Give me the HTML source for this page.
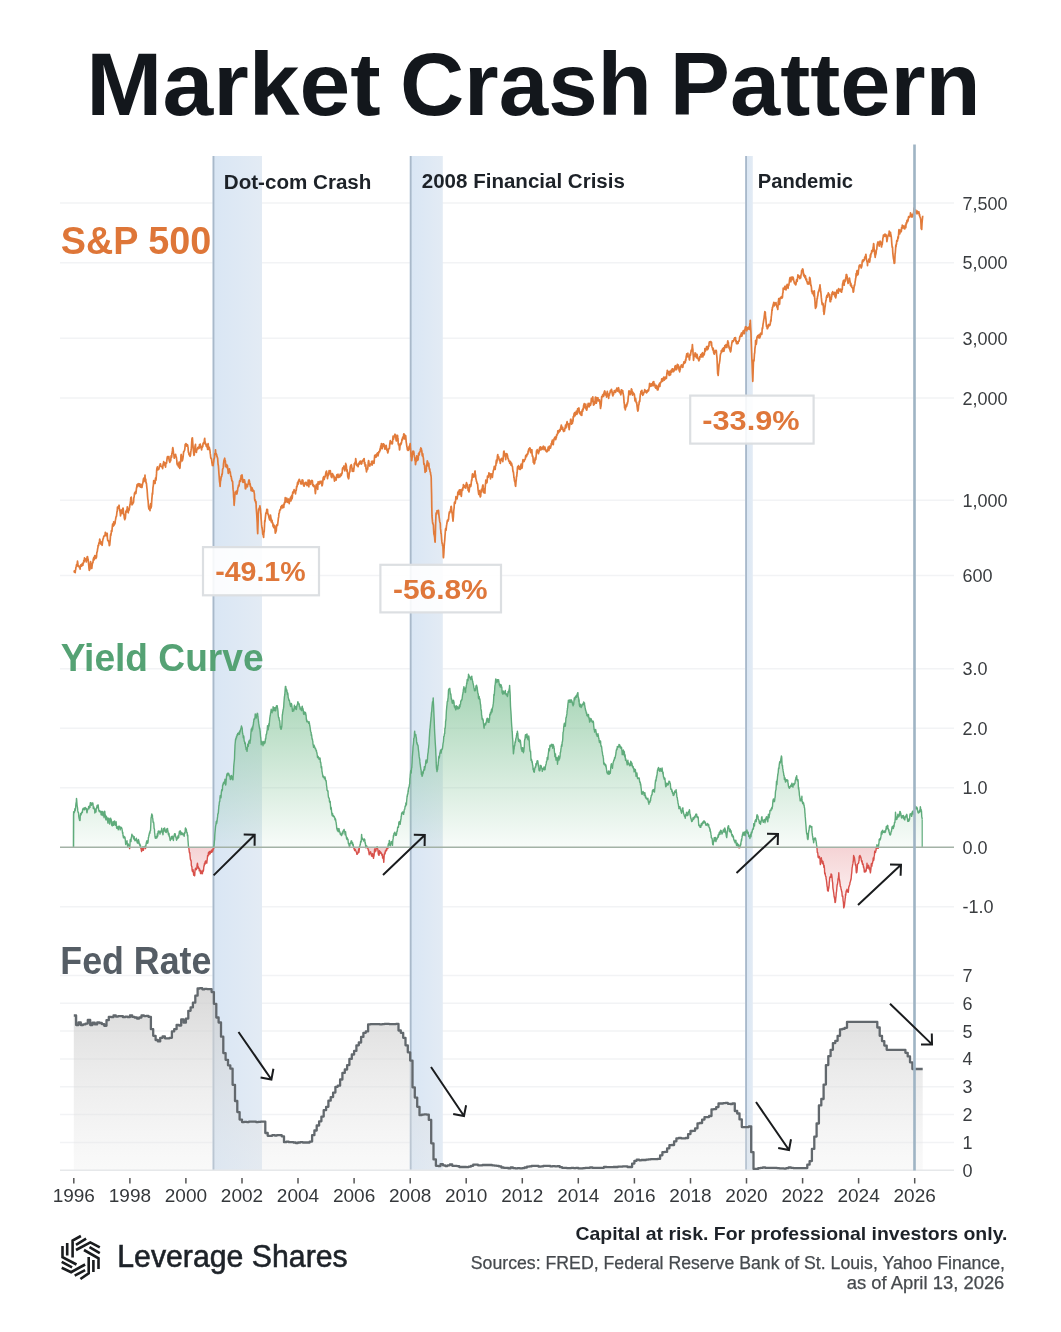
<!DOCTYPE html>
<html><head><meta charset="utf-8"><title>Market Crash Pattern</title>
<style>
html,body{margin:0;padding:0;background:#fff;width:1061px;height:1332px;overflow:hidden}
svg{display:block;will-change:transform}
text{font-family:"Liberation Sans",sans-serif}
</style></head><body>
<svg width="1061" height="1332" viewBox="0 0 1061 1332">
<rect width="1061" height="1332" fill="#fff"/>
<line x1="60" x2="954" y1="203.0" y2="203.0" stroke="#f2f3f5" stroke-width="1.5"/>
<line x1="60" x2="954" y1="262.8" y2="262.8" stroke="#f2f3f5" stroke-width="1.5"/>
<line x1="60" x2="954" y1="338.2" y2="338.2" stroke="#f2f3f5" stroke-width="1.5"/>
<line x1="60" x2="954" y1="398.0" y2="398.0" stroke="#f2f3f5" stroke-width="1.5"/>
<line x1="60" x2="954" y1="500.2" y2="500.2" stroke="#f2f3f5" stroke-width="1.5"/>
<line x1="60" x2="954" y1="575.5" y2="575.5" stroke="#f2f3f5" stroke-width="1.5"/>
<line x1="60" x2="954" y1="668.7" y2="668.7" stroke="#f2f3f5" stroke-width="1.5"/>
<line x1="60" x2="954" y1="728.2" y2="728.2" stroke="#f2f3f5" stroke-width="1.5"/>
<line x1="60" x2="954" y1="787.7" y2="787.7" stroke="#f2f3f5" stroke-width="1.5"/>
<line x1="60" x2="954" y1="906.7" y2="906.7" stroke="#f2f3f5" stroke-width="1.5"/>
<line x1="60" x2="954" y1="1142.5" y2="1142.5" stroke="#f2f3f5" stroke-width="1.5"/>
<line x1="60" x2="954" y1="1114.6" y2="1114.6" stroke="#f2f3f5" stroke-width="1.5"/>
<line x1="60" x2="954" y1="1086.8" y2="1086.8" stroke="#f2f3f5" stroke-width="1.5"/>
<line x1="60" x2="954" y1="1058.9" y2="1058.9" stroke="#f2f3f5" stroke-width="1.5"/>
<line x1="60" x2="954" y1="1031.1" y2="1031.1" stroke="#f2f3f5" stroke-width="1.5"/>
<line x1="60" x2="954" y1="1003.3" y2="1003.3" stroke="#f2f3f5" stroke-width="1.5"/>
<line x1="60" x2="954" y1="975.4" y2="975.4" stroke="#f2f3f5" stroke-width="1.5"/>
<defs><linearGradient id="bg" x1="0" y1="0" x2="1" y2="0"><stop offset="0" stop-color="#d9e6f4"/><stop offset="1" stop-color="#e3ebf4"/></linearGradient></defs>
<rect x="212.6" y="156" width="49.4" height="1014" fill="url(#bg)"/>
<rect x="212.6" y="156" width="1.8" height="1014" fill="#a9b9ca"/>
<rect x="409.8" y="156" width="33.0" height="1014" fill="url(#bg)"/>
<rect x="409.8" y="156" width="1.8" height="1014" fill="#a9b9ca"/>
<rect x="745.2" y="156" width="7.6" height="1014" fill="url(#bg)"/>
<rect x="745.2" y="156" width="1.8" height="1014" fill="#a9b9ca"/>
<path d="M73.8 571.9 L74 572 L74.3 570.9 L74.5 571 L74.7 571.3 L75 572.5 L75.2 572.6 L75.4 570.5 L75.7 569.6 L75.9 567.6 L76.1 567 L76.4 565.6 L76.6 564.5 L76.8 566.5 L77.1 564.3 L77.3 562.8 L77.5 561.2 L77.8 563.2 L78 565.3 L78.2 566 L78.5 566 L78.7 566 L78.9 566.6 L79.2 566.2 L79.4 567.7 L79.6 567.7 L79.9 567.5 L80.1 569.1 L80.3 566.8 L80.6 566.3 L80.8 564.9 L81 565.4 L81.3 566.1 L81.5 566.2 L81.7 565.9 L82 564.4 L82.2 563.6 L82.4 563.8 L82.7 564.9 L82.9 565.3 L83.1 562.8 L83.4 563.2 L83.6 561.9 L83.8 560.3 L84.1 561.8 L84.3 560.9 L84.5 557.8 L84.8 560.2 L85 559.8 L85.2 559.1 L85.5 559.5 L85.7 559 L85.9 559.4 L86.2 562 L86.4 561 L86.6 560.2 L86.9 558.9 L87.1 556.9 L87.3 556.6 L87.6 556.7 L87.8 559 L88.1 559.1 L88.3 561.1 L88.5 562.8 L88.8 565.9 L89 568.5 L89.3 570.4 L89.5 569.3 L89.7 569.7 L89.9 569.3 L90.2 566 L90.4 563.1 L90.6 561.7 L90.9 564.2 L91.1 567.7 L91.3 566.6 L91.6 567.3 L91.8 568.5 L92 566.4 L92.3 564.1 L92.5 563.3 L92.7 563 L93 562.3 L93.2 559.8 L93.4 558.9 L93.7 558.1 L93.9 557.3 L94.1 559.9 L94.4 557.9 L94.6 556.4 L94.8 555.6 L95.1 558.1 L95.3 558.4 L95.5 556.3 L95.8 558.5 L96 558.1 L96.2 555.7 L96.5 557.2 L96.7 553.8 L96.9 552.2 L97.2 551.8 L97.4 550.6 L97.6 548.8 L97.9 548 L98.1 545.4 L98.3 545.8 L98.6 545.8 L98.8 543.4 L99 542.7 L99.3 543.5 L99.5 541.3 L99.7 539.1 L100 540 L100.2 542.5 L100.4 543 L100.7 543.4 L100.9 544.1 L101.1 542.1 L101.4 544 L101.6 542.1 L101.8 544.4 L102.1 545.3 L102.3 543.9 L102.5 541.8 L102.8 540 L103 539.1 L103.2 538.5 L103.5 537.9 L103.7 536.6 L103.9 536.5 L104.2 535.7 L104.4 535.4 L104.6 536 L104.9 535.4 L105.1 535.1 L105.3 532.4 L105.6 532.5 L105.8 533.8 L106 535 L106.3 535.7 L106.5 534.8 L106.7 535.9 L107 535.8 L107.2 533.3 L107.4 538 L107.7 540.4 L107.9 540.5 L108.1 540.4 L108.4 540.6 L108.6 541.8 L108.8 541.3 L109 542.8 L109.3 545.7 L109.5 543.8 L109.7 545.2 L109.9 542.9 L110.2 539.9 L110.4 537.1 L110.7 534.1 L110.9 535.3 L111.2 532.9 L111.4 530.7 L111.6 531.9 L111.9 531.4 L112.1 529.2 L112.3 527.2 L112.6 524.2 L112.8 526.3 L113 526.2 L113.3 526.2 L113.5 524.5 L113.7 521.9 L114 525.4 L114.2 522.8 L114.4 524.3 L114.7 522.3 L114.9 523.9 L115.1 522.8 L115.4 520 L115.6 519.4 L115.8 518.2 L116.1 516.7 L116.3 516.2 L116.5 516.1 L116.8 513.4 L117 511.5 L117.2 511.7 L117.5 507 L117.7 508.7 L117.9 506.9 L118.2 507.1 L118.4 507.1 L118.6 506.2 L118.9 506 L119.1 505.2 L119.3 507.9 L119.6 510.5 L119.8 509.7 L120 511.5 L120.3 513.3 L120.5 515.9 L120.8 513.8 L121 512.5 L121.2 510.1 L121.5 511.6 L121.7 511.5 L121.9 513.3 L122.2 512 L122.4 509.4 L122.6 510.8 L122.9 508.2 L123.1 508.1 L123.3 509.9 L123.6 514.6 L123.8 513.9 L124.1 515.5 L124.3 518 L124.6 518.9 L124.8 519.7 L125 517.1 L125.3 518.5 L125.5 516.4 L125.7 513.7 L125.9 511.1 L126.2 511.2 L126.4 512.1 L126.6 510.2 L126.8 509.8 L127.1 509.4 L127.3 506.8 L127.5 507 L127.8 510.2 L128 510.3 L128.2 512.8 L128.5 510.9 L128.7 509.9 L128.9 510.4 L129.2 509.9 L129.4 508 L129.6 507.4 L129.9 504.7 L130.1 504.7 L130.3 502.9 L130.6 500.4 L130.8 497.7 L131 498.8 L131.3 497.2 L131.5 500.2 L131.7 501.9 L132 505 L132.2 503.2 L132.4 504.4 L132.7 503.7 L132.9 503.3 L133.1 502.5 L133.4 502.7 L133.6 501.6 L133.8 498 L134.1 497.1 L134.3 495.5 L134.5 493.1 L134.8 492.6 L135 493.9 L135.2 493.9 L135.5 491.4 L135.7 493.2 L135.9 493.4 L136.2 490.9 L136.4 488.8 L136.6 488 L136.9 485.9 L137.1 484.5 L137.3 485.2 L137.6 486.6 L137.8 486.5 L138 483.9 L138.3 483.7 L138.5 484 L138.7 484.1 L139 485.5 L139.2 484.5 L139.4 485.4 L139.7 483.8 L139.9 486.6 L140.1 485 L140.4 485 L140.6 487.2 L140.8 485 L141.1 484.4 L141.3 487 L141.5 487.4 L141.8 486.7 L142 487.4 L142.2 486 L142.5 484.6 L142.7 483.4 L142.9 482.8 L143.2 480.5 L143.4 479.3 L143.6 478.4 L143.9 481.6 L144.1 480 L144.3 477.6 L144.5 477.9 L144.8 478.4 L145 475 L145.2 479.8 L145.5 481 L145.7 479.1 L146 482.5 L146.2 483.4 L146.4 483.1 L146.7 486.2 L146.9 488.1 L147.1 489.5 L147.4 493.8 L147.6 496.8 L147.8 499.1 L148.1 500.6 L148.3 503.5 L148.5 506.7 L148.8 508.4 L149 509.1 L149.3 507.7 L149.5 507.7 L149.8 509.1 L150 510.6 L150.2 506.4 L150.5 504.6 L150.7 503.7 L151 508 L151.2 507.1 L151.4 506.4 L151.7 501.4 L151.9 498.4 L152.1 496.3 L152.3 493.2 L152.6 494.1 L152.8 490.2 L153 487.4 L153.2 486.3 L153.5 483.8 L153.7 480.6 L153.9 482.5 L154.2 483.3 L154.4 482.5 L154.6 481.9 L154.9 482.3 L155.1 483.5 L155.3 479.8 L155.6 477.8 L155.8 478.8 L156 480.1 L156.3 476.4 L156.5 473.9 L156.7 470 L157 467.8 L157.2 468.3 L157.4 466.9 L157.7 469.5 L157.9 469.8 L158.1 469.6 L158.4 468.4 L158.6 469.3 L158.8 469.2 L159.1 468.1 L159.3 467.2 L159.5 465.8 L159.8 465.2 L160 465.4 L160.2 463.8 L160.5 463.8 L160.7 465.2 L160.9 466.3 L161.2 466.4 L161.4 466.6 L161.6 466.4 L161.9 466.5 L162.1 466.3 L162.3 466.6 L162.6 468.7 L162.8 467.3 L163 464.9 L163.3 463.5 L163.5 463.1 L163.7 461.7 L164 462.6 L164.2 465 L164.4 464.2 L164.7 465 L164.9 463.1 L165.1 463.6 L165.4 466.6 L165.6 467 L165.8 463.1 L166.1 462.5 L166.3 463.4 L166.5 463.4 L166.8 461.2 L167 459.1 L167.2 457.6 L167.5 456.5 L167.7 456.7 L167.9 458 L168.2 458.4 L168.4 457.1 L168.6 456.8 L168.9 456.5 L169.1 459.6 L169.3 461.1 L169.6 461.3 L169.8 462.3 L170 461.2 L170.3 460.8 L170.5 459.8 L170.7 460.8 L171 457.2 L171.2 455.7 L171.4 456.7 L171.7 457.1 L171.9 453.4 L172.1 453.2 L172.4 450.9 L172.6 448.5 L172.8 447.6 L173 448.7 L173.3 451.1 L173.5 453.2 L173.8 454.1 L174 455.6 L174.2 458.2 L174.5 456.8 L174.7 455.8 L174.9 455.4 L175.2 455.3 L175.4 455.6 L175.6 454.4 L175.9 456.1 L176.1 457 L176.3 456.9 L176.6 459.2 L176.8 460.2 L177 463.6 L177.3 464.9 L177.5 464.2 L177.7 463.5 L178 463.8 L178.2 464.3 L178.4 466.8 L178.7 464.1 L178.9 463.4 L179.1 462.2 L179.4 464.1 L179.6 464.9 L179.8 468.4 L180 467.6 L180.3 462.8 L180.5 462.6 L180.8 459.3 L181 455 L181.2 454.5 L181.5 457.1 L181.7 458.4 L181.9 459.1 L182.2 461 L182.4 460.5 L182.6 459.8 L182.9 458.3 L183.1 456.8 L183.4 454 L183.6 451.7 L183.8 452 L184.1 451 L184.3 450.8 L184.5 450.7 L184.8 449 L185 447.1 L185.2 444.4 L185.5 445.2 L185.7 445.3 L185.9 443.5 L186.2 443.9 L186.4 444.6 L186.6 444.8 L186.9 446.2 L187.1 445.2 L187.3 444.7 L187.6 445 L187.8 446.2 L188 446.7 L188.3 451.2 L188.5 452.6 L188.7 452.4 L189 454.6 L189.2 454.1 L189.4 453.7 L189.7 455.7 L189.9 456 L190.1 456.3 L190.4 455.4 L190.6 454.2 L190.8 451.8 L191 450.7 L191.3 448.4 L191.5 446 L191.7 442.3 L191.9 439.4 L192.1 438.1 L192.4 437.8 L192.6 440.4 L192.8 443.6 L193.1 447.3 L193.3 449.5 L193.6 452.3 L193.8 454.1 L194 455.3 L194.3 454.8 L194.5 450 L194.8 449.4 L195 446.5 L195.3 445.2 L195.5 444.4 L195.7 449.3 L196 451.6 L196.2 452.2 L196.4 452.3 L196.7 449.6 L196.9 450.1 L197.1 449.1 L197.4 448.9 L197.6 448.4 L197.8 447.5 L198.1 447.8 L198.3 447 L198.5 448.7 L198.8 446.8 L199 448.4 L199.2 448 L199.5 444.6 L199.7 444.9 L199.9 444.9 L200.2 444 L200.4 444.9 L200.6 447.2 L200.9 447.8 L201.1 447.9 L201.3 447.7 L201.6 449.9 L201.8 448.1 L202 446.4 L202.3 447.3 L202.5 446.4 L202.8 446.5 L203 443.7 L203.2 444.2 L203.5 442.6 L203.7 442.8 L204 443.4 L204.2 441.7 L204.5 439 L204.7 438.4 L204.9 441.3 L205.1 441.7 L205.4 443.5 L205.6 444.7 L205.8 444 L206 443.9 L206.3 446.5 L206.5 444.5 L206.7 446.3 L206.9 446.7 L207.2 447.4 L207.4 447.1 L207.6 449.5 L207.9 446.2 L208.1 443.6 L208.3 445.2 L208.6 447.2 L208.8 449.5 L209 447.2 L209.3 447.5 L209.5 448.5 L209.7 449.8 L210 450.8 L210.2 453.4 L210.4 454.2 L210.7 457.3 L210.9 458.2 L211.1 458.6 L211.4 458.6 L211.6 459.8 L211.9 462.5 L212.1 463.5 L212.4 465.5 L212.6 464.2 L212.9 464.2 L213.1 465.6 L213.3 463.8 L213.5 462.4 L213.7 461.3 L213.9 459.2 L214.2 458.7 L214.4 457.9 L214.6 456.9 L214.8 453.5 L215.1 454.6 L215.3 454.5 L215.5 449.9 L215.7 452.9 L216 453.8 L216.2 453.4 L216.4 454.3 L216.7 454.8 L216.9 456.3 L217.2 456.8 L217.4 457.9 L217.6 457.8 L217.9 462 L218.1 464.5 L218.4 465.7 L218.6 468.5 L218.9 473.3 L219.1 475.5 L219.4 479.7 L219.6 481.9 L219.9 483.9 L220.1 486.5 L220.3 483.2 L220.5 480.9 L220.7 480.7 L221 478.3 L221.2 476.7 L221.4 476.8 L221.7 476.1 L221.9 474.1 L222.1 474.7 L222.4 472.8 L222.6 469 L222.8 469 L223.1 468 L223.3 467.4 L223.5 463.9 L223.7 462.4 L224 460 L224.2 460.1 L224.4 459.2 L224.7 458.2 L224.9 460.1 L225.1 460.3 L225.4 461.3 L225.6 466.6 L225.9 465.5 L226.1 465.8 L226.3 465.1 L226.6 464.6 L226.8 467.2 L227 467.6 L227.3 465.3 L227.5 466.3 L227.7 468.1 L228 470.4 L228.2 473.1 L228.4 473.3 L228.7 471.3 L228.9 471.3 L229.1 471.7 L229.4 468.8 L229.6 470.4 L229.8 472.2 L230.1 472.1 L230.3 472 L230.5 474 L230.8 476.3 L231 476.3 L231.2 476.3 L231.5 478.8 L231.7 479.5 L231.9 480.8 L232.2 480.5 L232.4 481.1 L232.6 481.6 L232.9 486.7 L233.1 489.4 L233.4 491.6 L233.6 496.6 L233.9 499.6 L234.1 505.3 L234.3 503.2 L234.6 500 L234.8 495.6 L235 494.3 L235.2 493.4 L235.4 492.1 L235.7 493.5 L235.9 492.5 L236.1 492.6 L236.4 491 L236.6 491.9 L236.8 494.1 L237.1 493 L237.3 491.6 L237.5 491.2 L237.8 488.4 L238 487.5 L238.2 487.2 L238.5 485.1 L238.7 486.3 L238.9 486.1 L239.2 484.8 L239.4 482.1 L239.6 481 L239.9 480.5 L240.1 481.6 L240.4 481.1 L240.6 478.4 L240.8 479.5 L241.1 475.7 L241.3 476.7 L241.5 476.7 L241.8 476.4 L242 474.8 L242.3 476.8 L242.5 481.6 L242.7 482 L242.9 482 L243.2 482.4 L243.4 479.5 L243.6 480.6 L243.9 481.5 L244.1 481.4 L244.3 482.2 L244.5 479.8 L244.8 482 L245 482.9 L245.3 488.8 L245.5 487.8 L245.7 488.7 L246 487.4 L246.2 484.2 L246.4 484.5 L246.7 485.2 L246.9 485.5 L247.1 486.3 L247.4 486.8 L247.6 485.2 L247.8 484.6 L248.1 483.9 L248.3 483.7 L248.5 481.6 L248.8 480.3 L249 480 L249.2 480.1 L249.5 481.6 L249.7 484.7 L249.9 483.5 L250.2 484 L250.4 486.8 L250.6 486.2 L250.9 486.9 L251.1 490.6 L251.3 489.3 L251.6 489 L251.8 487.8 L252 487.8 L252.3 488.3 L252.5 491.1 L252.7 489.8 L253 490 L253.2 490.8 L253.4 490.5 L253.7 490.6 L253.9 490.8 L254.1 492.6 L254.4 493.9 L254.6 498.6 L254.8 500.5 L255.1 500.7 L255.3 499.8 L255.5 501.6 L255.8 503 L256 501.7 L256.2 507.4 L256.5 511.5 L256.7 514 L257 519.2 L257.2 522.4 L257.4 528.8 L257.7 533.7 L257.9 527.8 L258.1 521.6 L258.3 513.8 L258.6 509.1 L258.8 509.5 L259 509.6 L259.2 508.1 L259.5 509 L259.7 507.4 L259.9 505.8 L260.2 508 L260.4 508.9 L260.7 513.1 L260.9 514 L261.1 518.6 L261.4 521.9 L261.6 524.9 L261.9 527.6 L262.1 528.3 L262.4 530.3 L262.6 533 L262.8 534.3 L263.1 533.8 L263.3 535.9 L263.6 537.4 L263.8 533.7 L264 531.5 L264.2 531.8 L264.5 526 L264.7 520.7 L264.9 522.2 L265.1 520.5 L265.3 518.1 L265.6 515.4 L265.8 513.3 L266.1 512.7 L266.3 513.3 L266.5 512.1 L266.8 509.3 L267 510.1 L267.2 510.7 L267.5 509.6 L267.7 513 L267.9 513.7 L268.2 514.7 L268.4 514.2 L268.6 515.6 L268.9 517.2 L269.1 518.1 L269.3 518.5 L269.6 519.8 L269.8 520 L270 519.1 L270.2 517.5 L270.5 515 L270.7 516.6 L270.9 517.6 L271.2 522 L271.4 519.2 L271.6 520.7 L271.9 521.1 L272.1 520.6 L272.3 523.1 L272.6 522.7 L272.8 523 L273 526.2 L273.3 526.1 L273.5 524.4 L273.7 527.7 L274 526.7 L274.2 526.7 L274.4 526.2 L274.7 525.7 L274.9 527.1 L275.1 531 L275.3 533.1 L275.6 532.9 L275.8 530.8 L276.1 531.2 L276.3 530.5 L276.5 526.8 L276.8 525.2 L277 524.5 L277.3 525.3 L277.5 525.5 L277.7 524.1 L278 521.5 L278.2 519.8 L278.4 517.9 L278.7 516.9 L278.9 513.6 L279.1 513.2 L279.4 513 L279.6 510.8 L279.8 510 L280.1 509.8 L280.3 510 L280.5 509.7 L280.8 508 L281 506.7 L281.2 508 L281.5 506.6 L281.7 505.6 L281.9 507.5 L282.2 506.4 L282.4 507.1 L282.6 507.9 L282.9 506.8 L283.1 504.9 L283.3 506.3 L283.6 505.8 L283.8 507.5 L284 503.9 L284.3 504.5 L284.5 502.3 L284.7 503.1 L285 501.5 L285.2 497.7 L285.4 501.6 L285.7 502 L285.9 500.9 L286.1 500.8 L286.4 501.7 L286.6 498.2 L286.8 498.1 L287.1 500.8 L287.3 499.5 L287.5 502.3 L287.8 500.4 L288 501.4 L288.2 501.2 L288.5 499.2 L288.7 499 L288.9 501 L289.2 503.6 L289.4 501.4 L289.6 500 L289.9 501.1 L290.1 499.4 L290.3 498.4 L290.6 497.1 L290.8 500.5 L291 500.8 L291.3 498.9 L291.5 497.2 L291.7 495.3 L292 498.8 L292.2 498.1 L292.4 496.8 L292.7 492.2 L292.9 493.3 L293.1 493.4 L293.4 492.9 L293.6 491.2 L293.8 491.8 L294.1 489.7 L294.3 490.8 L294.5 490.2 L294.8 490.9 L295 490.5 L295.2 491.4 L295.5 493.8 L295.7 491.9 L295.9 490.4 L296.2 490.3 L296.4 489 L296.6 486.4 L296.9 487 L297.1 486.2 L297.3 484.4 L297.6 482.5 L297.8 482.1 L298 484.5 L298.3 482 L298.5 480.9 L298.7 480.3 L299 480.2 L299.2 479.3 L299.4 479.4 L299.7 480.5 L299.9 481.2 L300.1 481.6 L300.4 482 L300.6 483.6 L300.8 482.2 L301.1 484 L301.3 482.6 L301.5 483.9 L301.8 483 L302 480.5 L302.2 479.8 L302.5 480.6 L302.7 480.2 L302.9 480.3 L303.2 483.5 L303.4 484.8 L303.6 484.9 L303.9 486 L304.1 486.2 L304.3 485.3 L304.6 484.4 L304.8 483.3 L305 482.7 L305.3 482.7 L305.5 482.3 L305.7 482.4 L306 482.4 L306.2 482.3 L306.4 484.7 L306.7 484.8 L306.9 484.4 L307.1 485.6 L307.4 485.2 L307.6 484 L307.9 484 L308.1 480.2 L308.3 484.1 L308.6 484.1 L308.8 486.8 L309 484.8 L309.3 480.2 L309.5 483.9 L309.7 483.4 L310 482.1 L310.2 482.3 L310.4 481 L310.7 484.3 L310.9 482.5 L311.1 481.5 L311.4 481.1 L311.6 481.7 L311.8 480.3 L312.1 480.7 L312.3 480.6 L312.5 481.7 L312.8 485.5 L313 485.8 L313.2 485.7 L313.5 484.7 L313.7 486.4 L313.9 486.7 L314.2 485.9 L314.4 485.9 L314.6 486.8 L314.9 486.6 L315.1 491 L315.4 493.6 L315.6 491.6 L315.8 488.6 L316 486.5 L316.3 484.6 L316.5 485 L316.7 485.6 L317 484 L317.2 485.2 L317.4 488 L317.7 489.4 L317.9 485.1 L318.1 481.8 L318.4 482.7 L318.6 483.7 L318.8 483.1 L319.1 484.1 L319.3 481.9 L319.5 481.9 L319.8 483.5 L320 481.3 L320.2 482.1 L320.5 481.6 L320.7 481.5 L320.9 481.8 L321.2 481.2 L321.4 482.2 L321.6 483.5 L321.9 485.4 L322.1 485.8 L322.3 485.3 L322.6 483.7 L322.8 481.9 L323 479.3 L323.3 477.5 L323.5 477.1 L323.7 476.5 L324 479.6 L324.2 479.5 L324.4 478.4 L324.7 477.2 L324.9 477 L325.1 476.9 L325.4 475.1 L325.6 474.7 L325.8 473.1 L326.1 471.8 L326.3 472.3 L326.5 471.1 L326.8 472.9 L327 474.3 L327.2 476.4 L327.5 478.6 L327.7 476.9 L327.9 474.9 L328.2 475.7 L328.4 475.7 L328.6 473.8 L328.9 472.5 L329.1 470.6 L329.3 472.7 L329.6 473.8 L329.8 473.1 L330 470.9 L330.3 470.7 L330.5 472.2 L330.7 472.8 L331 474.6 L331.2 476.8 L331.4 475.1 L331.7 476.9 L331.9 477.6 L332.1 474.8 L332.4 473.6 L332.6 473.8 L332.8 475.6 L333.1 475.7 L333.3 475 L333.5 476 L333.8 475.9 L334 477.7 L334.2 478.8 L334.5 481.1 L334.7 479.9 L334.9 477.3 L335.2 479.1 L335.4 478.7 L335.6 478.4 L335.9 479.5 L336.1 480.1 L336.3 479 L336.6 475.9 L336.8 475 L337 474.6 L337.3 477.3 L337.5 474.3 L337.7 474.3 L338 474.2 L338.2 475.9 L338.4 475.9 L338.7 477.5 L338.9 477.3 L339.2 476.4 L339.4 476.2 L339.6 475.6 L339.9 476.9 L340.1 474.4 L340.3 474.2 L340.6 476 L340.8 475 L341 475 L341.3 475.4 L341.5 474.8 L341.7 473.1 L342 473.7 L342.2 472.7 L342.4 469.2 L342.7 467.9 L342.9 468 L343.1 467.6 L343.4 467.6 L343.6 467.5 L343.8 466.1 L344.1 466 L344.3 469.8 L344.5 469.6 L344.8 470.9 L345 468.9 L345.2 468.9 L345.5 467.7 L345.7 463.3 L345.9 464 L346.2 464.9 L346.4 466.3 L346.6 469.2 L346.9 471.3 L347.1 469.8 L347.3 471.1 L347.6 474.4 L347.8 477.1 L348 476.4 L348.3 478 L348.5 478.8 L348.7 478.6 L349 476.7 L349.2 473.8 L349.4 472.4 L349.7 472.1 L349.9 471.6 L350.1 468.6 L350.4 466.1 L350.6 466.5 L350.8 465.6 L351.1 465 L351.3 464.7 L351.5 465.4 L351.8 467.4 L352 468.5 L352.2 471.3 L352.5 469.6 L352.7 468.9 L352.9 471.2 L353.2 469.1 L353.4 468 L353.6 471.3 L353.9 468.6 L354.1 467.5 L354.3 463.6 L354.6 465.1 L354.8 463.7 L355 462.5 L355.3 461.7 L355.5 460.9 L355.7 458.7 L356 460.6 L356.2 462 L356.4 463.8 L356.7 464.7 L356.9 465.7 L357.1 465.1 L357.4 464.7 L357.6 464.7 L357.8 465.8 L358.1 466.6 L358.3 465 L358.5 463.8 L358.8 463.7 L359 464.5 L359.2 462.4 L359.5 463.7 L359.7 463 L359.9 461.4 L360.2 462.2 L360.4 461.2 L360.6 463.4 L360.9 462 L361.1 462.1 L361.3 464.2 L361.6 462.6 L361.8 463.6 L362 461.1 L362.3 461.7 L362.5 461.5 L362.7 460.6 L363 460.7 L363.2 459.8 L363.4 460.3 L363.7 459.1 L363.9 459 L364.2 458.6 L364.4 463.6 L364.6 462.2 L364.9 462.6 L365.1 466.1 L365.3 466.4 L365.6 466.2 L365.8 464.9 L366 469.2 L366.2 469.2 L366.5 471.9 L366.7 470.5 L366.9 470.1 L367.2 468.4 L367.4 468.3 L367.6 469.5 L367.9 467.1 L368.1 464.9 L368.3 462.1 L368.6 460.5 L368.8 461.1 L369 463.5 L369.3 464.2 L369.5 465 L369.8 466.1 L370 464.8 L370.2 464 L370.5 464.1 L370.7 463.9 L370.9 464.3 L371.2 464 L371.4 462.9 L371.6 461.4 L371.9 462.6 L372.1 465.1 L372.3 462.9 L372.6 462.8 L372.8 461 L373 462.9 L373.3 462.6 L373.5 461.8 L373.7 463.3 L374 463.3 L374.2 461.4 L374.4 458.8 L374.7 455.4 L374.9 456 L375.1 457.5 L375.4 456.7 L375.6 455.2 L375.8 454.9 L376.1 457.1 L376.3 455.9 L376.5 454.6 L376.8 453.8 L377 454.6 L377.2 454.1 L377.5 452.9 L377.7 453.4 L377.9 456 L378.2 455 L378.4 453.8 L378.6 453.4 L378.9 451.5 L379.1 452 L379.3 451.7 L379.6 451.8 L379.8 450.5 L380 448.8 L380.3 450.1 L380.5 447.7 L380.7 446.1 L381 445.7 L381.2 445.7 L381.4 443.7 L381.7 445 L381.9 446 L382.1 448.7 L382.4 447.8 L382.6 445.6 L382.8 444.7 L383.1 443.9 L383.3 444.2 L383.5 443.8 L383.8 446.1 L384 444.3 L384.2 444.9 L384.5 446.6 L384.7 447.8 L384.9 449.2 L385.2 447.8 L385.4 446 L385.6 448.2 L385.9 446.7 L386.1 445.3 L386.3 446.2 L386.6 448.6 L386.8 449.8 L387 450.6 L387.3 449.7 L387.5 450 L387.7 453 L388 451 L388.2 451.9 L388.4 448.8 L388.7 449.1 L388.9 448.6 L389.1 448.4 L389.4 448.5 L389.6 445.7 L389.8 443.6 L390.1 441.9 L390.3 440.7 L390.5 442.5 L390.8 442.7 L391 442.8 L391.2 443.7 L391.5 442.2 L391.7 441.9 L391.9 441.6 L392.2 441.9 L392.4 443.8 L392.6 441.4 L392.9 437.8 L393.1 436 L393.3 436.2 L393.6 439.1 L393.8 437.4 L394 436.4 L394.3 436.9 L394.5 436.4 L394.7 435 L395 434.2 L395.2 435.9 L395.4 435.2 L395.7 434.9 L395.9 438.4 L396.1 440.1 L396.4 440.9 L396.6 439.5 L396.8 437 L397.1 437.2 L397.3 438.9 L397.5 435.3 L397.8 437.7 L398 438.4 L398.2 443.6 L398.5 444.9 L398.7 444.5 L399 444.1 L399.3 447.4 L399.5 449.9 L399.7 449.4 L399.9 447 L400.2 444.5 L400.4 443.6 L400.6 445 L400.8 443 L401.1 444 L401.3 443.2 L401.5 443 L401.8 440.6 L402 439 L402.3 440 L402.5 439.6 L402.7 437 L403 438.1 L403.2 437.6 L403.5 435.9 L403.7 434.1 L403.9 433.8 L404.2 436.4 L404.4 438.9 L404.6 439 L404.8 438.8 L405 435.2 L405.3 437 L405.5 435.7 L405.7 435.7 L406 439.6 L406.2 442.2 L406.4 443.2 L406.7 445.3 L406.9 446.8 L407.1 447.3 L407.4 449.8 L407.6 448.9 L407.8 449.7 L408.1 450.4 L408.3 449.4 L408.5 450.1 L408.8 449.5 L409 446.7 L409.2 446.4 L409.5 446.5 L409.7 445.1 L409.9 445.5 L410.2 443.6 L410.4 448.2 L410.6 449.8 L410.9 453.2 L411.1 457 L411.4 456.7 L411.6 460.7 L411.8 460.4 L412.1 457.4 L412.3 453.1 L412.5 452.8 L412.7 452.1 L413 451.1 L413.2 452.6 L413.4 454.1 L413.7 451.4 L413.9 452.4 L414.1 454.4 L414.4 456.7 L414.6 457.3 L414.8 458 L415 460.8 L415.3 461 L415.5 464.6 L415.7 463.3 L416 460.5 L416.2 461.6 L416.4 459.4 L416.7 455.9 L416.9 457.6 L417.2 458.9 L417.4 459 L417.6 460.5 L417.9 458.2 L418.1 459.6 L418.3 457.2 L418.6 453.3 L418.8 454.4 L419 453.3 L419.3 454.9 L419.5 452.1 L419.7 452.3 L419.9 451.9 L420.2 450.9 L420.4 449.1 L420.6 448.8 L420.8 447.9 L421.1 448.8 L421.3 448.7 L421.6 450.6 L421.8 450.6 L422.1 454.4 L422.3 455.8 L422.5 453.4 L422.8 453.9 L423 456.6 L423.2 456.9 L423.5 459.1 L423.7 462.5 L423.9 464.3 L424.2 463.8 L424.4 464.6 L424.6 466.2 L424.8 469.2 L425.1 472.3 L425.3 471.6 L425.5 469.4 L425.8 469.1 L426 470.7 L426.3 471.1 L426.5 465.3 L426.8 465.2 L427 463.3 L427.3 460.9 L427.5 461.3 L427.7 461.9 L427.9 464.2 L428.2 466 L428.4 463.4 L428.6 464.7 L428.8 463.4 L429.1 467.3 L429.3 468.8 L429.5 469.5 L429.8 468.9 L430 471.8 L430.2 471.9 L430.5 472.4 L430.7 474.7 L430.9 475 L431.2 477.5 L431.4 487 L431.6 495.1 L431.8 507.6 L432 515.9 L432.2 518.4 L432.5 521.7 L432.7 523.3 L432.9 523 L433.1 524.5 L433.4 525 L433.6 529.5 L433.9 534.1 L434.1 534.2 L434.4 536.1 L434.6 537.1 L434.9 541 L435.1 542.2 L435.4 533.7 L435.6 524.5 L435.9 516.4 L436.1 513.1 L436.3 512.8 L436.6 513 L436.8 514 L437 510.8 L437.3 510.6 L437.5 510.9 L437.8 511.1 L438 510.5 L438.2 511.2 L438.5 510.3 L438.7 512.6 L438.9 514.8 L439.2 517.6 L439.4 518.8 L439.6 520.8 L439.8 521.9 L440.1 522.8 L440.3 523.6 L440.5 528.4 L440.8 530.7 L441 533.4 L441.2 533.5 L441.5 537.5 L441.7 540 L441.9 541.9 L442.2 543.9 L442.4 543.7 L442.6 545.8 L442.9 545.6 L443.1 550.9 L443.3 556.8 L443.5 557.7 L443.8 553.7 L444 549.6 L444.2 546.2 L444.5 542.1 L444.7 540.7 L445 535.9 L445.2 533.5 L445.4 530.2 L445.7 528.3 L445.9 529.8 L446.1 530.2 L446.4 526.7 L446.6 525.2 L446.8 524.2 L447.1 522.1 L447.3 521 L447.5 520.2 L447.8 520.7 L448 521.1 L448.2 519.3 L448.5 519.8 L448.7 517.4 L448.9 515.1 L449.2 512.9 L449.4 511.8 L449.6 512.3 L449.9 512.7 L450.1 511.2 L450.3 510.7 L450.6 509.1 L450.8 508.4 L451 506.5 L451.3 506.4 L451.5 507.9 L451.8 511.8 L452 512.6 L452.3 514.1 L452.5 516.6 L452.8 519.2 L453 521.2 L453.2 518.6 L453.4 517 L453.7 511.1 L453.9 509.5 L454.1 508.1 L454.3 504 L454.5 502.1 L454.8 501.9 L455 502.5 L455.2 503.5 L455.5 501.1 L455.7 499.5 L455.9 496.7 L456.2 497.3 L456.4 497.2 L456.6 498.7 L456.9 497.1 L457.1 498.9 L457.3 497.5 L457.6 495.3 L457.8 492.5 L458 493.5 L458.3 491.3 L458.5 492 L458.7 492.7 L459 494.4 L459.2 492 L459.4 489.9 L459.7 491.4 L459.9 493.2 L460.1 494.3 L460.4 490.8 L460.6 489.8 L460.8 491.2 L461.1 494.7 L461.3 496.3 L461.5 495 L461.8 490.5 L462 489.6 L462.2 489.3 L462.5 488.7 L462.7 490.3 L462.9 487.5 L463.2 487.8 L463.4 484.7 L463.7 486 L463.9 486.7 L464.1 486.1 L464.4 487.3 L464.6 485.9 L464.8 485.8 L465.1 487.6 L465.3 486.5 L465.5 485.1 L465.8 488.1 L466 485 L466.2 484.1 L466.5 482.6 L466.7 485.3 L466.9 486.1 L467.2 486.4 L467.4 484.3 L467.6 486.4 L467.9 487.5 L468.1 490.5 L468.3 490.5 L468.6 489.7 L468.8 491.6 L469 491.8 L469.3 490.1 L469.5 486.7 L469.7 484.9 L470 484.6 L470.2 485.7 L470.4 486.4 L470.7 486.6 L470.9 485.6 L471.1 484.8 L471.4 481.2 L471.6 479.9 L471.8 480.8 L472.1 477.4 L472.3 475 L472.5 473.9 L472.8 474.2 L473 476.4 L473.2 477.2 L473.5 475 L473.7 475.5 L473.9 476.9 L474.2 475.9 L474.4 474.7 L474.7 473 L474.9 471.2 L475.1 471 L475.3 474.4 L475.6 474.9 L475.8 478.2 L476 478.8 L476.3 480.2 L476.5 481.5 L476.7 481.6 L477 483.4 L477.2 483.2 L477.4 483.5 L477.7 485 L477.9 487.6 L478.1 489.9 L478.4 491.9 L478.6 493.3 L478.8 494.5 L479.1 490.7 L479.3 490.8 L479.5 490.6 L479.8 493.1 L480 495.4 L480.2 497 L480.5 495.6 L480.7 496.1 L480.9 492.4 L481.2 492.2 L481.4 489.4 L481.6 492 L481.9 490.9 L482.1 489.4 L482.3 488 L482.6 485.9 L482.8 485.3 L483 484.9 L483.3 487.9 L483.5 488.9 L483.7 492.6 L484 491.5 L484.2 490.9 L484.4 491.1 L484.7 492.3 L484.9 493.1 L485.1 488.8 L485.4 484.7 L485.6 483.5 L485.8 480.1 L486.1 481.4 L486.3 483.2 L486.5 482.7 L486.8 482.8 L487 482.4 L487.2 480.7 L487.5 476 L487.7 477.1 L487.9 477.2 L488.2 476.9 L488.4 477 L488.6 475.6 L488.9 472.9 L489.1 475 L489.3 474.9 L489.6 475.4 L489.8 473.6 L490 474.8 L490.3 476.4 L490.5 478.9 L490.7 476.7 L491 475.2 L491.2 473.8 L491.4 476.4 L491.7 475.7 L491.9 475.7 L492.1 476.9 L492.4 477.4 L492.6 475.3 L492.8 473.4 L493.1 472.4 L493.3 470.5 L493.5 470.5 L493.8 469.3 L494 468.3 L494.3 466.3 L494.5 466.8 L494.7 467.4 L495 468 L495.2 469.5 L495.4 466.2 L495.7 465.8 L495.9 465.4 L496.1 462.1 L496.4 460.2 L496.6 463.1 L496.8 462 L497.1 460.7 L497.3 457.7 L497.5 455.6 L497.8 454.5 L498 456.4 L498.2 457.9 L498.5 457.5 L498.7 456.8 L498.9 458.5 L499.2 459.4 L499.4 460.4 L499.6 460.6 L499.9 460.3 L500.1 461.1 L500.3 463.4 L500.6 461.7 L500.8 459.4 L501 459.9 L501.3 458.6 L501.5 458.6 L501.7 458.4 L501.9 458.4 L502.2 460.4 L502.4 460.2 L502.6 459.4 L502.8 461.6 L503.1 459.2 L503.3 456.6 L503.5 454.4 L503.7 451.7 L504 451.1 L504.2 452.1 L504.5 453.6 L504.7 455.5 L505 455.8 L505.2 456.4 L505.4 455.9 L505.7 459.7 L505.9 456.5 L506.2 453.5 L506.4 454.2 L506.6 453.8 L506.9 453.8 L507.1 454 L507.3 455.1 L507.6 456 L507.8 458 L508 458.4 L508.3 459.1 L508.5 459.1 L508.7 460.9 L509 461.3 L509.2 461.6 L509.4 461.1 L509.7 463.3 L509.9 463 L510.1 461.9 L510.4 461.4 L510.6 462.4 L510.8 464 L511.1 465.2 L511.3 464.8 L511.5 463.1 L511.8 464.2 L512 466 L512.2 466.2 L512.5 466.7 L512.7 469 L512.9 471 L513.2 472.1 L513.4 471.9 L513.7 474.8 L513.9 477.4 L514.1 477.5 L514.4 480.4 L514.6 481.2 L514.8 481.5 L515.1 482.7 L515.3 485.2 L515.6 486.3 L515.8 484.4 L516 481.5 L516.2 480.5 L516.5 476.4 L516.7 476.7 L516.9 474.6 L517.2 472.2 L517.4 468.3 L517.6 466.9 L517.8 466.7 L518.1 468.3 L518.3 467.8 L518.5 465.7 L518.8 467 L519 467 L519.2 469.2 L519.5 468.3 L519.7 467 L519.9 467.6 L520.2 469.5 L520.4 468.9 L520.6 467.1 L520.9 465.4 L521.1 464.1 L521.3 467.2 L521.6 468.3 L521.8 466.1 L522 468.1 L522.3 466.3 L522.5 463.1 L522.7 461.6 L523 459.5 L523.2 459.9 L523.4 461.6 L523.7 461.6 L523.9 461.6 L524.1 461.5 L524.4 460.1 L524.6 460.1 L524.8 459.8 L525.1 459.1 L525.3 459.1 L525.6 456.1 L525.8 455.4 L526 455.3 L526.3 455.6 L526.5 456.6 L526.7 454.4 L527 454.2 L527.2 454.9 L527.4 454.8 L527.7 454 L527.9 453.7 L528.1 451 L528.4 451.8 L528.6 450 L528.8 448.8 L529.1 449.7 L529.3 448.6 L529.5 448.7 L529.8 447.9 L530 448.7 L530.2 448.2 L530.5 450.9 L530.7 452.7 L530.9 451.4 L531.2 449.8 L531.4 449.8 L531.6 450.8 L531.9 449.9 L532.1 454.2 L532.4 456.4 L532.6 456.2 L532.8 456 L533.1 458.6 L533.3 462.5 L533.6 461 L533.8 461.7 L534.1 464 L534.3 462.8 L534.5 460.2 L534.7 463.2 L534.9 460.2 L535.2 457.9 L535.4 460.1 L535.6 457.7 L535.8 459.4 L536.1 456.4 L536.3 454.6 L536.5 450.8 L536.8 451.7 L537 451.6 L537.2 449.7 L537.5 450.6 L537.7 451.6 L537.9 452.1 L538.2 452.1 L538.4 453.7 L538.6 452.8 L538.9 451.9 L539.1 451.7 L539.3 448.9 L539.6 449.4 L539.8 447.3 L540 448.1 L540.3 446.8 L540.5 449.9 L540.7 449.6 L541 449.8 L541.2 449.1 L541.4 448.6 L541.7 447.6 L541.9 447.3 L542.1 449.3 L542.4 448.7 L542.6 448.1 L542.8 447.4 L543.1 447.6 L543.3 446.3 L543.5 446.2 L543.8 447.7 L544 449.6 L544.2 448.6 L544.5 448.1 L544.7 447.7 L544.9 447 L545.2 448.6 L545.4 450 L545.6 449.3 L545.9 450.7 L546.1 451.3 L546.3 451.2 L546.6 451 L546.8 451.9 L547 450.8 L547.3 451.5 L547.5 450.8 L547.7 449.5 L548 448.9 L548.2 447.1 L548.4 448.4 L548.7 450 L548.9 450.4 L549.1 449.1 L549.4 446.1 L549.6 447.5 L549.8 446.4 L550.1 447.2 L550.3 447.9 L550.5 448 L550.8 446.6 L551 445.9 L551.2 443.7 L551.5 445 L551.7 443.3 L551.9 441.5 L552.2 441.1 L552.4 440 L552.6 440.6 L552.9 442.6 L553.1 443.5 L553.3 444.7 L553.6 440.3 L553.8 441.3 L554 438.8 L554.3 438.7 L554.5 438.4 L554.7 437.4 L555 438.9 L555.2 437.5 L555.4 437 L555.7 439.6 L555.9 438.7 L556.1 437.9 L556.4 437.3 L556.6 434.8 L556.9 435.6 L557.1 434.9 L557.3 433.8 L557.6 434 L557.8 430.8 L558 432 L558.3 432.9 L558.5 430.8 L558.7 431.3 L559 430.3 L559.2 431.8 L559.4 430.4 L559.7 431.1 L559.9 429.4 L560.1 430.8 L560.4 429.1 L560.6 428.4 L560.8 427.2 L561.1 426.3 L561.3 425 L561.5 426.1 L561.8 429.2 L562 428 L562.2 428.8 L562.5 428.8 L562.7 427.4 L562.9 429.8 L563.2 430.3 L563.4 430.6 L563.6 431.5 L563.9 430.3 L564.1 429.7 L564.3 430.3 L564.6 430.9 L564.8 428.6 L565 428.7 L565.3 426.8 L565.5 425.1 L565.7 427.2 L566 427.9 L566.2 426.9 L566.4 425.4 L566.7 423.2 L566.9 422.6 L567.1 421.6 L567.4 422.9 L567.6 424 L567.8 423.5 L568.1 424.9 L568.3 423.9 L568.5 427.2 L568.8 426.9 L569 427.9 L569.2 429.7 L569.5 426.7 L569.7 424.8 L569.9 423.4 L570.2 423.8 L570.4 423.1 L570.6 419.3 L570.9 419.2 L571.1 423.5 L571.3 423.5 L571.6 424.2 L571.8 423.2 L572 422.6 L572.3 422.9 L572.5 423 L572.7 420.1 L573 421.2 L573.2 416.9 L573.4 416.5 L573.7 417.1 L573.9 415.1 L574.1 413.5 L574.4 414.6 L574.6 412.7 L574.8 415 L575.1 415.8 L575.3 413.3 L575.5 413.1 L575.8 414.5 L576 413 L576.2 411.3 L576.5 411.2 L576.7 414 L576.9 414.3 L577.2 413.5 L577.4 412.1 L577.6 408.9 L577.9 409.1 L578.1 409.7 L578.3 409.6 L578.6 408 L578.8 409.9 L579 408.1 L579.3 412.9 L579.5 411.9 L579.7 413.4 L580 412.9 L580.2 412.2 L580.4 414.4 L580.7 414.9 L580.9 413.7 L581.1 411.9 L581.4 412.5 L581.6 413.3 L581.8 415.5 L582.1 410.6 L582.3 410 L582.5 409.5 L582.8 411.1 L583 408.7 L583.2 409.4 L583.5 406.8 L583.7 405.2 L583.9 405 L584.2 403.6 L584.4 405.1 L584.6 405.4 L584.9 406.1 L585.1 408 L585.3 407.7 L585.6 407.2 L585.8 404.2 L586 409 L586.3 409.3 L586.5 410.1 L586.7 410.2 L587 408.8 L587.2 407.5 L587.4 406.7 L587.7 406.8 L587.9 405 L588.2 403.4 L588.4 405.3 L588.6 404.7 L588.9 405.9 L589.1 406.8 L589.3 405.6 L589.6 404.5 L589.8 403.3 L590 403.7 L590.3 403.9 L590.5 405.3 L590.7 404.6 L591 403.4 L591.2 400.4 L591.4 398.3 L591.7 399.5 L591.9 400.1 L592.1 401.5 L592.4 400.9 L592.6 397.9 L592.8 396.9 L593.1 400.7 L593.3 402.9 L593.5 405.1 L593.8 404.5 L594 404.7 L594.2 404.3 L594.5 401.6 L594.7 403.1 L594.9 403.3 L595.2 398.9 L595.4 397.1 L595.6 397.1 L595.9 399.2 L596.1 400.5 L596.3 403.2 L596.6 401.9 L596.8 400.6 L597 397.7 L597.3 398.1 L597.5 399.4 L597.7 400.7 L598 397.8 L598.2 400.8 L598.4 400.7 L598.7 400.8 L598.9 399.9 L599.1 400.7 L599.4 400 L599.6 400.1 L599.8 401.7 L600 403.9 L600.3 405.6 L600.5 408.5 L600.7 407.2 L601 406.1 L601.2 404.2 L601.5 400.4 L601.7 396.6 L601.9 397.4 L602.2 396.4 L602.4 396 L602.6 394.8 L602.9 394.8 L603.1 394.4 L603.3 395.2 L603.6 396.5 L603.8 395.1 L604 393 L604.3 392 L604.5 391.3 L604.7 390.9 L605 391.6 L605.2 394.6 L605.4 393.5 L605.7 393.2 L605.9 394.1 L606.1 395.7 L606.4 393.7 L606.6 397.2 L606.8 395 L607.1 394.5 L607.3 391.3 L607.5 393.1 L607.8 393.7 L608 395.2 L608.2 395.5 L608.5 396.5 L608.7 398.3 L608.9 395.5 L609.2 395.6 L609.4 395.3 L609.6 393.3 L609.9 393.1 L610.1 392.7 L610.3 391 L610.6 390.5 L610.8 391.4 L611 390.4 L611.3 391.5 L611.5 389.4 L611.7 391.9 L612 391.1 L612.2 393 L612.4 394.3 L612.7 395.6 L612.9 395.8 L613.1 395.2 L613.4 393 L613.6 394.5 L613.8 392.7 L614.1 391.5 L614.3 390.6 L614.5 392.2 L614.8 391.2 L615 391.7 L615.2 391.6 L615.5 392.4 L615.7 391.7 L615.9 390.7 L616.2 389.5 L616.4 390.6 L616.6 389.7 L616.8 388 L617.1 390.3 L617.3 388.6 L617.6 391.2 L617.8 390.8 L618 390.3 L618.3 388 L618.5 387.7 L618.7 388.5 L619 390 L619.2 392.1 L619.5 391 L619.7 391.5 L619.9 392.8 L620.2 392 L620.4 393.4 L620.6 394.1 L620.9 394.8 L621.1 392.1 L621.3 389.8 L621.6 390 L621.8 392.6 L622 392.1 L622.3 392 L622.5 391.4 L622.7 390.5 L623 393.3 L623.2 394 L623.4 394.9 L623.7 396.9 L623.9 399.8 L624.1 402.8 L624.4 404 L624.6 408 L624.8 407.6 L625.1 408.2 L625.3 409.8 L625.5 408.2 L625.8 407.6 L626 406.8 L626.2 404.8 L626.5 406.5 L626.7 406 L626.9 404.9 L627.2 402.9 L627.4 404 L627.6 402.4 L627.9 401.6 L628.1 398.9 L628.3 396.6 L628.6 395.2 L628.8 391.3 L629 390.8 L629.3 391.1 L629.5 391.2 L629.7 392.2 L630 391.9 L630.2 394.6 L630.4 394.4 L630.7 393.3 L630.9 391.4 L631.1 391.6 L631.4 388.9 L631.6 389.6 L631.8 389.5 L632.1 392.2 L632.3 393.6 L632.5 395.2 L632.8 393 L633 392.4 L633.2 394.4 L633.5 393.8 L633.7 393.2 L633.9 393.8 L634.2 394 L634.4 394.7 L634.6 396.4 L634.9 400.1 L635.1 401 L635.3 399.8 L635.6 398.4 L635.8 399.6 L636 401.6 L636.3 402.8 L636.5 402.2 L636.7 402.5 L637 405.6 L637.2 407.2 L637.5 409.8 L637.8 411.1 L638 409.8 L638.2 410.2 L638.4 408.2 L638.6 405 L638.9 404.8 L639.1 403.1 L639.3 401.1 L639.5 401.1 L639.8 401.5 L640 397.7 L640.2 395.8 L640.5 393.6 L640.7 394.5 L640.9 391.3 L641.2 393.4 L641.4 393.6 L641.6 392.4 L641.9 390.3 L642.1 391.7 L642.3 392.7 L642.6 392.4 L642.8 395.4 L643 394.4 L643.3 393.4 L643.5 394.1 L643.7 393.2 L644 392.3 L644.2 392.1 L644.4 391.6 L644.7 389.5 L644.9 390.6 L645.1 390.7 L645.4 391.8 L645.6 390.5 L645.8 391.4 L646.1 391 L646.3 391.8 L646.5 392.8 L646.8 391.2 L647 392.4 L647.2 391.2 L647.5 391 L647.7 390 L647.9 391.3 L648.2 390.9 L648.4 390.8 L648.6 390.6 L648.9 388.9 L649.1 387.9 L649.3 386.8 L649.6 383.5 L649.8 383.4 L650.1 384.9 L650.3 386.4 L650.5 385.9 L650.8 385.7 L651 386.2 L651.2 385.9 L651.5 383.8 L651.7 383.9 L651.9 383.8 L652.2 385.5 L652.4 385.2 L652.6 383.7 L652.9 382.2 L653.1 385.9 L653.3 384.8 L653.6 382.6 L653.8 381.6 L654 384.2 L654.3 385 L654.5 384.4 L654.7 384 L655 385.6 L655.2 387.3 L655.4 386.1 L655.7 388.2 L655.9 386 L656.1 386 L656.4 385.5 L656.6 387.7 L656.8 388.6 L657.1 387.6 L657.3 389.9 L657.5 386.7 L657.8 388.9 L658 389.9 L658.2 388.9 L658.5 387.2 L658.7 385 L658.9 384.7 L659.2 384 L659.4 383.4 L659.6 383.4 L659.9 386.4 L660.1 384 L660.3 383.1 L660.6 382.3 L660.8 382.8 L661 381.9 L661.3 381.4 L661.5 381.1 L661.7 378.8 L662 381 L662.2 380.1 L662.4 381.3 L662.7 381.2 L662.9 378.3 L663.1 379.4 L663.4 378.9 L663.6 379.3 L663.8 377.2 L664.1 378.1 L664.3 380.1 L664.5 378.7 L664.8 378.7 L665 379 L665.2 377.2 L665.5 378.4 L665.7 378.8 L665.9 378.4 L666.2 377.6 L666.4 378.3 L666.6 376.5 L666.9 372.8 L667.1 373.3 L667.3 370.3 L667.6 373.6 L667.8 371.3 L668 371.8 L668.3 371.5 L668.5 372 L668.7 372.9 L669 374.9 L669.2 375.4 L669.4 373.4 L669.7 371.4 L669.9 371.7 L670.1 372.3 L670.4 373.2 L670.6 374.8 L670.8 371.8 L671.1 370.5 L671.3 370.1 L671.5 370.7 L671.8 372.1 L672 370 L672.2 368.8 L672.5 370.3 L672.7 368.8 L672.9 370.5 L673.2 369.6 L673.4 371.1 L673.6 371.7 L673.9 371 L674.1 370.3 L674.3 368.9 L674.6 370.4 L674.8 368 L675 366.1 L675.3 366.3 L675.5 365.7 L675.7 367.1 L676 367.4 L676.2 369.6 L676.4 369.7 L676.7 369.3 L676.9 367.1 L677.1 365.6 L677.4 364.3 L677.6 364.8 L677.8 365.1 L678.1 365.5 L678.3 365.1 L678.5 368.1 L678.8 366.8 L679 369.5 L679.2 370.6 L679.5 370.8 L679.7 371.8 L679.9 369.5 L680.2 369.9 L680.4 367.7 L680.6 366.1 L680.9 367.1 L681.1 366.7 L681.4 364.8 L681.6 365.5 L681.8 365.5 L682.1 366.6 L682.3 366.6 L682.5 367.4 L682.8 367.4 L683 366 L683.2 364 L683.5 363.9 L683.7 363.4 L683.9 361.8 L684.2 362.1 L684.4 363.5 L684.6 361.5 L684.9 362.8 L685.1 361.1 L685.3 362.4 L685.6 359.3 L685.8 360.7 L686 358.8 L686.3 355.9 L686.5 356.8 L686.7 353.9 L687 354.6 L687.2 356.8 L687.4 355.1 L687.7 353.5 L687.9 353.2 L688.1 356.6 L688.4 356.3 L688.6 356.5 L688.8 356.8 L689.1 356.9 L689.3 359.4 L689.5 359.9 L689.8 356.8 L690 354.1 L690.2 354.3 L690.5 355.1 L690.7 353.9 L691 351.7 L691.2 350.1 L691.4 351.3 L691.7 350.5 L691.9 349.7 L692.2 347 L692.4 344.5 L692.6 347.6 L692.9 349.7 L693.1 354.2 L693.3 355.8 L693.5 360.3 L693.8 358.2 L694 355.3 L694.2 355.2 L694.5 354.8 L694.7 356.1 L694.9 354.3 L695.1 352.9 L695.4 353.7 L695.6 353.2 L695.8 356.7 L696.1 357 L696.3 357.1 L696.5 357.8 L696.8 356.8 L697 354.3 L697.2 355.2 L697.5 357 L697.7 358.3 L697.9 358.6 L698.2 358.2 L698.4 359.9 L698.6 358.8 L698.9 360.8 L699.1 360 L699.3 359.8 L699.6 359.5 L699.8 356.6 L700 356.8 L700.3 357 L700.5 356.1 L700.7 354.6 L701 356.6 L701.2 356 L701.4 357 L701.7 355.9 L701.9 353.6 L702.1 353.4 L702.4 353.3 L702.6 352.7 L702.8 357 L703.1 355.5 L703.3 354.3 L703.5 353.8 L703.8 354.1 L704 354.9 L704.2 354.9 L704.5 352.7 L704.7 351.7 L704.9 348.5 L705.2 351.4 L705.4 351 L705.6 349.4 L705.9 348.3 L706.1 349.8 L706.3 349.7 L706.6 346.6 L706.8 347.5 L707 348.4 L707.3 349.4 L707.5 349.6 L707.7 347.9 L708 346.3 L708.2 348.8 L708.4 345.8 L708.7 346.1 L708.9 346.3 L709.1 343.1 L709.4 341.9 L709.6 342.5 L709.9 342.2 L710.1 342.1 L710.4 342.4 L710.6 341.6 L710.9 341.5 L711.1 342.2 L711.3 345.5 L711.5 342.4 L711.7 345.3 L711.9 346.4 L712.2 347.6 L712.4 347.7 L712.7 349.5 L712.9 350.1 L713.1 348.1 L713.4 349.3 L713.6 352.3 L713.8 353 L714.1 353.9 L714.3 354 L714.5 353.3 L714.8 352.3 L715 352.4 L715.2 350.6 L715.5 350.5 L715.7 352.1 L715.9 350.3 L716.2 350.5 L716.4 351 L716.6 354.5 L716.8 356.1 L717 358.1 L717.3 364.8 L717.5 369.6 L717.7 373.8 L717.9 374.1 L718.2 375.5 L718.4 372.5 L718.7 369.2 L718.9 366.9 L719.1 364.3 L719.4 363.5 L719.6 362 L719.9 360.1 L720.1 357.8 L720.3 355.2 L720.6 353.9 L720.8 353.5 L721.1 352.7 L721.3 350.5 L721.5 351.5 L721.8 351.8 L722 350.9 L722.2 350.1 L722.5 348.9 L722.7 351.5 L722.9 350.4 L723.2 349.2 L723.4 347.9 L723.6 350.8 L723.9 351.2 L724.1 350.3 L724.3 349.5 L724.6 347.5 L724.8 345.7 L725 347.2 L725.3 346.1 L725.5 346.5 L725.7 347.4 L726 344.6 L726.2 345.2 L726.4 346.2 L726.7 346.4 L726.9 347.4 L727.1 345.4 L727.4 344.4 L727.6 341.9 L727.8 340.8 L728.1 342.8 L728.3 342.2 L728.5 344.2 L728.8 346 L729 347.3 L729.2 348.2 L729.5 347.4 L729.7 349.3 L729.9 349.8 L730.2 350.9 L730.4 351.5 L730.6 351.9 L730.9 350.8 L731.1 348.9 L731.3 347 L731.6 344.9 L731.8 343.5 L732 342.8 L732.3 340.8 L732.5 341 L732.7 341.7 L733 340.8 L733.2 341.6 L733.4 341 L733.7 340.7 L733.9 340.2 L734.1 338.8 L734.4 338.7 L734.6 337.9 L734.8 339.1 L735.1 338.2 L735.3 338.9 L735.5 337.5 L735.8 341.2 L736 341.7 L736.2 340.6 L736.5 343.7 L736.7 343.6 L736.9 342.7 L737.2 341.8 L737.4 343.7 L737.6 342.9 L737.9 342.3 L738.1 343.3 L738.3 341.7 L738.6 341.4 L738.8 340.9 L739 341.2 L739.3 339.9 L739.5 339.3 L739.7 337.2 L740 336.1 L740.2 336.7 L740.4 336.7 L740.7 334.9 L740.9 335.2 L741.1 334.2 L741.4 333.1 L741.6 333 L741.8 336.3 L742.1 335.4 L742.3 334.4 L742.5 333.5 L742.8 334 L743 331.4 L743.2 330.9 L743.5 331.2 L743.7 331.6 L744 330.4 L744.2 331.4 L744.4 333.6 L744.7 331 L744.9 329.6 L745.1 328.6 L745.4 327 L745.6 326.7 L745.8 330 L746.1 328.7 L746.3 327.4 L746.5 327.2 L746.8 330.8 L747 329.3 L747.2 327.6 L747.5 328.8 L747.7 329.1 L747.9 328.4 L748.2 329 L748.4 327.7 L748.6 328.1 L748.9 327.4 L749.1 326.7 L749.3 328.5 L749.6 329.5 L749.8 323.9 L750.1 322.9 L750.3 320.3 L750.5 324.6 L750.7 328.1 L751 333.4 L751.2 340.4 L751.4 345.7 L751.7 354.1 L751.9 359.7 L752.1 363.6 L752.4 372.4 L752.6 377.4 L752.8 381.4 L753.1 372.1 L753.3 366.3 L753.5 360.1 L753.8 361.2 L754 361 L754.2 358.3 L754.5 353.3 L754.7 353.2 L754.9 349.2 L755.2 346.7 L755.4 345.7 L755.6 340.4 L755.9 342.5 L756.1 343.5 L756.3 344.1 L756.6 341.6 L756.8 339.6 L757 336.9 L757.3 337.6 L757.5 336.9 L757.7 335.6 L758 335.7 L758.2 336 L758.4 336 L758.7 336.3 L758.9 338 L759.1 334.6 L759.4 335 L759.6 338 L759.8 337.3 L760.1 337 L760.3 336.5 L760.5 333.3 L760.8 333.2 L761 333.3 L761.2 334.2 L761.5 334 L761.7 334.4 L761.9 333.8 L762.2 328.6 L762.4 327.7 L762.6 328.7 L762.9 325.4 L763.1 323.8 L763.4 322.3 L763.6 321 L763.8 319.5 L764.1 318.2 L764.3 315.8 L764.6 314 L764.8 311.7 L765.1 312.3 L765.3 312.1 L765.5 316.5 L765.8 318.2 L766 320.2 L766.3 324.2 L766.5 326.5 L766.7 325.6 L767 326.9 L767.2 328.6 L767.5 328.7 L767.7 327.6 L767.9 327.6 L768.2 326.9 L768.4 325 L768.7 324.4 L768.9 326 L769.2 324.8 L769.4 324.9 L769.6 324.6 L769.9 325.4 L770.1 324.6 L770.3 323.6 L770.6 321.2 L770.8 319.9 L771 321.2 L771.3 316.4 L771.5 315.2 L771.7 313.4 L772 309.5 L772.2 310.4 L772.4 307.4 L772.7 307.7 L772.9 305.8 L773.1 305.7 L773.4 304.3 L773.6 303.2 L773.8 302.4 L774.1 304.4 L774.3 305.8 L774.5 305 L774.8 303.1 L775 304.4 L775.3 303.9 L775.5 304 L775.7 303.6 L776 302.5 L776.2 305.2 L776.4 305.1 L776.7 305.8 L776.9 306.7 L777.1 307.2 L777.4 307.7 L777.6 308.5 L777.8 309.5 L778.1 304.7 L778.3 301.2 L778.5 300.4 L778.8 298.5 L779 299.2 L779.2 302.9 L779.5 304.4 L779.7 302.8 L779.9 299.2 L780.2 298 L780.4 298.2 L780.6 297.3 L780.9 297.5 L781.1 298.4 L781.3 297.4 L781.6 296.7 L781.8 297 L782 297.4 L782.3 297.9 L782.5 296.6 L782.7 293.4 L783 292.7 L783.2 288.2 L783.4 289.8 L783.7 288.3 L783.9 289.2 L784.1 289.4 L784.4 289.2 L784.6 288.2 L784.8 286.4 L785.1 287.2 L785.3 289.1 L785.5 289.3 L785.8 288.8 L786 289.9 L786.2 288.4 L786.5 285.4 L786.7 287.3 L786.9 286.3 L787.2 284.4 L787.4 287 L787.6 286.4 L787.9 286.4 L788.1 288.3 L788.3 285.8 L788.6 285.1 L788.8 285.3 L789 283.9 L789.3 282.3 L789.5 280.4 L789.7 278.9 L790 277.6 L790.2 278.9 L790.4 278.9 L790.7 278.1 L790.9 281.8 L791.1 277.5 L791.4 277.1 L791.6 277.8 L791.8 279.7 L792.1 278.3 L792.3 277.3 L792.5 277.3 L792.8 277 L793 277.4 L793.2 277.6 L793.5 278.8 L793.7 280.9 L793.9 280.9 L794.2 282.2 L794.4 283.1 L794.6 283.5 L794.9 282.6 L795.1 282.7 L795.3 283.4 L795.6 284.8 L795.8 284.8 L796 284.1 L796.3 281.7 L796.5 280.1 L796.7 279.5 L797 280.3 L797.2 281.5 L797.4 279.7 L797.7 276.8 L797.9 274.9 L798.1 276.8 L798.4 276.7 L798.6 276 L798.8 277.1 L799.1 276.2 L799.3 276.2 L799.5 277.1 L799.8 278.7 L800 277.1 L800.2 276.2 L800.5 276.9 L800.7 277.9 L800.9 275.8 L801.2 274.2 L801.4 274 L801.6 270.8 L801.9 270.6 L802.1 271.7 L802.3 269.3 L802.6 268.9 L802.8 269.1 L803 269.7 L803.3 272 L803.5 274.6 L803.7 275.6 L804 274.1 L804.2 276.4 L804.4 275 L804.7 275.4 L804.9 277.8 L805.1 277 L805.4 275.8 L805.6 276.8 L805.9 279.8 L806.1 278.8 L806.3 280.2 L806.6 279.1 L806.8 281.8 L807 281.6 L807.3 282.5 L807.5 284 L807.7 283.6 L808 282.4 L808.2 282.5 L808.4 283.5 L808.7 282.3 L808.9 284.2 L809.1 282.5 L809.4 280.9 L809.6 277.4 L809.8 277.7 L810.1 278.8 L810.3 280.1 L810.5 281.8 L810.8 285.6 L811 285 L811.2 285.9 L811.5 288 L811.7 291.6 L811.9 290.9 L812.2 290.9 L812.4 293.7 L812.6 293.5 L812.9 291.3 L813.1 292.2 L813.3 292.4 L813.6 293.9 L813.8 295.8 L814 294.9 L814.3 290.9 L814.5 294.7 L814.7 298.7 L815 301.4 L815.2 305.8 L815.5 308.5 L815.7 306.1 L815.9 306.7 L816.1 307.2 L816.4 306.3 L816.6 303.9 L816.8 301.8 L817.1 298.3 L817.3 298.9 L817.5 296.5 L817.8 295.9 L818 294.1 L818.2 292.1 L818.5 292 L818.7 290.8 L818.9 291 L819.2 288.7 L819.4 288.2 L819.7 287.1 L820 284.9 L820.2 288 L820.4 288.2 L820.6 291.3 L820.8 292.1 L821 293.7 L821.3 297.4 L821.5 298.9 L821.7 301.3 L822 303.1 L822.2 304.6 L822.4 302.9 L822.7 304.7 L822.9 303.4 L823.1 303.8 L823.4 307 L823.6 311.8 L823.8 311 L824 314.4 L824.2 313.6 L824.4 312.2 L824.7 309.5 L824.9 307.7 L825.2 306 L825.4 303.4 L825.7 301.8 L825.9 300.5 L826.2 300 L826.4 297.1 L826.6 297 L826.9 295.4 L827.1 296.1 L827.3 296.2 L827.6 297.2 L827.8 296.5 L828 294.3 L828.3 292.8 L828.5 294.1 L828.7 293.7 L829 294.8 L829.2 294.8 L829.4 294.9 L829.7 294.6 L829.9 299.1 L830.1 301.7 L830.4 301 L830.6 301.7 L830.8 298.2 L831.1 298.6 L831.3 299.5 L831.5 297.1 L831.8 296.3 L832 293.3 L832.2 292.5 L832.5 292.8 L832.7 291.7 L832.9 292.9 L833.2 293.5 L833.4 294.3 L833.6 294.5 L833.9 293.2 L834.1 293.8 L834.3 293.2 L834.6 293.9 L834.8 292.4 L835 296.6 L835.3 296.8 L835.5 296.3 L835.7 297.8 L836 296 L836.2 295.4 L836.4 293.2 L836.7 291.4 L836.9 290.2 L837.2 290.2 L837.4 291.6 L837.6 291.8 L837.9 292.6 L838.1 292.3 L838.3 293.2 L838.6 288.5 L838.8 291.2 L839 289.4 L839.3 290.3 L839.5 290.8 L839.7 289.5 L840 289.6 L840.2 290.8 L840.4 289.5 L840.7 289.1 L840.9 291.6 L841.1 290.6 L841.4 291.6 L841.6 292.1 L841.8 290.6 L842.1 289.5 L842.3 289.2 L842.5 284.7 L842.8 282.9 L843 282.8 L843.2 281.3 L843.5 280.4 L843.7 282.7 L843.9 284.1 L844.2 285.2 L844.4 280.8 L844.6 280 L844.8 280.6 L845.1 281.7 L845.3 280.4 L845.5 280.5 L845.7 278 L846 277 L846.2 274.6 L846.4 275 L846.6 274.6 L846.9 275.5 L847.1 276 L847.4 279.1 L847.6 280.3 L847.8 282.1 L848.1 283.5 L848.3 281.9 L848.6 281.8 L848.8 280.2 L849.1 279.2 L849.3 278.1 L849.5 278.1 L849.8 280.6 L850 280.9 L850.2 283 L850.5 285.4 L850.7 285.1 L850.9 283.3 L851.2 286.3 L851.4 285.2 L851.6 285.5 L851.9 287.4 L852.1 287.6 L852.4 287.7 L852.6 287.7 L852.9 288.9 L853.1 291.6 L853.3 292.2 L853.6 291.5 L853.8 289.4 L854 287.6 L854.3 285 L854.5 285.8 L854.7 285 L854.9 283.7 L855.2 281.3 L855.4 280.3 L855.6 278.6 L855.9 277.6 L856.1 273.5 L856.3 276.1 L856.5 275.7 L856.8 271.4 L857 270.6 L857.2 273 L857.5 272.4 L857.7 274.2 L857.9 274.8 L858.2 274 L858.4 270.9 L858.6 269.8 L858.9 268.2 L859.1 266.2 L859.3 265.4 L859.6 266.2 L859.8 265.9 L860 264.9 L860.3 264.9 L860.5 265.5 L860.7 265.5 L861 267.4 L861.2 268 L861.4 267.2 L861.7 266.7 L861.9 265.7 L862.1 262.5 L862.4 261 L862.6 260.1 L862.8 260.9 L863.1 261.6 L863.3 260 L863.5 260.8 L863.8 259.5 L864 260.6 L864.2 259.8 L864.5 259.3 L864.7 257.2 L864.9 257.2 L865.2 257.2 L865.4 256.2 L865.6 255.5 L865.9 254.3 L866.1 256 L866.3 258.3 L866.6 260.2 L866.8 260.8 L867 261.8 L867.3 262.2 L867.5 265.7 L867.7 263.2 L868 261.7 L868.2 260.9 L868.5 261.8 L868.7 260.7 L868.9 259.1 L869.2 261.7 L869.4 260.7 L869.6 262.1 L869.9 260.4 L870.1 257.4 L870.3 254.8 L870.6 257.1 L870.8 254.9 L871 253.4 L871.3 253.8 L871.5 253 L871.7 250.5 L872 251 L872.2 250.9 L872.4 251.7 L872.7 249.8 L872.9 251.3 L873.1 247.3 L873.3 246.9 L873.6 243.6 L873.8 244.3 L874 247.4 L874.2 249.9 L874.5 250.1 L874.7 254.2 L874.9 254.9 L875.2 257.4 L875.4 254.9 L875.7 254.8 L875.9 253.5 L876.1 253.2 L876.4 249.8 L876.6 249.8 L876.8 249.2 L877.1 245.5 L877.3 244.8 L877.6 242.8 L877.8 243.1 L878 241.8 L878.3 244.5 L878.5 243.4 L878.7 243.5 L879 244.9 L879.2 246.2 L879.4 243.5 L879.7 241.9 L879.9 244.1 L880.1 241.1 L880.4 242.1 L880.6 242.5 L880.8 242 L881.1 243.6 L881.3 246 L881.5 247 L881.8 245 L882 243.4 L882.2 244.6 L882.5 241.6 L882.7 240.3 L882.9 238.3 L883.2 237.1 L883.4 235.2 L883.6 235.6 L883.9 235.8 L884.1 235.7 L884.3 235.1 L884.6 234.3 L884.8 236.3 L885 234 L885.3 235.1 L885.5 236.2 L885.7 235.2 L886 234.7 L886.2 235.3 L886.4 237.1 L886.7 238.8 L886.9 241.7 L887.1 240.4 L887.4 239.1 L887.6 236.6 L887.8 236.2 L888.1 236.1 L888.3 235.3 L888.5 234.2 L888.8 235.1 L889 234.9 L889.2 231.1 L889.5 233.4 L889.7 235.2 L890 236.3 L890.2 234.7 L890.5 232.4 L890.7 234.3 L890.9 234.7 L891.1 236.1 L891.3 237 L891.6 240.7 L891.8 243.6 L892.1 246.5 L892.3 247.6 L892.5 247 L892.8 252.6 L893 254.7 L893.3 257.5 L893.5 258.9 L893.8 260.1 L894 261.7 L894.2 263.3 L894.5 262.5 L894.7 262.9 L894.9 258 L895.1 253.8 L895.3 253 L895.6 248.7 L895.8 245.4 L896 246.9 L896.2 244.1 L896.5 244.2 L896.7 240.9 L896.9 240.5 L897.2 240.2 L897.4 241.2 L897.6 240.1 L897.9 237 L898.1 236.6 L898.3 238.1 L898.6 234.4 L898.8 231.1 L899 229.6 L899.3 230.1 L899.5 231.6 L899.8 233.8 L900 232.5 L900.2 230.1 L900.5 231.3 L900.7 231 L900.9 231.3 L901.2 231.7 L901.4 230.8 L901.6 227.5 L901.9 228.4 L902.1 227 L902.3 225.2 L902.6 225.6 L902.8 225.8 L903 227.8 L903.3 225.8 L903.5 226.3 L903.7 226.9 L904 226.5 L904.2 227.5 L904.4 228.8 L904.7 228.9 L904.9 226.2 L905.1 226.2 L905.4 225 L905.6 226 L905.8 227.7 L906.1 223.5 L906.3 222.7 L906.5 223.8 L906.8 222.6 L907 220.3 L907.2 221.6 L907.5 221.7 L907.7 219.9 L907.9 221 L908.2 219.5 L908.4 217.6 L908.6 216.6 L908.9 217 L909.1 216.7 L909.3 217.4 L909.6 217.3 L909.8 216.4 L910 216.6 L910.3 215.9 L910.5 212.8 L910.7 214.5 L911 214.8 L911.2 214.4 L911.4 214.3 L911.7 215.5 L911.9 217.2 L912.1 216.5 L912.4 216.4 L912.6 215.3 L912.8 216.2 L913.1 214.9 L913.3 213.3 L913.6 213.3 L913.8 212 L914 208.2 L914.3 210.9 L914.5 209.6 L914.7 211.1 L915 212.9 L915.2 212.5 L915.4 210.9 L915.7 210 L915.9 211.1 L916.1 212.6 L916.4 212.7 L916.6 211.9 L916.8 212.4 L917 214 L917.3 211 L917.5 212 L917.7 212 L918 212.6 L918.2 213.2 L918.4 212.9 L918.7 213.1 L918.9 211.9 L919.1 213.5 L919.4 215.5 L919.6 214.4 L919.8 216.5 L920.1 217.3 L920.3 217.5 L920.5 218.4 L920.8 220.1 L921 224.3 L921.2 228.6 L921.5 228.8 L921.7 229.5 L922 223.5 L922.2 221 L922.4 219.2 L922.7 215.7" fill="none" stroke="#e27b3a" stroke-width="1.7" stroke-linejoin="round"/>
<defs><linearGradient id="gg" gradientUnits="userSpaceOnUse" x1="0" y1="680" x2="0" y2="847"><stop offset="0" stop-color="#86c59b" stop-opacity="0.75"/><stop offset="1" stop-color="#86c59b" stop-opacity="0.06"/></linearGradient><linearGradient id="rg" gradientUnits="userSpaceOnUse" x1="0" y1="847" x2="0" y2="910"><stop offset="0" stop-color="#e58b8f" stop-opacity="0.38"/><stop offset="1" stop-color="#e58b8f" stop-opacity="0.08"/></linearGradient><linearGradient id="fg" gradientUnits="userSpaceOnUse" x1="0" y1="985" x2="0" y2="1170"><stop offset="0" stop-color="#cbcbcb" stop-opacity="0.75"/><stop offset="1" stop-color="#e8e8e8" stop-opacity="0.25"/></linearGradient></defs>
<path d="M73.5 847.2 L73.6 814.5 L73.8 813.3 L74 811.4 L74.1 811.4 L74.3 812.5 L74.5 812 L74.7 810.7 L74.9 808.6 L75 809.6 L75.2 810.6 L75.4 809.1 L75.6 807.8 L75.8 805.1 L76 803.2 L76.1 802.7 L76.3 802.4 L76.5 798.4 L76.7 800.1 L76.9 802.5 L77.1 805.3 L77.3 806.6 L77.5 807.7 L77.7 809.5 L77.8 810.9 L78 811.9 L78.2 812.4 L78.4 812.3 L78.6 813.3 L78.8 817 L79 817.5 L79.2 818.9 L79.4 818.8 L79.6 820.3 L79.8 819.9 L80 820.6 L80.1 819.9 L80.3 815.2 L80.5 814.9 L80.7 813.4 L80.9 814.8 L81.1 814.8 L81.3 813.5 L81.5 813.2 L81.7 812.4 L81.9 811.9 L82 812.8 L82.2 811.7 L82.4 812.4 L82.6 809.5 L82.8 809.8 L83 808.5 L83.2 809 L83.4 808.3 L83.6 809.6 L83.8 808.7 L83.9 809.4 L84.1 808.2 L84.3 807.9 L84.5 808.2 L84.7 809.8 L84.9 809.2 L85.1 809.1 L85.3 807.5 L85.4 808.5 L85.6 808.2 L85.8 808.1 L86 808.2 L86.2 808.4 L86.4 808.7 L86.6 810 L86.8 811.8 L86.9 812.8 L87.1 812.5 L87.3 811 L87.5 810.3 L87.7 809.4 L87.9 808.9 L88.1 808.4 L88.3 808.7 L88.5 808.2 L88.6 806.4 L88.8 807.3 L89 808.7 L89.2 806.6 L89.4 806.8 L89.6 806 L89.8 805.4 L90 807.4 L90.1 804.7 L90.3 802.8 L90.5 803.1 L90.7 802.6 L90.9 802.9 L91.1 804.6 L91.3 805.2 L91.5 805.3 L91.7 804.3 L91.8 803.9 L92 804.3 L92.2 803 L92.4 804.5 L92.6 804 L92.8 803 L93 803.9 L93.2 806.7 L93.3 808.4 L93.5 808.6 L93.7 808.4 L93.9 806.9 L94.1 808.7 L94.3 809.2 L94.5 808.8 L94.7 809.5 L94.8 813.1 L95 812.6 L95.2 810 L95.4 809.2 L95.6 810.9 L95.8 811.8 L96 811.9 L96.2 808.9 L96.4 808.5 L96.5 808.7 L96.7 807 L96.9 807.5 L97.1 805.4 L97.3 806.6 L97.5 807.6 L97.7 807 L97.9 805.5 L98 805 L98.2 804.9 L98.4 807.7 L98.6 808.9 L98.8 810.1 L99 811.1 L99.2 810.7 L99.4 811.5 L99.6 810.8 L99.7 811.1 L99.9 811.9 L100.1 812.1 L100.3 811.8 L100.5 811.1 L100.7 812.1 L100.9 812.7 L101.1 814.8 L101.2 813.1 L101.4 811.5 L101.6 812.1 L101.8 813.1 L102 815.1 L102.2 814.9 L102.4 814.6 L102.6 811.8 L102.7 811.5 L102.9 812.6 L103.1 815.8 L103.3 814 L103.5 813.8 L103.7 815.9 L103.9 815.7 L104.1 817.8 L104.2 813.3 L104.4 811.9 L104.6 811.2 L104.8 811.4 L105 814.2 L105.2 814.4 L105.4 816.5 L105.6 815.8 L105.7 818.6 L105.9 819.8 L106.1 818.2 L106.3 816.1 L106.5 817.7 L106.7 819.7 L106.9 818.6 L107.1 817.5 L107.2 818.8 L107.4 819.8 L107.6 820.7 L107.8 822.3 L108 823.2 L108.2 821.6 L108.4 820.8 L108.6 818.1 L108.7 818.2 L108.9 818.4 L109.1 819.8 L109.3 820 L109.5 821.7 L109.7 824.1 L109.9 823.2 L110.1 821.3 L110.2 820.3 L110.4 818.5 L110.6 818.2 L110.8 819.2 L111 819.1 L111.2 819.6 L111.4 821.1 L111.6 823.4 L111.8 825.4 L111.9 825.4 L112.1 825.2 L112.3 825.9 L112.5 824 L112.7 823.8 L112.9 823.1 L113.1 821.5 L113.3 822.6 L113.4 825.2 L113.6 824.3 L113.8 825.2 L114 823.5 L114.2 823.1 L114.4 821.8 L114.6 820.9 L114.8 823.6 L114.9 822.7 L115.1 823.6 L115.3 824.6 L115.5 825.2 L115.7 824.3 L115.9 823.1 L116.1 821.8 L116.3 824 L116.4 824.9 L116.6 828 L116.8 828.2 L117 827.4 L117.2 828.4 L117.4 828.1 L117.6 827.9 L117.8 826.6 L117.9 827.7 L118.1 828.8 L118.3 829.8 L118.5 827.6 L118.7 826.3 L118.9 826.5 L119.1 826.4 L119.2 826.3 L119.4 826.2 L119.6 826.6 L119.8 827.2 L120 828.9 L120.2 829.9 L120.4 827.9 L120.5 827.3 L120.7 827.3 L120.9 827.7 L121.1 827.8 L121.3 827.4 L121.5 828.4 L121.7 828.3 L121.8 828.1 L122 829.2 L122.2 830.3 L122.4 831.8 L122.6 833.3 L122.8 832.2 L123 835.5 L123.1 835.9 L123.3 836.9 L123.5 837.8 L123.7 837.8 L123.9 836.4 L124.1 836.5 L124.2 836.8 L124.4 837.7 L124.6 838 L124.8 836.9 L125 837.5 L125.2 839.2 L125.4 841 L125.5 842.5 L125.7 844.5 L125.9 843.2 L126.1 842.8 L126.3 843.2 L126.5 841.5 L126.7 842.4 L126.8 841.6 L127 840.7 L127.2 842.8 L127.4 845 L127.6 846.3 L127.8 845.2 L128 843.7 L128.1 845.4 L128.3 844.2 L128.5 844.8 L128.7 845.4 L128.9 845.5 L129.1 845.3 L129.3 847 L129.5 847.2 L129.6 847.2 L129.8 847.2 L130 844 L130.2 839.8 L130.4 839.6 L130.6 841.2 L130.8 841.1 L131 841.6 L131.2 838.4 L131.4 837 L131.6 837.3 L131.7 835.4 L131.9 834.1 L132.1 835.6 L132.3 835.6 L132.5 835.3 L132.7 835.6 L132.9 835.7 L133.1 836.4 L133.2 836.4 L133.4 837.5 L133.6 838.9 L133.8 837.2 L134 837 L134.2 836.7 L134.4 839.1 L134.5 839.6 L134.7 838.8 L134.9 840.7 L135.1 839.6 L135.3 840.4 L135.5 840.1 L135.7 840.6 L135.8 840.6 L136 839.3 L136.2 840.1 L136.4 838.3 L136.6 839.6 L136.8 841.1 L137 840.5 L137.1 842.1 L137.3 842.9 L137.5 842 L137.7 840.7 L137.9 843.3 L138.1 842.9 L138.2 840.7 L138.4 839.4 L138.6 840 L138.8 841.1 L139 841.7 L139.2 843.5 L139.4 844.1 L139.5 844.7 L139.7 845.1 L139.9 843.9 L140.1 844.4 L140.3 846.6 L140.5 845.5 L140.7 847.2 L140.8 847.2 L141 847.2 L141.2 847.2 L141.4 847.2 L141.6 847.2 L141.8 847.2 L142 847.2 L142.1 847.2 L142.3 847.2 L142.5 847.2 L142.7 847.2 L142.9 846.6 L143.1 847.2 L143.3 847.2 L143.5 847.2 L143.6 847.2 L143.8 847.2 L144 847 L144.2 847.2 L144.4 847.1 L144.6 847.2 L144.8 847 L145 846.1 L145.2 846.5 L145.3 847.2 L145.5 847.2 L145.7 847.1 L145.9 845.4 L146.1 844.1 L146.3 842.9 L146.5 841.8 L146.7 841.7 L146.9 840.8 L147 842.2 L147.2 842.4 L147.4 843.3 L147.6 842.3 L147.8 843 L148 842 L148.2 840.3 L148.4 837.3 L148.6 837.2 L148.7 837.3 L148.9 835 L149.1 835.3 L149.3 833.5 L149.5 833.1 L149.7 832 L149.9 833.2 L150.1 831.1 L150.3 830.6 L150.5 830.6 L150.7 826.7 L150.8 824.6 L151 818.8 L151.2 817.1 L151.4 816.4 L151.6 815.1 L151.8 813.9 L152 814.8 L152.2 815.1 L152.4 815.3 L152.5 817.4 L152.7 818.1 L152.9 819.7 L153.1 822.2 L153.3 822 L153.5 822 L153.7 822.8 L153.9 824.9 L154.1 828.4 L154.3 828.7 L154.5 829.7 L154.6 832.8 L154.8 833.7 L155 836.6 L155.2 837.6 L155.4 838.3 L155.6 837.5 L155.8 836.9 L156 836.4 L156.1 837.5 L156.3 837.7 L156.5 838.1 L156.7 838.1 L156.9 837.4 L157.1 836.3 L157.3 833.8 L157.4 836.9 L157.6 836.1 L157.8 836 L158 832.7 L158.2 831.2 L158.4 833 L158.6 832.2 L158.7 832.6 L158.9 831 L159.1 832 L159.3 831.8 L159.5 831.7 L159.7 831.5 L159.9 832 L160 834.1 L160.2 833.1 L160.4 831.5 L160.6 831.3 L160.8 832.3 L161 831.7 L161.2 830.7 L161.3 830.6 L161.5 830.3 L161.7 828.2 L161.9 829.3 L162.1 829.7 L162.3 831.9 L162.4 832.5 L162.6 833.2 L162.8 834.1 L163 834.7 L163.2 832 L163.4 832 L163.6 831.8 L163.7 828.6 L163.9 828.4 L164.1 830.4 L164.3 829.5 L164.5 830.4 L164.7 828 L164.9 829.3 L165 829.7 L165.2 831.5 L165.4 831.1 L165.6 832.1 L165.8 831.9 L166 832.1 L166.2 832.6 L166.3 831 L166.5 829.5 L166.7 829.1 L166.9 829.9 L167.1 831.5 L167.3 831.4 L167.5 828.4 L167.6 829.2 L167.8 830.4 L168 831.5 L168.2 833.1 L168.4 834.6 L168.6 835 L168.8 833.3 L169 833.5 L169.1 834.4 L169.3 836.6 L169.5 836.6 L169.7 836.8 L169.9 838.6 L170.1 840.2 L170.3 840.4 L170.4 839.3 L170.6 838.6 L170.8 838.5 L171 839.1 L171.2 838.9 L171.4 839.1 L171.6 836.4 L171.8 838.1 L171.9 838.8 L172.1 837.3 L172.3 837.8 L172.5 836.1 L172.7 836.4 L172.9 836.4 L173.1 837 L173.2 839 L173.4 840.5 L173.6 837.7 L173.8 837.1 L174 836.5 L174.2 835.4 L174.4 834.8 L174.6 833.7 L174.7 834.2 L174.9 834.7 L175.1 833.6 L175.3 834.2 L175.5 836.2 L175.7 836.6 L175.9 837.5 L176.1 836.9 L176.2 838 L176.4 839.6 L176.6 840.2 L176.8 838.4 L177 838.6 L177.2 838.6 L177.4 838.8 L177.5 838.5 L177.7 837.5 L177.9 835.9 L178.1 838.2 L178.3 836.6 L178.5 836.8 L178.7 837.4 L178.9 834.4 L179 834.8 L179.2 832.5 L179.4 831.4 L179.6 832.9 L179.8 832 L180 830.8 L180.2 830.7 L180.3 833.5 L180.5 833.7 L180.7 833.7 L180.9 834.8 L181.1 832.2 L181.3 832.3 L181.5 832.5 L181.6 832.6 L181.8 833.4 L182 834.2 L182.2 833.8 L182.4 833.1 L182.6 833.5 L182.8 833.4 L182.9 834.9 L183.1 834 L183.3 834.7 L183.5 834.1 L183.7 835.1 L183.9 835.5 L184 834.9 L184.2 836.3 L184.4 832.8 L184.6 832.6 L184.8 832.4 L185 833.1 L185.2 830.7 L185.3 828.7 L185.5 828 L185.7 829.5 L185.9 829.9 L186.1 828.9 L186.3 829.3 L186.5 830.6 L186.6 831.9 L186.8 832.6 L187 832.3 L187.2 832.9 L187.4 835.7 L187.6 834.8 L187.8 835.2 L187.9 839.3 L188.1 841.6 L188.3 844.3 L188.5 847.2 L188.7 847 L188.9 847.2 L189.1 847.2 L189.3 847.2 L189.5 847.2 L189.6 847.2 L189.8 847.2 L190 847.2 L190.2 847.2 L190.4 847.2 L190.6 847.2 L190.8 847.2 L191 847.2 L191.2 847.2 L191.3 847.2 L191.5 847.2 L191.7 847.2 L191.9 847.2 L192.1 847.2 L192.3 847.2 L192.5 847.2 L192.7 847.2 L192.9 847.2 L193.1 847.2 L193.2 847.2 L193.4 847.2 L193.6 847.2 L193.8 847.2 L194 847.2 L194.2 847.2 L194.4 847.2 L194.6 847.2 L194.8 847.2 L194.9 847.2 L195.1 847.2 L195.3 847.2 L195.5 847.2 L195.7 847.2 L195.9 847.2 L196.1 847.2 L196.3 847.2 L196.5 847.2 L196.6 847.2 L196.8 847.2 L197 847.2 L197.2 847.2 L197.4 847.2 L197.6 847.2 L197.8 847.2 L198 847.2 L198.2 847.2 L198.3 847.2 L198.5 847.2 L198.7 847.2 L198.9 847.2 L199.1 847.2 L199.3 847.2 L199.5 847.2 L199.7 847.2 L199.9 847.2 L200 847.2 L200.2 847.2 L200.4 847.2 L200.6 847.2 L200.8 847.2 L201 847.2 L201.2 847.2 L201.4 847.2 L201.6 847.2 L201.7 847.2 L201.9 847.2 L202.1 847.2 L202.3 847.2 L202.5 847.2 L202.7 847.2 L202.9 847.2 L203.1 847.2 L203.3 847.2 L203.4 847.2 L203.6 847.2 L203.8 847.2 L204 847.2 L204.2 847.2 L204.4 847.2 L204.6 847.2 L204.8 847.2 L205 847.2 L205.1 847.2 L205.3 847.2 L205.5 847.2 L205.7 847.2 L205.9 847.2 L206.1 847.2 L206.3 847.2 L206.5 847.2 L206.7 847.2 L206.8 847.2 L207 847.2 L207.2 847.2 L207.4 847.2 L207.6 847.2 L207.8 847.2 L208 847.2 L208.2 847.2 L208.4 847.2 L208.5 847.2 L208.7 847.2 L208.9 847.2 L209.1 847.2 L209.3 847.2 L209.5 847.2 L209.7 847.2 L209.9 847.2 L210.1 847.2 L210.2 847.2 L210.4 847.2 L210.6 847.2 L210.8 847.2 L211 847.2 L211.2 847.2 L211.4 847.2 L211.6 847.2 L211.8 847.2 L211.9 847.2 L212.1 847.2 L212.3 847.2 L212.5 847.2 L212.7 847.2 L212.9 847.2 L213.1 847.2 L213.3 847.2 L213.5 846.3 L213.7 847.2 L213.9 847.2 L214 845.6 L214.2 843.6 L214.4 840.7 L214.6 840.1 L214.8 835.1 L215 832.5 L215.2 830.5 L215.4 828.2 L215.6 826.1 L215.8 825.1 L215.9 825 L216.1 822.8 L216.3 821.4 L216.5 823 L216.7 823.5 L216.9 822 L217.1 821 L217.2 819.7 L217.4 818 L217.6 816.9 L217.8 814 L218 813.9 L218.2 813.5 L218.4 812.2 L218.5 810.4 L218.7 808.4 L218.9 805.6 L219.1 805.4 L219.3 802.9 L219.5 801.5 L219.6 801.9 L219.8 801.2 L220 797.6 L220.2 795.7 L220.4 795.4 L220.6 797.7 L220.8 797.8 L220.9 797.8 L221.1 796.8 L221.3 792.9 L221.5 791.1 L221.7 789.8 L221.9 790.1 L222.1 790.8 L222.2 790.2 L222.4 789.9 L222.6 785.1 L222.8 784.7 L223 785.2 L223.2 783.3 L223.4 782.9 L223.5 784.1 L223.7 782.1 L223.9 782.1 L224.1 783.5 L224.3 782.7 L224.5 781.7 L224.7 781.8 L224.8 780.5 L225 779.1 L225.2 779.9 L225.4 782.2 L225.6 785 L225.8 784.8 L226 782.8 L226.1 781.1 L226.3 779 L226.5 776.2 L226.7 775.8 L226.9 774 L227.1 775.7 L227.3 774.4 L227.4 773.5 L227.6 773.3 L227.8 773.5 L228 774.6 L228.2 774.7 L228.4 773.2 L228.6 773.9 L228.7 773.5 L228.9 774.6 L229.1 774.5 L229.3 776 L229.5 775.8 L229.7 776.3 L229.9 776.1 L230 777.2 L230.2 778.9 L230.4 779.6 L230.6 778.5 L230.8 776.7 L231 777.3 L231.1 776.5 L231.3 775.8 L231.5 775.5 L231.7 777.7 L231.9 777.6 L232.1 779.1 L232.3 777.8 L232.4 777 L232.6 776.4 L232.8 779.9 L233 779.4 L233.2 775.5 L233.4 774.3 L233.6 770.1 L233.7 767.1 L233.9 764.5 L234.1 762.5 L234.3 760.9 L234.5 758.6 L234.7 751.6 L234.9 748.4 L235 745.3 L235.2 743.2 L235.4 741.1 L235.6 738.9 L235.8 739.7 L236 738.2 L236.2 738.2 L236.4 736.7 L236.5 737.9 L236.7 736.3 L236.9 736 L237.1 734.8 L237.3 734.6 L237.5 735.4 L237.7 733.4 L237.9 733.6 L238 733.5 L238.2 734.3 L238.4 733.7 L238.6 733.8 L238.8 733.1 L239 732.3 L239.2 732.9 L239.4 734.3 L239.6 733.4 L239.7 731.9 L239.9 730.6 L240.1 731.8 L240.3 730.6 L240.5 729.8 L240.7 729 L240.9 728.1 L241.1 728.2 L241.2 727.5 L241.4 726 L241.6 726.3 L241.8 727.8 L242 727.6 L242.2 728.2 L242.4 731.5 L242.6 733.3 L242.7 733.4 L242.9 734.4 L243.1 735.2 L243.3 737.7 L243.5 737.4 L243.7 736 L243.9 737.1 L244 738.9 L244.2 741.3 L244.4 741 L244.6 741.8 L244.8 743.7 L245 743 L245.1 742.8 L245.3 742.9 L245.5 746.1 L245.7 747.1 L245.9 747.1 L246.1 749.6 L246.3 749.3 L246.4 748.3 L246.6 747.8 L246.8 749.6 L247 751.4 L247.2 749.8 L247.4 748.2 L247.6 746.2 L247.7 744.3 L247.9 744.1 L248.1 744.2 L248.3 746.3 L248.5 744.9 L248.7 741.6 L248.9 741.8 L249 742.1 L249.2 740.9 L249.4 740.1 L249.6 741.5 L249.8 742.1 L250 743.2 L250.2 740.2 L250.3 740.8 L250.5 739.3 L250.7 736.4 L250.9 733.6 L251.1 731.4 L251.3 728.9 L251.5 730.1 L251.6 730.2 L251.8 730.8 L252 730.9 L252.2 727.1 L252.4 728.9 L252.6 727.8 L252.7 729.1 L252.9 727 L253.1 724.9 L253.3 725.3 L253.5 722.2 L253.7 721.7 L253.9 719.7 L254 718.9 L254.2 719.3 L254.4 719.4 L254.6 719.2 L254.8 718.1 L255 717.6 L255.2 714.1 L255.3 714 L255.5 714.3 L255.7 714.9 L255.9 715.5 L256.1 717.1 L256.3 718 L256.5 716.5 L256.6 716 L256.8 715.9 L257 715.1 L257.2 713.3 L257.4 713.5 L257.6 713.5 L257.8 715.2 L258 716.5 L258.1 718.5 L258.3 719.7 L258.5 721.7 L258.7 723.2 L258.9 724.4 L259.1 725.7 L259.3 727 L259.5 728.7 L259.7 727.9 L259.9 729.4 L260.1 731.7 L260.2 732.4 L260.4 734.8 L260.6 737.2 L260.8 738.1 L261 741.3 L261.2 744.7 L261.4 743.5 L261.6 741.4 L261.7 742.7 L261.9 743.1 L262.1 741.5 L262.3 743.3 L262.5 743.7 L262.7 744.4 L262.9 743.9 L263 745.7 L263.2 743.7 L263.4 743.1 L263.6 741.9 L263.8 741.5 L264 743.5 L264.1 742.9 L264.3 743.8 L264.5 743 L264.7 743.3 L264.9 742.9 L265.1 742.4 L265.3 740.6 L265.4 738.8 L265.6 739.3 L265.8 738.5 L266 735.8 L266.2 734.3 L266.4 734.5 L266.6 733.8 L266.7 733.5 L266.9 731.4 L267.1 730.6 L267.3 729.3 L267.5 725.6 L267.7 726.6 L267.9 727.1 L268 728.6 L268.2 729.8 L268.4 727.9 L268.6 726.7 L268.8 723.8 L269 725.6 L269.1 725.9 L269.3 723.2 L269.5 721.1 L269.7 719.1 L269.9 717.2 L270.1 716.3 L270.3 715.5 L270.4 714.7 L270.6 712.8 L270.8 712.2 L271 710.9 L271.2 709.3 L271.4 711 L271.6 712.3 L271.8 711.8 L271.9 712.4 L272.1 712.8 L272.3 710.4 L272.5 710.1 L272.7 710.9 L272.9 709.7 L273.1 706.7 L273.3 708.4 L273.5 709.5 L273.6 709.6 L273.8 710.7 L274 708.1 L274.2 707.7 L274.4 708.5 L274.6 708.1 L274.8 709.4 L275 710.4 L275.1 710.5 L275.3 707.7 L275.5 710.9 L275.7 710.6 L275.9 709.1 L276.1 708.4 L276.3 706.1 L276.5 705.8 L276.7 705.8 L276.8 706.3 L277 707.6 L277.2 705.7 L277.4 707.6 L277.6 708 L277.8 709.5 L278 711.4 L278.2 715.1 L278.4 716.5 L278.5 717.1 L278.7 717.8 L278.9 717.5 L279.1 718.6 L279.3 720.2 L279.5 720.7 L279.7 720.6 L279.9 722.7 L280.1 725.5 L280.3 727.7 L280.4 727.1 L280.6 726.7 L280.8 728.7 L281 729.4 L281.2 729.1 L281.4 728.2 L281.6 727.5 L281.8 726.3 L282 722.9 L282.2 718.2 L282.3 714.6 L282.5 714.6 L282.7 712.4 L282.9 711.3 L283.1 709.8 L283.3 709.1 L283.5 708.2 L283.7 706.6 L283.9 702.7 L284.1 700.3 L284.3 698.1 L284.4 696.6 L284.6 696 L284.8 694.7 L285 691.6 L285.2 688.9 L285.4 686.5 L285.6 686.4 L285.8 686.6 L285.9 688.9 L286.1 688.5 L286.3 691 L286.5 689.2 L286.7 690.2 L286.9 690.3 L287.1 692.3 L287.3 693.1 L287.4 694.5 L287.6 693.2 L287.8 693.1 L288 694.8 L288.2 697.5 L288.4 697.8 L288.6 698.6 L288.8 700.2 L288.9 699.6 L289.1 700 L289.3 700.1 L289.5 701 L289.7 702 L289.9 702.7 L290.1 705 L290.2 704.4 L290.4 704 L290.6 706.5 L290.8 706.5 L291 705.2 L291.2 705 L291.4 703.5 L291.6 704.1 L291.7 704.2 L291.9 706.1 L292.1 707.5 L292.3 710 L292.5 711.4 L292.7 711.3 L292.9 710.8 L293 709.4 L293.2 709.4 L293.4 710.9 L293.6 710.5 L293.8 710.9 L294 708.7 L294.2 706.3 L294.4 705.3 L294.5 706.9 L294.7 707.8 L294.9 707.7 L295.1 708.8 L295.3 708.3 L295.5 707.6 L295.7 706.7 L295.9 706.6 L296 707.9 L296.2 709.2 L296.4 709.5 L296.6 708 L296.8 706.2 L297 705.3 L297.2 705.2 L297.3 704.6 L297.5 703.9 L297.7 702.5 L297.9 701.7 L298.1 704.1 L298.3 703.2 L298.5 703 L298.6 704 L298.8 703.6 L299 703.6 L299.2 704 L299.4 706.5 L299.6 706.7 L299.8 706.3 L299.9 706.7 L300.1 709.1 L300.3 708.9 L300.5 708.3 L300.7 708.4 L300.9 708.2 L301 709 L301.2 710.2 L301.4 709.8 L301.6 710.6 L301.8 710.7 L302 706.8 L302.2 706.2 L302.3 706.4 L302.5 708.8 L302.7 709 L302.9 708.4 L303.1 709.6 L303.3 710.3 L303.5 713.6 L303.6 713.2 L303.8 714.3 L304 713.7 L304.2 712.3 L304.4 712.8 L304.6 711.9 L304.8 711.9 L304.9 712.5 L305.1 713.2 L305.3 714.7 L305.5 713.3 L305.7 713.1 L305.9 715.3 L306.1 715.1 L306.2 717 L306.4 719.9 L306.6 719.2 L306.8 721.8 L307 721.2 L307.2 721.8 L307.4 721.6 L307.6 721.8 L307.7 721.2 L307.9 721.7 L308.1 721.8 L308.3 722.4 L308.5 721.9 L308.7 723.3 L308.9 722.9 L309.1 721.8 L309.2 722.8 L309.4 723.2 L309.6 724.7 L309.8 726 L310 726.6 L310.2 728 L310.4 730 L310.6 731 L310.7 731.7 L310.9 732.1 L311.1 732.1 L311.3 735.4 L311.5 734.4 L311.7 735.6 L311.9 737.5 L312.1 738.9 L312.2 739.2 L312.4 739 L312.6 740.4 L312.8 741.1 L313 744.1 L313.2 744.8 L313.4 745.8 L313.6 747.3 L313.7 747.1 L313.9 745.6 L314.1 745.2 L314.3 747.1 L314.5 746.1 L314.7 747 L314.9 747.5 L315.1 748.7 L315.2 748.6 L315.4 748.3 L315.6 748.6 L315.8 749.4 L316 750 L316.2 751 L316.4 750.2 L316.5 751.4 L316.7 752 L316.9 752.8 L317.1 754.2 L317.3 755 L317.5 757.4 L317.6 757.3 L317.8 757.1 L318 757.9 L318.2 756.4 L318.4 757.9 L318.6 757.6 L318.8 757.5 L318.9 758.7 L319.1 759.4 L319.3 758.8 L319.5 759.1 L319.7 759.3 L319.9 758 L320.1 758.3 L320.3 761 L320.4 762.5 L320.6 762 L320.8 762.7 L321 764.6 L321.2 767.8 L321.4 767.9 L321.6 766.5 L321.8 768.6 L322 772 L322.2 771.9 L322.3 773.2 L322.5 774.1 L322.7 775.1 L322.9 776.8 L323.1 776.7 L323.3 776.1 L323.5 776.2 L323.7 777.4 L323.9 776.6 L324.1 777.3 L324.2 777.1 L324.4 778.9 L324.6 778.5 L324.8 778.1 L325 777 L325.2 778.1 L325.4 778.7 L325.6 780.7 L325.7 780.7 L325.9 780.9 L326.1 780.6 L326.3 782.3 L326.5 785.1 L326.7 786.4 L326.9 787.8 L327 790 L327.2 790.4 L327.4 790.3 L327.6 791 L327.8 790.7 L328 791.4 L328.1 793.8 L328.3 795.8 L328.5 797.4 L328.7 797.7 L328.9 797.7 L329.1 798.7 L329.3 798.6 L329.4 800.8 L329.6 802.1 L329.8 801.4 L330 802 L330.2 801.3 L330.4 804.5 L330.6 807.3 L330.7 809.1 L330.9 808.5 L331.1 807.1 L331.3 808.6 L331.5 810.6 L331.7 812.6 L331.9 814.4 L332 814.4 L332.2 815.5 L332.4 813.7 L332.6 813.5 L332.8 815.1 L333 815.5 L333.1 816.4 L333.3 816 L333.5 815.6 L333.7 816.7 L333.9 816.2 L334.1 816.2 L334.3 817 L334.4 817.4 L334.6 817.2 L334.8 818.3 L335 819.8 L335.2 818.5 L335.4 818.9 L335.6 820 L335.7 819.7 L335.9 822 L336.1 822.2 L336.3 824.3 L336.5 825.2 L336.7 827.9 L336.9 829.1 L337 828.3 L337.2 828.9 L337.4 830.8 L337.6 828.9 L337.8 830.1 L338 828.5 L338.2 829.5 L338.3 831.7 L338.5 829.7 L338.7 830.6 L338.9 830 L339.1 828.8 L339.3 830.8 L339.5 831.1 L339.7 832.1 L339.8 831.7 L340 832.1 L340.2 834 L340.4 834.3 L340.6 833.7 L340.8 834.4 L341 834 L341.1 835 L341.3 835.4 L341.5 835.3 L341.7 835.5 L341.9 834.2 L342.1 833.3 L342.3 832.6 L342.4 832 L342.6 832.1 L342.8 833.9 L343 832.9 L343.2 830.8 L343.4 830.6 L343.6 831 L343.7 831.1 L343.9 829.7 L344.1 829.4 L344.3 830.7 L344.5 831 L344.7 832.1 L344.9 832.4 L345 833.7 L345.2 834.9 L345.4 833.1 L345.6 831.8 L345.8 834 L346 835.3 L346.1 836 L346.3 836.5 L346.5 838.4 L346.7 837.3 L346.9 839.5 L347.1 838.7 L347.3 837.9 L347.4 838.4 L347.6 839.4 L347.8 839.4 L348 839.3 L348.2 842 L348.4 843.7 L348.6 843.1 L348.7 843.4 L348.9 844 L349.1 845.3 L349.3 846.3 L349.5 847.2 L349.7 843.9 L349.9 845.6 L350 843.7 L350.2 843.2 L350.4 843 L350.6 842.8 L350.8 843.4 L351 841.4 L351.1 840.9 L351.3 841 L351.5 841.2 L351.7 841 L351.9 842.6 L352.1 843.1 L352.3 844 L352.4 843.3 L352.6 842.6 L352.8 845 L353 845.4 L353.2 844.3 L353.4 846.2 L353.6 847.2 L353.7 846.8 L353.9 847.1 L354.1 847.2 L354.3 847.2 L354.5 847.2 L354.7 847.2 L354.9 847.2 L355 847.2 L355.2 847.2 L355.4 847.2 L355.6 847.2 L355.8 847.2 L356 847.2 L356.1 847.2 L356.3 847.2 L356.5 847.2 L356.7 847.2 L356.9 847.2 L357.1 847.2 L357.3 847.2 L357.4 847.2 L357.6 847.2 L357.8 847.2 L358 847.2 L358.2 847.2 L358.4 847.2 L358.6 847.2 L358.8 847.2 L359 847.2 L359.1 847.2 L359.3 847.2 L359.5 846.1 L359.7 846.7 L359.9 845.7 L360.1 844.5 L360.3 844.9 L360.5 842.6 L360.7 841.2 L360.9 841.4 L361 842.1 L361.2 841.8 L361.4 838 L361.6 834.4 L361.8 836.8 L362 838.3 L362.2 837.8 L362.4 838.3 L362.6 839.4 L362.8 839 L362.9 839.2 L363.1 839.2 L363.3 839.2 L363.5 841 L363.7 839.6 L363.9 840.6 L364.1 839.5 L364.3 838.9 L364.5 839.2 L364.7 839.4 L364.8 839.8 L365 842.5 L365.2 843.3 L365.4 843.1 L365.6 845.5 L365.8 847.2 L366 846.5 L366.2 845.5 L366.4 847.2 L366.5 847.1 L366.7 847.2 L366.9 846.1 L367.1 846.6 L367.3 846.9 L367.5 847.2 L367.7 847.2 L367.9 847.2 L368 847.2 L368.2 847.2 L368.4 847.2 L368.6 847.2 L368.8 847.2 L369 847.2 L369.2 847.2 L369.3 847.2 L369.5 847.2 L369.7 847.2 L369.9 847.2 L370.1 847.2 L370.3 847.2 L370.5 847.2 L370.7 847.2 L370.8 847.2 L371 847.2 L371.2 847.2 L371.4 847.2 L371.6 847.2 L371.8 847.2 L372 847.2 L372.1 847.2 L372.3 847.2 L372.5 847.2 L372.7 847.2 L372.9 847.2 L373.1 847.2 L373.3 847.2 L373.5 847.2 L373.6 847.2 L373.8 847.2 L374 847.2 L374.2 847.2 L374.4 847.2 L374.6 847.2 L374.8 847.2 L375 847.2 L375.1 847.2 L375.3 847.2 L375.5 847.2 L375.7 847.2 L375.9 847.2 L376.1 847.2 L376.3 847.2 L376.4 847.2 L376.6 847.2 L376.8 847.2 L377 846.6 L377.2 846.7 L377.4 847.2 L377.6 847.2 L377.8 847.2 L377.9 847.2 L378.1 847.2 L378.3 847.2 L378.5 847.2 L378.7 847.2 L378.9 847.2 L379.1 847.2 L379.3 847.2 L379.4 847.2 L379.6 847.2 L379.8 847.2 L380 847.2 L380.2 847.2 L380.4 847.2 L380.6 847.2 L380.8 847.2 L380.9 847.2 L381.1 847.2 L381.3 847.2 L381.5 847.2 L381.7 847.2 L381.9 847.2 L382.1 847.2 L382.3 847.2 L382.4 847.2 L382.6 847.2 L382.8 847.2 L383 847.2 L383.2 847.2 L383.4 847.2 L383.6 847.2 L383.8 847.2 L383.9 847.2 L384.1 847.2 L384.3 847.2 L384.5 847.2 L384.7 847.2 L384.9 847.2 L385.1 847.2 L385.3 847.2 L385.4 847.2 L385.6 847.2 L385.8 847.2 L386 847.2 L386.2 847.2 L386.4 847.2 L386.6 847.2 L386.7 847.2 L386.9 847.2 L387.1 847.2 L387.3 847.2 L387.5 847.2 L387.7 847.2 L387.9 847.2 L388 846.4 L388.2 844.8 L388.4 843.9 L388.6 843.4 L388.8 844.7 L389 844.4 L389.2 841.9 L389.3 840.4 L389.5 842 L389.7 844.6 L389.9 845.3 L390.1 844.9 L390.3 845.5 L390.5 845.7 L390.6 845.1 L390.8 843.8 L391 843.3 L391.2 841.5 L391.4 843.2 L391.6 842.5 L391.8 841.8 L391.9 843.5 L392.1 841.7 L392.3 843.7 L392.5 845.4 L392.7 841.7 L392.9 839.7 L393.1 838.9 L393.3 836.9 L393.5 835.1 L393.6 836.4 L393.8 835.5 L394 833.4 L394.2 833.3 L394.4 833 L394.6 833.3 L394.8 832.1 L395 832.5 L395.2 833.1 L395.4 834.4 L395.5 835.4 L395.7 834.8 L395.9 833.9 L396.1 834.2 L396.3 835.3 L396.5 834.3 L396.7 833.3 L396.9 831.2 L397.1 831.3 L397.2 831.3 L397.4 830.1 L397.6 827.6 L397.8 827.1 L398 826.7 L398.2 827.4 L398.4 827.4 L398.6 825.7 L398.7 824 L398.9 822 L399.1 823.7 L399.3 822.1 L399.5 822.8 L399.7 821.5 L399.9 824.1 L400.1 823.7 L400.2 824.3 L400.4 822.1 L400.6 821.4 L400.8 819.2 L401 819.3 L401.2 816.1 L401.4 816.2 L401.6 813.2 L401.7 813.3 L401.9 814.1 L402.1 812.4 L402.3 812.4 L402.5 812 L402.7 813.2 L402.9 813.1 L403.1 812.5 L403.2 812.9 L403.4 811.9 L403.6 814.4 L403.8 812.7 L404 812.7 L404.2 809.9 L404.4 809.5 L404.6 809.5 L404.7 809.2 L404.9 808 L405.1 806.3 L405.3 806.1 L405.5 806.3 L405.7 804.9 L405.9 802.9 L406 804.3 L406.2 804.9 L406.4 804.9 L406.6 801.8 L406.8 799.3 L407 797.4 L407.1 795.9 L407.3 796.5 L407.5 794.1 L407.7 793.8 L407.9 794 L408.1 790.6 L408.3 791.7 L408.4 789 L408.6 787.8 L408.8 788.2 L409 787.1 L409.2 786.6 L409.4 784.7 L409.6 783.9 L409.7 783.8 L409.9 778.6 L410.1 777.7 L410.3 774.7 L410.5 773.1 L410.7 770.6 L410.8 770.6 L411 770.3 L411.2 773 L411.4 770 L411.6 767.8 L411.8 767.7 L411.9 764.9 L412.1 762.5 L412.3 757 L412.5 755 L412.7 752.2 L412.9 749.7 L413 747 L413.2 745.4 L413.4 744.3 L413.6 741.7 L413.8 738.4 L414 738.3 L414.1 738.2 L414.3 736.6 L414.5 732.5 L414.7 731.2 L414.9 734.9 L415.1 735.2 L415.3 735.6 L415.4 734.5 L415.6 735.7 L415.8 734.5 L416 736.9 L416.2 737.1 L416.4 738.3 L416.6 741.4 L416.8 743.1 L416.9 742.8 L417.1 742.8 L417.3 744.7 L417.5 744.6 L417.7 744.9 L417.9 745.1 L418.1 746.2 L418.2 747.2 L418.4 749.7 L418.6 751.2 L418.8 752.5 L419 754.9 L419.2 756.7 L419.4 757.9 L419.6 759 L419.7 759.1 L419.9 761.9 L420.1 763.8 L420.3 764.9 L420.5 766.8 L420.7 767.8 L420.9 769.8 L421.1 769.7 L421.2 771.4 L421.4 774.4 L421.6 774.8 L421.8 774 L422 776.3 L422.2 776.2 L422.4 775.8 L422.6 774.2 L422.7 771.9 L422.9 771.8 L423.1 773.6 L423.3 772.4 L423.5 770.8 L423.7 769.9 L423.9 769.5 L424.1 770.3 L424.3 766.8 L424.4 768.1 L424.6 769.9 L424.8 768.3 L425 767.6 L425.2 766.4 L425.4 765.7 L425.6 763.2 L425.8 761 L426 761.5 L426.1 759.9 L426.3 761.1 L426.5 763.1 L426.7 761.2 L426.9 761.5 L427.1 762.3 L427.3 760.2 L427.5 759 L427.6 756.3 L427.8 754.3 L428 753.2 L428.2 752.1 L428.4 749 L428.6 748.1 L428.8 745.9 L428.9 745.1 L429.1 742.4 L429.3 738 L429.5 735.1 L429.7 731.6 L429.9 728.9 L430.1 728.1 L430.2 726.4 L430.4 724.2 L430.6 721.6 L430.8 720.3 L431 717.4 L431.2 716.3 L431.3 714.1 L431.5 712 L431.7 711.5 L431.9 708.1 L432.1 705.9 L432.3 703.7 L432.5 701.7 L432.6 702.4 L432.8 702.1 L433 701.2 L433.2 697.9 L433.4 702.5 L433.6 705.5 L433.8 710.7 L434 715.7 L434.2 720.1 L434.3 722.6 L434.5 728.6 L434.7 732.7 L434.9 736 L435.1 739.7 L435.3 743.5 L435.5 746.3 L435.7 749.8 L435.9 755 L436.1 758 L436.2 762.9 L436.4 767.2 L436.6 769.1 L436.8 769.7 L437 771.6 L437.2 770 L437.4 769.9 L437.6 769.8 L437.8 766.5 L437.9 765 L438.1 765.8 L438.3 762.6 L438.5 760.7 L438.7 757.9 L438.9 756.3 L439.1 758.1 L439.3 757.9 L439.4 757 L439.6 756.2 L439.8 753.1 L440 752.9 L440.2 751.9 L440.4 750.9 L440.6 749.9 L440.8 750.2 L440.9 750.7 L441.1 753.1 L441.3 751.5 L441.5 750.7 L441.7 749.4 L441.9 749.7 L442.1 748.6 L442.3 748.8 L442.4 749 L442.6 747.5 L442.8 745.6 L443 743.7 L443.2 742.7 L443.4 742.1 L443.6 739.2 L443.8 736.4 L443.9 736.2 L444.1 736.5 L444.3 734.9 L444.5 733.4 L444.7 733.6 L444.9 728.2 L445.1 728.6 L445.3 727.3 L445.5 724.6 L445.6 720.9 L445.8 721 L446 719.2 L446.2 714.9 L446.4 710.7 L446.6 708.7 L446.8 706.2 L447 705 L447.2 702.1 L447.4 701.2 L447.6 701.5 L447.7 701.1 L447.9 698.7 L448.1 698 L448.3 694.2 L448.5 690.1 L448.7 689.5 L448.9 689.4 L449.1 688.6 L449.3 689 L449.5 688.6 L449.6 688.7 L449.8 688.4 L450 690.5 L450.2 692.1 L450.4 694.2 L450.6 693.8 L450.8 693.9 L451 695.6 L451.2 697.7 L451.3 699.2 L451.5 698.7 L451.7 699.6 L451.9 700.7 L452.1 702.3 L452.3 703.2 L452.5 701.3 L452.7 702.3 L452.9 703 L453.1 700.9 L453.2 700.1 L453.4 701.8 L453.6 700.5 L453.8 702.4 L454 701.8 L454.2 705.3 L454.4 706.8 L454.6 705.7 L454.7 706.7 L454.9 707.8 L455.1 707.9 L455.3 708.1 L455.5 708.9 L455.7 709.9 L455.9 707.7 L456.1 705.9 L456.3 705.7 L456.4 707.4 L456.6 708.2 L456.8 708.8 L457 708.3 L457.2 706.4 L457.4 707.2 L457.6 707.2 L457.8 707.9 L457.9 707.9 L458.1 709 L458.3 708.6 L458.5 707.3 L458.7 708 L458.9 707.8 L459.1 707 L459.3 708.2 L459.4 705.2 L459.6 706.3 L459.8 706.2 L460 706.8 L460.2 704.2 L460.4 704.2 L460.6 704.3 L460.7 701.2 L460.9 700.8 L461.1 701.2 L461.3 700.6 L461.5 699.7 L461.7 700.1 L461.9 699.7 L462 699.4 L462.2 697.9 L462.4 696.2 L462.6 694.5 L462.8 694.1 L463 692.4 L463.2 692.1 L463.3 690 L463.5 688.8 L463.7 688.8 L463.9 686.6 L464.1 688 L464.3 688.6 L464.4 689.1 L464.6 688.7 L464.8 689.7 L465 690.7 L465.2 692.5 L465.4 691.8 L465.6 692.2 L465.7 688.7 L465.9 687.1 L466.1 688 L466.3 685.6 L466.5 684.9 L466.7 682.9 L466.9 683.7 L467 681.6 L467.2 679.5 L467.4 679.5 L467.6 680 L467.8 680.8 L468 680.8 L468.2 678 L468.4 675.9 L468.5 674.3 L468.7 674.9 L468.9 675.7 L469.1 675.6 L469.3 676.2 L469.5 677.2 L469.7 677.8 L469.9 677 L470.1 677.5 L470.2 677.5 L470.4 678.2 L470.6 678.8 L470.8 679.5 L471 678.2 L471.2 678.2 L471.4 676.6 L471.6 677.2 L471.8 676.1 L471.9 678.3 L472.1 679.1 L472.3 679.5 L472.5 680.7 L472.7 681.2 L472.9 682.8 L473.1 683.3 L473.3 684.5 L473.4 684.9 L473.6 685.6 L473.8 687.3 L474 688.2 L474.2 688.5 L474.4 690.5 L474.6 690.7 L474.7 689.4 L474.9 690.1 L475.1 689.7 L475.3 689.2 L475.5 690.6 L475.7 689.2 L475.9 686.3 L476 688 L476.2 685.5 L476.4 686.8 L476.6 685.2 L476.8 687.9 L477 686.8 L477.1 686.9 L477.3 689 L477.5 690.4 L477.7 692.1 L477.9 693.6 L478.1 693.5 L478.3 694.1 L478.4 697.7 L478.6 698.5 L478.8 698.2 L479 698.4 L479.2 696.5 L479.4 699.3 L479.6 699.3 L479.7 699.6 L479.9 699 L480.1 701.1 L480.3 703.2 L480.5 704.5 L480.7 705.5 L480.9 708.9 L481.1 709.5 L481.2 710.6 L481.4 710.7 L481.6 715.2 L481.8 715.6 L482 717.8 L482.2 719.5 L482.4 719.5 L482.6 718.4 L482.8 719.2 L483 720.4 L483.2 719.8 L483.3 722 L483.5 723.3 L483.7 725 L483.9 727.4 L484.1 728.2 L484.3 725.6 L484.5 725.5 L484.7 724.9 L484.9 725.1 L485 723.8 L485.2 723.6 L485.4 724.9 L485.6 724.9 L485.8 723.2 L486 723.4 L486.2 722 L486.4 722.2 L486.6 719.7 L486.7 719.4 L486.9 718.7 L487.1 719.2 L487.3 718.2 L487.5 718.7 L487.7 720.7 L487.9 720.5 L488.1 722.2 L488.3 720.4 L488.4 719.5 L488.6 719.6 L488.8 718.8 L489 722.4 L489.2 720.5 L489.4 720.4 L489.6 718.6 L489.8 714.3 L490 715.5 L490.1 715.2 L490.3 713.8 L490.5 712.4 L490.7 713.7 L490.9 714 L491.1 711.1 L491.3 711 L491.5 709.3 L491.6 710.2 L491.8 710.5 L492 712 L492.2 710.8 L492.4 708.3 L492.6 707.3 L492.8 706.7 L493 705.5 L493.2 704 L493.3 703.4 L493.5 701.8 L493.7 698.3 L493.9 694.5 L494.1 694.3 L494.3 695.1 L494.5 691.6 L494.7 689.4 L494.8 686.9 L495 685.2 L495.2 684.6 L495.4 682.4 L495.6 680 L495.8 678.9 L496 680.8 L496.2 679.9 L496.3 680.8 L496.5 681.7 L496.7 681.6 L496.9 682.5 L497.1 679.9 L497.3 679.6 L497.5 679.7 L497.7 680.4 L497.8 680.5 L498 681.3 L498.2 680.9 L498.4 680.2 L498.6 679.6 L498.8 681.7 L499 682.5 L499.2 682.9 L499.3 684.9 L499.5 684.9 L499.7 685.5 L499.9 685.9 L500.1 685.8 L500.3 687.1 L500.5 685.4 L500.6 684.5 L500.8 685.7 L501 685.5 L501.2 685 L501.4 686.4 L501.6 687.3 L501.8 686.8 L502 690.7 L502.1 692.9 L502.3 692.9 L502.5 692.5 L502.7 694.1 L502.9 693.4 L503.1 691 L503.3 691.1 L503.4 691.6 L503.6 692 L503.8 693.7 L504 693.5 L504.2 693.7 L504.4 693.1 L504.6 691.7 L504.8 692.1 L504.9 692.3 L505.1 692.3 L505.3 690.4 L505.5 692.8 L505.7 693.2 L505.9 694.5 L506.1 694.8 L506.3 694.1 L506.4 694.4 L506.6 693.9 L506.8 694.1 L507 695.5 L507.2 695.6 L507.4 696.6 L507.6 695.6 L507.7 695.3 L507.9 693.5 L508.1 691.4 L508.3 691.8 L508.5 692.5 L508.7 690.9 L508.9 691.3 L509 690.3 L509.2 688.7 L509.4 688.5 L509.6 685.4 L509.8 689.4 L510 691.9 L510.2 695.6 L510.4 702.4 L510.5 705.7 L510.7 709 L510.9 711.3 L511.1 714.5 L511.3 718.5 L511.5 722.3 L511.7 725.7 L511.9 727.8 L512.1 731.2 L512.3 732.7 L512.4 734.6 L512.6 738.7 L512.8 740.4 L513 746.4 L513.2 749.4 L513.4 753.8 L513.6 752.9 L513.8 750.4 L514 749.3 L514.2 748.6 L514.3 745.9 L514.5 745.8 L514.7 745.9 L514.9 743.6 L515.1 741.8 L515.3 742.7 L515.5 741.4 L515.7 739.4 L515.9 738.6 L516.1 738.1 L516.3 736.9 L516.4 735.6 L516.6 735.5 L516.8 733.4 L517 734.5 L517.2 733.6 L517.4 731.1 L517.6 732.9 L517.8 733.3 L518 736.7 L518.1 738.1 L518.3 740 L518.5 740.3 L518.7 741.4 L518.9 739.3 L519.1 740.9 L519.3 741.3 L519.5 741.4 L519.6 740.9 L519.8 740.1 L520 742.6 L520.2 740.1 L520.4 740.8 L520.6 742.2 L520.8 744.7 L521 745.7 L521.2 748.4 L521.3 748.5 L521.5 749.7 L521.7 749.6 L521.9 751 L522.1 751.3 L522.3 748.8 L522.5 747.6 L522.7 747.8 L522.8 749.4 L523 747.9 L523.2 750.5 L523.4 752.7 L523.6 751.4 L523.8 751.5 L524 749 L524.2 747.6 L524.4 744 L524.5 741 L524.7 739.5 L524.9 739.6 L525.1 738.1 L525.3 735.6 L525.5 734.7 L525.7 737.8 L525.9 737.6 L526.1 737.4 L526.2 736.8 L526.4 736.5 L526.6 734.3 L526.8 735.3 L527 734 L527.2 735.9 L527.4 738.1 L527.6 738.7 L527.8 739 L527.9 739.5 L528.1 739.7 L528.3 738.2 L528.5 736.7 L528.7 735.9 L528.9 736.9 L529.1 739.1 L529.3 741.6 L529.4 744.7 L529.6 746.5 L529.8 749.2 L530 750.9 L530.2 751.1 L530.4 751.7 L530.6 751.2 L530.7 753.6 L530.9 757.7 L531.1 760.4 L531.3 759.1 L531.5 759.4 L531.7 761.2 L531.8 760.7 L532 762.5 L532.2 761.5 L532.4 763.3 L532.6 765.1 L532.8 765.4 L533 768.1 L533.1 769.6 L533.3 768.3 L533.5 768.9 L533.7 771.6 L533.9 771.7 L534.1 771.5 L534.3 772.2 L534.4 771.4 L534.6 769.5 L534.8 769.1 L535 767.7 L535.2 767.1 L535.4 766.6 L535.6 767.3 L535.8 765.8 L535.9 763.8 L536.1 764.1 L536.3 765 L536.5 764 L536.7 763.6 L536.9 761.9 L537.1 760.9 L537.3 760.8 L537.4 762.4 L537.6 761.3 L537.8 760.9 L538 762.3 L538.2 764 L538.4 766.1 L538.6 765 L538.8 765.3 L538.9 769.4 L539.1 770.3 L539.3 770.9 L539.5 770.8 L539.7 770.5 L539.9 770.6 L540.1 769.4 L540.3 767.8 L540.4 767.8 L540.6 765.5 L540.8 765.4 L541 766.3 L541.2 765.8 L541.4 767.4 L541.6 767.5 L541.8 768.7 L541.9 769 L542.1 768.4 L542.3 771.4 L542.5 770.6 L542.7 770 L542.9 770 L543.1 768.8 L543.3 768.1 L543.4 768.3 L543.6 769.4 L543.8 768.1 L544 766.9 L544.2 768.3 L544.4 768.8 L544.6 769.8 L544.7 768.2 L544.9 768.5 L545.1 769.6 L545.3 767.2 L545.5 766.1 L545.7 765.3 L545.9 764.5 L546 764.2 L546.2 763.7 L546.4 762 L546.6 760.9 L546.8 761 L547 760.4 L547.2 757.4 L547.3 757.7 L547.5 758.9 L547.7 758.3 L547.9 759.3 L548.1 755.3 L548.3 754 L548.4 752.8 L548.6 751.8 L548.8 748.7 L549 749.6 L549.2 749.1 L549.4 750.8 L549.6 748.7 L549.7 748.3 L549.9 745.5 L550.1 745.4 L550.3 746.3 L550.5 746.7 L550.7 745.1 L550.9 745.7 L551 744.9 L551.2 745.4 L551.4 745.8 L551.6 746.1 L551.8 744.1 L552 745.8 L552.2 745.6 L552.3 744.7 L552.5 746 L552.7 748.2 L552.9 746.4 L553.1 744.4 L553.3 744.9 L553.5 746.7 L553.6 745.8 L553.8 746.1 L554 747.4 L554.2 748.1 L554.4 751.5 L554.6 752.8 L554.8 754.6 L554.9 756.6 L555.1 756.1 L555.3 755.9 L555.5 753.9 L555.7 757.7 L555.9 758.8 L556 760.1 L556.2 758.6 L556.4 757.5 L556.6 757.6 L556.8 757.7 L557 758.9 L557.2 759.8 L557.3 760.6 L557.5 764.2 L557.7 761.9 L557.9 761.2 L558.1 758.7 L558.3 757.3 L558.5 756.9 L558.6 756 L558.8 758.5 L559 760 L559.2 759.1 L559.4 758.1 L559.6 758.8 L559.8 757.3 L559.9 757.5 L560.1 756 L560.3 752.4 L560.5 752.4 L560.7 751.5 L560.9 749.3 L561.1 747.9 L561.3 746.1 L561.4 745.7 L561.6 744.7 L561.8 746.3 L562 745.1 L562.2 741.9 L562.4 741.9 L562.6 740.6 L562.8 738.2 L562.9 735.1 L563.1 732.1 L563.3 731.7 L563.5 730.8 L563.7 727 L563.9 726.1 L564.1 724.2 L564.3 723.9 L564.4 723.2 L564.6 725.7 L564.8 724.9 L565 726.3 L565.2 726.2 L565.4 726 L565.6 722.7 L565.8 720.2 L565.9 718.2 L566.1 717.4 L566.3 717.7 L566.5 715.6 L566.7 715.2 L566.9 713.9 L567.1 711.1 L567.3 709.9 L567.4 708.4 L567.6 708.3 L567.8 705.4 L568 703.2 L568.2 702.3 L568.4 700.1 L568.6 702.3 L568.8 702.3 L568.9 701.5 L569.1 701 L569.3 700.7 L569.5 700 L569.7 702.1 L569.9 702.2 L570.1 700.7 L570.3 700.8 L570.4 701.1 L570.6 700 L570.8 702.3 L571 701.8 L571.2 699.8 L571.4 700.1 L571.6 701.3 L571.8 700.6 L571.9 701.2 L572.1 702.3 L572.3 702.1 L572.5 704.3 L572.7 703.5 L572.9 705.1 L573.1 705.8 L573.3 704.9 L573.4 704.9 L573.6 704.6 L573.8 702.8 L574 700.8 L574.2 698 L574.4 698.8 L574.6 697.6 L574.8 699.8 L574.9 698.8 L575.1 697 L575.3 698 L575.5 697.4 L575.7 696.3 L575.9 696.6 L576.1 697.4 L576.3 695.4 L576.4 697.2 L576.6 697 L576.8 695.8 L577 695.5 L577.2 694.4 L577.4 693.5 L577.6 693.9 L577.7 692.6 L577.9 692.7 L578.1 695.4 L578.3 696.9 L578.5 697.6 L578.7 698.4 L578.9 701.7 L579.1 699.7 L579.2 702.8 L579.4 705.3 L579.6 705.8 L579.8 706.6 L580 705.6 L580.2 705.4 L580.4 705 L580.6 704.1 L580.7 705.1 L580.9 707 L581.1 707.6 L581.3 706.4 L581.5 706.8 L581.7 705.3 L581.9 706.1 L582 705.2 L582.2 705.2 L582.4 704.2 L582.6 704.3 L582.8 704.1 L583 704.8 L583.2 703.2 L583.3 703.3 L583.5 702.7 L583.7 702 L583.9 703.2 L584.1 704.4 L584.3 704.5 L584.5 702.9 L584.6 704.4 L584.8 705.9 L585 707.2 L585.2 707.8 L585.4 709.3 L585.6 710.5 L585.7 709.9 L585.9 711.4 L586.1 711.5 L586.3 713.1 L586.5 713.5 L586.7 712.9 L586.9 715.6 L587 715.6 L587.2 715.4 L587.4 715.6 L587.6 715.3 L587.8 714.8 L588 716.6 L588.2 716.9 L588.3 716.1 L588.5 714.5 L588.7 716.4 L588.9 717.2 L589.1 719.1 L589.3 719.2 L589.5 720.7 L589.6 722.1 L589.8 721.1 L590 718.3 L590.2 721.1 L590.4 719.2 L590.6 720.7 L590.8 720.2 L590.9 720 L591.1 718.7 L591.3 719.3 L591.5 720.7 L591.7 721.1 L591.9 720.4 L592.1 721.9 L592.2 721.7 L592.4 722 L592.6 722.1 L592.8 722.4 L593 721.9 L593.2 721.2 L593.4 721.9 L593.5 722.7 L593.7 725.8 L593.9 727.3 L594.1 729.7 L594.3 729.1 L594.5 730.8 L594.6 732.1 L594.8 731.7 L595 730.7 L595.2 729.4 L595.4 730.8 L595.6 730.9 L595.8 729.8 L595.9 731.2 L596.1 731.8 L596.3 733.7 L596.5 734.9 L596.7 734.3 L596.9 734.5 L597.1 735.3 L597.2 736.4 L597.4 734.7 L597.6 734 L597.8 735.9 L598 733.7 L598.2 734.9 L598.4 735.8 L598.5 737.1 L598.7 738.5 L598.9 738.3 L599.1 740.8 L599.3 741.4 L599.5 742.5 L599.7 740.8 L599.8 741 L600 741 L600.2 741 L600.4 740.9 L600.6 741.3 L600.8 745.2 L601 745.3 L601.1 746.4 L601.3 746.1 L601.5 746.3 L601.7 747.7 L601.9 749.5 L602.1 751.5 L602.3 751.8 L602.4 752.6 L602.6 754.4 L602.8 755.5 L603 755.7 L603.2 757.2 L603.4 758 L603.5 759.5 L603.7 763.5 L603.9 764.1 L604.1 764.6 L604.3 764.2 L604.5 763.1 L604.7 764.7 L604.8 764.6 L605 764.9 L605.2 765.4 L605.4 765 L605.6 764.4 L605.8 766.8 L606 765.5 L606.1 766.3 L606.3 767.9 L606.5 769.4 L606.7 770.3 L606.9 772.5 L607.1 771.7 L607.3 771.8 L607.4 773.6 L607.6 773.1 L607.8 773.5 L608 774 L608.2 772.4 L608.4 772.1 L608.6 772.1 L608.7 771 L608.9 773.1 L609.1 774.3 L609.3 773.2 L609.5 771.4 L609.7 773.2 L609.9 772.8 L610.1 773.3 L610.2 773.3 L610.4 772.1 L610.6 769.8 L610.8 767.1 L611 765.5 L611.2 764.2 L611.4 763.7 L611.6 765.7 L611.7 764.8 L611.9 766 L612.1 767.1 L612.3 766.6 L612.5 768.3 L612.7 765.5 L612.9 764.4 L613 763.5 L613.2 762.5 L613.4 761.8 L613.6 761.3 L613.8 760 L614 760.5 L614.2 759.8 L614.4 759.2 L614.5 757.8 L614.7 758.8 L614.9 758.1 L615.1 757.9 L615.3 756.7 L615.5 755.6 L615.7 755 L615.8 754 L616 753 L616.2 750.8 L616.4 750 L616.6 748.9 L616.8 749.8 L617 749.7 L617.2 748.3 L617.3 746.5 L617.5 747.4 L617.7 747.1 L617.9 747.1 L618.1 746.6 L618.3 746.8 L618.5 747 L618.7 746.7 L618.8 746.2 L619 744.4 L619.2 745.2 L619.4 746.1 L619.6 745.3 L619.8 745 L620 745.6 L620.1 747.4 L620.3 746.4 L620.5 748.1 L620.7 746.9 L620.9 746.9 L621.1 747.5 L621.3 748 L621.4 747.3 L621.6 747.6 L621.8 750.2 L622 751.4 L622.2 754.6 L622.4 754.4 L622.6 753.5 L622.7 752.4 L622.9 754.5 L623.1 752.1 L623.3 750 L623.5 750.5 L623.7 753.4 L623.8 754.9 L624 753.8 L624.2 751.5 L624.4 752.5 L624.6 755.2 L624.8 756.8 L625 754.6 L625.1 755 L625.3 757.1 L625.5 760.2 L625.7 759.7 L625.9 759 L626.1 759.9 L626.3 760.5 L626.4 760.7 L626.6 761.5 L626.8 762.6 L627 763.6 L627.2 764.8 L627.4 763.5 L627.6 763.3 L627.7 762.2 L627.9 760.2 L628.1 763.5 L628.3 763.9 L628.5 762.7 L628.7 763 L628.9 763.8 L629 763.4 L629.2 764.1 L629.4 765.2 L629.6 765.7 L629.8 765.7 L630 765.7 L630.2 764.6 L630.4 764.6 L630.5 765.2 L630.7 761.3 L630.9 761.6 L631.1 762 L631.3 762.3 L631.5 763.2 L631.7 765.3 L631.8 765.1 L632 763.3 L632.2 765.7 L632.4 766.7 L632.6 766.2 L632.8 767.2 L633 766.5 L633.2 766.6 L633.3 768.1 L633.5 768.4 L633.7 769.1 L633.9 768.5 L634.1 771.9 L634.3 771.4 L634.5 769.7 L634.7 769.5 L634.8 769.2 L635 770 L635.2 769.6 L635.4 769.8 L635.6 771.5 L635.8 773.1 L636 776.2 L636.1 775.7 L636.3 775.5 L636.5 774.1 L636.7 773.8 L636.9 773 L637.1 774.8 L637.3 777.3 L637.5 778.1 L637.6 778.6 L637.8 778.1 L638 778.3 L638.2 778.6 L638.4 778.6 L638.6 778.3 L638.8 778.1 L638.9 777.7 L639.1 778.4 L639.3 778.6 L639.5 780.6 L639.7 782.1 L639.9 782.5 L640.1 781.9 L640.3 783 L640.4 784.9 L640.6 783.7 L640.8 784.8 L641 787.1 L641.2 788.5 L641.4 790.2 L641.6 793.4 L641.7 794.1 L641.9 791.9 L642.1 793 L642.3 794.2 L642.5 792.8 L642.7 792.8 L642.9 793.1 L643.1 791.4 L643.2 793.1 L643.4 793.2 L643.6 792.7 L643.8 792.5 L644 794.2 L644.2 795.5 L644.4 793.3 L644.6 793.5 L644.7 794 L644.9 792.7 L645.1 795.1 L645.3 795.3 L645.5 797.7 L645.7 796 L645.9 797.4 L646.1 797.4 L646.3 798.7 L646.4 798.6 L646.6 798.3 L646.8 798.4 L647 799 L647.2 798.7 L647.4 799.2 L647.6 799.9 L647.8 799.2 L647.9 798.2 L648.1 800.1 L648.3 801.5 L648.5 802.6 L648.7 802.3 L648.9 804.3 L649.1 802.4 L649.3 802.4 L649.4 802.3 L649.6 801.3 L649.8 802.4 L650 802 L650.2 801.2 L650.4 799.3 L650.6 800.5 L650.7 798.5 L650.9 797.5 L651.1 797 L651.3 795.4 L651.5 795.5 L651.7 795.5 L651.9 794.2 L652.1 794.5 L652.2 792.8 L652.4 790.8 L652.6 790.3 L652.8 789.9 L653 790.5 L653.2 791.5 L653.4 789.4 L653.6 790.5 L653.7 790.2 L653.9 789.6 L654.1 790.6 L654.3 791.3 L654.5 792 L654.7 789 L654.9 788.3 L655 786.2 L655.2 783.4 L655.4 781.8 L655.6 779.9 L655.8 780.2 L656 780.9 L656.2 778.8 L656.4 776.7 L656.5 777.8 L656.7 776.1 L656.9 775.5 L657.1 774.2 L657.3 772.7 L657.5 770 L657.7 770.6 L657.8 770.4 L658 768.5 L658.2 768.6 L658.4 767.7 L658.6 767.5 L658.8 769.5 L659 770 L659.2 768.6 L659.3 769.1 L659.5 770.9 L659.7 771.3 L659.9 770.9 L660.1 770.1 L660.3 769.4 L660.5 768.5 L660.7 769.6 L660.8 770.2 L661 770.9 L661.2 771.3 L661.4 770.4 L661.6 769.2 L661.8 769.9 L662 769 L662.1 768 L662.3 770 L662.5 771.5 L662.7 771.8 L662.9 774 L663.1 772.1 L663.3 775 L663.5 777 L663.6 776.5 L663.8 777.9 L664 777.4 L664.2 779.2 L664.4 778.3 L664.6 779.5 L664.8 779 L664.9 778.1 L665.1 780.5 L665.3 782.2 L665.5 784.9 L665.7 786.8 L665.9 786.1 L666.1 786.5 L666.3 785.9 L666.4 784.5 L666.6 783.6 L666.8 783.1 L667 784.1 L667.2 785.1 L667.4 785.1 L667.6 784.4 L667.7 783.4 L667.9 783.5 L668.1 784.3 L668.3 784.9 L668.5 783.2 L668.7 783.2 L668.9 781.1 L669 782.5 L669.2 781.8 L669.4 781.9 L669.6 781.4 L669.8 782.8 L670 782.8 L670.2 783.3 L670.4 784.1 L670.5 786.1 L670.7 788.4 L670.9 789.3 L671.1 789 L671.3 789.1 L671.5 789.3 L671.7 789.3 L671.8 791.5 L672 790.5 L672.2 790.9 L672.4 792.3 L672.6 793.5 L672.8 792.6 L673 792.8 L673.2 795.4 L673.3 793.1 L673.5 795.5 L673.7 793.7 L673.9 793 L674.1 794.8 L674.3 793.6 L674.5 792.4 L674.6 791.4 L674.8 791 L675 791 L675.2 791.2 L675.4 792.3 L675.6 792.4 L675.8 791.2 L676 791.8 L676.1 789.6 L676.3 792.1 L676.5 792.5 L676.7 794.8 L676.9 797.3 L677.1 797.2 L677.3 797.8 L677.4 798.8 L677.6 800.3 L677.8 800.8 L678 803.2 L678.2 803.6 L678.4 804.5 L678.6 806.3 L678.8 806 L678.9 808.6 L679.1 808.3 L679.3 808.1 L679.5 807.6 L679.7 807.7 L679.9 806.8 L680.1 807.4 L680.2 809 L680.4 808.7 L680.6 809.9 L680.8 810.6 L681 810.6 L681.2 812.1 L681.4 811 L681.6 813.2 L681.7 811.8 L681.9 812 L682.1 810 L682.3 808.8 L682.5 808.1 L682.7 807.9 L682.9 808 L683 809.9 L683.2 810.9 L683.4 812.3 L683.6 813.4 L683.8 813.8 L684 815 L684.2 815.1 L684.4 815.6 L684.5 816.4 L684.7 816.1 L684.9 815.7 L685.1 817.6 L685.3 818.2 L685.5 814.6 L685.7 814.8 L685.9 814.4 L686 815.8 L686.2 814.7 L686.4 812.9 L686.6 812.3 L686.8 812.7 L687 812.9 L687.2 815.5 L687.3 815 L687.5 815.6 L687.7 815.3 L687.9 815 L688.1 814.9 L688.3 812.4 L688.5 811.4 L688.7 812.4 L688.8 811.8 L689 811.2 L689.2 811.3 L689.4 809.7 L689.6 810.4 L689.8 813 L690 814.6 L690.2 814.3 L690.3 815.9 L690.5 815.9 L690.7 818.1 L690.9 817.9 L691.1 818.5 L691.3 819.9 L691.5 820.9 L691.7 821.5 L691.8 820.5 L692 820.5 L692.2 821 L692.4 821 L692.6 820.1 L692.8 819.8 L693 817.7 L693.2 818.9 L693.3 818.1 L693.5 818.2 L693.7 819.3 L693.9 818.7 L694.1 817.9 L694.3 816.9 L694.5 816.5 L694.7 817.9 L694.9 817.9 L695 817.6 L695.2 815.7 L695.4 815.8 L695.6 815.9 L695.8 814.1 L696 814.2 L696.2 815.1 L696.4 815 L696.5 814.2 L696.7 814.2 L696.9 816.7 L697.1 817.4 L697.3 816.4 L697.5 817.6 L697.7 816.7 L697.9 816.8 L698.1 818 L698.2 817.2 L698.4 820.3 L698.6 823.3 L698.8 825.5 L699 825.1 L699.2 825.7 L699.4 825.1 L699.6 825.5 L699.7 825.5 L699.9 826.5 L700.1 827.2 L700.3 826.2 L700.5 825.4 L700.7 827.4 L700.9 826.9 L701.1 824.5 L701.2 823.8 L701.4 825.3 L701.6 824.6 L701.8 824.5 L702 825.2 L702.2 823.9 L702.4 822.4 L702.6 823 L702.7 822.9 L702.9 823.4 L703.1 823.4 L703.3 821.4 L703.5 822 L703.7 821.2 L703.9 820.9 L704.1 820.8 L704.2 822.3 L704.4 821.5 L704.6 822.9 L704.8 822 L705 822.1 L705.2 822 L705.4 822.6 L705.6 823.7 L705.7 825 L705.9 825 L706.1 825.2 L706.3 824.8 L706.5 825.2 L706.7 824.2 L706.9 824 L707 823.9 L707.2 824.2 L707.4 824.2 L707.6 823.4 L707.8 824.3 L708 825.9 L708.2 825.4 L708.4 824.9 L708.5 824.9 L708.7 824.6 L708.9 826.3 L709.1 827.5 L709.3 827.5 L709.5 827.6 L709.7 829.2 L709.9 828.6 L710 831.1 L710.2 829.5 L710.4 830.9 L710.6 831.6 L710.8 833 L711 834.7 L711.2 835.2 L711.3 837.6 L711.5 838.1 L711.7 837.9 L711.9 838.3 L712.1 838.3 L712.3 840.2 L712.5 842.6 L712.7 844.3 L712.8 843 L713 842.6 L713.2 844.9 L713.4 842.7 L713.6 841.9 L713.8 840.6 L714 839.3 L714.2 837.6 L714.3 839.8 L714.5 839.7 L714.7 840.7 L714.9 838.3 L715.1 837.4 L715.3 837.4 L715.5 837.8 L715.6 840.5 L715.8 840.4 L716 841.5 L716.2 839.8 L716.4 838.9 L716.6 839 L716.8 839.5 L717 838.1 L717.1 838.8 L717.3 837.5 L717.5 837.2 L717.7 837.6 L717.9 837.2 L718.1 834.9 L718.3 837 L718.5 836.1 L718.6 835.1 L718.8 835.5 L719 833.6 L719.2 832.8 L719.4 832.1 L719.6 833.4 L719.8 832.7 L720 834.4 L720.1 833.8 L720.3 831 L720.5 832.2 L720.7 830.2 L720.9 831.7 L721.1 831.6 L721.3 830.7 L721.5 832.6 L721.6 832.2 L721.8 833.2 L722 834 L722.2 833 L722.4 833.1 L722.6 832.6 L722.8 832.6 L723 832.1 L723.1 830.2 L723.3 830 L723.5 830.4 L723.7 830.4 L723.9 829.5 L724.1 828.9 L724.3 831.7 L724.5 831.9 L724.6 831.3 L724.8 828 L725 828.8 L725.2 829.1 L725.4 830.7 L725.6 830.8 L725.8 833.1 L726 834.2 L726.1 834.3 L726.3 836.3 L726.5 836.7 L726.7 837.6 L726.9 836 L727.1 834 L727.3 831.3 L727.5 831.1 L727.6 830.3 L727.8 827.2 L728 828.1 L728.2 825.9 L728.4 827.1 L728.6 825.8 L728.8 827.8 L729 828.4 L729.1 828.7 L729.3 829 L729.5 831.6 L729.7 831.4 L729.9 831.8 L730.1 829.9 L730.3 829.2 L730.5 832 L730.6 831.9 L730.8 830.5 L731 830.7 L731.2 831.6 L731.4 833.4 L731.6 833.9 L731.8 835.2 L732 835.6 L732.1 836 L732.3 834.4 L732.5 835.7 L732.7 835.3 L732.9 837.1 L733.1 837.1 L733.3 836.1 L733.5 837.3 L733.7 839.2 L733.8 839.5 L734 839.8 L734.2 841 L734.4 840.9 L734.6 841.2 L734.8 840.7 L735 842.8 L735.2 842.2 L735.4 840.9 L735.5 842.4 L735.7 840.2 L735.9 840.3 L736.1 842.3 L736.3 844.1 L736.5 845.4 L736.7 845.5 L736.9 845.1 L737.1 844 L737.3 843.5 L737.4 843.2 L737.6 843.7 L737.8 845.6 L738 845.8 L738.2 846.6 L738.4 844.7 L738.6 847.1 L738.8 844.9 L738.9 847.2 L739.1 847.2 L739.3 846.6 L739.5 847.2 L739.7 847.2 L739.9 846 L740.1 846.7 L740.3 846.1 L740.5 845.3 L740.6 843.7 L740.8 844.6 L741 842.1 L741.2 841.6 L741.4 839.5 L741.6 840.6 L741.8 838.5 L742 837.9 L742.1 836.1 L742.3 836.2 L742.5 834.4 L742.7 833.6 L742.9 835.3 L743.1 832.3 L743.3 833.4 L743.5 833 L743.7 833.5 L743.8 834.3 L744 835 L744.2 834 L744.4 833 L744.6 832 L744.8 834.4 L745 833.5 L745.2 835.7 L745.4 832.9 L745.5 832.6 L745.7 831.4 L745.9 831.6 L746.1 831.6 L746.3 832.8 L746.5 830.4 L746.7 831.1 L746.9 829.9 L747.1 831.1 L747.2 831.6 L747.4 832.3 L747.6 832.6 L747.8 833.5 L748 832.9 L748.2 832.1 L748.4 834.2 L748.6 834.7 L748.7 836.5 L748.9 835.1 L749.1 836.7 L749.3 836.1 L749.5 835.9 L749.7 836 L749.9 838.5 L750 836.3 L750.2 836.5 L750.4 835.6 L750.6 834.2 L750.8 835.5 L751 836.8 L751.2 834.6 L751.3 832.1 L751.5 833.1 L751.7 833.2 L751.9 832 L752.1 832.2 L752.3 830.5 L752.4 829.7 L752.6 829.8 L752.8 828.9 L753 829.5 L753.2 827.9 L753.4 828.8 L753.6 827 L753.7 823.8 L753.9 826.1 L754.1 823.8 L754.3 825.8 L754.5 825.9 L754.7 823.5 L754.9 822 L755 821.2 L755.2 820.7 L755.4 820.4 L755.6 819.8 L755.8 819.9 L756 820.2 L756.2 821.6 L756.4 819.2 L756.5 819.1 L756.7 816.5 L756.9 815.3 L757.1 814.6 L757.3 815.9 L757.5 816.1 L757.7 815.9 L757.9 815.9 L758 816.1 L758.2 819 L758.4 819.4 L758.6 819.6 L758.8 820 L759 820.3 L759.2 822.2 L759.4 823.2 L759.5 821.1 L759.7 822.2 L759.9 822.7 L760.1 823.7 L760.3 823.7 L760.5 824.3 L760.7 821.5 L760.9 822.7 L761 820.8 L761.2 821.3 L761.4 820.5 L761.6 817.1 L761.8 816.9 L762 816.8 L762.2 820.4 L762.4 820.7 L762.5 820.8 L762.7 820.5 L762.9 820.1 L763.1 821.4 L763.3 822.4 L763.5 821.3 L763.7 821.5 L763.9 821.3 L764 820.3 L764.2 820 L764.4 819.6 L764.6 820.9 L764.8 820.7 L765 822.8 L765.2 820.3 L765.4 821.2 L765.5 818.8 L765.7 819.3 L765.9 819.3 L766.1 817.5 L766.3 817.1 L766.5 816.7 L766.7 816.9 L766.9 817 L767 817.8 L767.2 818.7 L767.4 820.9 L767.6 820.9 L767.8 821.8 L768 819.8 L768.2 816.8 L768.4 814.2 L768.5 815.6 L768.7 815.9 L768.9 815.9 L769.1 817.7 L769.3 815.5 L769.5 814.4 L769.7 813.9 L769.9 811.2 L770 810.4 L770.2 810.6 L770.4 810.1 L770.6 810.5 L770.8 809.7 L771 810.6 L771.2 809.1 L771.4 808.6 L771.5 808.3 L771.7 808 L771.9 807.3 L772.1 808.8 L772.3 807.1 L772.5 806.5 L772.7 803.3 L772.8 802.5 L773 800.4 L773.2 799.6 L773.4 799 L773.6 799.7 L773.8 799.5 L774 799.4 L774.1 801.7 L774.3 801.3 L774.5 801.4 L774.7 800.1 L774.9 797.9 L775.1 797.5 L775.3 795.1 L775.4 792.6 L775.6 790.7 L775.8 790.3 L776 789.3 L776.2 786.3 L776.4 783.4 L776.5 781.1 L776.7 782.5 L776.9 784.6 L777.1 781.5 L777.3 779.7 L777.5 777 L777.7 775.4 L777.8 775 L778 773.5 L778.2 772.7 L778.4 769.9 L778.6 767.9 L778.8 768.3 L779 768.5 L779.1 766.3 L779.3 764.3 L779.5 763 L779.7 761.7 L779.9 762.5 L780.1 762.8 L780.3 761.2 L780.4 762.8 L780.6 761.3 L780.8 759.7 L781 758 L781.2 757.6 L781.4 755.9 L781.6 756.4 L781.8 758.2 L781.9 761.3 L782.1 765 L782.3 765.7 L782.5 765.3 L782.7 768.4 L782.9 768.9 L783.1 770.7 L783.3 771.8 L783.4 772.3 L783.6 773.1 L783.8 775.4 L784 775.2 L784.2 776.2 L784.4 779.5 L784.6 779.3 L784.8 778 L784.9 779.3 L785.1 778 L785.3 780.9 L785.5 782 L785.7 781.1 L785.9 780.2 L786.1 780.3 L786.3 779.7 L786.4 781 L786.6 780.9 L786.8 780.4 L787 780 L787.2 780.3 L787.4 780 L787.6 780.2 L787.8 780.2 L787.9 783 L788.1 783 L788.3 785.1 L788.5 786.4 L788.7 787.1 L788.9 786.5 L789.1 787.9 L789.3 788.3 L789.4 787.7 L789.6 787.9 L789.8 787.6 L790 786.9 L790.2 786.4 L790.4 786.8 L790.6 786.2 L790.7 785.2 L790.9 786.5 L791.1 785.2 L791.3 786.2 L791.5 785.4 L791.7 784.3 L791.9 783.2 L792 784.4 L792.2 785.3 L792.4 786.6 L792.6 785.5 L792.8 785 L793 787.1 L793.1 785.8 L793.3 784 L793.5 784.3 L793.7 784.1 L793.9 783.5 L794.1 784.5 L794.3 784.8 L794.4 783.8 L794.6 783.9 L794.8 783.6 L795 783.2 L795.2 780.6 L795.4 780 L795.6 779.2 L795.7 779.6 L795.9 777.6 L796.1 777.3 L796.3 777 L796.5 776.4 L796.7 775.7 L796.9 778.1 L797 779.6 L797.2 779.1 L797.4 780.8 L797.6 779.9 L797.8 781.2 L798 779.8 L798.2 782.2 L798.3 785.9 L798.5 788.9 L798.7 787.4 L798.9 789.5 L799.1 791.2 L799.3 793.1 L799.4 795.2 L799.6 796.1 L799.8 797.1 L800 799 L800.2 800.9 L800.4 800.2 L800.6 800.1 L800.7 799.9 L800.9 799.4 L801.1 800.8 L801.3 800.8 L801.5 798.1 L801.7 798.6 L801.9 796.3 L802 798.9 L802.2 800.9 L802.4 802.3 L802.6 803 L802.8 803.7 L803 803.8 L803.2 802.2 L803.4 802.6 L803.5 802.6 L803.7 803.7 L803.9 805.3 L804.1 805 L804.3 807.4 L804.5 807.7 L804.7 809 L804.9 812.8 L805 813.3 L805.2 816.4 L805.4 818.3 L805.6 821.2 L805.8 823.7 L806 826 L806.2 829 L806.4 831.4 L806.6 833.3 L806.8 833.8 L806.9 834.3 L807.1 833.4 L807.3 837 L807.5 839 L807.7 838.9 L807.9 839.5 L808.1 838.8 L808.3 836.9 L808.4 834 L808.6 832.3 L808.8 831 L809 830.3 L809.2 828.6 L809.4 827.5 L809.5 826.2 L809.7 826.1 L809.9 825.4 L810.1 825.7 L810.3 826.2 L810.5 826.4 L810.6 826.6 L810.8 826.6 L811 826.5 L811.2 827.6 L811.4 827.7 L811.6 827.8 L811.8 826.4 L811.9 830 L812.1 832.4 L812.3 834.2 L812.5 835.9 L812.7 836.4 L812.9 838.1 L813 839.6 L813.2 839.2 L813.4 840 L813.6 842.7 L813.8 842 L814 839.6 L814.1 838.7 L814.3 839.5 L814.5 838.2 L814.7 838.9 L814.9 839.5 L815.1 839.4 L815.3 837.9 L815.4 837.9 L815.6 838.5 L815.8 840.5 L816 840.5 L816.2 842.1 L816.3 842.4 L816.5 844.4 L816.7 845.7 L816.9 847.2 L817.1 847.2 L817.3 847.2 L817.5 847.2 L817.7 847.2 L817.9 847.2 L818.1 847.2 L818.3 847.2 L818.5 847.2 L818.7 847.2 L818.9 847.2 L819.1 847.2 L819.3 847.2 L819.4 847.2 L819.6 847.2 L819.8 847.2 L820 847.2 L820.2 847.2 L820.4 847.2 L820.6 847.2 L820.8 847.2 L821 847.2 L821.1 847.2 L821.3 847.2 L821.5 847.2 L821.7 847.2 L821.9 847.2 L822.1 847.2 L822.2 847.2 L822.4 847.2 L822.6 847.2 L822.8 847.2 L823 847.2 L823.2 847.2 L823.3 847.2 L823.5 847.2 L823.7 847.2 L823.9 847.2 L824.1 847.2 L824.3 847.2 L824.5 847.2 L824.6 847.2 L824.8 847.2 L825 847.2 L825.2 847.2 L825.4 847.2 L825.6 847.2 L825.8 847.2 L826 847.2 L826.1 847.2 L826.3 847.2 L826.5 847.2 L826.7 847.2 L826.9 847.2 L827.1 847.2 L827.3 847.2 L827.5 847.2 L827.6 847.2 L827.8 847.2 L828 847.2 L828.2 847.2 L828.4 847.2 L828.6 847.2 L828.8 847.2 L828.9 847.2 L829.1 847.2 L829.3 847.2 L829.5 847.2 L829.7 847.2 L829.9 847.2 L830.1 847.2 L830.3 847.2 L830.4 847.2 L830.6 847.2 L830.8 847.2 L831 847.2 L831.2 847.2 L831.4 847.2 L831.6 847.2 L831.8 847.2 L832 847.2 L832.1 847.2 L832.3 847.2 L832.5 847.2 L832.7 847.2 L832.9 847.2 L833.1 847.2 L833.3 847.2 L833.5 847.2 L833.7 847.2 L833.9 847.2 L834.1 847.2 L834.2 847.2 L834.4 847.2 L834.6 847.2 L834.8 847.2 L835 847.2 L835.2 847.2 L835.4 847.2 L835.6 847.2 L835.8 847.2 L836 847.2 L836.1 847.2 L836.3 847.2 L836.5 847.2 L836.7 847.2 L836.9 847.2 L837.1 847.2 L837.3 847.2 L837.5 847.2 L837.7 847.2 L837.9 847.2 L838 847.2 L838.2 847.2 L838.4 847.2 L838.6 847.2 L838.8 847.2 L839 847.2 L839.2 847.2 L839.4 847.2 L839.6 847.2 L839.7 847.2 L839.9 847.2 L840.1 847.2 L840.3 847.2 L840.5 847.2 L840.7 847.2 L840.9 847.2 L841.1 847.2 L841.3 847.2 L841.4 847.2 L841.6 847.2 L841.8 847.2 L842 847.2 L842.2 847.2 L842.4 847.2 L842.6 847.2 L842.8 847.2 L842.9 847.2 L843.1 847.2 L843.3 847.2 L843.5 847.2 L843.7 847.2 L843.9 847.2 L844.1 847.2 L844.3 847.2 L844.4 847.2 L844.6 847.2 L844.8 847.2 L845 847.2 L845.2 847.2 L845.4 847.2 L845.5 847.2 L845.7 847.2 L845.9 847.2 L846.1 847.2 L846.3 847.2 L846.5 847.2 L846.6 847.2 L846.8 847.2 L847 847.2 L847.2 847.2 L847.4 847.2 L847.6 847.2 L847.7 847.2 L847.9 847.2 L848.1 847.2 L848.3 847.2 L848.5 847.2 L848.7 847.2 L848.8 847.2 L849 847.2 L849.2 847.2 L849.4 847.2 L849.6 847.2 L849.8 847.2 L850 847.2 L850.2 847.2 L850.4 847.2 L850.5 847.2 L850.7 847.2 L850.9 847.2 L851.1 847.2 L851.3 847.2 L851.5 847.2 L851.7 847.2 L851.9 847.2 L852.1 847.2 L852.3 847.2 L852.5 847.2 L852.6 847.2 L852.8 847.2 L853 847.2 L853.2 847.2 L853.4 847.2 L853.6 847.2 L853.8 847.2 L854 847.2 L854.2 847.2 L854.3 847.2 L854.5 847.2 L854.7 847.2 L854.9 847.2 L855.1 847.2 L855.3 847.2 L855.5 847.2 L855.7 847.2 L855.8 847.2 L856 847.2 L856.2 847.2 L856.4 847.2 L856.6 847.2 L856.8 847.2 L857 847.2 L857.2 847.2 L857.3 847.2 L857.5 847.2 L857.7 847.2 L857.9 847.2 L858.1 847.2 L858.3 847.2 L858.5 847.2 L858.7 847.2 L858.9 847.2 L859.1 847.2 L859.2 847.2 L859.4 847.2 L859.6 847.2 L859.8 847.2 L860 847.2 L860.2 847.2 L860.4 847.2 L860.6 847.2 L860.7 847.2 L860.9 847.2 L861.1 847.2 L861.3 847.2 L861.5 847.2 L861.7 847.2 L861.8 847.2 L862 847.2 L862.2 847.2 L862.4 847.2 L862.6 847.2 L862.8 847.2 L862.9 847.2 L863.1 847.2 L863.3 847.2 L863.5 847.2 L863.7 847.2 L863.9 847.2 L864.1 847.2 L864.2 847.2 L864.4 847.2 L864.6 847.2 L864.8 847.2 L865 847.2 L865.2 847.2 L865.3 847.2 L865.5 847.2 L865.7 847.2 L865.9 847.2 L866.1 847.2 L866.3 847.2 L866.4 847.2 L866.6 847.2 L866.8 847.2 L867 847.2 L867.2 847.2 L867.4 847.2 L867.6 847.2 L867.8 847.2 L867.9 847.2 L868.1 847.2 L868.3 847.2 L868.5 847.2 L868.7 847.2 L868.9 847.2 L869.1 847.2 L869.3 847.2 L869.5 847.2 L869.7 847.2 L869.8 847.2 L870 847.2 L870.2 847.2 L870.4 847.2 L870.6 847.2 L870.8 847.2 L871 847.2 L871.2 847.2 L871.3 847.2 L871.5 847.2 L871.7 847.2 L871.9 847.2 L872.1 847.2 L872.3 847.2 L872.5 847.2 L872.7 847.2 L872.8 847.2 L873 847.2 L873.2 847.2 L873.4 847.2 L873.6 847.2 L873.8 847.2 L874 847.2 L874.1 847.2 L874.3 847.2 L874.5 847.2 L874.7 847.2 L874.9 847.2 L875.1 847.2 L875.3 847.2 L875.5 847.2 L875.6 847.2 L875.8 847.2 L876 847.2 L876.2 847.2 L876.4 847.2 L876.6 846.1 L876.8 845.4 L876.9 844.8 L877.1 846.5 L877.3 846.4 L877.5 847.2 L877.7 846.2 L877.9 847.2 L878.1 847.2 L878.3 847.2 L878.4 845 L878.6 846 L878.8 843.5 L879 843 L879.2 839.3 L879.4 839.2 L879.6 839.5 L879.8 839.1 L879.9 839.4 L880.1 840 L880.3 838.7 L880.5 838.9 L880.7 837.6 L880.9 836.7 L881.1 835.5 L881.2 833.3 L881.4 831.9 L881.6 833 L881.8 831.1 L882 834.1 L882.2 832.4 L882.4 830.8 L882.6 832 L882.7 830.3 L882.9 832.5 L883.1 831.1 L883.3 831.5 L883.5 831.8 L883.7 831.9 L883.9 832.4 L884 831.4 L884.2 831.3 L884.4 831.3 L884.6 831.1 L884.8 831.4 L885 832.6 L885.2 831.7 L885.4 830.5 L885.5 831.9 L885.7 830.6 L885.9 828.8 L886.1 828.5 L886.3 826.5 L886.5 829.1 L886.7 827.3 L886.9 828.1 L887 827.6 L887.2 828.6 L887.4 825.4 L887.6 825.8 L887.8 825.5 L888 827.9 L888.2 828.8 L888.3 828.8 L888.5 829.5 L888.7 831 L888.9 829.6 L889.1 832.1 L889.3 832.5 L889.5 833.3 L889.7 834.3 L889.8 834 L890 834.2 L890.2 835 L890.4 834.7 L890.6 834.6 L890.8 833.7 L891 831.8 L891.2 831.3 L891.3 831 L891.5 831.5 L891.7 829.4 L891.9 828 L892.1 827.1 L892.3 826.5 L892.5 827.3 L892.7 826.9 L892.9 826.3 L893 827.6 L893.2 828.5 L893.4 828.4 L893.6 825.8 L893.8 825.1 L894 826.7 L894.2 824.8 L894.4 823.5 L894.5 822.3 L894.7 822.8 L894.9 822.7 L895.1 819.7 L895.3 818 L895.5 812.3 L895.7 814.7 L895.9 816.8 L896 817.4 L896.2 818.7 L896.4 819.6 L896.6 818.8 L896.8 817.2 L897 819.1 L897.1 818.4 L897.3 817.4 L897.5 817.2 L897.7 815.5 L897.9 814.1 L898.1 815.3 L898.3 815.2 L898.4 814.9 L898.6 816.5 L898.8 816.9 L899 815.7 L899.2 815.5 L899.4 815.8 L899.6 812.8 L899.7 812.4 L899.9 811.5 L900.1 812.9 L900.3 811.7 L900.5 812.6 L900.7 813.2 L900.9 814 L901 816 L901.2 815.6 L901.4 817.5 L901.6 816.8 L901.8 818.1 L902 816.8 L902.2 816.7 L902.4 815.6 L902.5 817.3 L902.7 816.9 L902.9 816.3 L903.1 816.3 L903.3 815.6 L903.5 815.5 L903.7 818.8 L903.8 817.3 L904 818.1 L904.2 818.6 L904.4 817.3 L904.6 819.8 L904.8 819.9 L905 818.2 L905.1 817.4 L905.3 816.8 L905.5 816.9 L905.7 815.9 L905.9 817 L906.1 816.9 L906.3 815 L906.4 815.4 L906.6 814.7 L906.8 814.3 L907 815.1 L907.2 817.6 L907.4 818.8 L907.6 819.9 L907.7 821.3 L907.9 821.4 L908.1 821 L908.3 820.3 L908.5 819.9 L908.7 821.4 L908.8 819.7 L909 819.3 L909.2 818.4 L909.4 820.1 L909.6 818.8 L909.8 815.9 L909.9 815.3 L910.1 813.9 L910.3 814.7 L910.5 814.6 L910.7 814.7 L910.9 813.9 L911 813.8 L911.2 813.5 L911.4 814.7 L911.6 816.3 L911.8 816.1 L912 812.8 L912.2 813.9 L912.3 813 L912.5 811.2 L912.7 811.9 L912.9 813.8 L913.1 813.2 L913.3 813.1 L913.4 814.1 L913.6 812 L913.8 810.9 L914 810.8 L914.2 812.4 L914.4 810.6 L914.5 809 L914.7 807.8 L914.9 805.6 L915.1 806.7 L915.3 808.4 L915.5 807.6 L915.7 807.4 L915.8 807.8 L916 808.7 L916.2 807.8 L916.4 807.8 L916.6 807 L916.8 808.8 L917 809.1 L917.2 808.9 L917.3 807.9 L917.5 810.4 L917.7 811 L917.9 812.2 L918.1 812.5 L918.3 813.1 L918.5 812.9 L918.6 812.2 L918.8 812.2 L919 812.6 L919.2 811.8 L919.4 810.4 L919.6 810.6 L919.8 812 L920 810 L920.1 809.2 L920.3 806.7 L920.5 807.6 L920.7 808.4 L920.9 809 L921.1 809.4 L921.3 811.7 L921.5 810.9 L921.6 813.2 L921.8 817.1 L922 817.5 L922.2 819.2 L922.2 847.2 L73.5 847.2 Z" fill="url(#gg)"/>
<path d="M73.5 847.2 L73.6 847.2 L73.8 847.2 L74 847.2 L74.1 847.2 L74.3 847.2 L74.5 847.2 L74.7 847.2 L74.9 847.2 L75 847.2 L75.2 847.2 L75.4 847.2 L75.6 847.2 L75.8 847.2 L76 847.2 L76.1 847.2 L76.3 847.2 L76.5 847.2 L76.7 847.2 L76.9 847.2 L77.1 847.2 L77.3 847.2 L77.5 847.2 L77.7 847.2 L77.8 847.2 L78 847.2 L78.2 847.2 L78.4 847.2 L78.6 847.2 L78.8 847.2 L79 847.2 L79.2 847.2 L79.4 847.2 L79.6 847.2 L79.8 847.2 L80 847.2 L80.1 847.2 L80.3 847.2 L80.5 847.2 L80.7 847.2 L80.9 847.2 L81.1 847.2 L81.3 847.2 L81.5 847.2 L81.7 847.2 L81.9 847.2 L82 847.2 L82.2 847.2 L82.4 847.2 L82.6 847.2 L82.8 847.2 L83 847.2 L83.2 847.2 L83.4 847.2 L83.6 847.2 L83.8 847.2 L83.9 847.2 L84.1 847.2 L84.3 847.2 L84.5 847.2 L84.7 847.2 L84.9 847.2 L85.1 847.2 L85.3 847.2 L85.4 847.2 L85.6 847.2 L85.8 847.2 L86 847.2 L86.2 847.2 L86.4 847.2 L86.6 847.2 L86.8 847.2 L86.9 847.2 L87.1 847.2 L87.3 847.2 L87.5 847.2 L87.7 847.2 L87.9 847.2 L88.1 847.2 L88.3 847.2 L88.5 847.2 L88.6 847.2 L88.8 847.2 L89 847.2 L89.2 847.2 L89.4 847.2 L89.6 847.2 L89.8 847.2 L90 847.2 L90.1 847.2 L90.3 847.2 L90.5 847.2 L90.7 847.2 L90.9 847.2 L91.1 847.2 L91.3 847.2 L91.5 847.2 L91.7 847.2 L91.8 847.2 L92 847.2 L92.2 847.2 L92.4 847.2 L92.6 847.2 L92.8 847.2 L93 847.2 L93.2 847.2 L93.3 847.2 L93.5 847.2 L93.7 847.2 L93.9 847.2 L94.1 847.2 L94.3 847.2 L94.5 847.2 L94.7 847.2 L94.8 847.2 L95 847.2 L95.2 847.2 L95.4 847.2 L95.6 847.2 L95.8 847.2 L96 847.2 L96.2 847.2 L96.4 847.2 L96.5 847.2 L96.7 847.2 L96.9 847.2 L97.1 847.2 L97.3 847.2 L97.5 847.2 L97.7 847.2 L97.9 847.2 L98 847.2 L98.2 847.2 L98.4 847.2 L98.6 847.2 L98.8 847.2 L99 847.2 L99.2 847.2 L99.4 847.2 L99.6 847.2 L99.7 847.2 L99.9 847.2 L100.1 847.2 L100.3 847.2 L100.5 847.2 L100.7 847.2 L100.9 847.2 L101.1 847.2 L101.2 847.2 L101.4 847.2 L101.6 847.2 L101.8 847.2 L102 847.2 L102.2 847.2 L102.4 847.2 L102.6 847.2 L102.7 847.2 L102.9 847.2 L103.1 847.2 L103.3 847.2 L103.5 847.2 L103.7 847.2 L103.9 847.2 L104.1 847.2 L104.2 847.2 L104.4 847.2 L104.6 847.2 L104.8 847.2 L105 847.2 L105.2 847.2 L105.4 847.2 L105.6 847.2 L105.7 847.2 L105.9 847.2 L106.1 847.2 L106.3 847.2 L106.5 847.2 L106.7 847.2 L106.9 847.2 L107.1 847.2 L107.2 847.2 L107.4 847.2 L107.6 847.2 L107.8 847.2 L108 847.2 L108.2 847.2 L108.4 847.2 L108.6 847.2 L108.7 847.2 L108.9 847.2 L109.1 847.2 L109.3 847.2 L109.5 847.2 L109.7 847.2 L109.9 847.2 L110.1 847.2 L110.2 847.2 L110.4 847.2 L110.6 847.2 L110.8 847.2 L111 847.2 L111.2 847.2 L111.4 847.2 L111.6 847.2 L111.8 847.2 L111.9 847.2 L112.1 847.2 L112.3 847.2 L112.5 847.2 L112.7 847.2 L112.9 847.2 L113.1 847.2 L113.3 847.2 L113.4 847.2 L113.6 847.2 L113.8 847.2 L114 847.2 L114.2 847.2 L114.4 847.2 L114.6 847.2 L114.8 847.2 L114.9 847.2 L115.1 847.2 L115.3 847.2 L115.5 847.2 L115.7 847.2 L115.9 847.2 L116.1 847.2 L116.3 847.2 L116.4 847.2 L116.6 847.2 L116.8 847.2 L117 847.2 L117.2 847.2 L117.4 847.2 L117.6 847.2 L117.8 847.2 L117.9 847.2 L118.1 847.2 L118.3 847.2 L118.5 847.2 L118.7 847.2 L118.9 847.2 L119.1 847.2 L119.2 847.2 L119.4 847.2 L119.6 847.2 L119.8 847.2 L120 847.2 L120.2 847.2 L120.4 847.2 L120.5 847.2 L120.7 847.2 L120.9 847.2 L121.1 847.2 L121.3 847.2 L121.5 847.2 L121.7 847.2 L121.8 847.2 L122 847.2 L122.2 847.2 L122.4 847.2 L122.6 847.2 L122.8 847.2 L123 847.2 L123.1 847.2 L123.3 847.2 L123.5 847.2 L123.7 847.2 L123.9 847.2 L124.1 847.2 L124.2 847.2 L124.4 847.2 L124.6 847.2 L124.8 847.2 L125 847.2 L125.2 847.2 L125.4 847.2 L125.5 847.2 L125.7 847.2 L125.9 847.2 L126.1 847.2 L126.3 847.2 L126.5 847.2 L126.7 847.2 L126.8 847.2 L127 847.2 L127.2 847.2 L127.4 847.2 L127.6 847.2 L127.8 847.2 L128 847.2 L128.1 847.2 L128.3 847.2 L128.5 847.2 L128.7 847.2 L128.9 847.2 L129.1 847.2 L129.3 847.2 L129.5 847.7 L129.6 848.6 L129.8 847.4 L130 847.2 L130.2 847.2 L130.4 847.2 L130.6 847.2 L130.8 847.2 L131 847.2 L131.2 847.2 L131.4 847.2 L131.6 847.2 L131.7 847.2 L131.9 847.2 L132.1 847.2 L132.3 847.2 L132.5 847.2 L132.7 847.2 L132.9 847.2 L133.1 847.2 L133.2 847.2 L133.4 847.2 L133.6 847.2 L133.8 847.2 L134 847.2 L134.2 847.2 L134.4 847.2 L134.5 847.2 L134.7 847.2 L134.9 847.2 L135.1 847.2 L135.3 847.2 L135.5 847.2 L135.7 847.2 L135.8 847.2 L136 847.2 L136.2 847.2 L136.4 847.2 L136.6 847.2 L136.8 847.2 L137 847.2 L137.1 847.2 L137.3 847.2 L137.5 847.2 L137.7 847.2 L137.9 847.2 L138.1 847.2 L138.2 847.2 L138.4 847.2 L138.6 847.2 L138.8 847.2 L139 847.2 L139.2 847.2 L139.4 847.2 L139.5 847.2 L139.7 847.2 L139.9 847.2 L140.1 847.2 L140.3 847.2 L140.5 847.2 L140.7 847.2 L140.8 848.1 L141 848.5 L141.2 849.3 L141.4 850.9 L141.6 851.5 L141.8 848.9 L142 850 L142.1 850.4 L142.3 849.2 L142.5 848.5 L142.7 847.8 L142.9 847.2 L143.1 849.2 L143.3 850.3 L143.5 850 L143.6 849.4 L143.8 847.6 L144 847.2 L144.2 847.2 L144.4 847.2 L144.6 847.4 L144.8 847.2 L145 847.2 L145.2 847.2 L145.3 847.5 L145.5 848.6 L145.7 847.2 L145.9 847.2 L146.1 847.2 L146.3 847.2 L146.5 847.2 L146.7 847.2 L146.9 847.2 L147 847.2 L147.2 847.2 L147.4 847.2 L147.6 847.2 L147.8 847.2 L148 847.2 L148.2 847.2 L148.4 847.2 L148.6 847.2 L148.7 847.2 L148.9 847.2 L149.1 847.2 L149.3 847.2 L149.5 847.2 L149.7 847.2 L149.9 847.2 L150.1 847.2 L150.3 847.2 L150.5 847.2 L150.7 847.2 L150.8 847.2 L151 847.2 L151.2 847.2 L151.4 847.2 L151.6 847.2 L151.8 847.2 L152 847.2 L152.2 847.2 L152.4 847.2 L152.5 847.2 L152.7 847.2 L152.9 847.2 L153.1 847.2 L153.3 847.2 L153.5 847.2 L153.7 847.2 L153.9 847.2 L154.1 847.2 L154.3 847.2 L154.5 847.2 L154.6 847.2 L154.8 847.2 L155 847.2 L155.2 847.2 L155.4 847.2 L155.6 847.2 L155.8 847.2 L156 847.2 L156.1 847.2 L156.3 847.2 L156.5 847.2 L156.7 847.2 L156.9 847.2 L157.1 847.2 L157.3 847.2 L157.4 847.2 L157.6 847.2 L157.8 847.2 L158 847.2 L158.2 847.2 L158.4 847.2 L158.6 847.2 L158.7 847.2 L158.9 847.2 L159.1 847.2 L159.3 847.2 L159.5 847.2 L159.7 847.2 L159.9 847.2 L160 847.2 L160.2 847.2 L160.4 847.2 L160.6 847.2 L160.8 847.2 L161 847.2 L161.2 847.2 L161.3 847.2 L161.5 847.2 L161.7 847.2 L161.9 847.2 L162.1 847.2 L162.3 847.2 L162.4 847.2 L162.6 847.2 L162.8 847.2 L163 847.2 L163.2 847.2 L163.4 847.2 L163.6 847.2 L163.7 847.2 L163.9 847.2 L164.1 847.2 L164.3 847.2 L164.5 847.2 L164.7 847.2 L164.9 847.2 L165 847.2 L165.2 847.2 L165.4 847.2 L165.6 847.2 L165.8 847.2 L166 847.2 L166.2 847.2 L166.3 847.2 L166.5 847.2 L166.7 847.2 L166.9 847.2 L167.1 847.2 L167.3 847.2 L167.5 847.2 L167.6 847.2 L167.8 847.2 L168 847.2 L168.2 847.2 L168.4 847.2 L168.6 847.2 L168.8 847.2 L169 847.2 L169.1 847.2 L169.3 847.2 L169.5 847.2 L169.7 847.2 L169.9 847.2 L170.1 847.2 L170.3 847.2 L170.4 847.2 L170.6 847.2 L170.8 847.2 L171 847.2 L171.2 847.2 L171.4 847.2 L171.6 847.2 L171.8 847.2 L171.9 847.2 L172.1 847.2 L172.3 847.2 L172.5 847.2 L172.7 847.2 L172.9 847.2 L173.1 847.2 L173.2 847.2 L173.4 847.2 L173.6 847.2 L173.8 847.2 L174 847.2 L174.2 847.2 L174.4 847.2 L174.6 847.2 L174.7 847.2 L174.9 847.2 L175.1 847.2 L175.3 847.2 L175.5 847.2 L175.7 847.2 L175.9 847.2 L176.1 847.2 L176.2 847.2 L176.4 847.2 L176.6 847.2 L176.8 847.2 L177 847.2 L177.2 847.2 L177.4 847.2 L177.5 847.2 L177.7 847.2 L177.9 847.2 L178.1 847.2 L178.3 847.2 L178.5 847.2 L178.7 847.2 L178.9 847.2 L179 847.2 L179.2 847.2 L179.4 847.2 L179.6 847.2 L179.8 847.2 L180 847.2 L180.2 847.2 L180.3 847.2 L180.5 847.2 L180.7 847.2 L180.9 847.2 L181.1 847.2 L181.3 847.2 L181.5 847.2 L181.6 847.2 L181.8 847.2 L182 847.2 L182.2 847.2 L182.4 847.2 L182.6 847.2 L182.8 847.2 L182.9 847.2 L183.1 847.2 L183.3 847.2 L183.5 847.2 L183.7 847.2 L183.9 847.2 L184 847.2 L184.2 847.2 L184.4 847.2 L184.6 847.2 L184.8 847.2 L185 847.2 L185.2 847.2 L185.3 847.2 L185.5 847.2 L185.7 847.2 L185.9 847.2 L186.1 847.2 L186.3 847.2 L186.5 847.2 L186.6 847.2 L186.8 847.2 L187 847.2 L187.2 847.2 L187.4 847.2 L187.6 847.2 L187.8 847.2 L187.9 847.2 L188.1 847.2 L188.3 847.2 L188.5 847.2 L188.7 847.2 L188.9 848.6 L189.1 850.1 L189.3 851.8 L189.5 853 L189.6 852.5 L189.8 852.6 L190 855.5 L190.2 857.3 L190.4 859.4 L190.6 859.5 L190.8 860.4 L191 860.4 L191.2 861.6 L191.3 865.2 L191.5 865.8 L191.7 866.6 L191.9 867.1 L192.1 870 L192.3 871 L192.5 871.4 L192.7 871.8 L192.9 870.8 L193.1 869.8 L193.2 870.5 L193.4 872.2 L193.6 875 L193.8 875.2 L194 873.2 L194.2 872.8 L194.4 875.2 L194.6 875.9 L194.8 874.8 L194.9 872.1 L195.1 870.1 L195.3 869.1 L195.5 868.3 L195.7 869.2 L195.9 869.3 L196.1 869.2 L196.3 869.7 L196.5 869.1 L196.6 869.1 L196.8 868.2 L197 865.8 L197.2 864.3 L197.4 863.3 L197.6 864 L197.8 866.4 L198 867 L198.2 866.7 L198.3 868.4 L198.5 867.2 L198.7 868.1 L198.9 868 L199.1 868.9 L199.3 870.9 L199.5 868.7 L199.7 870.6 L199.9 869.8 L200 871 L200.2 871 L200.4 872.5 L200.6 873.5 L200.8 872.7 L201 870.6 L201.2 872.1 L201.4 872.5 L201.6 871.7 L201.7 873 L201.9 872.4 L202.1 873.9 L202.3 873.5 L202.5 873.4 L202.7 871.3 L202.9 870.3 L203.1 871.4 L203.3 870 L203.4 870.9 L203.6 869.4 L203.8 867 L204 865.7 L204.2 865.9 L204.4 863.8 L204.6 863.1 L204.8 864.2 L205 864.2 L205.1 861.8 L205.3 861.7 L205.5 861.1 L205.7 861 L205.9 862.7 L206.1 862.9 L206.3 861.9 L206.5 861.1 L206.7 860.8 L206.8 863.1 L207 861 L207.2 859.6 L207.4 857.7 L207.6 855.5 L207.8 855.7 L208 856.1 L208.2 855.3 L208.4 852.7 L208.5 854.5 L208.7 854.4 L208.9 854.9 L209.1 853.7 L209.3 851.4 L209.5 851.4 L209.7 852.6 L209.9 852.1 L210.1 852.1 L210.2 853.7 L210.4 852.1 L210.6 852.4 L210.8 851.1 L211 852.4 L211.2 850.6 L211.4 852.1 L211.6 850.3 L211.8 852.2 L211.9 850 L212.1 850.1 L212.3 851.7 L212.5 851.6 L212.7 850.8 L212.9 850.5 L213.1 849.6 L213.3 847.6 L213.5 847.2 L213.7 848.7 L213.9 847.7 L214 847.2 L214.2 847.2 L214.4 847.2 L214.6 847.2 L214.8 847.2 L215 847.2 L215.2 847.2 L215.4 847.2 L215.6 847.2 L215.8 847.2 L215.9 847.2 L216.1 847.2 L216.3 847.2 L216.5 847.2 L216.7 847.2 L216.9 847.2 L217.1 847.2 L217.2 847.2 L217.4 847.2 L217.6 847.2 L217.8 847.2 L218 847.2 L218.2 847.2 L218.4 847.2 L218.5 847.2 L218.7 847.2 L218.9 847.2 L219.1 847.2 L219.3 847.2 L219.5 847.2 L219.6 847.2 L219.8 847.2 L220 847.2 L220.2 847.2 L220.4 847.2 L220.6 847.2 L220.8 847.2 L220.9 847.2 L221.1 847.2 L221.3 847.2 L221.5 847.2 L221.7 847.2 L221.9 847.2 L222.1 847.2 L222.2 847.2 L222.4 847.2 L222.6 847.2 L222.8 847.2 L223 847.2 L223.2 847.2 L223.4 847.2 L223.5 847.2 L223.7 847.2 L223.9 847.2 L224.1 847.2 L224.3 847.2 L224.5 847.2 L224.7 847.2 L224.8 847.2 L225 847.2 L225.2 847.2 L225.4 847.2 L225.6 847.2 L225.8 847.2 L226 847.2 L226.1 847.2 L226.3 847.2 L226.5 847.2 L226.7 847.2 L226.9 847.2 L227.1 847.2 L227.3 847.2 L227.4 847.2 L227.6 847.2 L227.8 847.2 L228 847.2 L228.2 847.2 L228.4 847.2 L228.6 847.2 L228.7 847.2 L228.9 847.2 L229.1 847.2 L229.3 847.2 L229.5 847.2 L229.7 847.2 L229.9 847.2 L230 847.2 L230.2 847.2 L230.4 847.2 L230.6 847.2 L230.8 847.2 L231 847.2 L231.1 847.2 L231.3 847.2 L231.5 847.2 L231.7 847.2 L231.9 847.2 L232.1 847.2 L232.3 847.2 L232.4 847.2 L232.6 847.2 L232.8 847.2 L233 847.2 L233.2 847.2 L233.4 847.2 L233.6 847.2 L233.7 847.2 L233.9 847.2 L234.1 847.2 L234.3 847.2 L234.5 847.2 L234.7 847.2 L234.9 847.2 L235 847.2 L235.2 847.2 L235.4 847.2 L235.6 847.2 L235.8 847.2 L236 847.2 L236.2 847.2 L236.4 847.2 L236.5 847.2 L236.7 847.2 L236.9 847.2 L237.1 847.2 L237.3 847.2 L237.5 847.2 L237.7 847.2 L237.9 847.2 L238 847.2 L238.2 847.2 L238.4 847.2 L238.6 847.2 L238.8 847.2 L239 847.2 L239.2 847.2 L239.4 847.2 L239.6 847.2 L239.7 847.2 L239.9 847.2 L240.1 847.2 L240.3 847.2 L240.5 847.2 L240.7 847.2 L240.9 847.2 L241.1 847.2 L241.2 847.2 L241.4 847.2 L241.6 847.2 L241.8 847.2 L242 847.2 L242.2 847.2 L242.4 847.2 L242.6 847.2 L242.7 847.2 L242.9 847.2 L243.1 847.2 L243.3 847.2 L243.5 847.2 L243.7 847.2 L243.9 847.2 L244 847.2 L244.2 847.2 L244.4 847.2 L244.6 847.2 L244.8 847.2 L245 847.2 L245.1 847.2 L245.3 847.2 L245.5 847.2 L245.7 847.2 L245.9 847.2 L246.1 847.2 L246.3 847.2 L246.4 847.2 L246.6 847.2 L246.8 847.2 L247 847.2 L247.2 847.2 L247.4 847.2 L247.6 847.2 L247.7 847.2 L247.9 847.2 L248.1 847.2 L248.3 847.2 L248.5 847.2 L248.7 847.2 L248.9 847.2 L249 847.2 L249.2 847.2 L249.4 847.2 L249.6 847.2 L249.8 847.2 L250 847.2 L250.2 847.2 L250.3 847.2 L250.5 847.2 L250.7 847.2 L250.9 847.2 L251.1 847.2 L251.3 847.2 L251.5 847.2 L251.6 847.2 L251.8 847.2 L252 847.2 L252.2 847.2 L252.4 847.2 L252.6 847.2 L252.7 847.2 L252.9 847.2 L253.1 847.2 L253.3 847.2 L253.5 847.2 L253.7 847.2 L253.9 847.2 L254 847.2 L254.2 847.2 L254.4 847.2 L254.6 847.2 L254.8 847.2 L255 847.2 L255.2 847.2 L255.3 847.2 L255.5 847.2 L255.7 847.2 L255.9 847.2 L256.1 847.2 L256.3 847.2 L256.5 847.2 L256.6 847.2 L256.8 847.2 L257 847.2 L257.2 847.2 L257.4 847.2 L257.6 847.2 L257.8 847.2 L258 847.2 L258.1 847.2 L258.3 847.2 L258.5 847.2 L258.7 847.2 L258.9 847.2 L259.1 847.2 L259.3 847.2 L259.5 847.2 L259.7 847.2 L259.9 847.2 L260.1 847.2 L260.2 847.2 L260.4 847.2 L260.6 847.2 L260.8 847.2 L261 847.2 L261.2 847.2 L261.4 847.2 L261.6 847.2 L261.7 847.2 L261.9 847.2 L262.1 847.2 L262.3 847.2 L262.5 847.2 L262.7 847.2 L262.9 847.2 L263 847.2 L263.2 847.2 L263.4 847.2 L263.6 847.2 L263.8 847.2 L264 847.2 L264.1 847.2 L264.3 847.2 L264.5 847.2 L264.7 847.2 L264.9 847.2 L265.1 847.2 L265.3 847.2 L265.4 847.2 L265.6 847.2 L265.8 847.2 L266 847.2 L266.2 847.2 L266.4 847.2 L266.6 847.2 L266.7 847.2 L266.9 847.2 L267.1 847.2 L267.3 847.2 L267.5 847.2 L267.7 847.2 L267.9 847.2 L268 847.2 L268.2 847.2 L268.4 847.2 L268.6 847.2 L268.8 847.2 L269 847.2 L269.1 847.2 L269.3 847.2 L269.5 847.2 L269.7 847.2 L269.9 847.2 L270.1 847.2 L270.3 847.2 L270.4 847.2 L270.6 847.2 L270.8 847.2 L271 847.2 L271.2 847.2 L271.4 847.2 L271.6 847.2 L271.8 847.2 L271.9 847.2 L272.1 847.2 L272.3 847.2 L272.5 847.2 L272.7 847.2 L272.9 847.2 L273.1 847.2 L273.3 847.2 L273.5 847.2 L273.6 847.2 L273.8 847.2 L274 847.2 L274.2 847.2 L274.4 847.2 L274.6 847.2 L274.8 847.2 L275 847.2 L275.1 847.2 L275.3 847.2 L275.5 847.2 L275.7 847.2 L275.9 847.2 L276.1 847.2 L276.3 847.2 L276.5 847.2 L276.7 847.2 L276.8 847.2 L277 847.2 L277.2 847.2 L277.4 847.2 L277.6 847.2 L277.8 847.2 L278 847.2 L278.2 847.2 L278.4 847.2 L278.5 847.2 L278.7 847.2 L278.9 847.2 L279.1 847.2 L279.3 847.2 L279.5 847.2 L279.7 847.2 L279.9 847.2 L280.1 847.2 L280.3 847.2 L280.4 847.2 L280.6 847.2 L280.8 847.2 L281 847.2 L281.2 847.2 L281.4 847.2 L281.6 847.2 L281.8 847.2 L282 847.2 L282.2 847.2 L282.3 847.2 L282.5 847.2 L282.7 847.2 L282.9 847.2 L283.1 847.2 L283.3 847.2 L283.5 847.2 L283.7 847.2 L283.9 847.2 L284.1 847.2 L284.3 847.2 L284.4 847.2 L284.6 847.2 L284.8 847.2 L285 847.2 L285.2 847.2 L285.4 847.2 L285.6 847.2 L285.8 847.2 L285.9 847.2 L286.1 847.2 L286.3 847.2 L286.5 847.2 L286.7 847.2 L286.9 847.2 L287.1 847.2 L287.3 847.2 L287.4 847.2 L287.6 847.2 L287.8 847.2 L288 847.2 L288.2 847.2 L288.4 847.2 L288.6 847.2 L288.8 847.2 L288.9 847.2 L289.1 847.2 L289.3 847.2 L289.5 847.2 L289.7 847.2 L289.9 847.2 L290.1 847.2 L290.2 847.2 L290.4 847.2 L290.6 847.2 L290.8 847.2 L291 847.2 L291.2 847.2 L291.4 847.2 L291.6 847.2 L291.7 847.2 L291.9 847.2 L292.1 847.2 L292.3 847.2 L292.5 847.2 L292.7 847.2 L292.9 847.2 L293 847.2 L293.2 847.2 L293.4 847.2 L293.6 847.2 L293.8 847.2 L294 847.2 L294.2 847.2 L294.4 847.2 L294.5 847.2 L294.7 847.2 L294.9 847.2 L295.1 847.2 L295.3 847.2 L295.5 847.2 L295.7 847.2 L295.9 847.2 L296 847.2 L296.2 847.2 L296.4 847.2 L296.6 847.2 L296.8 847.2 L297 847.2 L297.2 847.2 L297.3 847.2 L297.5 847.2 L297.7 847.2 L297.9 847.2 L298.1 847.2 L298.3 847.2 L298.5 847.2 L298.6 847.2 L298.8 847.2 L299 847.2 L299.2 847.2 L299.4 847.2 L299.6 847.2 L299.8 847.2 L299.9 847.2 L300.1 847.2 L300.3 847.2 L300.5 847.2 L300.7 847.2 L300.9 847.2 L301 847.2 L301.2 847.2 L301.4 847.2 L301.6 847.2 L301.8 847.2 L302 847.2 L302.2 847.2 L302.3 847.2 L302.5 847.2 L302.7 847.2 L302.9 847.2 L303.1 847.2 L303.3 847.2 L303.5 847.2 L303.6 847.2 L303.8 847.2 L304 847.2 L304.2 847.2 L304.4 847.2 L304.6 847.2 L304.8 847.2 L304.9 847.2 L305.1 847.2 L305.3 847.2 L305.5 847.2 L305.7 847.2 L305.9 847.2 L306.1 847.2 L306.2 847.2 L306.4 847.2 L306.6 847.2 L306.8 847.2 L307 847.2 L307.2 847.2 L307.4 847.2 L307.6 847.2 L307.7 847.2 L307.9 847.2 L308.1 847.2 L308.3 847.2 L308.5 847.2 L308.7 847.2 L308.9 847.2 L309.1 847.2 L309.2 847.2 L309.4 847.2 L309.6 847.2 L309.8 847.2 L310 847.2 L310.2 847.2 L310.4 847.2 L310.6 847.2 L310.7 847.2 L310.9 847.2 L311.1 847.2 L311.3 847.2 L311.5 847.2 L311.7 847.2 L311.9 847.2 L312.1 847.2 L312.2 847.2 L312.4 847.2 L312.6 847.2 L312.8 847.2 L313 847.2 L313.2 847.2 L313.4 847.2 L313.6 847.2 L313.7 847.2 L313.9 847.2 L314.1 847.2 L314.3 847.2 L314.5 847.2 L314.7 847.2 L314.9 847.2 L315.1 847.2 L315.2 847.2 L315.4 847.2 L315.6 847.2 L315.8 847.2 L316 847.2 L316.2 847.2 L316.4 847.2 L316.5 847.2 L316.7 847.2 L316.9 847.2 L317.1 847.2 L317.3 847.2 L317.5 847.2 L317.6 847.2 L317.8 847.2 L318 847.2 L318.2 847.2 L318.4 847.2 L318.6 847.2 L318.8 847.2 L318.9 847.2 L319.1 847.2 L319.3 847.2 L319.5 847.2 L319.7 847.2 L319.9 847.2 L320.1 847.2 L320.3 847.2 L320.4 847.2 L320.6 847.2 L320.8 847.2 L321 847.2 L321.2 847.2 L321.4 847.2 L321.6 847.2 L321.8 847.2 L322 847.2 L322.2 847.2 L322.3 847.2 L322.5 847.2 L322.7 847.2 L322.9 847.2 L323.1 847.2 L323.3 847.2 L323.5 847.2 L323.7 847.2 L323.9 847.2 L324.1 847.2 L324.2 847.2 L324.4 847.2 L324.6 847.2 L324.8 847.2 L325 847.2 L325.2 847.2 L325.4 847.2 L325.6 847.2 L325.7 847.2 L325.9 847.2 L326.1 847.2 L326.3 847.2 L326.5 847.2 L326.7 847.2 L326.9 847.2 L327 847.2 L327.2 847.2 L327.4 847.2 L327.6 847.2 L327.8 847.2 L328 847.2 L328.1 847.2 L328.3 847.2 L328.5 847.2 L328.7 847.2 L328.9 847.2 L329.1 847.2 L329.3 847.2 L329.4 847.2 L329.6 847.2 L329.8 847.2 L330 847.2 L330.2 847.2 L330.4 847.2 L330.6 847.2 L330.7 847.2 L330.9 847.2 L331.1 847.2 L331.3 847.2 L331.5 847.2 L331.7 847.2 L331.9 847.2 L332 847.2 L332.2 847.2 L332.4 847.2 L332.6 847.2 L332.8 847.2 L333 847.2 L333.1 847.2 L333.3 847.2 L333.5 847.2 L333.7 847.2 L333.9 847.2 L334.1 847.2 L334.3 847.2 L334.4 847.2 L334.6 847.2 L334.8 847.2 L335 847.2 L335.2 847.2 L335.4 847.2 L335.6 847.2 L335.7 847.2 L335.9 847.2 L336.1 847.2 L336.3 847.2 L336.5 847.2 L336.7 847.2 L336.9 847.2 L337 847.2 L337.2 847.2 L337.4 847.2 L337.6 847.2 L337.8 847.2 L338 847.2 L338.2 847.2 L338.3 847.2 L338.5 847.2 L338.7 847.2 L338.9 847.2 L339.1 847.2 L339.3 847.2 L339.5 847.2 L339.7 847.2 L339.8 847.2 L340 847.2 L340.2 847.2 L340.4 847.2 L340.6 847.2 L340.8 847.2 L341 847.2 L341.1 847.2 L341.3 847.2 L341.5 847.2 L341.7 847.2 L341.9 847.2 L342.1 847.2 L342.3 847.2 L342.4 847.2 L342.6 847.2 L342.8 847.2 L343 847.2 L343.2 847.2 L343.4 847.2 L343.6 847.2 L343.7 847.2 L343.9 847.2 L344.1 847.2 L344.3 847.2 L344.5 847.2 L344.7 847.2 L344.9 847.2 L345 847.2 L345.2 847.2 L345.4 847.2 L345.6 847.2 L345.8 847.2 L346 847.2 L346.1 847.2 L346.3 847.2 L346.5 847.2 L346.7 847.2 L346.9 847.2 L347.1 847.2 L347.3 847.2 L347.4 847.2 L347.6 847.2 L347.8 847.2 L348 847.2 L348.2 847.2 L348.4 847.2 L348.6 847.2 L348.7 847.2 L348.9 847.2 L349.1 847.2 L349.3 847.2 L349.5 847.4 L349.7 847.2 L349.9 847.2 L350 847.2 L350.2 847.2 L350.4 847.2 L350.6 847.2 L350.8 847.2 L351 847.2 L351.1 847.2 L351.3 847.2 L351.5 847.2 L351.7 847.2 L351.9 847.2 L352.1 847.2 L352.3 847.2 L352.4 847.2 L352.6 847.2 L352.8 847.2 L353 847.2 L353.2 847.2 L353.4 847.2 L353.6 847.9 L353.7 847.2 L353.9 847.2 L354.1 847.9 L354.3 849.6 L354.5 849.6 L354.7 850.5 L354.9 850.4 L355 850 L355.2 849.3 L355.4 849.9 L355.6 850.8 L355.8 850.9 L356 851.2 L356.1 851.2 L356.3 852 L356.5 852.5 L356.7 853.4 L356.9 854.4 L357.1 854.4 L357.3 853.1 L357.4 853.9 L357.6 853.4 L357.8 853.1 L358 853.2 L358.2 851.5 L358.4 851.4 L358.6 849.8 L358.8 848.6 L359 852.3 L359.1 851 L359.3 849.4 L359.5 847.2 L359.7 847.2 L359.9 847.2 L360.1 847.2 L360.3 847.2 L360.5 847.2 L360.7 847.2 L360.9 847.2 L361 847.2 L361.2 847.2 L361.4 847.2 L361.6 847.2 L361.8 847.2 L362 847.2 L362.2 847.2 L362.4 847.2 L362.6 847.2 L362.8 847.2 L362.9 847.2 L363.1 847.2 L363.3 847.2 L363.5 847.2 L363.7 847.2 L363.9 847.2 L364.1 847.2 L364.3 847.2 L364.5 847.2 L364.7 847.2 L364.8 847.2 L365 847.2 L365.2 847.2 L365.4 847.2 L365.6 847.2 L365.8 847.8 L366 847.2 L366.2 847.2 L366.4 847.6 L366.5 847.2 L366.7 847.2 L366.9 847.2 L367.1 847.2 L367.3 847.2 L367.5 848 L367.7 847.9 L367.9 848.1 L368 849 L368.2 849.6 L368.4 850.6 L368.6 849.9 L368.8 851.3 L369 853.4 L369.2 854.7 L369.3 853.4 L369.5 854.1 L369.7 853.4 L369.9 852.5 L370.1 853.3 L370.3 852.4 L370.5 851.8 L370.7 852 L370.8 853 L371 853.1 L371.2 854.9 L371.4 855.3 L371.6 856.1 L371.8 855.7 L372 855.3 L372.1 856.2 L372.3 855.2 L372.5 853.7 L372.7 853.7 L372.9 854.8 L373.1 854.2 L373.3 857.5 L373.5 858.3 L373.6 857.6 L373.8 855.1 L374 856.2 L374.2 854.3 L374.4 851.4 L374.6 849 L374.8 852.2 L375 850.8 L375.1 850.7 L375.3 849.4 L375.5 849.8 L375.7 850.6 L375.9 851 L376.1 849.2 L376.3 848.2 L376.4 848.6 L376.6 848.2 L376.8 847.2 L377 847.2 L377.2 847.2 L377.4 847.6 L377.6 848.7 L377.8 849.3 L377.9 850.1 L378.1 852.3 L378.3 854.2 L378.5 853.2 L378.7 854.2 L378.9 855.4 L379.1 855.1 L379.3 852.7 L379.4 850.7 L379.6 850.8 L379.8 851.7 L380 852 L380.2 852.7 L380.4 853 L380.6 851.9 L380.8 852.9 L380.9 853.5 L381.1 853.4 L381.3 853 L381.5 853.5 L381.7 854.1 L381.9 855.2 L382.1 855.7 L382.3 854.6 L382.4 854.5 L382.6 858.1 L382.8 856.9 L383 856.5 L383.2 857.2 L383.4 857.1 L383.6 860.6 L383.8 862.3 L383.9 860.4 L384.1 857.2 L384.3 853.9 L384.5 854.4 L384.7 854 L384.9 852.5 L385.1 853.7 L385.3 851 L385.4 851.5 L385.6 850.6 L385.8 851.7 L386 850.8 L386.2 850.6 L386.4 849.1 L386.6 850.4 L386.7 850.3 L386.9 847.7 L387.1 849.1 L387.3 848.5 L387.5 847.8 L387.7 848.3 L387.9 848.5 L388 847.2 L388.2 847.2 L388.4 847.2 L388.6 847.2 L388.8 847.2 L389 847.2 L389.2 847.2 L389.3 847.2 L389.5 847.2 L389.7 847.2 L389.9 847.2 L390.1 847.2 L390.3 847.2 L390.5 847.2 L390.6 847.2 L390.8 847.2 L391 847.2 L391.2 847.2 L391.4 847.2 L391.6 847.2 L391.8 847.2 L391.9 847.2 L392.1 847.2 L392.3 847.2 L392.5 847.2 L392.7 847.2 L392.9 847.2 L393.1 847.2 L393.3 847.2 L393.5 847.2 L393.6 847.2 L393.8 847.2 L394 847.2 L394.2 847.2 L394.4 847.2 L394.6 847.2 L394.8 847.2 L395 847.2 L395.2 847.2 L395.4 847.2 L395.5 847.2 L395.7 847.2 L395.9 847.2 L396.1 847.2 L396.3 847.2 L396.5 847.2 L396.7 847.2 L396.9 847.2 L397.1 847.2 L397.2 847.2 L397.4 847.2 L397.6 847.2 L397.8 847.2 L398 847.2 L398.2 847.2 L398.4 847.2 L398.6 847.2 L398.7 847.2 L398.9 847.2 L399.1 847.2 L399.3 847.2 L399.5 847.2 L399.7 847.2 L399.9 847.2 L400.1 847.2 L400.2 847.2 L400.4 847.2 L400.6 847.2 L400.8 847.2 L401 847.2 L401.2 847.2 L401.4 847.2 L401.6 847.2 L401.7 847.2 L401.9 847.2 L402.1 847.2 L402.3 847.2 L402.5 847.2 L402.7 847.2 L402.9 847.2 L403.1 847.2 L403.2 847.2 L403.4 847.2 L403.6 847.2 L403.8 847.2 L404 847.2 L404.2 847.2 L404.4 847.2 L404.6 847.2 L404.7 847.2 L404.9 847.2 L405.1 847.2 L405.3 847.2 L405.5 847.2 L405.7 847.2 L405.9 847.2 L406 847.2 L406.2 847.2 L406.4 847.2 L406.6 847.2 L406.8 847.2 L407 847.2 L407.1 847.2 L407.3 847.2 L407.5 847.2 L407.7 847.2 L407.9 847.2 L408.1 847.2 L408.3 847.2 L408.4 847.2 L408.6 847.2 L408.8 847.2 L409 847.2 L409.2 847.2 L409.4 847.2 L409.6 847.2 L409.7 847.2 L409.9 847.2 L410.1 847.2 L410.3 847.2 L410.5 847.2 L410.7 847.2 L410.8 847.2 L411 847.2 L411.2 847.2 L411.4 847.2 L411.6 847.2 L411.8 847.2 L411.9 847.2 L412.1 847.2 L412.3 847.2 L412.5 847.2 L412.7 847.2 L412.9 847.2 L413 847.2 L413.2 847.2 L413.4 847.2 L413.6 847.2 L413.8 847.2 L414 847.2 L414.1 847.2 L414.3 847.2 L414.5 847.2 L414.7 847.2 L414.9 847.2 L415.1 847.2 L415.3 847.2 L415.4 847.2 L415.6 847.2 L415.8 847.2 L416 847.2 L416.2 847.2 L416.4 847.2 L416.6 847.2 L416.8 847.2 L416.9 847.2 L417.1 847.2 L417.3 847.2 L417.5 847.2 L417.7 847.2 L417.9 847.2 L418.1 847.2 L418.2 847.2 L418.4 847.2 L418.6 847.2 L418.8 847.2 L419 847.2 L419.2 847.2 L419.4 847.2 L419.6 847.2 L419.7 847.2 L419.9 847.2 L420.1 847.2 L420.3 847.2 L420.5 847.2 L420.7 847.2 L420.9 847.2 L421.1 847.2 L421.2 847.2 L421.4 847.2 L421.6 847.2 L421.8 847.2 L422 847.2 L422.2 847.2 L422.4 847.2 L422.6 847.2 L422.7 847.2 L422.9 847.2 L423.1 847.2 L423.3 847.2 L423.5 847.2 L423.7 847.2 L423.9 847.2 L424.1 847.2 L424.3 847.2 L424.4 847.2 L424.6 847.2 L424.8 847.2 L425 847.2 L425.2 847.2 L425.4 847.2 L425.6 847.2 L425.8 847.2 L426 847.2 L426.1 847.2 L426.3 847.2 L426.5 847.2 L426.7 847.2 L426.9 847.2 L427.1 847.2 L427.3 847.2 L427.5 847.2 L427.6 847.2 L427.8 847.2 L428 847.2 L428.2 847.2 L428.4 847.2 L428.6 847.2 L428.8 847.2 L428.9 847.2 L429.1 847.2 L429.3 847.2 L429.5 847.2 L429.7 847.2 L429.9 847.2 L430.1 847.2 L430.2 847.2 L430.4 847.2 L430.6 847.2 L430.8 847.2 L431 847.2 L431.2 847.2 L431.3 847.2 L431.5 847.2 L431.7 847.2 L431.9 847.2 L432.1 847.2 L432.3 847.2 L432.5 847.2 L432.6 847.2 L432.8 847.2 L433 847.2 L433.2 847.2 L433.4 847.2 L433.6 847.2 L433.8 847.2 L434 847.2 L434.2 847.2 L434.3 847.2 L434.5 847.2 L434.7 847.2 L434.9 847.2 L435.1 847.2 L435.3 847.2 L435.5 847.2 L435.7 847.2 L435.9 847.2 L436.1 847.2 L436.2 847.2 L436.4 847.2 L436.6 847.2 L436.8 847.2 L437 847.2 L437.2 847.2 L437.4 847.2 L437.6 847.2 L437.8 847.2 L437.9 847.2 L438.1 847.2 L438.3 847.2 L438.5 847.2 L438.7 847.2 L438.9 847.2 L439.1 847.2 L439.3 847.2 L439.4 847.2 L439.6 847.2 L439.8 847.2 L440 847.2 L440.2 847.2 L440.4 847.2 L440.6 847.2 L440.8 847.2 L440.9 847.2 L441.1 847.2 L441.3 847.2 L441.5 847.2 L441.7 847.2 L441.9 847.2 L442.1 847.2 L442.3 847.2 L442.4 847.2 L442.6 847.2 L442.8 847.2 L443 847.2 L443.2 847.2 L443.4 847.2 L443.6 847.2 L443.8 847.2 L443.9 847.2 L444.1 847.2 L444.3 847.2 L444.5 847.2 L444.7 847.2 L444.9 847.2 L445.1 847.2 L445.3 847.2 L445.5 847.2 L445.6 847.2 L445.8 847.2 L446 847.2 L446.2 847.2 L446.4 847.2 L446.6 847.2 L446.8 847.2 L447 847.2 L447.2 847.2 L447.4 847.2 L447.6 847.2 L447.7 847.2 L447.9 847.2 L448.1 847.2 L448.3 847.2 L448.5 847.2 L448.7 847.2 L448.9 847.2 L449.1 847.2 L449.3 847.2 L449.5 847.2 L449.6 847.2 L449.8 847.2 L450 847.2 L450.2 847.2 L450.4 847.2 L450.6 847.2 L450.8 847.2 L451 847.2 L451.2 847.2 L451.3 847.2 L451.5 847.2 L451.7 847.2 L451.9 847.2 L452.1 847.2 L452.3 847.2 L452.5 847.2 L452.7 847.2 L452.9 847.2 L453.1 847.2 L453.2 847.2 L453.4 847.2 L453.6 847.2 L453.8 847.2 L454 847.2 L454.2 847.2 L454.4 847.2 L454.6 847.2 L454.7 847.2 L454.9 847.2 L455.1 847.2 L455.3 847.2 L455.5 847.2 L455.7 847.2 L455.9 847.2 L456.1 847.2 L456.3 847.2 L456.4 847.2 L456.6 847.2 L456.8 847.2 L457 847.2 L457.2 847.2 L457.4 847.2 L457.6 847.2 L457.8 847.2 L457.9 847.2 L458.1 847.2 L458.3 847.2 L458.5 847.2 L458.7 847.2 L458.9 847.2 L459.1 847.2 L459.3 847.2 L459.4 847.2 L459.6 847.2 L459.8 847.2 L460 847.2 L460.2 847.2 L460.4 847.2 L460.6 847.2 L460.7 847.2 L460.9 847.2 L461.1 847.2 L461.3 847.2 L461.5 847.2 L461.7 847.2 L461.9 847.2 L462 847.2 L462.2 847.2 L462.4 847.2 L462.6 847.2 L462.8 847.2 L463 847.2 L463.2 847.2 L463.3 847.2 L463.5 847.2 L463.7 847.2 L463.9 847.2 L464.1 847.2 L464.3 847.2 L464.4 847.2 L464.6 847.2 L464.8 847.2 L465 847.2 L465.2 847.2 L465.4 847.2 L465.6 847.2 L465.7 847.2 L465.9 847.2 L466.1 847.2 L466.3 847.2 L466.5 847.2 L466.7 847.2 L466.9 847.2 L467 847.2 L467.2 847.2 L467.4 847.2 L467.6 847.2 L467.8 847.2 L468 847.2 L468.2 847.2 L468.4 847.2 L468.5 847.2 L468.7 847.2 L468.9 847.2 L469.1 847.2 L469.3 847.2 L469.5 847.2 L469.7 847.2 L469.9 847.2 L470.1 847.2 L470.2 847.2 L470.4 847.2 L470.6 847.2 L470.8 847.2 L471 847.2 L471.2 847.2 L471.4 847.2 L471.6 847.2 L471.8 847.2 L471.9 847.2 L472.1 847.2 L472.3 847.2 L472.5 847.2 L472.7 847.2 L472.9 847.2 L473.1 847.2 L473.3 847.2 L473.4 847.2 L473.6 847.2 L473.8 847.2 L474 847.2 L474.2 847.2 L474.4 847.2 L474.6 847.2 L474.7 847.2 L474.9 847.2 L475.1 847.2 L475.3 847.2 L475.5 847.2 L475.7 847.2 L475.9 847.2 L476 847.2 L476.2 847.2 L476.4 847.2 L476.6 847.2 L476.8 847.2 L477 847.2 L477.1 847.2 L477.3 847.2 L477.5 847.2 L477.7 847.2 L477.9 847.2 L478.1 847.2 L478.3 847.2 L478.4 847.2 L478.6 847.2 L478.8 847.2 L479 847.2 L479.2 847.2 L479.4 847.2 L479.6 847.2 L479.7 847.2 L479.9 847.2 L480.1 847.2 L480.3 847.2 L480.5 847.2 L480.7 847.2 L480.9 847.2 L481.1 847.2 L481.2 847.2 L481.4 847.2 L481.6 847.2 L481.8 847.2 L482 847.2 L482.2 847.2 L482.4 847.2 L482.6 847.2 L482.8 847.2 L483 847.2 L483.2 847.2 L483.3 847.2 L483.5 847.2 L483.7 847.2 L483.9 847.2 L484.1 847.2 L484.3 847.2 L484.5 847.2 L484.7 847.2 L484.9 847.2 L485 847.2 L485.2 847.2 L485.4 847.2 L485.6 847.2 L485.8 847.2 L486 847.2 L486.2 847.2 L486.4 847.2 L486.6 847.2 L486.7 847.2 L486.9 847.2 L487.1 847.2 L487.3 847.2 L487.5 847.2 L487.7 847.2 L487.9 847.2 L488.1 847.2 L488.3 847.2 L488.4 847.2 L488.6 847.2 L488.8 847.2 L489 847.2 L489.2 847.2 L489.4 847.2 L489.6 847.2 L489.8 847.2 L490 847.2 L490.1 847.2 L490.3 847.2 L490.5 847.2 L490.7 847.2 L490.9 847.2 L491.1 847.2 L491.3 847.2 L491.5 847.2 L491.6 847.2 L491.8 847.2 L492 847.2 L492.2 847.2 L492.4 847.2 L492.6 847.2 L492.8 847.2 L493 847.2 L493.2 847.2 L493.3 847.2 L493.5 847.2 L493.7 847.2 L493.9 847.2 L494.1 847.2 L494.3 847.2 L494.5 847.2 L494.7 847.2 L494.8 847.2 L495 847.2 L495.2 847.2 L495.4 847.2 L495.6 847.2 L495.8 847.2 L496 847.2 L496.2 847.2 L496.3 847.2 L496.5 847.2 L496.7 847.2 L496.9 847.2 L497.1 847.2 L497.3 847.2 L497.5 847.2 L497.7 847.2 L497.8 847.2 L498 847.2 L498.2 847.2 L498.4 847.2 L498.6 847.2 L498.8 847.2 L499 847.2 L499.2 847.2 L499.3 847.2 L499.5 847.2 L499.7 847.2 L499.9 847.2 L500.1 847.2 L500.3 847.2 L500.5 847.2 L500.6 847.2 L500.8 847.2 L501 847.2 L501.2 847.2 L501.4 847.2 L501.6 847.2 L501.8 847.2 L502 847.2 L502.1 847.2 L502.3 847.2 L502.5 847.2 L502.7 847.2 L502.9 847.2 L503.1 847.2 L503.3 847.2 L503.4 847.2 L503.6 847.2 L503.8 847.2 L504 847.2 L504.2 847.2 L504.4 847.2 L504.6 847.2 L504.8 847.2 L504.9 847.2 L505.1 847.2 L505.3 847.2 L505.5 847.2 L505.7 847.2 L505.9 847.2 L506.1 847.2 L506.3 847.2 L506.4 847.2 L506.6 847.2 L506.8 847.2 L507 847.2 L507.2 847.2 L507.4 847.2 L507.6 847.2 L507.7 847.2 L507.9 847.2 L508.1 847.2 L508.3 847.2 L508.5 847.2 L508.7 847.2 L508.9 847.2 L509 847.2 L509.2 847.2 L509.4 847.2 L509.6 847.2 L509.8 847.2 L510 847.2 L510.2 847.2 L510.4 847.2 L510.5 847.2 L510.7 847.2 L510.9 847.2 L511.1 847.2 L511.3 847.2 L511.5 847.2 L511.7 847.2 L511.9 847.2 L512.1 847.2 L512.3 847.2 L512.4 847.2 L512.6 847.2 L512.8 847.2 L513 847.2 L513.2 847.2 L513.4 847.2 L513.6 847.2 L513.8 847.2 L514 847.2 L514.2 847.2 L514.3 847.2 L514.5 847.2 L514.7 847.2 L514.9 847.2 L515.1 847.2 L515.3 847.2 L515.5 847.2 L515.7 847.2 L515.9 847.2 L516.1 847.2 L516.3 847.2 L516.4 847.2 L516.6 847.2 L516.8 847.2 L517 847.2 L517.2 847.2 L517.4 847.2 L517.6 847.2 L517.8 847.2 L518 847.2 L518.1 847.2 L518.3 847.2 L518.5 847.2 L518.7 847.2 L518.9 847.2 L519.1 847.2 L519.3 847.2 L519.5 847.2 L519.6 847.2 L519.8 847.2 L520 847.2 L520.2 847.2 L520.4 847.2 L520.6 847.2 L520.8 847.2 L521 847.2 L521.2 847.2 L521.3 847.2 L521.5 847.2 L521.7 847.2 L521.9 847.2 L522.1 847.2 L522.3 847.2 L522.5 847.2 L522.7 847.2 L522.8 847.2 L523 847.2 L523.2 847.2 L523.4 847.2 L523.6 847.2 L523.8 847.2 L524 847.2 L524.2 847.2 L524.4 847.2 L524.5 847.2 L524.7 847.2 L524.9 847.2 L525.1 847.2 L525.3 847.2 L525.5 847.2 L525.7 847.2 L525.9 847.2 L526.1 847.2 L526.2 847.2 L526.4 847.2 L526.6 847.2 L526.8 847.2 L527 847.2 L527.2 847.2 L527.4 847.2 L527.6 847.2 L527.8 847.2 L527.9 847.2 L528.1 847.2 L528.3 847.2 L528.5 847.2 L528.7 847.2 L528.9 847.2 L529.1 847.2 L529.3 847.2 L529.4 847.2 L529.6 847.2 L529.8 847.2 L530 847.2 L530.2 847.2 L530.4 847.2 L530.6 847.2 L530.7 847.2 L530.9 847.2 L531.1 847.2 L531.3 847.2 L531.5 847.2 L531.7 847.2 L531.8 847.2 L532 847.2 L532.2 847.2 L532.4 847.2 L532.6 847.2 L532.8 847.2 L533 847.2 L533.1 847.2 L533.3 847.2 L533.5 847.2 L533.7 847.2 L533.9 847.2 L534.1 847.2 L534.3 847.2 L534.4 847.2 L534.6 847.2 L534.8 847.2 L535 847.2 L535.2 847.2 L535.4 847.2 L535.6 847.2 L535.8 847.2 L535.9 847.2 L536.1 847.2 L536.3 847.2 L536.5 847.2 L536.7 847.2 L536.9 847.2 L537.1 847.2 L537.3 847.2 L537.4 847.2 L537.6 847.2 L537.8 847.2 L538 847.2 L538.2 847.2 L538.4 847.2 L538.6 847.2 L538.8 847.2 L538.9 847.2 L539.1 847.2 L539.3 847.2 L539.5 847.2 L539.7 847.2 L539.9 847.2 L540.1 847.2 L540.3 847.2 L540.4 847.2 L540.6 847.2 L540.8 847.2 L541 847.2 L541.2 847.2 L541.4 847.2 L541.6 847.2 L541.8 847.2 L541.9 847.2 L542.1 847.2 L542.3 847.2 L542.5 847.2 L542.7 847.2 L542.9 847.2 L543.1 847.2 L543.3 847.2 L543.4 847.2 L543.6 847.2 L543.8 847.2 L544 847.2 L544.2 847.2 L544.4 847.2 L544.6 847.2 L544.7 847.2 L544.9 847.2 L545.1 847.2 L545.3 847.2 L545.5 847.2 L545.7 847.2 L545.9 847.2 L546 847.2 L546.2 847.2 L546.4 847.2 L546.6 847.2 L546.8 847.2 L547 847.2 L547.2 847.2 L547.3 847.2 L547.5 847.2 L547.7 847.2 L547.9 847.2 L548.1 847.2 L548.3 847.2 L548.4 847.2 L548.6 847.2 L548.8 847.2 L549 847.2 L549.2 847.2 L549.4 847.2 L549.6 847.2 L549.7 847.2 L549.9 847.2 L550.1 847.2 L550.3 847.2 L550.5 847.2 L550.7 847.2 L550.9 847.2 L551 847.2 L551.2 847.2 L551.4 847.2 L551.6 847.2 L551.8 847.2 L552 847.2 L552.2 847.2 L552.3 847.2 L552.5 847.2 L552.7 847.2 L552.9 847.2 L553.1 847.2 L553.3 847.2 L553.5 847.2 L553.6 847.2 L553.8 847.2 L554 847.2 L554.2 847.2 L554.4 847.2 L554.6 847.2 L554.8 847.2 L554.9 847.2 L555.1 847.2 L555.3 847.2 L555.5 847.2 L555.7 847.2 L555.9 847.2 L556 847.2 L556.2 847.2 L556.4 847.2 L556.6 847.2 L556.8 847.2 L557 847.2 L557.2 847.2 L557.3 847.2 L557.5 847.2 L557.7 847.2 L557.9 847.2 L558.1 847.2 L558.3 847.2 L558.5 847.2 L558.6 847.2 L558.8 847.2 L559 847.2 L559.2 847.2 L559.4 847.2 L559.6 847.2 L559.8 847.2 L559.9 847.2 L560.1 847.2 L560.3 847.2 L560.5 847.2 L560.7 847.2 L560.9 847.2 L561.1 847.2 L561.3 847.2 L561.4 847.2 L561.6 847.2 L561.8 847.2 L562 847.2 L562.2 847.2 L562.4 847.2 L562.6 847.2 L562.8 847.2 L562.9 847.2 L563.1 847.2 L563.3 847.2 L563.5 847.2 L563.7 847.2 L563.9 847.2 L564.1 847.2 L564.3 847.2 L564.4 847.2 L564.6 847.2 L564.8 847.2 L565 847.2 L565.2 847.2 L565.4 847.2 L565.6 847.2 L565.8 847.2 L565.9 847.2 L566.1 847.2 L566.3 847.2 L566.5 847.2 L566.7 847.2 L566.9 847.2 L567.1 847.2 L567.3 847.2 L567.4 847.2 L567.6 847.2 L567.8 847.2 L568 847.2 L568.2 847.2 L568.4 847.2 L568.6 847.2 L568.8 847.2 L568.9 847.2 L569.1 847.2 L569.3 847.2 L569.5 847.2 L569.7 847.2 L569.9 847.2 L570.1 847.2 L570.3 847.2 L570.4 847.2 L570.6 847.2 L570.8 847.2 L571 847.2 L571.2 847.2 L571.4 847.2 L571.6 847.2 L571.8 847.2 L571.9 847.2 L572.1 847.2 L572.3 847.2 L572.5 847.2 L572.7 847.2 L572.9 847.2 L573.1 847.2 L573.3 847.2 L573.4 847.2 L573.6 847.2 L573.8 847.2 L574 847.2 L574.2 847.2 L574.4 847.2 L574.6 847.2 L574.8 847.2 L574.9 847.2 L575.1 847.2 L575.3 847.2 L575.5 847.2 L575.7 847.2 L575.9 847.2 L576.1 847.2 L576.3 847.2 L576.4 847.2 L576.6 847.2 L576.8 847.2 L577 847.2 L577.2 847.2 L577.4 847.2 L577.6 847.2 L577.7 847.2 L577.9 847.2 L578.1 847.2 L578.3 847.2 L578.5 847.2 L578.7 847.2 L578.9 847.2 L579.1 847.2 L579.2 847.2 L579.4 847.2 L579.6 847.2 L579.8 847.2 L580 847.2 L580.2 847.2 L580.4 847.2 L580.6 847.2 L580.7 847.2 L580.9 847.2 L581.1 847.2 L581.3 847.2 L581.5 847.2 L581.7 847.2 L581.9 847.2 L582 847.2 L582.2 847.2 L582.4 847.2 L582.6 847.2 L582.8 847.2 L583 847.2 L583.2 847.2 L583.3 847.2 L583.5 847.2 L583.7 847.2 L583.9 847.2 L584.1 847.2 L584.3 847.2 L584.5 847.2 L584.6 847.2 L584.8 847.2 L585 847.2 L585.2 847.2 L585.4 847.2 L585.6 847.2 L585.7 847.2 L585.9 847.2 L586.1 847.2 L586.3 847.2 L586.5 847.2 L586.7 847.2 L586.9 847.2 L587 847.2 L587.2 847.2 L587.4 847.2 L587.6 847.2 L587.8 847.2 L588 847.2 L588.2 847.2 L588.3 847.2 L588.5 847.2 L588.7 847.2 L588.9 847.2 L589.1 847.2 L589.3 847.2 L589.5 847.2 L589.6 847.2 L589.8 847.2 L590 847.2 L590.2 847.2 L590.4 847.2 L590.6 847.2 L590.8 847.2 L590.9 847.2 L591.1 847.2 L591.3 847.2 L591.5 847.2 L591.7 847.2 L591.9 847.2 L592.1 847.2 L592.2 847.2 L592.4 847.2 L592.6 847.2 L592.8 847.2 L593 847.2 L593.2 847.2 L593.4 847.2 L593.5 847.2 L593.7 847.2 L593.9 847.2 L594.1 847.2 L594.3 847.2 L594.5 847.2 L594.6 847.2 L594.8 847.2 L595 847.2 L595.2 847.2 L595.4 847.2 L595.6 847.2 L595.8 847.2 L595.9 847.2 L596.1 847.2 L596.3 847.2 L596.5 847.2 L596.7 847.2 L596.9 847.2 L597.1 847.2 L597.2 847.2 L597.4 847.2 L597.6 847.2 L597.8 847.2 L598 847.2 L598.2 847.2 L598.4 847.2 L598.5 847.2 L598.7 847.2 L598.9 847.2 L599.1 847.2 L599.3 847.2 L599.5 847.2 L599.7 847.2 L599.8 847.2 L600 847.2 L600.2 847.2 L600.4 847.2 L600.6 847.2 L600.8 847.2 L601 847.2 L601.1 847.2 L601.3 847.2 L601.5 847.2 L601.7 847.2 L601.9 847.2 L602.1 847.2 L602.3 847.2 L602.4 847.2 L602.6 847.2 L602.8 847.2 L603 847.2 L603.2 847.2 L603.4 847.2 L603.5 847.2 L603.7 847.2 L603.9 847.2 L604.1 847.2 L604.3 847.2 L604.5 847.2 L604.7 847.2 L604.8 847.2 L605 847.2 L605.2 847.2 L605.4 847.2 L605.6 847.2 L605.8 847.2 L606 847.2 L606.1 847.2 L606.3 847.2 L606.5 847.2 L606.7 847.2 L606.9 847.2 L607.1 847.2 L607.3 847.2 L607.4 847.2 L607.6 847.2 L607.8 847.2 L608 847.2 L608.2 847.2 L608.4 847.2 L608.6 847.2 L608.7 847.2 L608.9 847.2 L609.1 847.2 L609.3 847.2 L609.5 847.2 L609.7 847.2 L609.9 847.2 L610.1 847.2 L610.2 847.2 L610.4 847.2 L610.6 847.2 L610.8 847.2 L611 847.2 L611.2 847.2 L611.4 847.2 L611.6 847.2 L611.7 847.2 L611.9 847.2 L612.1 847.2 L612.3 847.2 L612.5 847.2 L612.7 847.2 L612.9 847.2 L613 847.2 L613.2 847.2 L613.4 847.2 L613.6 847.2 L613.8 847.2 L614 847.2 L614.2 847.2 L614.4 847.2 L614.5 847.2 L614.7 847.2 L614.9 847.2 L615.1 847.2 L615.3 847.2 L615.5 847.2 L615.7 847.2 L615.8 847.2 L616 847.2 L616.2 847.2 L616.4 847.2 L616.6 847.2 L616.8 847.2 L617 847.2 L617.2 847.2 L617.3 847.2 L617.5 847.2 L617.7 847.2 L617.9 847.2 L618.1 847.2 L618.3 847.2 L618.5 847.2 L618.7 847.2 L618.8 847.2 L619 847.2 L619.2 847.2 L619.4 847.2 L619.6 847.2 L619.8 847.2 L620 847.2 L620.1 847.2 L620.3 847.2 L620.5 847.2 L620.7 847.2 L620.9 847.2 L621.1 847.2 L621.3 847.2 L621.4 847.2 L621.6 847.2 L621.8 847.2 L622 847.2 L622.2 847.2 L622.4 847.2 L622.6 847.2 L622.7 847.2 L622.9 847.2 L623.1 847.2 L623.3 847.2 L623.5 847.2 L623.7 847.2 L623.8 847.2 L624 847.2 L624.2 847.2 L624.4 847.2 L624.6 847.2 L624.8 847.2 L625 847.2 L625.1 847.2 L625.3 847.2 L625.5 847.2 L625.7 847.2 L625.9 847.2 L626.1 847.2 L626.3 847.2 L626.4 847.2 L626.6 847.2 L626.8 847.2 L627 847.2 L627.2 847.2 L627.4 847.2 L627.6 847.2 L627.7 847.2 L627.9 847.2 L628.1 847.2 L628.3 847.2 L628.5 847.2 L628.7 847.2 L628.9 847.2 L629 847.2 L629.2 847.2 L629.4 847.2 L629.6 847.2 L629.8 847.2 L630 847.2 L630.2 847.2 L630.4 847.2 L630.5 847.2 L630.7 847.2 L630.9 847.2 L631.1 847.2 L631.3 847.2 L631.5 847.2 L631.7 847.2 L631.8 847.2 L632 847.2 L632.2 847.2 L632.4 847.2 L632.6 847.2 L632.8 847.2 L633 847.2 L633.2 847.2 L633.3 847.2 L633.5 847.2 L633.7 847.2 L633.9 847.2 L634.1 847.2 L634.3 847.2 L634.5 847.2 L634.7 847.2 L634.8 847.2 L635 847.2 L635.2 847.2 L635.4 847.2 L635.6 847.2 L635.8 847.2 L636 847.2 L636.1 847.2 L636.3 847.2 L636.5 847.2 L636.7 847.2 L636.9 847.2 L637.1 847.2 L637.3 847.2 L637.5 847.2 L637.6 847.2 L637.8 847.2 L638 847.2 L638.2 847.2 L638.4 847.2 L638.6 847.2 L638.8 847.2 L638.9 847.2 L639.1 847.2 L639.3 847.2 L639.5 847.2 L639.7 847.2 L639.9 847.2 L640.1 847.2 L640.3 847.2 L640.4 847.2 L640.6 847.2 L640.8 847.2 L641 847.2 L641.2 847.2 L641.4 847.2 L641.6 847.2 L641.7 847.2 L641.9 847.2 L642.1 847.2 L642.3 847.2 L642.5 847.2 L642.7 847.2 L642.9 847.2 L643.1 847.2 L643.2 847.2 L643.4 847.2 L643.6 847.2 L643.8 847.2 L644 847.2 L644.2 847.2 L644.4 847.2 L644.6 847.2 L644.7 847.2 L644.9 847.2 L645.1 847.2 L645.3 847.2 L645.5 847.2 L645.7 847.2 L645.9 847.2 L646.1 847.2 L646.3 847.2 L646.4 847.2 L646.6 847.2 L646.8 847.2 L647 847.2 L647.2 847.2 L647.4 847.2 L647.6 847.2 L647.8 847.2 L647.9 847.2 L648.1 847.2 L648.3 847.2 L648.5 847.2 L648.7 847.2 L648.9 847.2 L649.1 847.2 L649.3 847.2 L649.4 847.2 L649.6 847.2 L649.8 847.2 L650 847.2 L650.2 847.2 L650.4 847.2 L650.6 847.2 L650.7 847.2 L650.9 847.2 L651.1 847.2 L651.3 847.2 L651.5 847.2 L651.7 847.2 L651.9 847.2 L652.1 847.2 L652.2 847.2 L652.4 847.2 L652.6 847.2 L652.8 847.2 L653 847.2 L653.2 847.2 L653.4 847.2 L653.6 847.2 L653.7 847.2 L653.9 847.2 L654.1 847.2 L654.3 847.2 L654.5 847.2 L654.7 847.2 L654.9 847.2 L655 847.2 L655.2 847.2 L655.4 847.2 L655.6 847.2 L655.8 847.2 L656 847.2 L656.2 847.2 L656.4 847.2 L656.5 847.2 L656.7 847.2 L656.9 847.2 L657.1 847.2 L657.3 847.2 L657.5 847.2 L657.7 847.2 L657.8 847.2 L658 847.2 L658.2 847.2 L658.4 847.2 L658.6 847.2 L658.8 847.2 L659 847.2 L659.2 847.2 L659.3 847.2 L659.5 847.2 L659.7 847.2 L659.9 847.2 L660.1 847.2 L660.3 847.2 L660.5 847.2 L660.7 847.2 L660.8 847.2 L661 847.2 L661.2 847.2 L661.4 847.2 L661.6 847.2 L661.8 847.2 L662 847.2 L662.1 847.2 L662.3 847.2 L662.5 847.2 L662.7 847.2 L662.9 847.2 L663.1 847.2 L663.3 847.2 L663.5 847.2 L663.6 847.2 L663.8 847.2 L664 847.2 L664.2 847.2 L664.4 847.2 L664.6 847.2 L664.8 847.2 L664.9 847.2 L665.1 847.2 L665.3 847.2 L665.5 847.2 L665.7 847.2 L665.9 847.2 L666.1 847.2 L666.3 847.2 L666.4 847.2 L666.6 847.2 L666.8 847.2 L667 847.2 L667.2 847.2 L667.4 847.2 L667.6 847.2 L667.7 847.2 L667.9 847.2 L668.1 847.2 L668.3 847.2 L668.5 847.2 L668.7 847.2 L668.9 847.2 L669 847.2 L669.2 847.2 L669.4 847.2 L669.6 847.2 L669.8 847.2 L670 847.2 L670.2 847.2 L670.4 847.2 L670.5 847.2 L670.7 847.2 L670.9 847.2 L671.1 847.2 L671.3 847.2 L671.5 847.2 L671.7 847.2 L671.8 847.2 L672 847.2 L672.2 847.2 L672.4 847.2 L672.6 847.2 L672.8 847.2 L673 847.2 L673.2 847.2 L673.3 847.2 L673.5 847.2 L673.7 847.2 L673.9 847.2 L674.1 847.2 L674.3 847.2 L674.5 847.2 L674.6 847.2 L674.8 847.2 L675 847.2 L675.2 847.2 L675.4 847.2 L675.6 847.2 L675.8 847.2 L676 847.2 L676.1 847.2 L676.3 847.2 L676.5 847.2 L676.7 847.2 L676.9 847.2 L677.1 847.2 L677.3 847.2 L677.4 847.2 L677.6 847.2 L677.8 847.2 L678 847.2 L678.2 847.2 L678.4 847.2 L678.6 847.2 L678.8 847.2 L678.9 847.2 L679.1 847.2 L679.3 847.2 L679.5 847.2 L679.7 847.2 L679.9 847.2 L680.1 847.2 L680.2 847.2 L680.4 847.2 L680.6 847.2 L680.8 847.2 L681 847.2 L681.2 847.2 L681.4 847.2 L681.6 847.2 L681.7 847.2 L681.9 847.2 L682.1 847.2 L682.3 847.2 L682.5 847.2 L682.7 847.2 L682.9 847.2 L683 847.2 L683.2 847.2 L683.4 847.2 L683.6 847.2 L683.8 847.2 L684 847.2 L684.2 847.2 L684.4 847.2 L684.5 847.2 L684.7 847.2 L684.9 847.2 L685.1 847.2 L685.3 847.2 L685.5 847.2 L685.7 847.2 L685.9 847.2 L686 847.2 L686.2 847.2 L686.4 847.2 L686.6 847.2 L686.8 847.2 L687 847.2 L687.2 847.2 L687.3 847.2 L687.5 847.2 L687.7 847.2 L687.9 847.2 L688.1 847.2 L688.3 847.2 L688.5 847.2 L688.7 847.2 L688.8 847.2 L689 847.2 L689.2 847.2 L689.4 847.2 L689.6 847.2 L689.8 847.2 L690 847.2 L690.2 847.2 L690.3 847.2 L690.5 847.2 L690.7 847.2 L690.9 847.2 L691.1 847.2 L691.3 847.2 L691.5 847.2 L691.7 847.2 L691.8 847.2 L692 847.2 L692.2 847.2 L692.4 847.2 L692.6 847.2 L692.8 847.2 L693 847.2 L693.2 847.2 L693.3 847.2 L693.5 847.2 L693.7 847.2 L693.9 847.2 L694.1 847.2 L694.3 847.2 L694.5 847.2 L694.7 847.2 L694.9 847.2 L695 847.2 L695.2 847.2 L695.4 847.2 L695.6 847.2 L695.8 847.2 L696 847.2 L696.2 847.2 L696.4 847.2 L696.5 847.2 L696.7 847.2 L696.9 847.2 L697.1 847.2 L697.3 847.2 L697.5 847.2 L697.7 847.2 L697.9 847.2 L698.1 847.2 L698.2 847.2 L698.4 847.2 L698.6 847.2 L698.8 847.2 L699 847.2 L699.2 847.2 L699.4 847.2 L699.6 847.2 L699.7 847.2 L699.9 847.2 L700.1 847.2 L700.3 847.2 L700.5 847.2 L700.7 847.2 L700.9 847.2 L701.1 847.2 L701.2 847.2 L701.4 847.2 L701.6 847.2 L701.8 847.2 L702 847.2 L702.2 847.2 L702.4 847.2 L702.6 847.2 L702.7 847.2 L702.9 847.2 L703.1 847.2 L703.3 847.2 L703.5 847.2 L703.7 847.2 L703.9 847.2 L704.1 847.2 L704.2 847.2 L704.4 847.2 L704.6 847.2 L704.8 847.2 L705 847.2 L705.2 847.2 L705.4 847.2 L705.6 847.2 L705.7 847.2 L705.9 847.2 L706.1 847.2 L706.3 847.2 L706.5 847.2 L706.7 847.2 L706.9 847.2 L707 847.2 L707.2 847.2 L707.4 847.2 L707.6 847.2 L707.8 847.2 L708 847.2 L708.2 847.2 L708.4 847.2 L708.5 847.2 L708.7 847.2 L708.9 847.2 L709.1 847.2 L709.3 847.2 L709.5 847.2 L709.7 847.2 L709.9 847.2 L710 847.2 L710.2 847.2 L710.4 847.2 L710.6 847.2 L710.8 847.2 L711 847.2 L711.2 847.2 L711.3 847.2 L711.5 847.2 L711.7 847.2 L711.9 847.2 L712.1 847.2 L712.3 847.2 L712.5 847.2 L712.7 847.2 L712.8 847.2 L713 847.2 L713.2 847.2 L713.4 847.2 L713.6 847.2 L713.8 847.2 L714 847.2 L714.2 847.2 L714.3 847.2 L714.5 847.2 L714.7 847.2 L714.9 847.2 L715.1 847.2 L715.3 847.2 L715.5 847.2 L715.6 847.2 L715.8 847.2 L716 847.2 L716.2 847.2 L716.4 847.2 L716.6 847.2 L716.8 847.2 L717 847.2 L717.1 847.2 L717.3 847.2 L717.5 847.2 L717.7 847.2 L717.9 847.2 L718.1 847.2 L718.3 847.2 L718.5 847.2 L718.6 847.2 L718.8 847.2 L719 847.2 L719.2 847.2 L719.4 847.2 L719.6 847.2 L719.8 847.2 L720 847.2 L720.1 847.2 L720.3 847.2 L720.5 847.2 L720.7 847.2 L720.9 847.2 L721.1 847.2 L721.3 847.2 L721.5 847.2 L721.6 847.2 L721.8 847.2 L722 847.2 L722.2 847.2 L722.4 847.2 L722.6 847.2 L722.8 847.2 L723 847.2 L723.1 847.2 L723.3 847.2 L723.5 847.2 L723.7 847.2 L723.9 847.2 L724.1 847.2 L724.3 847.2 L724.5 847.2 L724.6 847.2 L724.8 847.2 L725 847.2 L725.2 847.2 L725.4 847.2 L725.6 847.2 L725.8 847.2 L726 847.2 L726.1 847.2 L726.3 847.2 L726.5 847.2 L726.7 847.2 L726.9 847.2 L727.1 847.2 L727.3 847.2 L727.5 847.2 L727.6 847.2 L727.8 847.2 L728 847.2 L728.2 847.2 L728.4 847.2 L728.6 847.2 L728.8 847.2 L729 847.2 L729.1 847.2 L729.3 847.2 L729.5 847.2 L729.7 847.2 L729.9 847.2 L730.1 847.2 L730.3 847.2 L730.5 847.2 L730.6 847.2 L730.8 847.2 L731 847.2 L731.2 847.2 L731.4 847.2 L731.6 847.2 L731.8 847.2 L732 847.2 L732.1 847.2 L732.3 847.2 L732.5 847.2 L732.7 847.2 L732.9 847.2 L733.1 847.2 L733.3 847.2 L733.5 847.2 L733.7 847.2 L733.8 847.2 L734 847.2 L734.2 847.2 L734.4 847.2 L734.6 847.2 L734.8 847.2 L735 847.2 L735.2 847.2 L735.4 847.2 L735.5 847.2 L735.7 847.2 L735.9 847.2 L736.1 847.2 L736.3 847.2 L736.5 847.2 L736.7 847.2 L736.9 847.2 L737.1 847.2 L737.3 847.2 L737.4 847.2 L737.6 847.2 L737.8 847.2 L738 847.2 L738.2 847.2 L738.4 847.2 L738.6 847.2 L738.8 847.2 L738.9 847.9 L739.1 847.4 L739.3 847.2 L739.5 847.4 L739.7 847.9 L739.9 847.2 L740.1 847.2 L740.3 847.2 L740.5 847.2 L740.6 847.2 L740.8 847.2 L741 847.2 L741.2 847.2 L741.4 847.2 L741.6 847.2 L741.8 847.2 L742 847.2 L742.1 847.2 L742.3 847.2 L742.5 847.2 L742.7 847.2 L742.9 847.2 L743.1 847.2 L743.3 847.2 L743.5 847.2 L743.7 847.2 L743.8 847.2 L744 847.2 L744.2 847.2 L744.4 847.2 L744.6 847.2 L744.8 847.2 L745 847.2 L745.2 847.2 L745.4 847.2 L745.5 847.2 L745.7 847.2 L745.9 847.2 L746.1 847.2 L746.3 847.2 L746.5 847.2 L746.7 847.2 L746.9 847.2 L747.1 847.2 L747.2 847.2 L747.4 847.2 L747.6 847.2 L747.8 847.2 L748 847.2 L748.2 847.2 L748.4 847.2 L748.6 847.2 L748.7 847.2 L748.9 847.2 L749.1 847.2 L749.3 847.2 L749.5 847.2 L749.7 847.2 L749.9 847.2 L750 847.2 L750.2 847.2 L750.4 847.2 L750.6 847.2 L750.8 847.2 L751 847.2 L751.2 847.2 L751.3 847.2 L751.5 847.2 L751.7 847.2 L751.9 847.2 L752.1 847.2 L752.3 847.2 L752.4 847.2 L752.6 847.2 L752.8 847.2 L753 847.2 L753.2 847.2 L753.4 847.2 L753.6 847.2 L753.7 847.2 L753.9 847.2 L754.1 847.2 L754.3 847.2 L754.5 847.2 L754.7 847.2 L754.9 847.2 L755 847.2 L755.2 847.2 L755.4 847.2 L755.6 847.2 L755.8 847.2 L756 847.2 L756.2 847.2 L756.4 847.2 L756.5 847.2 L756.7 847.2 L756.9 847.2 L757.1 847.2 L757.3 847.2 L757.5 847.2 L757.7 847.2 L757.9 847.2 L758 847.2 L758.2 847.2 L758.4 847.2 L758.6 847.2 L758.8 847.2 L759 847.2 L759.2 847.2 L759.4 847.2 L759.5 847.2 L759.7 847.2 L759.9 847.2 L760.1 847.2 L760.3 847.2 L760.5 847.2 L760.7 847.2 L760.9 847.2 L761 847.2 L761.2 847.2 L761.4 847.2 L761.6 847.2 L761.8 847.2 L762 847.2 L762.2 847.2 L762.4 847.2 L762.5 847.2 L762.7 847.2 L762.9 847.2 L763.1 847.2 L763.3 847.2 L763.5 847.2 L763.7 847.2 L763.9 847.2 L764 847.2 L764.2 847.2 L764.4 847.2 L764.6 847.2 L764.8 847.2 L765 847.2 L765.2 847.2 L765.4 847.2 L765.5 847.2 L765.7 847.2 L765.9 847.2 L766.1 847.2 L766.3 847.2 L766.5 847.2 L766.7 847.2 L766.9 847.2 L767 847.2 L767.2 847.2 L767.4 847.2 L767.6 847.2 L767.8 847.2 L768 847.2 L768.2 847.2 L768.4 847.2 L768.5 847.2 L768.7 847.2 L768.9 847.2 L769.1 847.2 L769.3 847.2 L769.5 847.2 L769.7 847.2 L769.9 847.2 L770 847.2 L770.2 847.2 L770.4 847.2 L770.6 847.2 L770.8 847.2 L771 847.2 L771.2 847.2 L771.4 847.2 L771.5 847.2 L771.7 847.2 L771.9 847.2 L772.1 847.2 L772.3 847.2 L772.5 847.2 L772.7 847.2 L772.8 847.2 L773 847.2 L773.2 847.2 L773.4 847.2 L773.6 847.2 L773.8 847.2 L774 847.2 L774.1 847.2 L774.3 847.2 L774.5 847.2 L774.7 847.2 L774.9 847.2 L775.1 847.2 L775.3 847.2 L775.4 847.2 L775.6 847.2 L775.8 847.2 L776 847.2 L776.2 847.2 L776.4 847.2 L776.5 847.2 L776.7 847.2 L776.9 847.2 L777.1 847.2 L777.3 847.2 L777.5 847.2 L777.7 847.2 L777.8 847.2 L778 847.2 L778.2 847.2 L778.4 847.2 L778.6 847.2 L778.8 847.2 L779 847.2 L779.1 847.2 L779.3 847.2 L779.5 847.2 L779.7 847.2 L779.9 847.2 L780.1 847.2 L780.3 847.2 L780.4 847.2 L780.6 847.2 L780.8 847.2 L781 847.2 L781.2 847.2 L781.4 847.2 L781.6 847.2 L781.8 847.2 L781.9 847.2 L782.1 847.2 L782.3 847.2 L782.5 847.2 L782.7 847.2 L782.9 847.2 L783.1 847.2 L783.3 847.2 L783.4 847.2 L783.6 847.2 L783.8 847.2 L784 847.2 L784.2 847.2 L784.4 847.2 L784.6 847.2 L784.8 847.2 L784.9 847.2 L785.1 847.2 L785.3 847.2 L785.5 847.2 L785.7 847.2 L785.9 847.2 L786.1 847.2 L786.3 847.2 L786.4 847.2 L786.6 847.2 L786.8 847.2 L787 847.2 L787.2 847.2 L787.4 847.2 L787.6 847.2 L787.8 847.2 L787.9 847.2 L788.1 847.2 L788.3 847.2 L788.5 847.2 L788.7 847.2 L788.9 847.2 L789.1 847.2 L789.3 847.2 L789.4 847.2 L789.6 847.2 L789.8 847.2 L790 847.2 L790.2 847.2 L790.4 847.2 L790.6 847.2 L790.7 847.2 L790.9 847.2 L791.1 847.2 L791.3 847.2 L791.5 847.2 L791.7 847.2 L791.9 847.2 L792 847.2 L792.2 847.2 L792.4 847.2 L792.6 847.2 L792.8 847.2 L793 847.2 L793.1 847.2 L793.3 847.2 L793.5 847.2 L793.7 847.2 L793.9 847.2 L794.1 847.2 L794.3 847.2 L794.4 847.2 L794.6 847.2 L794.8 847.2 L795 847.2 L795.2 847.2 L795.4 847.2 L795.6 847.2 L795.7 847.2 L795.9 847.2 L796.1 847.2 L796.3 847.2 L796.5 847.2 L796.7 847.2 L796.9 847.2 L797 847.2 L797.2 847.2 L797.4 847.2 L797.6 847.2 L797.8 847.2 L798 847.2 L798.2 847.2 L798.3 847.2 L798.5 847.2 L798.7 847.2 L798.9 847.2 L799.1 847.2 L799.3 847.2 L799.4 847.2 L799.6 847.2 L799.8 847.2 L800 847.2 L800.2 847.2 L800.4 847.2 L800.6 847.2 L800.7 847.2 L800.9 847.2 L801.1 847.2 L801.3 847.2 L801.5 847.2 L801.7 847.2 L801.9 847.2 L802 847.2 L802.2 847.2 L802.4 847.2 L802.6 847.2 L802.8 847.2 L803 847.2 L803.2 847.2 L803.4 847.2 L803.5 847.2 L803.7 847.2 L803.9 847.2 L804.1 847.2 L804.3 847.2 L804.5 847.2 L804.7 847.2 L804.9 847.2 L805 847.2 L805.2 847.2 L805.4 847.2 L805.6 847.2 L805.8 847.2 L806 847.2 L806.2 847.2 L806.4 847.2 L806.6 847.2 L806.8 847.2 L806.9 847.2 L807.1 847.2 L807.3 847.2 L807.5 847.2 L807.7 847.2 L807.9 847.2 L808.1 847.2 L808.3 847.2 L808.4 847.2 L808.6 847.2 L808.8 847.2 L809 847.2 L809.2 847.2 L809.4 847.2 L809.5 847.2 L809.7 847.2 L809.9 847.2 L810.1 847.2 L810.3 847.2 L810.5 847.2 L810.6 847.2 L810.8 847.2 L811 847.2 L811.2 847.2 L811.4 847.2 L811.6 847.2 L811.8 847.2 L811.9 847.2 L812.1 847.2 L812.3 847.2 L812.5 847.2 L812.7 847.2 L812.9 847.2 L813 847.2 L813.2 847.2 L813.4 847.2 L813.6 847.2 L813.8 847.2 L814 847.2 L814.1 847.2 L814.3 847.2 L814.5 847.2 L814.7 847.2 L814.9 847.2 L815.1 847.2 L815.3 847.2 L815.4 847.2 L815.6 847.2 L815.8 847.2 L816 847.2 L816.2 847.2 L816.3 847.2 L816.5 847.2 L816.7 847.2 L816.9 847.2 L817.1 849.5 L817.3 852.4 L817.5 852.2 L817.7 852.7 L817.9 854.5 L818.1 857.3 L818.3 857.3 L818.5 857.9 L818.7 857.4 L818.9 856.4 L819.1 857.2 L819.3 856.9 L819.4 856.5 L819.6 857.4 L819.8 857.9 L820 859 L820.2 863.7 L820.4 864.5 L820.6 862.6 L820.8 861.6 L821 858.4 L821.1 858.6 L821.3 857.8 L821.5 859 L821.7 860.3 L821.9 861.8 L822.1 861.5 L822.2 860.8 L822.4 863.7 L822.6 863.1 L822.8 862.2 L823 861.5 L823.2 863.5 L823.3 863.6 L823.5 863.5 L823.7 865.6 L823.9 867.4 L824.1 865.4 L824.3 867.2 L824.5 868.7 L824.6 872.2 L824.8 873.9 L825 873 L825.2 873.3 L825.4 875.3 L825.6 876.2 L825.8 876.6 L826 876.7 L826.1 878.9 L826.3 879.3 L826.5 881 L826.7 882.6 L826.9 884.6 L827.1 886.5 L827.3 886.8 L827.5 889.9 L827.6 890.6 L827.8 887.9 L828 890 L828.2 891.2 L828.4 890.3 L828.6 887.3 L828.8 888.2 L828.9 886.5 L829.1 885.6 L829.3 882 L829.5 881.3 L829.7 877.7 L829.9 878 L830.1 876.6 L830.3 877 L830.4 876.8 L830.6 877.4 L830.8 877 L831 874 L831.2 876.3 L831.4 874.7 L831.6 874.3 L831.8 875.5 L832 877.1 L832.1 878.4 L832.3 881 L832.5 881.8 L832.7 883.4 L832.9 887.6 L833.1 889.1 L833.3 890 L833.5 891.6 L833.7 892.8 L833.9 894.5 L834.1 896.7 L834.2 897 L834.4 896.8 L834.6 898.9 L834.8 899.5 L835 902.5 L835.2 902.5 L835.4 902.1 L835.6 900.6 L835.8 897.9 L836 897 L836.1 895.5 L836.3 892.7 L836.5 891.9 L836.7 890 L836.9 887.1 L837.1 885.3 L837.3 884.8 L837.5 883.8 L837.7 882.6 L837.9 881.1 L838 878.8 L838.2 879.4 L838.4 878 L838.6 876.2 L838.8 872.8 L839 876.2 L839.2 878.8 L839.4 879.2 L839.6 880.7 L839.7 880.8 L839.9 882.4 L840.1 884.7 L840.3 886.3 L840.5 886.2 L840.7 886.7 L840.9 888 L841.1 889.3 L841.3 889.4 L841.4 890.1 L841.6 891.3 L841.8 891.8 L842 893.2 L842.2 896.1 L842.4 896.5 L842.6 896.4 L842.8 896.1 L842.9 897.7 L843.1 900.8 L843.3 901.7 L843.5 904 L843.7 907.9 L843.9 906.8 L844.1 907 L844.3 906.1 L844.4 905.8 L844.6 903.9 L844.8 902 L845 900.5 L845.2 898.1 L845.4 898 L845.5 894.1 L845.7 895.5 L845.9 893.6 L846.1 891.5 L846.3 891.1 L846.5 890.1 L846.6 890.8 L846.8 890.5 L847 889.3 L847.2 890.1 L847.4 891.8 L847.6 891.4 L847.7 891.6 L847.9 892 L848.1 891.4 L848.3 892.3 L848.5 890.1 L848.7 887.7 L848.8 886.8 L849 886.8 L849.2 886 L849.4 885.3 L849.6 884.9 L849.8 884.4 L850 882.4 L850.2 882.2 L850.4 881.6 L850.5 880.8 L850.7 880.7 L850.9 879 L851.1 879.3 L851.3 876.7 L851.5 874.4 L851.7 873.1 L851.9 870.6 L852.1 867.8 L852.3 866.9 L852.5 865.6 L852.6 865 L852.8 864.1 L853 863.2 L853.2 861.7 L853.4 859.7 L853.6 855.5 L853.8 856.4 L854 856.4 L854.2 858 L854.3 857.1 L854.5 858.2 L854.7 859.7 L854.9 861.3 L855.1 862.6 L855.3 864.3 L855.5 865.4 L855.7 864.4 L855.8 865.5 L856 867.8 L856.2 871.4 L856.4 872.8 L856.6 872.7 L856.8 872.4 L857 870.9 L857.2 869.1 L857.3 867.2 L857.5 864.4 L857.7 864.3 L857.9 863.8 L858.1 863.6 L858.3 863.6 L858.5 863.1 L858.7 862.9 L858.9 860.7 L859.1 860.7 L859.2 856.6 L859.4 857.9 L859.6 855.6 L859.8 856.2 L860 855.5 L860.2 857.1 L860.4 857 L860.6 856.4 L860.7 856.9 L860.9 857.7 L861.1 859 L861.3 860 L861.5 861.1 L861.7 861.9 L861.8 861.8 L862 860.7 L862.2 861.6 L862.4 864.1 L862.6 864.6 L862.8 863.5 L862.9 864.8 L863.1 864.4 L863.3 865.8 L863.5 867.4 L863.7 866.6 L863.9 868.4 L864.1 868.4 L864.2 871.3 L864.4 872 L864.6 871 L864.8 871.1 L865 871.5 L865.2 870.3 L865.3 870.9 L865.5 871.8 L865.7 871.8 L865.9 871.4 L866.1 870.6 L866.3 870.3 L866.4 868.3 L866.6 867.1 L866.8 866.7 L867 863.3 L867.2 866 L867.4 866.4 L867.6 868.1 L867.8 866.1 L867.9 866.4 L868.1 866.1 L868.3 866.3 L868.5 865.2 L868.7 866.6 L868.9 866.2 L869.1 869.1 L869.3 869.1 L869.5 868.4 L869.7 868 L869.8 867.9 L870 871 L870.2 871.6 L870.4 872.8 L870.6 871.6 L870.8 869.9 L871 868.1 L871.2 865.4 L871.3 863.7 L871.5 864.4 L871.7 864.5 L871.9 866.1 L872.1 863.6 L872.3 862.8 L872.5 863.4 L872.7 861.8 L872.8 861.3 L873 860.7 L873.2 858 L873.4 859.6 L873.6 860.5 L873.8 859.6 L874 858.9 L874.1 856.5 L874.3 855.9 L874.5 854.3 L874.7 851.1 L874.9 851.8 L875.1 852.6 L875.3 852.5 L875.5 851.8 L875.6 852.2 L875.8 850.8 L876 850.8 L876.2 848.4 L876.4 847.4 L876.6 847.2 L876.8 847.2 L876.9 847.2 L877.1 847.2 L877.3 847.2 L877.5 848.2 L877.7 847.2 L877.9 847.2 L878.1 848 L878.3 848.2 L878.4 847.2 L878.6 847.2 L878.8 847.2 L879 847.2 L879.2 847.2 L879.4 847.2 L879.6 847.2 L879.8 847.2 L879.9 847.2 L880.1 847.2 L880.3 847.2 L880.5 847.2 L880.7 847.2 L880.9 847.2 L881.1 847.2 L881.2 847.2 L881.4 847.2 L881.6 847.2 L881.8 847.2 L882 847.2 L882.2 847.2 L882.4 847.2 L882.6 847.2 L882.7 847.2 L882.9 847.2 L883.1 847.2 L883.3 847.2 L883.5 847.2 L883.7 847.2 L883.9 847.2 L884 847.2 L884.2 847.2 L884.4 847.2 L884.6 847.2 L884.8 847.2 L885 847.2 L885.2 847.2 L885.4 847.2 L885.5 847.2 L885.7 847.2 L885.9 847.2 L886.1 847.2 L886.3 847.2 L886.5 847.2 L886.7 847.2 L886.9 847.2 L887 847.2 L887.2 847.2 L887.4 847.2 L887.6 847.2 L887.8 847.2 L888 847.2 L888.2 847.2 L888.3 847.2 L888.5 847.2 L888.7 847.2 L888.9 847.2 L889.1 847.2 L889.3 847.2 L889.5 847.2 L889.7 847.2 L889.8 847.2 L890 847.2 L890.2 847.2 L890.4 847.2 L890.6 847.2 L890.8 847.2 L891 847.2 L891.2 847.2 L891.3 847.2 L891.5 847.2 L891.7 847.2 L891.9 847.2 L892.1 847.2 L892.3 847.2 L892.5 847.2 L892.7 847.2 L892.9 847.2 L893 847.2 L893.2 847.2 L893.4 847.2 L893.6 847.2 L893.8 847.2 L894 847.2 L894.2 847.2 L894.4 847.2 L894.5 847.2 L894.7 847.2 L894.9 847.2 L895.1 847.2 L895.3 847.2 L895.5 847.2 L895.7 847.2 L895.9 847.2 L896 847.2 L896.2 847.2 L896.4 847.2 L896.6 847.2 L896.8 847.2 L897 847.2 L897.1 847.2 L897.3 847.2 L897.5 847.2 L897.7 847.2 L897.9 847.2 L898.1 847.2 L898.3 847.2 L898.4 847.2 L898.6 847.2 L898.8 847.2 L899 847.2 L899.2 847.2 L899.4 847.2 L899.6 847.2 L899.7 847.2 L899.9 847.2 L900.1 847.2 L900.3 847.2 L900.5 847.2 L900.7 847.2 L900.9 847.2 L901 847.2 L901.2 847.2 L901.4 847.2 L901.6 847.2 L901.8 847.2 L902 847.2 L902.2 847.2 L902.4 847.2 L902.5 847.2 L902.7 847.2 L902.9 847.2 L903.1 847.2 L903.3 847.2 L903.5 847.2 L903.7 847.2 L903.8 847.2 L904 847.2 L904.2 847.2 L904.4 847.2 L904.6 847.2 L904.8 847.2 L905 847.2 L905.1 847.2 L905.3 847.2 L905.5 847.2 L905.7 847.2 L905.9 847.2 L906.1 847.2 L906.3 847.2 L906.4 847.2 L906.6 847.2 L906.8 847.2 L907 847.2 L907.2 847.2 L907.4 847.2 L907.6 847.2 L907.7 847.2 L907.9 847.2 L908.1 847.2 L908.3 847.2 L908.5 847.2 L908.7 847.2 L908.8 847.2 L909 847.2 L909.2 847.2 L909.4 847.2 L909.6 847.2 L909.8 847.2 L909.9 847.2 L910.1 847.2 L910.3 847.2 L910.5 847.2 L910.7 847.2 L910.9 847.2 L911 847.2 L911.2 847.2 L911.4 847.2 L911.6 847.2 L911.8 847.2 L912 847.2 L912.2 847.2 L912.3 847.2 L912.5 847.2 L912.7 847.2 L912.9 847.2 L913.1 847.2 L913.3 847.2 L913.4 847.2 L913.6 847.2 L913.8 847.2 L914 847.2 L914.2 847.2 L914.4 847.2 L914.5 847.2 L914.7 847.2 L914.9 847.2 L915.1 847.2 L915.3 847.2 L915.5 847.2 L915.7 847.2 L915.8 847.2 L916 847.2 L916.2 847.2 L916.4 847.2 L916.6 847.2 L916.8 847.2 L917 847.2 L917.2 847.2 L917.3 847.2 L917.5 847.2 L917.7 847.2 L917.9 847.2 L918.1 847.2 L918.3 847.2 L918.5 847.2 L918.6 847.2 L918.8 847.2 L919 847.2 L919.2 847.2 L919.4 847.2 L919.6 847.2 L919.8 847.2 L920 847.2 L920.1 847.2 L920.3 847.2 L920.5 847.2 L920.7 847.2 L920.9 847.2 L921.1 847.2 L921.3 847.2 L921.5 847.2 L921.6 847.2 L921.8 847.2 L922 847.2 L922.2 847.2 L922.2 847.2 L73.5 847.2 Z" fill="url(#rg)"/>
<path d="M73.5 847.2 L73.6 814.5 L73.8 813.3 L74 811.4 L74.1 811.4 L74.3 812.5 L74.5 812 L74.7 810.7 L74.9 808.6 L75 809.6 L75.2 810.6 L75.4 809.1 L75.6 807.8 L75.8 805.1 L76 803.2 L76.1 802.7 L76.3 802.4 L76.5 798.4 L76.7 800.1 L76.9 802.5 L77.1 805.3 L77.3 806.6 L77.5 807.7 L77.7 809.5 L77.8 810.9 L78 811.9 L78.2 812.4 L78.4 812.3 L78.6 813.3 L78.8 817 L79 817.5 L79.2 818.9 L79.4 818.8 L79.6 820.3 L79.8 819.9 L80 820.6 L80.1 819.9 L80.3 815.2 L80.5 814.9 L80.7 813.4 L80.9 814.8 L81.1 814.8 L81.3 813.5 L81.5 813.2 L81.7 812.4 L81.9 811.9 L82 812.8 L82.2 811.7 L82.4 812.4 L82.6 809.5 L82.8 809.8 L83 808.5 L83.2 809 L83.4 808.3 L83.6 809.6 L83.8 808.7 L83.9 809.4 L84.1 808.2 L84.3 807.9 L84.5 808.2 L84.7 809.8 L84.9 809.2 L85.1 809.1 L85.3 807.5 L85.4 808.5 L85.6 808.2 L85.8 808.1 L86 808.2 L86.2 808.4 L86.4 808.7 L86.6 810 L86.8 811.8 L86.9 812.8 L87.1 812.5 L87.3 811 L87.5 810.3 L87.7 809.4 L87.9 808.9 L88.1 808.4 L88.3 808.7 L88.5 808.2 L88.6 806.4 L88.8 807.3 L89 808.7 L89.2 806.6 L89.4 806.8 L89.6 806 L89.8 805.4 L90 807.4 L90.1 804.7 L90.3 802.8 L90.5 803.1 L90.7 802.6 L90.9 802.9 L91.1 804.6 L91.3 805.2 L91.5 805.3 L91.7 804.3 L91.8 803.9 L92 804.3 L92.2 803 L92.4 804.5 L92.6 804 L92.8 803 L93 803.9 L93.2 806.7 L93.3 808.4 L93.5 808.6 L93.7 808.4 L93.9 806.9 L94.1 808.7 L94.3 809.2 L94.5 808.8 L94.7 809.5 L94.8 813.1 L95 812.6 L95.2 810 L95.4 809.2 L95.6 810.9 L95.8 811.8 L96 811.9 L96.2 808.9 L96.4 808.5 L96.5 808.7 L96.7 807 L96.9 807.5 L97.1 805.4 L97.3 806.6 L97.5 807.6 L97.7 807 L97.9 805.5 L98 805 L98.2 804.9 L98.4 807.7 L98.6 808.9 L98.8 810.1 L99 811.1 L99.2 810.7 L99.4 811.5 L99.6 810.8 L99.7 811.1 L99.9 811.9 L100.1 812.1 L100.3 811.8 L100.5 811.1 L100.7 812.1 L100.9 812.7 L101.1 814.8 L101.2 813.1 L101.4 811.5 L101.6 812.1 L101.8 813.1 L102 815.1 L102.2 814.9 L102.4 814.6 L102.6 811.8 L102.7 811.5 L102.9 812.6 L103.1 815.8 L103.3 814 L103.5 813.8 L103.7 815.9 L103.9 815.7 L104.1 817.8 L104.2 813.3 L104.4 811.9 L104.6 811.2 L104.8 811.4 L105 814.2 L105.2 814.4 L105.4 816.5 L105.6 815.8 L105.7 818.6 L105.9 819.8 L106.1 818.2 L106.3 816.1 L106.5 817.7 L106.7 819.7 L106.9 818.6 L107.1 817.5 L107.2 818.8 L107.4 819.8 L107.6 820.7 L107.8 822.3 L108 823.2 L108.2 821.6 L108.4 820.8 L108.6 818.1 L108.7 818.2 L108.9 818.4 L109.1 819.8 L109.3 820 L109.5 821.7 L109.7 824.1 L109.9 823.2 L110.1 821.3 L110.2 820.3 L110.4 818.5 L110.6 818.2 L110.8 819.2 L111 819.1 L111.2 819.6 L111.4 821.1 L111.6 823.4 L111.8 825.4 L111.9 825.4 L112.1 825.2 L112.3 825.9 L112.5 824 L112.7 823.8 L112.9 823.1 L113.1 821.5 L113.3 822.6 L113.4 825.2 L113.6 824.3 L113.8 825.2 L114 823.5 L114.2 823.1 L114.4 821.8 L114.6 820.9 L114.8 823.6 L114.9 822.7 L115.1 823.6 L115.3 824.6 L115.5 825.2 L115.7 824.3 L115.9 823.1 L116.1 821.8 L116.3 824 L116.4 824.9 L116.6 828 L116.8 828.2 L117 827.4 L117.2 828.4 L117.4 828.1 L117.6 827.9 L117.8 826.6 L117.9 827.7 L118.1 828.8 L118.3 829.8 L118.5 827.6 L118.7 826.3 L118.9 826.5 L119.1 826.4 L119.2 826.3 L119.4 826.2 L119.6 826.6 L119.8 827.2 L120 828.9 L120.2 829.9 L120.4 827.9 L120.5 827.3 L120.7 827.3 L120.9 827.7 L121.1 827.8 L121.3 827.4 L121.5 828.4 L121.7 828.3 L121.8 828.1 L122 829.2 L122.2 830.3 L122.4 831.8 L122.6 833.3 L122.8 832.2 L123 835.5 L123.1 835.9 L123.3 836.9 L123.5 837.8 L123.7 837.8 L123.9 836.4 L124.1 836.5 L124.2 836.8 L124.4 837.7 L124.6 838 L124.8 836.9 L125 837.5 L125.2 839.2 L125.4 841 L125.5 842.5 L125.7 844.5 L125.9 843.2 L126.1 842.8 L126.3 843.2 L126.5 841.5 L126.7 842.4 L126.8 841.6 L127 840.7 L127.2 842.8 L127.4 845 L127.6 846.3 L127.8 845.2 L128 843.7 L128.1 845.4 L128.3 844.2 L128.5 844.8 L128.7 845.4 L128.9 845.5 L129.1 845.3 L129.3 847 L129.3 847.2 M129.8 847.2 L130 844 L130.2 839.8 L130.4 839.6 L130.6 841.2 L130.8 841.1 L131 841.6 L131.2 838.4 L131.4 837 L131.6 837.3 L131.7 835.4 L131.9 834.1 L132.1 835.6 L132.3 835.6 L132.5 835.3 L132.7 835.6 L132.9 835.7 L133.1 836.4 L133.2 836.4 L133.4 837.5 L133.6 838.9 L133.8 837.2 L134 837 L134.2 836.7 L134.4 839.1 L134.5 839.6 L134.7 838.8 L134.9 840.7 L135.1 839.6 L135.3 840.4 L135.5 840.1 L135.7 840.6 L135.8 840.6 L136 839.3 L136.2 840.1 L136.4 838.3 L136.6 839.6 L136.8 841.1 L137 840.5 L137.1 842.1 L137.3 842.9 L137.5 842 L137.7 840.7 L137.9 843.3 L138.1 842.9 L138.2 840.7 L138.4 839.4 L138.6 840 L138.8 841.1 L139 841.7 L139.2 843.5 L139.4 844.1 L139.5 844.7 L139.7 845.1 L139.9 843.9 L140.1 844.4 L140.3 846.6 L140.5 845.5 L140.7 847.2 M142.8 847.2 L142.9 846.6 L142.9 847.2 M144 847.2 L144 847 L144.2 847.2 M144.3 847.2 L144.4 847.1 L144.4 847.2 M144.7 847.2 L144.8 847 L145 846.1 L145.2 846.5 L145.3 847.2 M145.7 847.2 L145.7 847.1 L145.9 845.4 L146.1 844.1 L146.3 842.9 L146.5 841.8 L146.7 841.7 L146.9 840.8 L147 842.2 L147.2 842.4 L147.4 843.3 L147.6 842.3 L147.8 843 L148 842 L148.2 840.3 L148.4 837.3 L148.6 837.2 L148.7 837.3 L148.9 835 L149.1 835.3 L149.3 833.5 L149.5 833.1 L149.7 832 L149.9 833.2 L150.1 831.1 L150.3 830.6 L150.5 830.6 L150.7 826.7 L150.8 824.6 L151 818.8 L151.2 817.1 L151.4 816.4 L151.6 815.1 L151.8 813.9 L152 814.8 L152.2 815.1 L152.4 815.3 L152.5 817.4 L152.7 818.1 L152.9 819.7 L153.1 822.2 L153.3 822 L153.5 822 L153.7 822.8 L153.9 824.9 L154.1 828.4 L154.3 828.7 L154.5 829.7 L154.6 832.8 L154.8 833.7 L155 836.6 L155.2 837.6 L155.4 838.3 L155.6 837.5 L155.8 836.9 L156 836.4 L156.1 837.5 L156.3 837.7 L156.5 838.1 L156.7 838.1 L156.9 837.4 L157.1 836.3 L157.3 833.8 L157.4 836.9 L157.6 836.1 L157.8 836 L158 832.7 L158.2 831.2 L158.4 833 L158.6 832.2 L158.7 832.6 L158.9 831 L159.1 832 L159.3 831.8 L159.5 831.7 L159.7 831.5 L159.9 832 L160 834.1 L160.2 833.1 L160.4 831.5 L160.6 831.3 L160.8 832.3 L161 831.7 L161.2 830.7 L161.3 830.6 L161.5 830.3 L161.7 828.2 L161.9 829.3 L162.1 829.7 L162.3 831.9 L162.4 832.5 L162.6 833.2 L162.8 834.1 L163 834.7 L163.2 832 L163.4 832 L163.6 831.8 L163.7 828.6 L163.9 828.4 L164.1 830.4 L164.3 829.5 L164.5 830.4 L164.7 828 L164.9 829.3 L165 829.7 L165.2 831.5 L165.4 831.1 L165.6 832.1 L165.8 831.9 L166 832.1 L166.2 832.6 L166.3 831 L166.5 829.5 L166.7 829.1 L166.9 829.9 L167.1 831.5 L167.3 831.4 L167.5 828.4 L167.6 829.2 L167.8 830.4 L168 831.5 L168.2 833.1 L168.4 834.6 L168.6 835 L168.8 833.3 L169 833.5 L169.1 834.4 L169.3 836.6 L169.5 836.6 L169.7 836.8 L169.9 838.6 L170.1 840.2 L170.3 840.4 L170.4 839.3 L170.6 838.6 L170.8 838.5 L171 839.1 L171.2 838.9 L171.4 839.1 L171.6 836.4 L171.8 838.1 L171.9 838.8 L172.1 837.3 L172.3 837.8 L172.5 836.1 L172.7 836.4 L172.9 836.4 L173.1 837 L173.2 839 L173.4 840.5 L173.6 837.7 L173.8 837.1 L174 836.5 L174.2 835.4 L174.4 834.8 L174.6 833.7 L174.7 834.2 L174.9 834.7 L175.1 833.6 L175.3 834.2 L175.5 836.2 L175.7 836.6 L175.9 837.5 L176.1 836.9 L176.2 838 L176.4 839.6 L176.6 840.2 L176.8 838.4 L177 838.6 L177.2 838.6 L177.4 838.8 L177.5 838.5 L177.7 837.5 L177.9 835.9 L178.1 838.2 L178.3 836.6 L178.5 836.8 L178.7 837.4 L178.9 834.4 L179 834.8 L179.2 832.5 L179.4 831.4 L179.6 832.9 L179.8 832 L180 830.8 L180.2 830.7 L180.3 833.5 L180.5 833.7 L180.7 833.7 L180.9 834.8 L181.1 832.2 L181.3 832.3 L181.5 832.5 L181.6 832.6 L181.8 833.4 L182 834.2 L182.2 833.8 L182.4 833.1 L182.6 833.5 L182.8 833.4 L182.9 834.9 L183.1 834 L183.3 834.7 L183.5 834.1 L183.7 835.1 L183.9 835.5 L184 834.9 L184.2 836.3 L184.4 832.8 L184.6 832.6 L184.8 832.4 L185 833.1 L185.2 830.7 L185.3 828.7 L185.5 828 L185.7 829.5 L185.9 829.9 L186.1 828.9 L186.3 829.3 L186.5 830.6 L186.6 831.9 L186.8 832.6 L187 832.3 L187.2 832.9 L187.4 835.7 L187.6 834.8 L187.8 835.2 L187.9 839.3 L188.1 841.6 L188.3 844.3 L188.5 847.2 L188.7 847 L188.7 847.2 M213.3 847.2 L213.5 846.3 L213.5 847.2 M213.9 847.2 L214 845.6 L214.2 843.6 L214.4 840.7 L214.6 840.1 L214.8 835.1 L215 832.5 L215.2 830.5 L215.4 828.2 L215.6 826.1 L215.8 825.1 L215.9 825 L216.1 822.8 L216.3 821.4 L216.5 823 L216.7 823.5 L216.9 822 L217.1 821 L217.2 819.7 L217.4 818 L217.6 816.9 L217.8 814 L218 813.9 L218.2 813.5 L218.4 812.2 L218.5 810.4 L218.7 808.4 L218.9 805.6 L219.1 805.4 L219.3 802.9 L219.5 801.5 L219.6 801.9 L219.8 801.2 L220 797.6 L220.2 795.7 L220.4 795.4 L220.6 797.7 L220.8 797.8 L220.9 797.8 L221.1 796.8 L221.3 792.9 L221.5 791.1 L221.7 789.8 L221.9 790.1 L222.1 790.8 L222.2 790.2 L222.4 789.9 L222.6 785.1 L222.8 784.7 L223 785.2 L223.2 783.3 L223.4 782.9 L223.5 784.1 L223.7 782.1 L223.9 782.1 L224.1 783.5 L224.3 782.7 L224.5 781.7 L224.7 781.8 L224.8 780.5 L225 779.1 L225.2 779.9 L225.4 782.2 L225.6 785 L225.8 784.8 L226 782.8 L226.1 781.1 L226.3 779 L226.5 776.2 L226.7 775.8 L226.9 774 L227.1 775.7 L227.3 774.4 L227.4 773.5 L227.6 773.3 L227.8 773.5 L228 774.6 L228.2 774.7 L228.4 773.2 L228.6 773.9 L228.7 773.5 L228.9 774.6 L229.1 774.5 L229.3 776 L229.5 775.8 L229.7 776.3 L229.9 776.1 L230 777.2 L230.2 778.9 L230.4 779.6 L230.6 778.5 L230.8 776.7 L231 777.3 L231.1 776.5 L231.3 775.8 L231.5 775.5 L231.7 777.7 L231.9 777.6 L232.1 779.1 L232.3 777.8 L232.4 777 L232.6 776.4 L232.8 779.9 L233 779.4 L233.2 775.5 L233.4 774.3 L233.6 770.1 L233.7 767.1 L233.9 764.5 L234.1 762.5 L234.3 760.9 L234.5 758.6 L234.7 751.6 L234.9 748.4 L235 745.3 L235.2 743.2 L235.4 741.1 L235.6 738.9 L235.8 739.7 L236 738.2 L236.2 738.2 L236.4 736.7 L236.5 737.9 L236.7 736.3 L236.9 736 L237.1 734.8 L237.3 734.6 L237.5 735.4 L237.7 733.4 L237.9 733.6 L238 733.5 L238.2 734.3 L238.4 733.7 L238.6 733.8 L238.8 733.1 L239 732.3 L239.2 732.9 L239.4 734.3 L239.6 733.4 L239.7 731.9 L239.9 730.6 L240.1 731.8 L240.3 730.6 L240.5 729.8 L240.7 729 L240.9 728.1 L241.1 728.2 L241.2 727.5 L241.4 726 L241.6 726.3 L241.8 727.8 L242 727.6 L242.2 728.2 L242.4 731.5 L242.6 733.3 L242.7 733.4 L242.9 734.4 L243.1 735.2 L243.3 737.7 L243.5 737.4 L243.7 736 L243.9 737.1 L244 738.9 L244.2 741.3 L244.4 741 L244.6 741.8 L244.8 743.7 L245 743 L245.1 742.8 L245.3 742.9 L245.5 746.1 L245.7 747.1 L245.9 747.1 L246.1 749.6 L246.3 749.3 L246.4 748.3 L246.6 747.8 L246.8 749.6 L247 751.4 L247.2 749.8 L247.4 748.2 L247.6 746.2 L247.7 744.3 L247.9 744.1 L248.1 744.2 L248.3 746.3 L248.5 744.9 L248.7 741.6 L248.9 741.8 L249 742.1 L249.2 740.9 L249.4 740.1 L249.6 741.5 L249.8 742.1 L250 743.2 L250.2 740.2 L250.3 740.8 L250.5 739.3 L250.7 736.4 L250.9 733.6 L251.1 731.4 L251.3 728.9 L251.5 730.1 L251.6 730.2 L251.8 730.8 L252 730.9 L252.2 727.1 L252.4 728.9 L252.6 727.8 L252.7 729.1 L252.9 727 L253.1 724.9 L253.3 725.3 L253.5 722.2 L253.7 721.7 L253.9 719.7 L254 718.9 L254.2 719.3 L254.4 719.4 L254.6 719.2 L254.8 718.1 L255 717.6 L255.2 714.1 L255.3 714 L255.5 714.3 L255.7 714.9 L255.9 715.5 L256.1 717.1 L256.3 718 L256.5 716.5 L256.6 716 L256.8 715.9 L257 715.1 L257.2 713.3 L257.4 713.5 L257.6 713.5 L257.8 715.2 L258 716.5 L258.1 718.5 L258.3 719.7 L258.5 721.7 L258.7 723.2 L258.9 724.4 L259.1 725.7 L259.3 727 L259.5 728.7 L259.7 727.9 L259.9 729.4 L260.1 731.7 L260.2 732.4 L260.4 734.8 L260.6 737.2 L260.8 738.1 L261 741.3 L261.2 744.7 L261.4 743.5 L261.6 741.4 L261.7 742.7 L261.9 743.1 L262.1 741.5 L262.3 743.3 L262.5 743.7 L262.7 744.4 L262.9 743.9 L263 745.7 L263.2 743.7 L263.4 743.1 L263.6 741.9 L263.8 741.5 L264 743.5 L264.1 742.9 L264.3 743.8 L264.5 743 L264.7 743.3 L264.9 742.9 L265.1 742.4 L265.3 740.6 L265.4 738.8 L265.6 739.3 L265.8 738.5 L266 735.8 L266.2 734.3 L266.4 734.5 L266.6 733.8 L266.7 733.5 L266.9 731.4 L267.1 730.6 L267.3 729.3 L267.5 725.6 L267.7 726.6 L267.9 727.1 L268 728.6 L268.2 729.8 L268.4 727.9 L268.6 726.7 L268.8 723.8 L269 725.6 L269.1 725.9 L269.3 723.2 L269.5 721.1 L269.7 719.1 L269.9 717.2 L270.1 716.3 L270.3 715.5 L270.4 714.7 L270.6 712.8 L270.8 712.2 L271 710.9 L271.2 709.3 L271.4 711 L271.6 712.3 L271.8 711.8 L271.9 712.4 L272.1 712.8 L272.3 710.4 L272.5 710.1 L272.7 710.9 L272.9 709.7 L273.1 706.7 L273.3 708.4 L273.5 709.5 L273.6 709.6 L273.8 710.7 L274 708.1 L274.2 707.7 L274.4 708.5 L274.6 708.1 L274.8 709.4 L275 710.4 L275.1 710.5 L275.3 707.7 L275.5 710.9 L275.7 710.6 L275.9 709.1 L276.1 708.4 L276.3 706.1 L276.5 705.8 L276.7 705.8 L276.8 706.3 L277 707.6 L277.2 705.7 L277.4 707.6 L277.6 708 L277.8 709.5 L278 711.4 L278.2 715.1 L278.4 716.5 L278.5 717.1 L278.7 717.8 L278.9 717.5 L279.1 718.6 L279.3 720.2 L279.5 720.7 L279.7 720.6 L279.9 722.7 L280.1 725.5 L280.3 727.7 L280.4 727.1 L280.6 726.7 L280.8 728.7 L281 729.4 L281.2 729.1 L281.4 728.2 L281.6 727.5 L281.8 726.3 L282 722.9 L282.2 718.2 L282.3 714.6 L282.5 714.6 L282.7 712.4 L282.9 711.3 L283.1 709.8 L283.3 709.1 L283.5 708.2 L283.7 706.6 L283.9 702.7 L284.1 700.3 L284.3 698.1 L284.4 696.6 L284.6 696 L284.8 694.7 L285 691.6 L285.2 688.9 L285.4 686.5 L285.6 686.4 L285.8 686.6 L285.9 688.9 L286.1 688.5 L286.3 691 L286.5 689.2 L286.7 690.2 L286.9 690.3 L287.1 692.3 L287.3 693.1 L287.4 694.5 L287.6 693.2 L287.8 693.1 L288 694.8 L288.2 697.5 L288.4 697.8 L288.6 698.6 L288.8 700.2 L288.9 699.6 L289.1 700 L289.3 700.1 L289.5 701 L289.7 702 L289.9 702.7 L290.1 705 L290.2 704.4 L290.4 704 L290.6 706.5 L290.8 706.5 L291 705.2 L291.2 705 L291.4 703.5 L291.6 704.1 L291.7 704.2 L291.9 706.1 L292.1 707.5 L292.3 710 L292.5 711.4 L292.7 711.3 L292.9 710.8 L293 709.4 L293.2 709.4 L293.4 710.9 L293.6 710.5 L293.8 710.9 L294 708.7 L294.2 706.3 L294.4 705.3 L294.5 706.9 L294.7 707.8 L294.9 707.7 L295.1 708.8 L295.3 708.3 L295.5 707.6 L295.7 706.7 L295.9 706.6 L296 707.9 L296.2 709.2 L296.4 709.5 L296.6 708 L296.8 706.2 L297 705.3 L297.2 705.2 L297.3 704.6 L297.5 703.9 L297.7 702.5 L297.9 701.7 L298.1 704.1 L298.3 703.2 L298.5 703 L298.6 704 L298.8 703.6 L299 703.6 L299.2 704 L299.4 706.5 L299.6 706.7 L299.8 706.3 L299.9 706.7 L300.1 709.1 L300.3 708.9 L300.5 708.3 L300.7 708.4 L300.9 708.2 L301 709 L301.2 710.2 L301.4 709.8 L301.6 710.6 L301.8 710.7 L302 706.8 L302.2 706.2 L302.3 706.4 L302.5 708.8 L302.7 709 L302.9 708.4 L303.1 709.6 L303.3 710.3 L303.5 713.6 L303.6 713.2 L303.8 714.3 L304 713.7 L304.2 712.3 L304.4 712.8 L304.6 711.9 L304.8 711.9 L304.9 712.5 L305.1 713.2 L305.3 714.7 L305.5 713.3 L305.7 713.1 L305.9 715.3 L306.1 715.1 L306.2 717 L306.4 719.9 L306.6 719.2 L306.8 721.8 L307 721.2 L307.2 721.8 L307.4 721.6 L307.6 721.8 L307.7 721.2 L307.9 721.7 L308.1 721.8 L308.3 722.4 L308.5 721.9 L308.7 723.3 L308.9 722.9 L309.1 721.8 L309.2 722.8 L309.4 723.2 L309.6 724.7 L309.8 726 L310 726.6 L310.2 728 L310.4 730 L310.6 731 L310.7 731.7 L310.9 732.1 L311.1 732.1 L311.3 735.4 L311.5 734.4 L311.7 735.6 L311.9 737.5 L312.1 738.9 L312.2 739.2 L312.4 739 L312.6 740.4 L312.8 741.1 L313 744.1 L313.2 744.8 L313.4 745.8 L313.6 747.3 L313.7 747.1 L313.9 745.6 L314.1 745.2 L314.3 747.1 L314.5 746.1 L314.7 747 L314.9 747.5 L315.1 748.7 L315.2 748.6 L315.4 748.3 L315.6 748.6 L315.8 749.4 L316 750 L316.2 751 L316.4 750.2 L316.5 751.4 L316.7 752 L316.9 752.8 L317.1 754.2 L317.3 755 L317.5 757.4 L317.6 757.3 L317.8 757.1 L318 757.9 L318.2 756.4 L318.4 757.9 L318.6 757.6 L318.8 757.5 L318.9 758.7 L319.1 759.4 L319.3 758.8 L319.5 759.1 L319.7 759.3 L319.9 758 L320.1 758.3 L320.3 761 L320.4 762.5 L320.6 762 L320.8 762.7 L321 764.6 L321.2 767.8 L321.4 767.9 L321.6 766.5 L321.8 768.6 L322 772 L322.2 771.9 L322.3 773.2 L322.5 774.1 L322.7 775.1 L322.9 776.8 L323.1 776.7 L323.3 776.1 L323.5 776.2 L323.7 777.4 L323.9 776.6 L324.1 777.3 L324.2 777.1 L324.4 778.9 L324.6 778.5 L324.8 778.1 L325 777 L325.2 778.1 L325.4 778.7 L325.6 780.7 L325.7 780.7 L325.9 780.9 L326.1 780.6 L326.3 782.3 L326.5 785.1 L326.7 786.4 L326.9 787.8 L327 790 L327.2 790.4 L327.4 790.3 L327.6 791 L327.8 790.7 L328 791.4 L328.1 793.8 L328.3 795.8 L328.5 797.4 L328.7 797.7 L328.9 797.7 L329.1 798.7 L329.3 798.6 L329.4 800.8 L329.6 802.1 L329.8 801.4 L330 802 L330.2 801.3 L330.4 804.5 L330.6 807.3 L330.7 809.1 L330.9 808.5 L331.1 807.1 L331.3 808.6 L331.5 810.6 L331.7 812.6 L331.9 814.4 L332 814.4 L332.2 815.5 L332.4 813.7 L332.6 813.5 L332.8 815.1 L333 815.5 L333.1 816.4 L333.3 816 L333.5 815.6 L333.7 816.7 L333.9 816.2 L334.1 816.2 L334.3 817 L334.4 817.4 L334.6 817.2 L334.8 818.3 L335 819.8 L335.2 818.5 L335.4 818.9 L335.6 820 L335.7 819.7 L335.9 822 L336.1 822.2 L336.3 824.3 L336.5 825.2 L336.7 827.9 L336.9 829.1 L337 828.3 L337.2 828.9 L337.4 830.8 L337.6 828.9 L337.8 830.1 L338 828.5 L338.2 829.5 L338.3 831.7 L338.5 829.7 L338.7 830.6 L338.9 830 L339.1 828.8 L339.3 830.8 L339.5 831.1 L339.7 832.1 L339.8 831.7 L340 832.1 L340.2 834 L340.4 834.3 L340.6 833.7 L340.8 834.4 L341 834 L341.1 835 L341.3 835.4 L341.5 835.3 L341.7 835.5 L341.9 834.2 L342.1 833.3 L342.3 832.6 L342.4 832 L342.6 832.1 L342.8 833.9 L343 832.9 L343.2 830.8 L343.4 830.6 L343.6 831 L343.7 831.1 L343.9 829.7 L344.1 829.4 L344.3 830.7 L344.5 831 L344.7 832.1 L344.9 832.4 L345 833.7 L345.2 834.9 L345.4 833.1 L345.6 831.8 L345.8 834 L346 835.3 L346.1 836 L346.3 836.5 L346.5 838.4 L346.7 837.3 L346.9 839.5 L347.1 838.7 L347.3 837.9 L347.4 838.4 L347.6 839.4 L347.8 839.4 L348 839.3 L348.2 842 L348.4 843.7 L348.6 843.1 L348.7 843.4 L348.9 844 L349.1 845.3 L349.3 846.3 L349.4 847.2 M349.5 847.2 L349.7 843.9 L349.9 845.6 L350 843.7 L350.2 843.2 L350.4 843 L350.6 842.8 L350.8 843.4 L351 841.4 L351.1 840.9 L351.3 841 L351.5 841.2 L351.7 841 L351.9 842.6 L352.1 843.1 L352.3 844 L352.4 843.3 L352.6 842.6 L352.8 845 L353 845.4 L353.2 844.3 L353.4 846.2 L353.5 847.2 M353.7 847.2 L353.7 846.8 L353.9 847.1 L353.9 847.2 M359.5 847.2 L359.5 846.1 L359.7 846.7 L359.9 845.7 L360.1 844.5 L360.3 844.9 L360.5 842.6 L360.7 841.2 L360.9 841.4 L361 842.1 L361.2 841.8 L361.4 838 L361.6 834.4 L361.8 836.8 L362 838.3 L362.2 837.8 L362.4 838.3 L362.6 839.4 L362.8 839 L362.9 839.2 L363.1 839.2 L363.3 839.2 L363.5 841 L363.7 839.6 L363.9 840.6 L364.1 839.5 L364.3 838.9 L364.5 839.2 L364.7 839.4 L364.8 839.8 L365 842.5 L365.2 843.3 L365.4 843.1 L365.6 845.5 L365.8 847.2 M365.9 847.2 L366 846.5 L366.2 845.5 L366.3 847.2 M366.5 847.2 L366.5 847.1 L366.7 847.2 M366.7 847.2 L366.9 846.1 L367.1 846.6 L367.3 846.9 L367.3 847.2 M376.8 847.2 L377 846.6 L377.2 846.7 L377.3 847.2 M388 847.2 L388 846.4 L388.2 844.8 L388.4 843.9 L388.6 843.4 L388.8 844.7 L389 844.4 L389.2 841.9 L389.3 840.4 L389.5 842 L389.7 844.6 L389.9 845.3 L390.1 844.9 L390.3 845.5 L390.5 845.7 L390.6 845.1 L390.8 843.8 L391 843.3 L391.2 841.5 L391.4 843.2 L391.6 842.5 L391.8 841.8 L391.9 843.5 L392.1 841.7 L392.3 843.7 L392.5 845.4 L392.7 841.7 L392.9 839.7 L393.1 838.9 L393.3 836.9 L393.5 835.1 L393.6 836.4 L393.8 835.5 L394 833.4 L394.2 833.3 L394.4 833 L394.6 833.3 L394.8 832.1 L395 832.5 L395.2 833.1 L395.4 834.4 L395.5 835.4 L395.7 834.8 L395.9 833.9 L396.1 834.2 L396.3 835.3 L396.5 834.3 L396.7 833.3 L396.9 831.2 L397.1 831.3 L397.2 831.3 L397.4 830.1 L397.6 827.6 L397.8 827.1 L398 826.7 L398.2 827.4 L398.4 827.4 L398.6 825.7 L398.7 824 L398.9 822 L399.1 823.7 L399.3 822.1 L399.5 822.8 L399.7 821.5 L399.9 824.1 L400.1 823.7 L400.2 824.3 L400.4 822.1 L400.6 821.4 L400.8 819.2 L401 819.3 L401.2 816.1 L401.4 816.2 L401.6 813.2 L401.7 813.3 L401.9 814.1 L402.1 812.4 L402.3 812.4 L402.5 812 L402.7 813.2 L402.9 813.1 L403.1 812.5 L403.2 812.9 L403.4 811.9 L403.6 814.4 L403.8 812.7 L404 812.7 L404.2 809.9 L404.4 809.5 L404.6 809.5 L404.7 809.2 L404.9 808 L405.1 806.3 L405.3 806.1 L405.5 806.3 L405.7 804.9 L405.9 802.9 L406 804.3 L406.2 804.9 L406.4 804.9 L406.6 801.8 L406.8 799.3 L407 797.4 L407.1 795.9 L407.3 796.5 L407.5 794.1 L407.7 793.8 L407.9 794 L408.1 790.6 L408.3 791.7 L408.4 789 L408.6 787.8 L408.8 788.2 L409 787.1 L409.2 786.6 L409.4 784.7 L409.6 783.9 L409.7 783.8 L409.9 778.6 L410.1 777.7 L410.3 774.7 L410.5 773.1 L410.7 770.6 L410.8 770.6 L411 770.3 L411.2 773 L411.4 770 L411.6 767.8 L411.8 767.7 L411.9 764.9 L412.1 762.5 L412.3 757 L412.5 755 L412.7 752.2 L412.9 749.7 L413 747 L413.2 745.4 L413.4 744.3 L413.6 741.7 L413.8 738.4 L414 738.3 L414.1 738.2 L414.3 736.6 L414.5 732.5 L414.7 731.2 L414.9 734.9 L415.1 735.2 L415.3 735.6 L415.4 734.5 L415.6 735.7 L415.8 734.5 L416 736.9 L416.2 737.1 L416.4 738.3 L416.6 741.4 L416.8 743.1 L416.9 742.8 L417.1 742.8 L417.3 744.7 L417.5 744.6 L417.7 744.9 L417.9 745.1 L418.1 746.2 L418.2 747.2 L418.4 749.7 L418.6 751.2 L418.8 752.5 L419 754.9 L419.2 756.7 L419.4 757.9 L419.6 759 L419.7 759.1 L419.9 761.9 L420.1 763.8 L420.3 764.9 L420.5 766.8 L420.7 767.8 L420.9 769.8 L421.1 769.7 L421.2 771.4 L421.4 774.4 L421.6 774.8 L421.8 774 L422 776.3 L422.2 776.2 L422.4 775.8 L422.6 774.2 L422.7 771.9 L422.9 771.8 L423.1 773.6 L423.3 772.4 L423.5 770.8 L423.7 769.9 L423.9 769.5 L424.1 770.3 L424.3 766.8 L424.4 768.1 L424.6 769.9 L424.8 768.3 L425 767.6 L425.2 766.4 L425.4 765.7 L425.6 763.2 L425.8 761 L426 761.5 L426.1 759.9 L426.3 761.1 L426.5 763.1 L426.7 761.2 L426.9 761.5 L427.1 762.3 L427.3 760.2 L427.5 759 L427.6 756.3 L427.8 754.3 L428 753.2 L428.2 752.1 L428.4 749 L428.6 748.1 L428.8 745.9 L428.9 745.1 L429.1 742.4 L429.3 738 L429.5 735.1 L429.7 731.6 L429.9 728.9 L430.1 728.1 L430.2 726.4 L430.4 724.2 L430.6 721.6 L430.8 720.3 L431 717.4 L431.2 716.3 L431.3 714.1 L431.5 712 L431.7 711.5 L431.9 708.1 L432.1 705.9 L432.3 703.7 L432.5 701.7 L432.6 702.4 L432.8 702.1 L433 701.2 L433.2 697.9 L433.4 702.5 L433.6 705.5 L433.8 710.7 L434 715.7 L434.2 720.1 L434.3 722.6 L434.5 728.6 L434.7 732.7 L434.9 736 L435.1 739.7 L435.3 743.5 L435.5 746.3 L435.7 749.8 L435.9 755 L436.1 758 L436.2 762.9 L436.4 767.2 L436.6 769.1 L436.8 769.7 L437 771.6 L437.2 770 L437.4 769.9 L437.6 769.8 L437.8 766.5 L437.9 765 L438.1 765.8 L438.3 762.6 L438.5 760.7 L438.7 757.9 L438.9 756.3 L439.1 758.1 L439.3 757.9 L439.4 757 L439.6 756.2 L439.8 753.1 L440 752.9 L440.2 751.9 L440.4 750.9 L440.6 749.9 L440.8 750.2 L440.9 750.7 L441.1 753.1 L441.3 751.5 L441.5 750.7 L441.7 749.4 L441.9 749.7 L442.1 748.6 L442.3 748.8 L442.4 749 L442.6 747.5 L442.8 745.6 L443 743.7 L443.2 742.7 L443.4 742.1 L443.6 739.2 L443.8 736.4 L443.9 736.2 L444.1 736.5 L444.3 734.9 L444.5 733.4 L444.7 733.6 L444.9 728.2 L445.1 728.6 L445.3 727.3 L445.5 724.6 L445.6 720.9 L445.8 721 L446 719.2 L446.2 714.9 L446.4 710.7 L446.6 708.7 L446.8 706.2 L447 705 L447.2 702.1 L447.4 701.2 L447.6 701.5 L447.7 701.1 L447.9 698.7 L448.1 698 L448.3 694.2 L448.5 690.1 L448.7 689.5 L448.9 689.4 L449.1 688.6 L449.3 689 L449.5 688.6 L449.6 688.7 L449.8 688.4 L450 690.5 L450.2 692.1 L450.4 694.2 L450.6 693.8 L450.8 693.9 L451 695.6 L451.2 697.7 L451.3 699.2 L451.5 698.7 L451.7 699.6 L451.9 700.7 L452.1 702.3 L452.3 703.2 L452.5 701.3 L452.7 702.3 L452.9 703 L453.1 700.9 L453.2 700.1 L453.4 701.8 L453.6 700.5 L453.8 702.4 L454 701.8 L454.2 705.3 L454.4 706.8 L454.6 705.7 L454.7 706.7 L454.9 707.8 L455.1 707.9 L455.3 708.1 L455.5 708.9 L455.7 709.9 L455.9 707.7 L456.1 705.9 L456.3 705.7 L456.4 707.4 L456.6 708.2 L456.8 708.8 L457 708.3 L457.2 706.4 L457.4 707.2 L457.6 707.2 L457.8 707.9 L457.9 707.9 L458.1 709 L458.3 708.6 L458.5 707.3 L458.7 708 L458.9 707.8 L459.1 707 L459.3 708.2 L459.4 705.2 L459.6 706.3 L459.8 706.2 L460 706.8 L460.2 704.2 L460.4 704.2 L460.6 704.3 L460.7 701.2 L460.9 700.8 L461.1 701.2 L461.3 700.6 L461.5 699.7 L461.7 700.1 L461.9 699.7 L462 699.4 L462.2 697.9 L462.4 696.2 L462.6 694.5 L462.8 694.1 L463 692.4 L463.2 692.1 L463.3 690 L463.5 688.8 L463.7 688.8 L463.9 686.6 L464.1 688 L464.3 688.6 L464.4 689.1 L464.6 688.7 L464.8 689.7 L465 690.7 L465.2 692.5 L465.4 691.8 L465.6 692.2 L465.7 688.7 L465.9 687.1 L466.1 688 L466.3 685.6 L466.5 684.9 L466.7 682.9 L466.9 683.7 L467 681.6 L467.2 679.5 L467.4 679.5 L467.6 680 L467.8 680.8 L468 680.8 L468.2 678 L468.4 675.9 L468.5 674.3 L468.7 674.9 L468.9 675.7 L469.1 675.6 L469.3 676.2 L469.5 677.2 L469.7 677.8 L469.9 677 L470.1 677.5 L470.2 677.5 L470.4 678.2 L470.6 678.8 L470.8 679.5 L471 678.2 L471.2 678.2 L471.4 676.6 L471.6 677.2 L471.8 676.1 L471.9 678.3 L472.1 679.1 L472.3 679.5 L472.5 680.7 L472.7 681.2 L472.9 682.8 L473.1 683.3 L473.3 684.5 L473.4 684.9 L473.6 685.6 L473.8 687.3 L474 688.2 L474.2 688.5 L474.4 690.5 L474.6 690.7 L474.7 689.4 L474.9 690.1 L475.1 689.7 L475.3 689.2 L475.5 690.6 L475.7 689.2 L475.9 686.3 L476 688 L476.2 685.5 L476.4 686.8 L476.6 685.2 L476.8 687.9 L477 686.8 L477.1 686.9 L477.3 689 L477.5 690.4 L477.7 692.1 L477.9 693.6 L478.1 693.5 L478.3 694.1 L478.4 697.7 L478.6 698.5 L478.8 698.2 L479 698.4 L479.2 696.5 L479.4 699.3 L479.6 699.3 L479.7 699.6 L479.9 699 L480.1 701.1 L480.3 703.2 L480.5 704.5 L480.7 705.5 L480.9 708.9 L481.1 709.5 L481.2 710.6 L481.4 710.7 L481.6 715.2 L481.8 715.6 L482 717.8 L482.2 719.5 L482.4 719.5 L482.6 718.4 L482.8 719.2 L483 720.4 L483.2 719.8 L483.3 722 L483.5 723.3 L483.7 725 L483.9 727.4 L484.1 728.2 L484.3 725.6 L484.5 725.5 L484.7 724.9 L484.9 725.1 L485 723.8 L485.2 723.6 L485.4 724.9 L485.6 724.9 L485.8 723.2 L486 723.4 L486.2 722 L486.4 722.2 L486.6 719.7 L486.7 719.4 L486.9 718.7 L487.1 719.2 L487.3 718.2 L487.5 718.7 L487.7 720.7 L487.9 720.5 L488.1 722.2 L488.3 720.4 L488.4 719.5 L488.6 719.6 L488.8 718.8 L489 722.4 L489.2 720.5 L489.4 720.4 L489.6 718.6 L489.8 714.3 L490 715.5 L490.1 715.2 L490.3 713.8 L490.5 712.4 L490.7 713.7 L490.9 714 L491.1 711.1 L491.3 711 L491.5 709.3 L491.6 710.2 L491.8 710.5 L492 712 L492.2 710.8 L492.4 708.3 L492.6 707.3 L492.8 706.7 L493 705.5 L493.2 704 L493.3 703.4 L493.5 701.8 L493.7 698.3 L493.9 694.5 L494.1 694.3 L494.3 695.1 L494.5 691.6 L494.7 689.4 L494.8 686.9 L495 685.2 L495.2 684.6 L495.4 682.4 L495.6 680 L495.8 678.9 L496 680.8 L496.2 679.9 L496.3 680.8 L496.5 681.7 L496.7 681.6 L496.9 682.5 L497.1 679.9 L497.3 679.6 L497.5 679.7 L497.7 680.4 L497.8 680.5 L498 681.3 L498.2 680.9 L498.4 680.2 L498.6 679.6 L498.8 681.7 L499 682.5 L499.2 682.9 L499.3 684.9 L499.5 684.9 L499.7 685.5 L499.9 685.9 L500.1 685.8 L500.3 687.1 L500.5 685.4 L500.6 684.5 L500.8 685.7 L501 685.5 L501.2 685 L501.4 686.4 L501.6 687.3 L501.8 686.8 L502 690.7 L502.1 692.9 L502.3 692.9 L502.5 692.5 L502.7 694.1 L502.9 693.4 L503.1 691 L503.3 691.1 L503.4 691.6 L503.6 692 L503.8 693.7 L504 693.5 L504.2 693.7 L504.4 693.1 L504.6 691.7 L504.8 692.1 L504.9 692.3 L505.1 692.3 L505.3 690.4 L505.5 692.8 L505.7 693.2 L505.9 694.5 L506.1 694.8 L506.3 694.1 L506.4 694.4 L506.6 693.9 L506.8 694.1 L507 695.5 L507.2 695.6 L507.4 696.6 L507.6 695.6 L507.7 695.3 L507.9 693.5 L508.1 691.4 L508.3 691.8 L508.5 692.5 L508.7 690.9 L508.9 691.3 L509 690.3 L509.2 688.7 L509.4 688.5 L509.6 685.4 L509.8 689.4 L510 691.9 L510.2 695.6 L510.4 702.4 L510.5 705.7 L510.7 709 L510.9 711.3 L511.1 714.5 L511.3 718.5 L511.5 722.3 L511.7 725.7 L511.9 727.8 L512.1 731.2 L512.3 732.7 L512.4 734.6 L512.6 738.7 L512.8 740.4 L513 746.4 L513.2 749.4 L513.4 753.8 L513.6 752.9 L513.8 750.4 L514 749.3 L514.2 748.6 L514.3 745.9 L514.5 745.8 L514.7 745.9 L514.9 743.6 L515.1 741.8 L515.3 742.7 L515.5 741.4 L515.7 739.4 L515.9 738.6 L516.1 738.1 L516.3 736.9 L516.4 735.6 L516.6 735.5 L516.8 733.4 L517 734.5 L517.2 733.6 L517.4 731.1 L517.6 732.9 L517.8 733.3 L518 736.7 L518.1 738.1 L518.3 740 L518.5 740.3 L518.7 741.4 L518.9 739.3 L519.1 740.9 L519.3 741.3 L519.5 741.4 L519.6 740.9 L519.8 740.1 L520 742.6 L520.2 740.1 L520.4 740.8 L520.6 742.2 L520.8 744.7 L521 745.7 L521.2 748.4 L521.3 748.5 L521.5 749.7 L521.7 749.6 L521.9 751 L522.1 751.3 L522.3 748.8 L522.5 747.6 L522.7 747.8 L522.8 749.4 L523 747.9 L523.2 750.5 L523.4 752.7 L523.6 751.4 L523.8 751.5 L524 749 L524.2 747.6 L524.4 744 L524.5 741 L524.7 739.5 L524.9 739.6 L525.1 738.1 L525.3 735.6 L525.5 734.7 L525.7 737.8 L525.9 737.6 L526.1 737.4 L526.2 736.8 L526.4 736.5 L526.6 734.3 L526.8 735.3 L527 734 L527.2 735.9 L527.4 738.1 L527.6 738.7 L527.8 739 L527.9 739.5 L528.1 739.7 L528.3 738.2 L528.5 736.7 L528.7 735.9 L528.9 736.9 L529.1 739.1 L529.3 741.6 L529.4 744.7 L529.6 746.5 L529.8 749.2 L530 750.9 L530.2 751.1 L530.4 751.7 L530.6 751.2 L530.7 753.6 L530.9 757.7 L531.1 760.4 L531.3 759.1 L531.5 759.4 L531.7 761.2 L531.8 760.7 L532 762.5 L532.2 761.5 L532.4 763.3 L532.6 765.1 L532.8 765.4 L533 768.1 L533.1 769.6 L533.3 768.3 L533.5 768.9 L533.7 771.6 L533.9 771.7 L534.1 771.5 L534.3 772.2 L534.4 771.4 L534.6 769.5 L534.8 769.1 L535 767.7 L535.2 767.1 L535.4 766.6 L535.6 767.3 L535.8 765.8 L535.9 763.8 L536.1 764.1 L536.3 765 L536.5 764 L536.7 763.6 L536.9 761.9 L537.1 760.9 L537.3 760.8 L537.4 762.4 L537.6 761.3 L537.8 760.9 L538 762.3 L538.2 764 L538.4 766.1 L538.6 765 L538.8 765.3 L538.9 769.4 L539.1 770.3 L539.3 770.9 L539.5 770.8 L539.7 770.5 L539.9 770.6 L540.1 769.4 L540.3 767.8 L540.4 767.8 L540.6 765.5 L540.8 765.4 L541 766.3 L541.2 765.8 L541.4 767.4 L541.6 767.5 L541.8 768.7 L541.9 769 L542.1 768.4 L542.3 771.4 L542.5 770.6 L542.7 770 L542.9 770 L543.1 768.8 L543.3 768.1 L543.4 768.3 L543.6 769.4 L543.8 768.1 L544 766.9 L544.2 768.3 L544.4 768.8 L544.6 769.8 L544.7 768.2 L544.9 768.5 L545.1 769.6 L545.3 767.2 L545.5 766.1 L545.7 765.3 L545.9 764.5 L546 764.2 L546.2 763.7 L546.4 762 L546.6 760.9 L546.8 761 L547 760.4 L547.2 757.4 L547.3 757.7 L547.5 758.9 L547.7 758.3 L547.9 759.3 L548.1 755.3 L548.3 754 L548.4 752.8 L548.6 751.8 L548.8 748.7 L549 749.6 L549.2 749.1 L549.4 750.8 L549.6 748.7 L549.7 748.3 L549.9 745.5 L550.1 745.4 L550.3 746.3 L550.5 746.7 L550.7 745.1 L550.9 745.7 L551 744.9 L551.2 745.4 L551.4 745.8 L551.6 746.1 L551.8 744.1 L552 745.8 L552.2 745.6 L552.3 744.7 L552.5 746 L552.7 748.2 L552.9 746.4 L553.1 744.4 L553.3 744.9 L553.5 746.7 L553.6 745.8 L553.8 746.1 L554 747.4 L554.2 748.1 L554.4 751.5 L554.6 752.8 L554.8 754.6 L554.9 756.6 L555.1 756.1 L555.3 755.9 L555.5 753.9 L555.7 757.7 L555.9 758.8 L556 760.1 L556.2 758.6 L556.4 757.5 L556.6 757.6 L556.8 757.7 L557 758.9 L557.2 759.8 L557.3 760.6 L557.5 764.2 L557.7 761.9 L557.9 761.2 L558.1 758.7 L558.3 757.3 L558.5 756.9 L558.6 756 L558.8 758.5 L559 760 L559.2 759.1 L559.4 758.1 L559.6 758.8 L559.8 757.3 L559.9 757.5 L560.1 756 L560.3 752.4 L560.5 752.4 L560.7 751.5 L560.9 749.3 L561.1 747.9 L561.3 746.1 L561.4 745.7 L561.6 744.7 L561.8 746.3 L562 745.1 L562.2 741.9 L562.4 741.9 L562.6 740.6 L562.8 738.2 L562.9 735.1 L563.1 732.1 L563.3 731.7 L563.5 730.8 L563.7 727 L563.9 726.1 L564.1 724.2 L564.3 723.9 L564.4 723.2 L564.6 725.7 L564.8 724.9 L565 726.3 L565.2 726.2 L565.4 726 L565.6 722.7 L565.8 720.2 L565.9 718.2 L566.1 717.4 L566.3 717.7 L566.5 715.6 L566.7 715.2 L566.9 713.9 L567.1 711.1 L567.3 709.9 L567.4 708.4 L567.6 708.3 L567.8 705.4 L568 703.2 L568.2 702.3 L568.4 700.1 L568.6 702.3 L568.8 702.3 L568.9 701.5 L569.1 701 L569.3 700.7 L569.5 700 L569.7 702.1 L569.9 702.2 L570.1 700.7 L570.3 700.8 L570.4 701.1 L570.6 700 L570.8 702.3 L571 701.8 L571.2 699.8 L571.4 700.1 L571.6 701.3 L571.8 700.6 L571.9 701.2 L572.1 702.3 L572.3 702.1 L572.5 704.3 L572.7 703.5 L572.9 705.1 L573.1 705.8 L573.3 704.9 L573.4 704.9 L573.6 704.6 L573.8 702.8 L574 700.8 L574.2 698 L574.4 698.8 L574.6 697.6 L574.8 699.8 L574.9 698.8 L575.1 697 L575.3 698 L575.5 697.4 L575.7 696.3 L575.9 696.6 L576.1 697.4 L576.3 695.4 L576.4 697.2 L576.6 697 L576.8 695.8 L577 695.5 L577.2 694.4 L577.4 693.5 L577.6 693.9 L577.7 692.6 L577.9 692.7 L578.1 695.4 L578.3 696.9 L578.5 697.6 L578.7 698.4 L578.9 701.7 L579.1 699.7 L579.2 702.8 L579.4 705.3 L579.6 705.8 L579.8 706.6 L580 705.6 L580.2 705.4 L580.4 705 L580.6 704.1 L580.7 705.1 L580.9 707 L581.1 707.6 L581.3 706.4 L581.5 706.8 L581.7 705.3 L581.9 706.1 L582 705.2 L582.2 705.2 L582.4 704.2 L582.6 704.3 L582.8 704.1 L583 704.8 L583.2 703.2 L583.3 703.3 L583.5 702.7 L583.7 702 L583.9 703.2 L584.1 704.4 L584.3 704.5 L584.5 702.9 L584.6 704.4 L584.8 705.9 L585 707.2 L585.2 707.8 L585.4 709.3 L585.6 710.5 L585.7 709.9 L585.9 711.4 L586.1 711.5 L586.3 713.1 L586.5 713.5 L586.7 712.9 L586.9 715.6 L587 715.6 L587.2 715.4 L587.4 715.6 L587.6 715.3 L587.8 714.8 L588 716.6 L588.2 716.9 L588.3 716.1 L588.5 714.5 L588.7 716.4 L588.9 717.2 L589.1 719.1 L589.3 719.2 L589.5 720.7 L589.6 722.1 L589.8 721.1 L590 718.3 L590.2 721.1 L590.4 719.2 L590.6 720.7 L590.8 720.2 L590.9 720 L591.1 718.7 L591.3 719.3 L591.5 720.7 L591.7 721.1 L591.9 720.4 L592.1 721.9 L592.2 721.7 L592.4 722 L592.6 722.1 L592.8 722.4 L593 721.9 L593.2 721.2 L593.4 721.9 L593.5 722.7 L593.7 725.8 L593.9 727.3 L594.1 729.7 L594.3 729.1 L594.5 730.8 L594.6 732.1 L594.8 731.7 L595 730.7 L595.2 729.4 L595.4 730.8 L595.6 730.9 L595.8 729.8 L595.9 731.2 L596.1 731.8 L596.3 733.7 L596.5 734.9 L596.7 734.3 L596.9 734.5 L597.1 735.3 L597.2 736.4 L597.4 734.7 L597.6 734 L597.8 735.9 L598 733.7 L598.2 734.9 L598.4 735.8 L598.5 737.1 L598.7 738.5 L598.9 738.3 L599.1 740.8 L599.3 741.4 L599.5 742.5 L599.7 740.8 L599.8 741 L600 741 L600.2 741 L600.4 740.9 L600.6 741.3 L600.8 745.2 L601 745.3 L601.1 746.4 L601.3 746.1 L601.5 746.3 L601.7 747.7 L601.9 749.5 L602.1 751.5 L602.3 751.8 L602.4 752.6 L602.6 754.4 L602.8 755.5 L603 755.7 L603.2 757.2 L603.4 758 L603.5 759.5 L603.7 763.5 L603.9 764.1 L604.1 764.6 L604.3 764.2 L604.5 763.1 L604.7 764.7 L604.8 764.6 L605 764.9 L605.2 765.4 L605.4 765 L605.6 764.4 L605.8 766.8 L606 765.5 L606.1 766.3 L606.3 767.9 L606.5 769.4 L606.7 770.3 L606.9 772.5 L607.1 771.7 L607.3 771.8 L607.4 773.6 L607.6 773.1 L607.8 773.5 L608 774 L608.2 772.4 L608.4 772.1 L608.6 772.1 L608.7 771 L608.9 773.1 L609.1 774.3 L609.3 773.2 L609.5 771.4 L609.7 773.2 L609.9 772.8 L610.1 773.3 L610.2 773.3 L610.4 772.1 L610.6 769.8 L610.8 767.1 L611 765.5 L611.2 764.2 L611.4 763.7 L611.6 765.7 L611.7 764.8 L611.9 766 L612.1 767.1 L612.3 766.6 L612.5 768.3 L612.7 765.5 L612.9 764.4 L613 763.5 L613.2 762.5 L613.4 761.8 L613.6 761.3 L613.8 760 L614 760.5 L614.2 759.8 L614.4 759.2 L614.5 757.8 L614.7 758.8 L614.9 758.1 L615.1 757.9 L615.3 756.7 L615.5 755.6 L615.7 755 L615.8 754 L616 753 L616.2 750.8 L616.4 750 L616.6 748.9 L616.8 749.8 L617 749.7 L617.2 748.3 L617.3 746.5 L617.5 747.4 L617.7 747.1 L617.9 747.1 L618.1 746.6 L618.3 746.8 L618.5 747 L618.7 746.7 L618.8 746.2 L619 744.4 L619.2 745.2 L619.4 746.1 L619.6 745.3 L619.8 745 L620 745.6 L620.1 747.4 L620.3 746.4 L620.5 748.1 L620.7 746.9 L620.9 746.9 L621.1 747.5 L621.3 748 L621.4 747.3 L621.6 747.6 L621.8 750.2 L622 751.4 L622.2 754.6 L622.4 754.4 L622.6 753.5 L622.7 752.4 L622.9 754.5 L623.1 752.1 L623.3 750 L623.5 750.5 L623.7 753.4 L623.8 754.9 L624 753.8 L624.2 751.5 L624.4 752.5 L624.6 755.2 L624.8 756.8 L625 754.6 L625.1 755 L625.3 757.1 L625.5 760.2 L625.7 759.7 L625.9 759 L626.1 759.9 L626.3 760.5 L626.4 760.7 L626.6 761.5 L626.8 762.6 L627 763.6 L627.2 764.8 L627.4 763.5 L627.6 763.3 L627.7 762.2 L627.9 760.2 L628.1 763.5 L628.3 763.9 L628.5 762.7 L628.7 763 L628.9 763.8 L629 763.4 L629.2 764.1 L629.4 765.2 L629.6 765.7 L629.8 765.7 L630 765.7 L630.2 764.6 L630.4 764.6 L630.5 765.2 L630.7 761.3 L630.9 761.6 L631.1 762 L631.3 762.3 L631.5 763.2 L631.7 765.3 L631.8 765.1 L632 763.3 L632.2 765.7 L632.4 766.7 L632.6 766.2 L632.8 767.2 L633 766.5 L633.2 766.6 L633.3 768.1 L633.5 768.4 L633.7 769.1 L633.9 768.5 L634.1 771.9 L634.3 771.4 L634.5 769.7 L634.7 769.5 L634.8 769.2 L635 770 L635.2 769.6 L635.4 769.8 L635.6 771.5 L635.8 773.1 L636 776.2 L636.1 775.7 L636.3 775.5 L636.5 774.1 L636.7 773.8 L636.9 773 L637.1 774.8 L637.3 777.3 L637.5 778.1 L637.6 778.6 L637.8 778.1 L638 778.3 L638.2 778.6 L638.4 778.6 L638.6 778.3 L638.8 778.1 L638.9 777.7 L639.1 778.4 L639.3 778.6 L639.5 780.6 L639.7 782.1 L639.9 782.5 L640.1 781.9 L640.3 783 L640.4 784.9 L640.6 783.7 L640.8 784.8 L641 787.1 L641.2 788.5 L641.4 790.2 L641.6 793.4 L641.7 794.1 L641.9 791.9 L642.1 793 L642.3 794.2 L642.5 792.8 L642.7 792.8 L642.9 793.1 L643.1 791.4 L643.2 793.1 L643.4 793.2 L643.6 792.7 L643.8 792.5 L644 794.2 L644.2 795.5 L644.4 793.3 L644.6 793.5 L644.7 794 L644.9 792.7 L645.1 795.1 L645.3 795.3 L645.5 797.7 L645.7 796 L645.9 797.4 L646.1 797.4 L646.3 798.7 L646.4 798.6 L646.6 798.3 L646.8 798.4 L647 799 L647.2 798.7 L647.4 799.2 L647.6 799.9 L647.8 799.2 L647.9 798.2 L648.1 800.1 L648.3 801.5 L648.5 802.6 L648.7 802.3 L648.9 804.3 L649.1 802.4 L649.3 802.4 L649.4 802.3 L649.6 801.3 L649.8 802.4 L650 802 L650.2 801.2 L650.4 799.3 L650.6 800.5 L650.7 798.5 L650.9 797.5 L651.1 797 L651.3 795.4 L651.5 795.5 L651.7 795.5 L651.9 794.2 L652.1 794.5 L652.2 792.8 L652.4 790.8 L652.6 790.3 L652.8 789.9 L653 790.5 L653.2 791.5 L653.4 789.4 L653.6 790.5 L653.7 790.2 L653.9 789.6 L654.1 790.6 L654.3 791.3 L654.5 792 L654.7 789 L654.9 788.3 L655 786.2 L655.2 783.4 L655.4 781.8 L655.6 779.9 L655.8 780.2 L656 780.9 L656.2 778.8 L656.4 776.7 L656.5 777.8 L656.7 776.1 L656.9 775.5 L657.1 774.2 L657.3 772.7 L657.5 770 L657.7 770.6 L657.8 770.4 L658 768.5 L658.2 768.6 L658.4 767.7 L658.6 767.5 L658.8 769.5 L659 770 L659.2 768.6 L659.3 769.1 L659.5 770.9 L659.7 771.3 L659.9 770.9 L660.1 770.1 L660.3 769.4 L660.5 768.5 L660.7 769.6 L660.8 770.2 L661 770.9 L661.2 771.3 L661.4 770.4 L661.6 769.2 L661.8 769.9 L662 769 L662.1 768 L662.3 770 L662.5 771.5 L662.7 771.8 L662.9 774 L663.1 772.1 L663.3 775 L663.5 777 L663.6 776.5 L663.8 777.9 L664 777.4 L664.2 779.2 L664.4 778.3 L664.6 779.5 L664.8 779 L664.9 778.1 L665.1 780.5 L665.3 782.2 L665.5 784.9 L665.7 786.8 L665.9 786.1 L666.1 786.5 L666.3 785.9 L666.4 784.5 L666.6 783.6 L666.8 783.1 L667 784.1 L667.2 785.1 L667.4 785.1 L667.6 784.4 L667.7 783.4 L667.9 783.5 L668.1 784.3 L668.3 784.9 L668.5 783.2 L668.7 783.2 L668.9 781.1 L669 782.5 L669.2 781.8 L669.4 781.9 L669.6 781.4 L669.8 782.8 L670 782.8 L670.2 783.3 L670.4 784.1 L670.5 786.1 L670.7 788.4 L670.9 789.3 L671.1 789 L671.3 789.1 L671.5 789.3 L671.7 789.3 L671.8 791.5 L672 790.5 L672.2 790.9 L672.4 792.3 L672.6 793.5 L672.8 792.6 L673 792.8 L673.2 795.4 L673.3 793.1 L673.5 795.5 L673.7 793.7 L673.9 793 L674.1 794.8 L674.3 793.6 L674.5 792.4 L674.6 791.4 L674.8 791 L675 791 L675.2 791.2 L675.4 792.3 L675.6 792.4 L675.8 791.2 L676 791.8 L676.1 789.6 L676.3 792.1 L676.5 792.5 L676.7 794.8 L676.9 797.3 L677.1 797.2 L677.3 797.8 L677.4 798.8 L677.6 800.3 L677.8 800.8 L678 803.2 L678.2 803.6 L678.4 804.5 L678.6 806.3 L678.8 806 L678.9 808.6 L679.1 808.3 L679.3 808.1 L679.5 807.6 L679.7 807.7 L679.9 806.8 L680.1 807.4 L680.2 809 L680.4 808.7 L680.6 809.9 L680.8 810.6 L681 810.6 L681.2 812.1 L681.4 811 L681.6 813.2 L681.7 811.8 L681.9 812 L682.1 810 L682.3 808.8 L682.5 808.1 L682.7 807.9 L682.9 808 L683 809.9 L683.2 810.9 L683.4 812.3 L683.6 813.4 L683.8 813.8 L684 815 L684.2 815.1 L684.4 815.6 L684.5 816.4 L684.7 816.1 L684.9 815.7 L685.1 817.6 L685.3 818.2 L685.5 814.6 L685.7 814.8 L685.9 814.4 L686 815.8 L686.2 814.7 L686.4 812.9 L686.6 812.3 L686.8 812.7 L687 812.9 L687.2 815.5 L687.3 815 L687.5 815.6 L687.7 815.3 L687.9 815 L688.1 814.9 L688.3 812.4 L688.5 811.4 L688.7 812.4 L688.8 811.8 L689 811.2 L689.2 811.3 L689.4 809.7 L689.6 810.4 L689.8 813 L690 814.6 L690.2 814.3 L690.3 815.9 L690.5 815.9 L690.7 818.1 L690.9 817.9 L691.1 818.5 L691.3 819.9 L691.5 820.9 L691.7 821.5 L691.8 820.5 L692 820.5 L692.2 821 L692.4 821 L692.6 820.1 L692.8 819.8 L693 817.7 L693.2 818.9 L693.3 818.1 L693.5 818.2 L693.7 819.3 L693.9 818.7 L694.1 817.9 L694.3 816.9 L694.5 816.5 L694.7 817.9 L694.9 817.9 L695 817.6 L695.2 815.7 L695.4 815.8 L695.6 815.9 L695.8 814.1 L696 814.2 L696.2 815.1 L696.4 815 L696.5 814.2 L696.7 814.2 L696.9 816.7 L697.1 817.4 L697.3 816.4 L697.5 817.6 L697.7 816.7 L697.9 816.8 L698.1 818 L698.2 817.2 L698.4 820.3 L698.6 823.3 L698.8 825.5 L699 825.1 L699.2 825.7 L699.4 825.1 L699.6 825.5 L699.7 825.5 L699.9 826.5 L700.1 827.2 L700.3 826.2 L700.5 825.4 L700.7 827.4 L700.9 826.9 L701.1 824.5 L701.2 823.8 L701.4 825.3 L701.6 824.6 L701.8 824.5 L702 825.2 L702.2 823.9 L702.4 822.4 L702.6 823 L702.7 822.9 L702.9 823.4 L703.1 823.4 L703.3 821.4 L703.5 822 L703.7 821.2 L703.9 820.9 L704.1 820.8 L704.2 822.3 L704.4 821.5 L704.6 822.9 L704.8 822 L705 822.1 L705.2 822 L705.4 822.6 L705.6 823.7 L705.7 825 L705.9 825 L706.1 825.2 L706.3 824.8 L706.5 825.2 L706.7 824.2 L706.9 824 L707 823.9 L707.2 824.2 L707.4 824.2 L707.6 823.4 L707.8 824.3 L708 825.9 L708.2 825.4 L708.4 824.9 L708.5 824.9 L708.7 824.6 L708.9 826.3 L709.1 827.5 L709.3 827.5 L709.5 827.6 L709.7 829.2 L709.9 828.6 L710 831.1 L710.2 829.5 L710.4 830.9 L710.6 831.6 L710.8 833 L711 834.7 L711.2 835.2 L711.3 837.6 L711.5 838.1 L711.7 837.9 L711.9 838.3 L712.1 838.3 L712.3 840.2 L712.5 842.6 L712.7 844.3 L712.8 843 L713 842.6 L713.2 844.9 L713.4 842.7 L713.6 841.9 L713.8 840.6 L714 839.3 L714.2 837.6 L714.3 839.8 L714.5 839.7 L714.7 840.7 L714.9 838.3 L715.1 837.4 L715.3 837.4 L715.5 837.8 L715.6 840.5 L715.8 840.4 L716 841.5 L716.2 839.8 L716.4 838.9 L716.6 839 L716.8 839.5 L717 838.1 L717.1 838.8 L717.3 837.5 L717.5 837.2 L717.7 837.6 L717.9 837.2 L718.1 834.9 L718.3 837 L718.5 836.1 L718.6 835.1 L718.8 835.5 L719 833.6 L719.2 832.8 L719.4 832.1 L719.6 833.4 L719.8 832.7 L720 834.4 L720.1 833.8 L720.3 831 L720.5 832.2 L720.7 830.2 L720.9 831.7 L721.1 831.6 L721.3 830.7 L721.5 832.6 L721.6 832.2 L721.8 833.2 L722 834 L722.2 833 L722.4 833.1 L722.6 832.6 L722.8 832.6 L723 832.1 L723.1 830.2 L723.3 830 L723.5 830.4 L723.7 830.4 L723.9 829.5 L724.1 828.9 L724.3 831.7 L724.5 831.9 L724.6 831.3 L724.8 828 L725 828.8 L725.2 829.1 L725.4 830.7 L725.6 830.8 L725.8 833.1 L726 834.2 L726.1 834.3 L726.3 836.3 L726.5 836.7 L726.7 837.6 L726.9 836 L727.1 834 L727.3 831.3 L727.5 831.1 L727.6 830.3 L727.8 827.2 L728 828.1 L728.2 825.9 L728.4 827.1 L728.6 825.8 L728.8 827.8 L729 828.4 L729.1 828.7 L729.3 829 L729.5 831.6 L729.7 831.4 L729.9 831.8 L730.1 829.9 L730.3 829.2 L730.5 832 L730.6 831.9 L730.8 830.5 L731 830.7 L731.2 831.6 L731.4 833.4 L731.6 833.9 L731.8 835.2 L732 835.6 L732.1 836 L732.3 834.4 L732.5 835.7 L732.7 835.3 L732.9 837.1 L733.1 837.1 L733.3 836.1 L733.5 837.3 L733.7 839.2 L733.8 839.5 L734 839.8 L734.2 841 L734.4 840.9 L734.6 841.2 L734.8 840.7 L735 842.8 L735.2 842.2 L735.4 840.9 L735.5 842.4 L735.7 840.2 L735.9 840.3 L736.1 842.3 L736.3 844.1 L736.5 845.4 L736.7 845.5 L736.9 845.1 L737.1 844 L737.3 843.5 L737.4 843.2 L737.6 843.7 L737.8 845.6 L738 845.8 L738.2 846.6 L738.4 844.7 L738.6 847.1 L738.8 844.9 L738.9 847.2 M739.2 847.2 L739.3 846.6 L739.5 847.2 M739.8 847.2 L739.9 846 L740.1 846.7 L740.3 846.1 L740.5 845.3 L740.6 843.7 L740.8 844.6 L741 842.1 L741.2 841.6 L741.4 839.5 L741.6 840.6 L741.8 838.5 L742 837.9 L742.1 836.1 L742.3 836.2 L742.5 834.4 L742.7 833.6 L742.9 835.3 L743.1 832.3 L743.3 833.4 L743.5 833 L743.7 833.5 L743.8 834.3 L744 835 L744.2 834 L744.4 833 L744.6 832 L744.8 834.4 L745 833.5 L745.2 835.7 L745.4 832.9 L745.5 832.6 L745.7 831.4 L745.9 831.6 L746.1 831.6 L746.3 832.8 L746.5 830.4 L746.7 831.1 L746.9 829.9 L747.1 831.1 L747.2 831.6 L747.4 832.3 L747.6 832.6 L747.8 833.5 L748 832.9 L748.2 832.1 L748.4 834.2 L748.6 834.7 L748.7 836.5 L748.9 835.1 L749.1 836.7 L749.3 836.1 L749.5 835.9 L749.7 836 L749.9 838.5 L750 836.3 L750.2 836.5 L750.4 835.6 L750.6 834.2 L750.8 835.5 L751 836.8 L751.2 834.6 L751.3 832.1 L751.5 833.1 L751.7 833.2 L751.9 832 L752.1 832.2 L752.3 830.5 L752.4 829.7 L752.6 829.8 L752.8 828.9 L753 829.5 L753.2 827.9 L753.4 828.8 L753.6 827 L753.7 823.8 L753.9 826.1 L754.1 823.8 L754.3 825.8 L754.5 825.9 L754.7 823.5 L754.9 822 L755 821.2 L755.2 820.7 L755.4 820.4 L755.6 819.8 L755.8 819.9 L756 820.2 L756.2 821.6 L756.4 819.2 L756.5 819.1 L756.7 816.5 L756.9 815.3 L757.1 814.6 L757.3 815.9 L757.5 816.1 L757.7 815.9 L757.9 815.9 L758 816.1 L758.2 819 L758.4 819.4 L758.6 819.6 L758.8 820 L759 820.3 L759.2 822.2 L759.4 823.2 L759.5 821.1 L759.7 822.2 L759.9 822.7 L760.1 823.7 L760.3 823.7 L760.5 824.3 L760.7 821.5 L760.9 822.7 L761 820.8 L761.2 821.3 L761.4 820.5 L761.6 817.1 L761.8 816.9 L762 816.8 L762.2 820.4 L762.4 820.7 L762.5 820.8 L762.7 820.5 L762.9 820.1 L763.1 821.4 L763.3 822.4 L763.5 821.3 L763.7 821.5 L763.9 821.3 L764 820.3 L764.2 820 L764.4 819.6 L764.6 820.9 L764.8 820.7 L765 822.8 L765.2 820.3 L765.4 821.2 L765.5 818.8 L765.7 819.3 L765.9 819.3 L766.1 817.5 L766.3 817.1 L766.5 816.7 L766.7 816.9 L766.9 817 L767 817.8 L767.2 818.7 L767.4 820.9 L767.6 820.9 L767.8 821.8 L768 819.8 L768.2 816.8 L768.4 814.2 L768.5 815.6 L768.7 815.9 L768.9 815.9 L769.1 817.7 L769.3 815.5 L769.5 814.4 L769.7 813.9 L769.9 811.2 L770 810.4 L770.2 810.6 L770.4 810.1 L770.6 810.5 L770.8 809.7 L771 810.6 L771.2 809.1 L771.4 808.6 L771.5 808.3 L771.7 808 L771.9 807.3 L772.1 808.8 L772.3 807.1 L772.5 806.5 L772.7 803.3 L772.8 802.5 L773 800.4 L773.2 799.6 L773.4 799 L773.6 799.7 L773.8 799.5 L774 799.4 L774.1 801.7 L774.3 801.3 L774.5 801.4 L774.7 800.1 L774.9 797.9 L775.1 797.5 L775.3 795.1 L775.4 792.6 L775.6 790.7 L775.8 790.3 L776 789.3 L776.2 786.3 L776.4 783.4 L776.5 781.1 L776.7 782.5 L776.9 784.6 L777.1 781.5 L777.3 779.7 L777.5 777 L777.7 775.4 L777.8 775 L778 773.5 L778.2 772.7 L778.4 769.9 L778.6 767.9 L778.8 768.3 L779 768.5 L779.1 766.3 L779.3 764.3 L779.5 763 L779.7 761.7 L779.9 762.5 L780.1 762.8 L780.3 761.2 L780.4 762.8 L780.6 761.3 L780.8 759.7 L781 758 L781.2 757.6 L781.4 755.9 L781.6 756.4 L781.8 758.2 L781.9 761.3 L782.1 765 L782.3 765.7 L782.5 765.3 L782.7 768.4 L782.9 768.9 L783.1 770.7 L783.3 771.8 L783.4 772.3 L783.6 773.1 L783.8 775.4 L784 775.2 L784.2 776.2 L784.4 779.5 L784.6 779.3 L784.8 778 L784.9 779.3 L785.1 778 L785.3 780.9 L785.5 782 L785.7 781.1 L785.9 780.2 L786.1 780.3 L786.3 779.7 L786.4 781 L786.6 780.9 L786.8 780.4 L787 780 L787.2 780.3 L787.4 780 L787.6 780.2 L787.8 780.2 L787.9 783 L788.1 783 L788.3 785.1 L788.5 786.4 L788.7 787.1 L788.9 786.5 L789.1 787.9 L789.3 788.3 L789.4 787.7 L789.6 787.9 L789.8 787.6 L790 786.9 L790.2 786.4 L790.4 786.8 L790.6 786.2 L790.7 785.2 L790.9 786.5 L791.1 785.2 L791.3 786.2 L791.5 785.4 L791.7 784.3 L791.9 783.2 L792 784.4 L792.2 785.3 L792.4 786.6 L792.6 785.5 L792.8 785 L793 787.1 L793.1 785.8 L793.3 784 L793.5 784.3 L793.7 784.1 L793.9 783.5 L794.1 784.5 L794.3 784.8 L794.4 783.8 L794.6 783.9 L794.8 783.6 L795 783.2 L795.2 780.6 L795.4 780 L795.6 779.2 L795.7 779.6 L795.9 777.6 L796.1 777.3 L796.3 777 L796.5 776.4 L796.7 775.7 L796.9 778.1 L797 779.6 L797.2 779.1 L797.4 780.8 L797.6 779.9 L797.8 781.2 L798 779.8 L798.2 782.2 L798.3 785.9 L798.5 788.9 L798.7 787.4 L798.9 789.5 L799.1 791.2 L799.3 793.1 L799.4 795.2 L799.6 796.1 L799.8 797.1 L800 799 L800.2 800.9 L800.4 800.2 L800.6 800.1 L800.7 799.9 L800.9 799.4 L801.1 800.8 L801.3 800.8 L801.5 798.1 L801.7 798.6 L801.9 796.3 L802 798.9 L802.2 800.9 L802.4 802.3 L802.6 803 L802.8 803.7 L803 803.8 L803.2 802.2 L803.4 802.6 L803.5 802.6 L803.7 803.7 L803.9 805.3 L804.1 805 L804.3 807.4 L804.5 807.7 L804.7 809 L804.9 812.8 L805 813.3 L805.2 816.4 L805.4 818.3 L805.6 821.2 L805.8 823.7 L806 826 L806.2 829 L806.4 831.4 L806.6 833.3 L806.8 833.8 L806.9 834.3 L807.1 833.4 L807.3 837 L807.5 839 L807.7 838.9 L807.9 839.5 L808.1 838.8 L808.3 836.9 L808.4 834 L808.6 832.3 L808.8 831 L809 830.3 L809.2 828.6 L809.4 827.5 L809.5 826.2 L809.7 826.1 L809.9 825.4 L810.1 825.7 L810.3 826.2 L810.5 826.4 L810.6 826.6 L810.8 826.6 L811 826.5 L811.2 827.6 L811.4 827.7 L811.6 827.8 L811.8 826.4 L811.9 830 L812.1 832.4 L812.3 834.2 L812.5 835.9 L812.7 836.4 L812.9 838.1 L813 839.6 L813.2 839.2 L813.4 840 L813.6 842.7 L813.8 842 L814 839.6 L814.1 838.7 L814.3 839.5 L814.5 838.2 L814.7 838.9 L814.9 839.5 L815.1 839.4 L815.3 837.9 L815.4 837.9 L815.6 838.5 L815.8 840.5 L816 840.5 L816.2 842.1 L816.3 842.4 L816.5 844.4 L816.7 845.7 L816.9 847.2 L816.9 847.2 M876.4 847.2 L876.6 846.1 L876.8 845.4 L876.9 844.8 L877.1 846.5 L877.3 846.4 L877.4 847.2 M877.6 847.2 L877.7 846.2 L877.9 847.2 M878.3 847.2 L878.4 845 L878.6 846 L878.8 843.5 L879 843 L879.2 839.3 L879.4 839.2 L879.6 839.5 L879.8 839.1 L879.9 839.4 L880.1 840 L880.3 838.7 L880.5 838.9 L880.7 837.6 L880.9 836.7 L881.1 835.5 L881.2 833.3 L881.4 831.9 L881.6 833 L881.8 831.1 L882 834.1 L882.2 832.4 L882.4 830.8 L882.6 832 L882.7 830.3 L882.9 832.5 L883.1 831.1 L883.3 831.5 L883.5 831.8 L883.7 831.9 L883.9 832.4 L884 831.4 L884.2 831.3 L884.4 831.3 L884.6 831.1 L884.8 831.4 L885 832.6 L885.2 831.7 L885.4 830.5 L885.5 831.9 L885.7 830.6 L885.9 828.8 L886.1 828.5 L886.3 826.5 L886.5 829.1 L886.7 827.3 L886.9 828.1 L887 827.6 L887.2 828.6 L887.4 825.4 L887.6 825.8 L887.8 825.5 L888 827.9 L888.2 828.8 L888.3 828.8 L888.5 829.5 L888.7 831 L888.9 829.6 L889.1 832.1 L889.3 832.5 L889.5 833.3 L889.7 834.3 L889.8 834 L890 834.2 L890.2 835 L890.4 834.7 L890.6 834.6 L890.8 833.7 L891 831.8 L891.2 831.3 L891.3 831 L891.5 831.5 L891.7 829.4 L891.9 828 L892.1 827.1 L892.3 826.5 L892.5 827.3 L892.7 826.9 L892.9 826.3 L893 827.6 L893.2 828.5 L893.4 828.4 L893.6 825.8 L893.8 825.1 L894 826.7 L894.2 824.8 L894.4 823.5 L894.5 822.3 L894.7 822.8 L894.9 822.7 L895.1 819.7 L895.3 818 L895.5 812.3 L895.7 814.7 L895.9 816.8 L896 817.4 L896.2 818.7 L896.4 819.6 L896.6 818.8 L896.8 817.2 L897 819.1 L897.1 818.4 L897.3 817.4 L897.5 817.2 L897.7 815.5 L897.9 814.1 L898.1 815.3 L898.3 815.2 L898.4 814.9 L898.6 816.5 L898.8 816.9 L899 815.7 L899.2 815.5 L899.4 815.8 L899.6 812.8 L899.7 812.4 L899.9 811.5 L900.1 812.9 L900.3 811.7 L900.5 812.6 L900.7 813.2 L900.9 814 L901 816 L901.2 815.6 L901.4 817.5 L901.6 816.8 L901.8 818.1 L902 816.8 L902.2 816.7 L902.4 815.6 L902.5 817.3 L902.7 816.9 L902.9 816.3 L903.1 816.3 L903.3 815.6 L903.5 815.5 L903.7 818.8 L903.8 817.3 L904 818.1 L904.2 818.6 L904.4 817.3 L904.6 819.8 L904.8 819.9 L905 818.2 L905.1 817.4 L905.3 816.8 L905.5 816.9 L905.7 815.9 L905.9 817 L906.1 816.9 L906.3 815 L906.4 815.4 L906.6 814.7 L906.8 814.3 L907 815.1 L907.2 817.6 L907.4 818.8 L907.6 819.9 L907.7 821.3 L907.9 821.4 L908.1 821 L908.3 820.3 L908.5 819.9 L908.7 821.4 L908.8 819.7 L909 819.3 L909.2 818.4 L909.4 820.1 L909.6 818.8 L909.8 815.9 L909.9 815.3 L910.1 813.9 L910.3 814.7 L910.5 814.6 L910.7 814.7 L910.9 813.9 L911 813.8 L911.2 813.5 L911.4 814.7 L911.6 816.3 L911.8 816.1 L912 812.8 L912.2 813.9 L912.3 813 L912.5 811.2 L912.7 811.9 L912.9 813.8 L913.1 813.2 L913.3 813.1 L913.4 814.1 L913.6 812 L913.8 810.9 L914 810.8 L914.2 812.4 L914.4 810.6 L914.5 809 L914.7 807.8 L914.9 805.6 L915.1 806.7 L915.3 808.4 L915.5 807.6 L915.7 807.4 L915.8 807.8 L916 808.7 L916.2 807.8 L916.4 807.8 L916.6 807 L916.8 808.8 L917 809.1 L917.2 808.9 L917.3 807.9 L917.5 810.4 L917.7 811 L917.9 812.2 L918.1 812.5 L918.3 813.1 L918.5 812.9 L918.6 812.2 L918.8 812.2 L919 812.6 L919.2 811.8 L919.4 810.4 L919.6 810.6 L919.8 812 L920 810 L920.1 809.2 L920.3 806.7 L920.5 807.6 L920.7 808.4 L920.9 809 L921.1 809.4 L921.3 811.7 L921.5 810.9 L921.6 813.2 L921.8 817.1 L922 817.5 L922.2 819.2" fill="none" stroke="#5fab7b" stroke-width="1.4" stroke-linejoin="round"/>
<path d="M129.3 847.2 L129.5 847.7 L129.6 848.6 L129.8 847.4 L129.8 847.2 M140.7 847.2 L140.7 847.2 L140.8 848.1 L141 848.5 L141.2 849.3 L141.4 850.9 L141.6 851.5 L141.8 848.9 L142 850 L142.1 850.4 L142.3 849.2 L142.5 848.5 L142.7 847.8 L142.8 847.2 M142.9 847.2 L143.1 849.2 L143.3 850.3 L143.5 850 L143.6 849.4 L143.8 847.6 L144 847.2 M144.2 847.2 L144.2 847.2 L144.3 847.2 M144.4 847.2 L144.6 847.4 L144.7 847.2 M145.3 847.2 L145.3 847.5 L145.5 848.6 L145.7 847.2 M188.7 847.2 L188.9 848.6 L189.1 850.1 L189.3 851.8 L189.5 853 L189.6 852.5 L189.8 852.6 L190 855.5 L190.2 857.3 L190.4 859.4 L190.6 859.5 L190.8 860.4 L191 860.4 L191.2 861.6 L191.3 865.2 L191.5 865.8 L191.7 866.6 L191.9 867.1 L192.1 870 L192.3 871 L192.5 871.4 L192.7 871.8 L192.9 870.8 L193.1 869.8 L193.2 870.5 L193.4 872.2 L193.6 875 L193.8 875.2 L194 873.2 L194.2 872.8 L194.4 875.2 L194.6 875.9 L194.8 874.8 L194.9 872.1 L195.1 870.1 L195.3 869.1 L195.5 868.3 L195.7 869.2 L195.9 869.3 L196.1 869.2 L196.3 869.7 L196.5 869.1 L196.6 869.1 L196.8 868.2 L197 865.8 L197.2 864.3 L197.4 863.3 L197.6 864 L197.8 866.4 L198 867 L198.2 866.7 L198.3 868.4 L198.5 867.2 L198.7 868.1 L198.9 868 L199.1 868.9 L199.3 870.9 L199.5 868.7 L199.7 870.6 L199.9 869.8 L200 871 L200.2 871 L200.4 872.5 L200.6 873.5 L200.8 872.7 L201 870.6 L201.2 872.1 L201.4 872.5 L201.6 871.7 L201.7 873 L201.9 872.4 L202.1 873.9 L202.3 873.5 L202.5 873.4 L202.7 871.3 L202.9 870.3 L203.1 871.4 L203.3 870 L203.4 870.9 L203.6 869.4 L203.8 867 L204 865.7 L204.2 865.9 L204.4 863.8 L204.6 863.1 L204.8 864.2 L205 864.2 L205.1 861.8 L205.3 861.7 L205.5 861.1 L205.7 861 L205.9 862.7 L206.1 862.9 L206.3 861.9 L206.5 861.1 L206.7 860.8 L206.8 863.1 L207 861 L207.2 859.6 L207.4 857.7 L207.6 855.5 L207.8 855.7 L208 856.1 L208.2 855.3 L208.4 852.7 L208.5 854.5 L208.7 854.4 L208.9 854.9 L209.1 853.7 L209.3 851.4 L209.5 851.4 L209.7 852.6 L209.9 852.1 L210.1 852.1 L210.2 853.7 L210.4 852.1 L210.6 852.4 L210.8 851.1 L211 852.4 L211.2 850.6 L211.4 852.1 L211.6 850.3 L211.8 852.2 L211.9 850 L212.1 850.1 L212.3 851.7 L212.5 851.6 L212.7 850.8 L212.9 850.5 L213.1 849.6 L213.3 847.6 L213.3 847.2 M213.5 847.2 L213.7 848.7 L213.9 847.7 L213.9 847.2 M349.4 847.2 L349.5 847.4 L349.5 847.2 M353.5 847.2 L353.6 847.9 L353.7 847.2 M353.9 847.2 L354.1 847.9 L354.3 849.6 L354.5 849.6 L354.7 850.5 L354.9 850.4 L355 850 L355.2 849.3 L355.4 849.9 L355.6 850.8 L355.8 850.9 L356 851.2 L356.1 851.2 L356.3 852 L356.5 852.5 L356.7 853.4 L356.9 854.4 L357.1 854.4 L357.3 853.1 L357.4 853.9 L357.6 853.4 L357.8 853.1 L358 853.2 L358.2 851.5 L358.4 851.4 L358.6 849.8 L358.8 848.6 L359 852.3 L359.1 851 L359.3 849.4 L359.5 847.2 M365.8 847.2 L365.8 847.8 L365.9 847.2 M366.3 847.2 L366.4 847.6 L366.5 847.2 M366.7 847.2 L366.7 847.2 L366.7 847.2 M367.3 847.2 L367.5 848 L367.7 847.9 L367.9 848.1 L368 849 L368.2 849.6 L368.4 850.6 L368.6 849.9 L368.8 851.3 L369 853.4 L369.2 854.7 L369.3 853.4 L369.5 854.1 L369.7 853.4 L369.9 852.5 L370.1 853.3 L370.3 852.4 L370.5 851.8 L370.7 852 L370.8 853 L371 853.1 L371.2 854.9 L371.4 855.3 L371.6 856.1 L371.8 855.7 L372 855.3 L372.1 856.2 L372.3 855.2 L372.5 853.7 L372.7 853.7 L372.9 854.8 L373.1 854.2 L373.3 857.5 L373.5 858.3 L373.6 857.6 L373.8 855.1 L374 856.2 L374.2 854.3 L374.4 851.4 L374.6 849 L374.8 852.2 L375 850.8 L375.1 850.7 L375.3 849.4 L375.5 849.8 L375.7 850.6 L375.9 851 L376.1 849.2 L376.3 848.2 L376.4 848.6 L376.6 848.2 L376.8 847.2 L376.8 847.2 M377.3 847.2 L377.4 847.6 L377.6 848.7 L377.8 849.3 L377.9 850.1 L378.1 852.3 L378.3 854.2 L378.5 853.2 L378.7 854.2 L378.9 855.4 L379.1 855.1 L379.3 852.7 L379.4 850.7 L379.6 850.8 L379.8 851.7 L380 852 L380.2 852.7 L380.4 853 L380.6 851.9 L380.8 852.9 L380.9 853.5 L381.1 853.4 L381.3 853 L381.5 853.5 L381.7 854.1 L381.9 855.2 L382.1 855.7 L382.3 854.6 L382.4 854.5 L382.6 858.1 L382.8 856.9 L383 856.5 L383.2 857.2 L383.4 857.1 L383.6 860.6 L383.8 862.3 L383.9 860.4 L384.1 857.2 L384.3 853.9 L384.5 854.4 L384.7 854 L384.9 852.5 L385.1 853.7 L385.3 851 L385.4 851.5 L385.6 850.6 L385.8 851.7 L386 850.8 L386.2 850.6 L386.4 849.1 L386.6 850.4 L386.7 850.3 L386.9 847.7 L387.1 849.1 L387.3 848.5 L387.5 847.8 L387.7 848.3 L387.9 848.5 L388 847.2 M738.9 847.2 L738.9 847.9 L739.1 847.4 L739.2 847.2 M739.5 847.2 L739.5 847.4 L739.7 847.9 L739.8 847.2 M816.9 847.2 L817.1 849.5 L817.3 852.4 L817.5 852.2 L817.7 852.7 L817.9 854.5 L818.1 857.3 L818.3 857.3 L818.5 857.9 L818.7 857.4 L818.9 856.4 L819.1 857.2 L819.3 856.9 L819.4 856.5 L819.6 857.4 L819.8 857.9 L820 859 L820.2 863.7 L820.4 864.5 L820.6 862.6 L820.8 861.6 L821 858.4 L821.1 858.6 L821.3 857.8 L821.5 859 L821.7 860.3 L821.9 861.8 L822.1 861.5 L822.2 860.8 L822.4 863.7 L822.6 863.1 L822.8 862.2 L823 861.5 L823.2 863.5 L823.3 863.6 L823.5 863.5 L823.7 865.6 L823.9 867.4 L824.1 865.4 L824.3 867.2 L824.5 868.7 L824.6 872.2 L824.8 873.9 L825 873 L825.2 873.3 L825.4 875.3 L825.6 876.2 L825.8 876.6 L826 876.7 L826.1 878.9 L826.3 879.3 L826.5 881 L826.7 882.6 L826.9 884.6 L827.1 886.5 L827.3 886.8 L827.5 889.9 L827.6 890.6 L827.8 887.9 L828 890 L828.2 891.2 L828.4 890.3 L828.6 887.3 L828.8 888.2 L828.9 886.5 L829.1 885.6 L829.3 882 L829.5 881.3 L829.7 877.7 L829.9 878 L830.1 876.6 L830.3 877 L830.4 876.8 L830.6 877.4 L830.8 877 L831 874 L831.2 876.3 L831.4 874.7 L831.6 874.3 L831.8 875.5 L832 877.1 L832.1 878.4 L832.3 881 L832.5 881.8 L832.7 883.4 L832.9 887.6 L833.1 889.1 L833.3 890 L833.5 891.6 L833.7 892.8 L833.9 894.5 L834.1 896.7 L834.2 897 L834.4 896.8 L834.6 898.9 L834.8 899.5 L835 902.5 L835.2 902.5 L835.4 902.1 L835.6 900.6 L835.8 897.9 L836 897 L836.1 895.5 L836.3 892.7 L836.5 891.9 L836.7 890 L836.9 887.1 L837.1 885.3 L837.3 884.8 L837.5 883.8 L837.7 882.6 L837.9 881.1 L838 878.8 L838.2 879.4 L838.4 878 L838.6 876.2 L838.8 872.8 L839 876.2 L839.2 878.8 L839.4 879.2 L839.6 880.7 L839.7 880.8 L839.9 882.4 L840.1 884.7 L840.3 886.3 L840.5 886.2 L840.7 886.7 L840.9 888 L841.1 889.3 L841.3 889.4 L841.4 890.1 L841.6 891.3 L841.8 891.8 L842 893.2 L842.2 896.1 L842.4 896.5 L842.6 896.4 L842.8 896.1 L842.9 897.7 L843.1 900.8 L843.3 901.7 L843.5 904 L843.7 907.9 L843.9 906.8 L844.1 907 L844.3 906.1 L844.4 905.8 L844.6 903.9 L844.8 902 L845 900.5 L845.2 898.1 L845.4 898 L845.5 894.1 L845.7 895.5 L845.9 893.6 L846.1 891.5 L846.3 891.1 L846.5 890.1 L846.6 890.8 L846.8 890.5 L847 889.3 L847.2 890.1 L847.4 891.8 L847.6 891.4 L847.7 891.6 L847.9 892 L848.1 891.4 L848.3 892.3 L848.5 890.1 L848.7 887.7 L848.8 886.8 L849 886.8 L849.2 886 L849.4 885.3 L849.6 884.9 L849.8 884.4 L850 882.4 L850.2 882.2 L850.4 881.6 L850.5 880.8 L850.7 880.7 L850.9 879 L851.1 879.3 L851.3 876.7 L851.5 874.4 L851.7 873.1 L851.9 870.6 L852.1 867.8 L852.3 866.9 L852.5 865.6 L852.6 865 L852.8 864.1 L853 863.2 L853.2 861.7 L853.4 859.7 L853.6 855.5 L853.8 856.4 L854 856.4 L854.2 858 L854.3 857.1 L854.5 858.2 L854.7 859.7 L854.9 861.3 L855.1 862.6 L855.3 864.3 L855.5 865.4 L855.7 864.4 L855.8 865.5 L856 867.8 L856.2 871.4 L856.4 872.8 L856.6 872.7 L856.8 872.4 L857 870.9 L857.2 869.1 L857.3 867.2 L857.5 864.4 L857.7 864.3 L857.9 863.8 L858.1 863.6 L858.3 863.6 L858.5 863.1 L858.7 862.9 L858.9 860.7 L859.1 860.7 L859.2 856.6 L859.4 857.9 L859.6 855.6 L859.8 856.2 L860 855.5 L860.2 857.1 L860.4 857 L860.6 856.4 L860.7 856.9 L860.9 857.7 L861.1 859 L861.3 860 L861.5 861.1 L861.7 861.9 L861.8 861.8 L862 860.7 L862.2 861.6 L862.4 864.1 L862.6 864.6 L862.8 863.5 L862.9 864.8 L863.1 864.4 L863.3 865.8 L863.5 867.4 L863.7 866.6 L863.9 868.4 L864.1 868.4 L864.2 871.3 L864.4 872 L864.6 871 L864.8 871.1 L865 871.5 L865.2 870.3 L865.3 870.9 L865.5 871.8 L865.7 871.8 L865.9 871.4 L866.1 870.6 L866.3 870.3 L866.4 868.3 L866.6 867.1 L866.8 866.7 L867 863.3 L867.2 866 L867.4 866.4 L867.6 868.1 L867.8 866.1 L867.9 866.4 L868.1 866.1 L868.3 866.3 L868.5 865.2 L868.7 866.6 L868.9 866.2 L869.1 869.1 L869.3 869.1 L869.5 868.4 L869.7 868 L869.8 867.9 L870 871 L870.2 871.6 L870.4 872.8 L870.6 871.6 L870.8 869.9 L871 868.1 L871.2 865.4 L871.3 863.7 L871.5 864.4 L871.7 864.5 L871.9 866.1 L872.1 863.6 L872.3 862.8 L872.5 863.4 L872.7 861.8 L872.8 861.3 L873 860.7 L873.2 858 L873.4 859.6 L873.6 860.5 L873.8 859.6 L874 858.9 L874.1 856.5 L874.3 855.9 L874.5 854.3 L874.7 851.1 L874.9 851.8 L875.1 852.6 L875.3 852.5 L875.5 851.8 L875.6 852.2 L875.8 850.8 L876 850.8 L876.2 848.4 L876.4 847.4 L876.4 847.2 M877.4 847.2 L877.5 848.2 L877.6 847.2 M877.9 847.2 L877.9 847.2 L878.1 848 L878.3 848.2 L878.3 847.2" fill="none" stroke="#d8504a" stroke-width="1.4" stroke-linejoin="round"/>
<line x1="73.5" x2="73.5" y1="847.2" y2="811.5" stroke="#5fab7b" stroke-width="1.2"/>
<line x1="922.2" x2="922.2" y1="847.2" y2="819.2" stroke="#5fab7b" stroke-width="1.2"/>
<line x1="60" x2="954" y1="847.2" y2="847.2" stroke="#a3b2a6" stroke-width="1.6"/>
<path d="M73.8 1015.5 L76.1 1015.5 L76.1 1025 L78.5 1025 L78.5 1022.5 L80.8 1022.5 L80.8 1025 L83.1 1025 L83.1 1024.4 L85.5 1024.4 L85.5 1023.6 L87.8 1023.6 L87.8 1020 L90.2 1020 L90.2 1025 L92.5 1025 L92.5 1022.7 L94.8 1022.7 L94.8 1024.4 L97.2 1024.4 L97.2 1022.5 L99.5 1022.5 L99.5 1023 L101.8 1023 L101.8 1024.1 L104.2 1024.1 L104.2 1025.8 L106.5 1025.8 L106.5 1020.2 L108.8 1020.2 L108.8 1016.9 L111.2 1016.9 L111.2 1017.2 L113.5 1017.2 L113.5 1015.5 L115.8 1015.5 L115.8 1016.6 L118.2 1016.6 L118.2 1016.1 L120.5 1016.1 L120.5 1016.1 L122.9 1016.1 L122.9 1017.2 L125.2 1017.2 L125.2 1016.6 L127.5 1016.6 L127.5 1017.2 L129.9 1017.2 L129.9 1015.5 L132.2 1015.5 L132.2 1016.9 L134.5 1016.9 L134.5 1017.5 L136.9 1017.5 L136.9 1018.6 L139.2 1018.6 L139.2 1017.5 L141.5 1017.5 L141.5 1015.5 L143.9 1015.5 L143.9 1016.1 L146.2 1016.1 L146.2 1015.8 L148.5 1015.8 L148.5 1016.9 L150.9 1016.9 L150.9 1029.2 L153.2 1029.2 L153.2 1035.8 L155.6 1035.8 L155.6 1040 L157.9 1040 L157.9 1041.4 L160.2 1041.4 L160.2 1037.8 L162.6 1037.8 L162.6 1036.4 L164.9 1036.4 L164.9 1038.3 L167.2 1038.3 L167.2 1038.3 L169.6 1038.3 L169.6 1037.8 L171.9 1037.8 L171.9 1031.4 L174.2 1031.4 L174.2 1029.2 L176.6 1029.2 L176.6 1025 L178.9 1025 L178.9 1025.5 L181.2 1025.5 L181.2 1019.4 L183.6 1019.4 L183.6 1022.7 L185.9 1022.7 L185.9 1018.6 L188.3 1018.6 L188.3 1010.8 L190.6 1010.8 L190.6 1007.4 L192.9 1007.4 L192.9 1002.7 L195.3 1002.7 L195.3 995.7 L197.6 995.7 L197.6 988.5 L199.9 988.5 L199.9 988.2 L202.3 988.2 L202.3 989.3 L204.6 989.3 L204.6 988.8 L206.9 988.8 L206.9 989.1 L209.3 989.1 L209.3 989.1 L211.6 989.1 L211.6 992.1 L213.9 992.1 L213.9 1003.8 L216.3 1003.8 L216.3 1017.5 L218.6 1017.5 L218.6 1022.5 L221 1022.5 L221 1036.7 L223.3 1036.7 L223.3 1053.1 L225.6 1053.1 L225.6 1059.8 L228 1059.8 L228 1065.3 L230.3 1065.3 L230.3 1068.7 L232.6 1068.7 L232.6 1084.8 L235 1084.8 L235 1101 L237.3 1101 L237.3 1112.1 L239.6 1112.1 L239.6 1119.6 L242 1119.6 L242 1122.1 L244.3 1122.1 L244.3 1121.9 L246.7 1121.9 L246.7 1122.1 L249 1122.1 L249 1121.6 L251.3 1121.6 L251.3 1121.6 L253.7 1121.6 L253.7 1121.6 L256 1121.6 L256 1122.1 L258.3 1122.1 L258.3 1121.9 L260.7 1121.9 L260.7 1121.6 L263 1121.6 L263 1121.6 L265.3 1121.6 L265.3 1133 L267.7 1133 L267.7 1135.8 L270 1135.8 L270 1135.8 L272.3 1135.8 L272.3 1135.2 L274.7 1135.2 L274.7 1135.5 L277 1135.5 L277 1135.2 L279.4 1135.2 L279.4 1135.2 L281.7 1135.2 L281.7 1136.3 L284 1136.3 L284 1142.2 L286.4 1142.2 L286.4 1141.6 L288.7 1141.6 L288.7 1142.2 L291 1142.2 L291 1142.2 L293.4 1142.2 L293.4 1142.5 L295.7 1142.5 L295.7 1143 L298 1143 L298 1142.5 L300.4 1142.5 L300.4 1142.2 L302.7 1142.2 L302.7 1142.5 L305 1142.5 L305 1142.5 L307.4 1142.5 L307.4 1142.5 L309.7 1142.5 L309.7 1141.6 L312.1 1141.6 L312.1 1135.2 L314.4 1135.2 L314.4 1130.5 L316.7 1130.5 L316.7 1125.5 L319.1 1125.5 L319.1 1121.3 L321.4 1121.3 L321.4 1116.6 L323.7 1116.6 L323.7 1110.2 L326.1 1110.2 L326.1 1106.8 L328.4 1106.8 L328.4 1100.7 L330.7 1100.7 L330.7 1097.1 L333.1 1097.1 L333.1 1092.6 L335.4 1092.6 L335.4 1086.8 L337.7 1086.8 L337.7 1085.7 L340.1 1085.7 L340.1 1079.5 L342.4 1079.5 L342.4 1072.9 L344.8 1072.9 L344.8 1069.5 L347.1 1069.5 L347.1 1065.1 L349.4 1065.1 L349.4 1058.9 L351.8 1058.9 L351.8 1054.5 L354.1 1054.5 L354.1 1050.9 L356.4 1050.9 L356.4 1045.3 L358.8 1045.3 L358.8 1042.5 L361.1 1042.5 L361.1 1036.9 L363.4 1036.9 L363.4 1032.8 L365.8 1032.8 L365.8 1031.4 L368.1 1031.4 L368.1 1024.4 L370.5 1024.4 L370.5 1024.1 L372.8 1024.1 L372.8 1024.1 L375.1 1024.1 L375.1 1024.1 L377.5 1024.1 L377.5 1024.1 L379.8 1024.1 L379.8 1024.4 L382.1 1024.4 L382.1 1024.1 L384.5 1024.1 L384.5 1023.9 L386.8 1023.9 L386.8 1023.9 L389.1 1023.9 L389.1 1024.1 L391.5 1024.1 L391.5 1024.1 L393.8 1024.1 L393.8 1024.1 L396.1 1024.1 L396.1 1023.9 L398.5 1023.9 L398.5 1030.5 L400.8 1030.5 L400.8 1032.8 L403.2 1032.8 L403.2 1037.8 L405.5 1037.8 L405.5 1045.3 L407.8 1045.3 L407.8 1052.3 L410.2 1052.3 L410.2 1060.6 L412.5 1060.6 L412.5 1087.3 L414.8 1087.3 L414.8 1097.6 L417.2 1097.6 L417.2 1106.8 L419.5 1106.8 L419.5 1115.2 L421.8 1115.2 L421.8 1114.6 L424.2 1114.6 L424.2 1114.3 L426.5 1114.3 L426.5 1114.6 L428.8 1114.6 L428.8 1119.9 L431.2 1119.9 L431.2 1143.3 L433.5 1143.3 L433.5 1159.4 L435.9 1159.4 L435.9 1165.8 L438.2 1165.8 L438.2 1166.1 L440.5 1166.1 L440.5 1164.2 L442.9 1164.2 L442.9 1165.3 L445.2 1165.3 L445.2 1166.1 L447.5 1166.1 L447.5 1165.3 L449.9 1165.3 L449.9 1164.5 L452.2 1164.5 L452.2 1165.8 L454.5 1165.8 L454.5 1165.8 L456.9 1165.8 L456.9 1166.1 L459.2 1166.1 L459.2 1167 L461.5 1167 L461.5 1167 L463.9 1167 L463.9 1167 L466.2 1167 L466.2 1167.2 L468.6 1167.2 L468.6 1166.7 L470.9 1166.7 L470.9 1165.8 L473.2 1165.8 L473.2 1164.7 L475.6 1164.7 L475.6 1164.7 L477.9 1164.7 L477.9 1165.3 L480.2 1165.3 L480.2 1165.3 L482.6 1165.3 L482.6 1165 L484.9 1165 L484.9 1165 L487.2 1165 L487.2 1165 L489.6 1165 L489.6 1165 L491.9 1165 L491.9 1165.3 L494.3 1165.3 L494.3 1165.6 L496.6 1165.6 L496.6 1165.8 L498.9 1165.8 L498.9 1166.4 L501.3 1166.4 L501.3 1167.5 L503.6 1167.5 L503.6 1167.8 L505.9 1167.8 L505.9 1167.8 L508.3 1167.8 L508.3 1168.4 L510.6 1168.4 L510.6 1167.5 L512.9 1167.5 L512.9 1168.1 L515.3 1168.1 L515.3 1168.4 L517.6 1168.4 L517.6 1168.1 L519.9 1168.1 L519.9 1168.4 L522.3 1168.4 L522.3 1168.1 L524.6 1168.1 L524.6 1167.5 L527 1167.5 L527 1166.7 L529.3 1166.7 L529.3 1166.4 L531.6 1166.4 L531.6 1165.8 L534 1165.8 L534 1165.8 L536.3 1165.8 L536.3 1165.8 L538.6 1165.8 L538.6 1166.7 L541 1166.7 L541 1166.4 L543.3 1166.4 L543.3 1165.8 L545.6 1165.8 L545.6 1165.8 L548 1165.8 L548 1165.8 L550.3 1165.8 L550.3 1166.4 L552.6 1166.4 L552.6 1166.1 L555 1166.1 L555 1166.4 L557.3 1166.4 L557.3 1166.1 L559.7 1166.1 L559.7 1167.2 L562 1167.2 L562 1167.8 L564.3 1167.8 L564.3 1167.8 L566.7 1167.8 L566.7 1168.1 L569 1168.1 L569 1168.1 L571.3 1168.1 L571.3 1167.8 L573.7 1167.8 L573.7 1168.1 L576 1168.1 L576 1167.8 L578.3 1167.8 L578.3 1168.4 L580.7 1168.4 L580.7 1168.4 L583 1168.4 L583 1168.1 L585.3 1168.1 L585.3 1167.8 L587.7 1167.8 L587.7 1167.8 L590 1167.8 L590 1167.5 L592.4 1167.5 L592.4 1167.8 L594.7 1167.8 L594.7 1167.8 L597 1167.8 L597 1167.8 L599.4 1167.8 L599.4 1167.8 L601.7 1167.8 L601.7 1167.8 L604 1167.8 L604 1167 L606.4 1167 L606.4 1167.2 L608.7 1167.2 L608.7 1167.2 L611 1167.2 L611 1167.2 L613.4 1167.2 L613.4 1167 L615.7 1167 L615.7 1167 L618 1167 L618 1166.7 L620.4 1166.7 L620.4 1166.7 L622.7 1166.7 L622.7 1166.4 L625.1 1166.4 L625.1 1166.4 L627.4 1166.4 L627.4 1167 L629.7 1167 L629.7 1167 L632.1 1167 L632.1 1163.6 L634.4 1163.6 L634.4 1160.8 L636.7 1160.8 L636.7 1159.7 L639.1 1159.7 L639.1 1160.3 L641.4 1160.3 L641.4 1160 L643.7 1160 L643.7 1160 L646.1 1160 L646.1 1159.7 L648.4 1159.7 L648.4 1159.4 L650.8 1159.4 L650.8 1159.2 L653.1 1159.2 L653.1 1159.2 L655.4 1159.2 L655.4 1159.2 L657.8 1159.2 L657.8 1158.9 L660.1 1158.9 L660.1 1155.3 L662.4 1155.3 L662.4 1152.2 L664.8 1152.2 L664.8 1151.9 L667.1 1151.9 L667.1 1148.3 L669.4 1148.3 L669.4 1145.2 L671.8 1145.2 L671.8 1145 L674.1 1145 L674.1 1141.3 L676.4 1141.3 L676.4 1138.3 L678.8 1138.3 L678.8 1138 L681.1 1138 L681.1 1138.3 L683.5 1138.3 L683.5 1138.3 L685.8 1138.3 L685.8 1138 L688.1 1138 L688.1 1134.1 L690.5 1134.1 L690.5 1131 L692.8 1131 L692.8 1130.8 L695.1 1130.8 L695.1 1128.3 L697.5 1128.3 L697.5 1123.3 L699.8 1123.3 L699.8 1123 L702.1 1123 L702.1 1119.6 L704.5 1119.6 L704.5 1117.1 L706.8 1117.1 L706.8 1117.1 L709.1 1117.1 L709.1 1116 L711.5 1116 L711.5 1109.3 L713.8 1109.3 L713.8 1109.1 L716.2 1109.1 L716.2 1107.1 L718.5 1107.1 L718.5 1103.5 L720.8 1103.5 L720.8 1103.5 L723.2 1103.5 L723.2 1103.2 L725.5 1103.2 L725.5 1102.9 L727.8 1102.9 L727.8 1103.8 L730.2 1103.8 L730.2 1104 L732.5 1104 L732.5 1103.5 L734.8 1103.5 L734.8 1111 L737.2 1111 L737.2 1113.5 L739.5 1113.5 L739.5 1119.4 L741.8 1119.4 L741.8 1127.1 L744.2 1127.1 L744.2 1127.1 L746.5 1127.1 L746.5 1127.1 L748.9 1127.1 L748.9 1126.3 L751.2 1126.3 L751.2 1152.2 L753.5 1152.2 L753.5 1168.9 L755.9 1168.9 L755.9 1168.9 L758.2 1168.9 L758.2 1168.1 L760.5 1168.1 L760.5 1167.8 L762.9 1167.8 L762.9 1167.5 L765.2 1167.5 L765.2 1167.8 L767.5 1167.8 L767.5 1167.8 L769.9 1167.8 L769.9 1167.8 L772.2 1167.8 L772.2 1167.8 L774.5 1167.8 L774.5 1167.8 L776.9 1167.8 L776.9 1168.1 L779.2 1168.1 L779.2 1168.4 L781.6 1168.4 L781.6 1168.4 L783.9 1168.4 L783.9 1168.6 L786.2 1168.6 L786.2 1168.1 L788.6 1168.1 L788.6 1167.5 L790.9 1167.5 L790.9 1167.8 L793.2 1167.8 L793.2 1168.1 L795.6 1168.1 L795.6 1168.1 L797.9 1168.1 L797.9 1168.1 L800.2 1168.1 L800.2 1168.1 L802.6 1168.1 L802.6 1168.1 L804.9 1168.1 L804.9 1168.1 L807.3 1168.1 L807.3 1164.7 L809.6 1164.7 L809.6 1161.1 L811.9 1161.1 L811.9 1148.9 L814.3 1148.9 L814.3 1136.6 L816.6 1136.6 L816.6 1123.5 L818.9 1123.5 L818.9 1105.4 L821.3 1105.4 L821.3 1099 L823.6 1099 L823.6 1084.6 L825.9 1084.6 L825.9 1065.1 L828.3 1065.1 L828.3 1056.2 L830.6 1056.2 L830.6 1049.8 L832.9 1049.8 L832.9 1043.1 L835.3 1043.1 L835.3 1040.8 L837.6 1040.8 L837.6 1035.8 L840 1035.8 L840 1029.4 L842.3 1029.4 L842.3 1028.9 L844.6 1028.9 L844.6 1027.8 L847 1027.8 L847 1021.9 L849.3 1021.9 L849.3 1021.9 L851.6 1021.9 L851.6 1021.9 L854 1021.9 L854 1021.9 L856.3 1021.9 L856.3 1021.9 L858.6 1021.9 L858.6 1021.9 L861 1021.9 L861 1021.9 L863.3 1021.9 L863.3 1021.9 L865.6 1021.9 L865.6 1021.9 L868 1021.9 L868 1021.9 L870.3 1021.9 L870.3 1021.9 L872.7 1021.9 L872.7 1021.9 L875 1021.9 L875 1021.9 L877.3 1021.9 L877.3 1027.5 L879.7 1027.5 L879.7 1035.8 L882 1035.8 L882 1041.1 L884.3 1041.1 L884.3 1045.6 L886.7 1045.6 L886.7 1049.8 L889 1049.8 L889 1049.8 L891.3 1049.8 L891.3 1049.8 L893.7 1049.8 L893.7 1049.8 L896 1049.8 L896 1049.8 L898.3 1049.8 L898.3 1049.8 L900.7 1049.8 L900.7 1049.8 L903 1049.8 L903 1049.8 L905.4 1049.8 L905.4 1052.8 L907.7 1052.8 L907.7 1056.4 L910 1056.4 L910 1062.3 L912.4 1062.3 L912.4 1069 L914.7 1069 L914.7 1069 L917 1069 L917 1069 L919.4 1069 L919.4 1069 L921.7 1069 L921.7 1069 L922.7 1069 L922.7 1170.3 L73.8 1170.3 Z" fill="url(#fg)"/>
<line x1="60" x2="954" y1="1170.3" y2="1170.3" stroke="#e6e8ea" stroke-width="1.5"/>
<path d="M73.8 1015.5 L76.1 1015.5 L76.1 1025 L78.5 1025 L78.5 1022.5 L80.8 1022.5 L80.8 1025 L83.1 1025 L83.1 1024.4 L85.5 1024.4 L85.5 1023.6 L87.8 1023.6 L87.8 1020 L90.2 1020 L90.2 1025 L92.5 1025 L92.5 1022.7 L94.8 1022.7 L94.8 1024.4 L97.2 1024.4 L97.2 1022.5 L99.5 1022.5 L99.5 1023 L101.8 1023 L101.8 1024.1 L104.2 1024.1 L104.2 1025.8 L106.5 1025.8 L106.5 1020.2 L108.8 1020.2 L108.8 1016.9 L111.2 1016.9 L111.2 1017.2 L113.5 1017.2 L113.5 1015.5 L115.8 1015.5 L115.8 1016.6 L118.2 1016.6 L118.2 1016.1 L120.5 1016.1 L120.5 1016.1 L122.9 1016.1 L122.9 1017.2 L125.2 1017.2 L125.2 1016.6 L127.5 1016.6 L127.5 1017.2 L129.9 1017.2 L129.9 1015.5 L132.2 1015.5 L132.2 1016.9 L134.5 1016.9 L134.5 1017.5 L136.9 1017.5 L136.9 1018.6 L139.2 1018.6 L139.2 1017.5 L141.5 1017.5 L141.5 1015.5 L143.9 1015.5 L143.9 1016.1 L146.2 1016.1 L146.2 1015.8 L148.5 1015.8 L148.5 1016.9 L150.9 1016.9 L150.9 1029.2 L153.2 1029.2 L153.2 1035.8 L155.6 1035.8 L155.6 1040 L157.9 1040 L157.9 1041.4 L160.2 1041.4 L160.2 1037.8 L162.6 1037.8 L162.6 1036.4 L164.9 1036.4 L164.9 1038.3 L167.2 1038.3 L167.2 1038.3 L169.6 1038.3 L169.6 1037.8 L171.9 1037.8 L171.9 1031.4 L174.2 1031.4 L174.2 1029.2 L176.6 1029.2 L176.6 1025 L178.9 1025 L178.9 1025.5 L181.2 1025.5 L181.2 1019.4 L183.6 1019.4 L183.6 1022.7 L185.9 1022.7 L185.9 1018.6 L188.3 1018.6 L188.3 1010.8 L190.6 1010.8 L190.6 1007.4 L192.9 1007.4 L192.9 1002.7 L195.3 1002.7 L195.3 995.7 L197.6 995.7 L197.6 988.5 L199.9 988.5 L199.9 988.2 L202.3 988.2 L202.3 989.3 L204.6 989.3 L204.6 988.8 L206.9 988.8 L206.9 989.1 L209.3 989.1 L209.3 989.1 L211.6 989.1 L211.6 992.1 L213.9 992.1 L213.9 1003.8 L216.3 1003.8 L216.3 1017.5 L218.6 1017.5 L218.6 1022.5 L221 1022.5 L221 1036.7 L223.3 1036.7 L223.3 1053.1 L225.6 1053.1 L225.6 1059.8 L228 1059.8 L228 1065.3 L230.3 1065.3 L230.3 1068.7 L232.6 1068.7 L232.6 1084.8 L235 1084.8 L235 1101 L237.3 1101 L237.3 1112.1 L239.6 1112.1 L239.6 1119.6 L242 1119.6 L242 1122.1 L244.3 1122.1 L244.3 1121.9 L246.7 1121.9 L246.7 1122.1 L249 1122.1 L249 1121.6 L251.3 1121.6 L251.3 1121.6 L253.7 1121.6 L253.7 1121.6 L256 1121.6 L256 1122.1 L258.3 1122.1 L258.3 1121.9 L260.7 1121.9 L260.7 1121.6 L263 1121.6 L263 1121.6 L265.3 1121.6 L265.3 1133 L267.7 1133 L267.7 1135.8 L270 1135.8 L270 1135.8 L272.3 1135.8 L272.3 1135.2 L274.7 1135.2 L274.7 1135.5 L277 1135.5 L277 1135.2 L279.4 1135.2 L279.4 1135.2 L281.7 1135.2 L281.7 1136.3 L284 1136.3 L284 1142.2 L286.4 1142.2 L286.4 1141.6 L288.7 1141.6 L288.7 1142.2 L291 1142.2 L291 1142.2 L293.4 1142.2 L293.4 1142.5 L295.7 1142.5 L295.7 1143 L298 1143 L298 1142.5 L300.4 1142.5 L300.4 1142.2 L302.7 1142.2 L302.7 1142.5 L305 1142.5 L305 1142.5 L307.4 1142.5 L307.4 1142.5 L309.7 1142.5 L309.7 1141.6 L312.1 1141.6 L312.1 1135.2 L314.4 1135.2 L314.4 1130.5 L316.7 1130.5 L316.7 1125.5 L319.1 1125.5 L319.1 1121.3 L321.4 1121.3 L321.4 1116.6 L323.7 1116.6 L323.7 1110.2 L326.1 1110.2 L326.1 1106.8 L328.4 1106.8 L328.4 1100.7 L330.7 1100.7 L330.7 1097.1 L333.1 1097.1 L333.1 1092.6 L335.4 1092.6 L335.4 1086.8 L337.7 1086.8 L337.7 1085.7 L340.1 1085.7 L340.1 1079.5 L342.4 1079.5 L342.4 1072.9 L344.8 1072.9 L344.8 1069.5 L347.1 1069.5 L347.1 1065.1 L349.4 1065.1 L349.4 1058.9 L351.8 1058.9 L351.8 1054.5 L354.1 1054.5 L354.1 1050.9 L356.4 1050.9 L356.4 1045.3 L358.8 1045.3 L358.8 1042.5 L361.1 1042.5 L361.1 1036.9 L363.4 1036.9 L363.4 1032.8 L365.8 1032.8 L365.8 1031.4 L368.1 1031.4 L368.1 1024.4 L370.5 1024.4 L370.5 1024.1 L372.8 1024.1 L372.8 1024.1 L375.1 1024.1 L375.1 1024.1 L377.5 1024.1 L377.5 1024.1 L379.8 1024.1 L379.8 1024.4 L382.1 1024.4 L382.1 1024.1 L384.5 1024.1 L384.5 1023.9 L386.8 1023.9 L386.8 1023.9 L389.1 1023.9 L389.1 1024.1 L391.5 1024.1 L391.5 1024.1 L393.8 1024.1 L393.8 1024.1 L396.1 1024.1 L396.1 1023.9 L398.5 1023.9 L398.5 1030.5 L400.8 1030.5 L400.8 1032.8 L403.2 1032.8 L403.2 1037.8 L405.5 1037.8 L405.5 1045.3 L407.8 1045.3 L407.8 1052.3 L410.2 1052.3 L410.2 1060.6 L412.5 1060.6 L412.5 1087.3 L414.8 1087.3 L414.8 1097.6 L417.2 1097.6 L417.2 1106.8 L419.5 1106.8 L419.5 1115.2 L421.8 1115.2 L421.8 1114.6 L424.2 1114.6 L424.2 1114.3 L426.5 1114.3 L426.5 1114.6 L428.8 1114.6 L428.8 1119.9 L431.2 1119.9 L431.2 1143.3 L433.5 1143.3 L433.5 1159.4 L435.9 1159.4 L435.9 1165.8 L438.2 1165.8 L438.2 1166.1 L440.5 1166.1 L440.5 1164.2 L442.9 1164.2 L442.9 1165.3 L445.2 1165.3 L445.2 1166.1 L447.5 1166.1 L447.5 1165.3 L449.9 1165.3 L449.9 1164.5 L452.2 1164.5 L452.2 1165.8 L454.5 1165.8 L454.5 1165.8 L456.9 1165.8 L456.9 1166.1 L459.2 1166.1 L459.2 1167 L461.5 1167 L461.5 1167 L463.9 1167 L463.9 1167 L466.2 1167 L466.2 1167.2 L468.6 1167.2 L468.6 1166.7 L470.9 1166.7 L470.9 1165.8 L473.2 1165.8 L473.2 1164.7 L475.6 1164.7 L475.6 1164.7 L477.9 1164.7 L477.9 1165.3 L480.2 1165.3 L480.2 1165.3 L482.6 1165.3 L482.6 1165 L484.9 1165 L484.9 1165 L487.2 1165 L487.2 1165 L489.6 1165 L489.6 1165 L491.9 1165 L491.9 1165.3 L494.3 1165.3 L494.3 1165.6 L496.6 1165.6 L496.6 1165.8 L498.9 1165.8 L498.9 1166.4 L501.3 1166.4 L501.3 1167.5 L503.6 1167.5 L503.6 1167.8 L505.9 1167.8 L505.9 1167.8 L508.3 1167.8 L508.3 1168.4 L510.6 1168.4 L510.6 1167.5 L512.9 1167.5 L512.9 1168.1 L515.3 1168.1 L515.3 1168.4 L517.6 1168.4 L517.6 1168.1 L519.9 1168.1 L519.9 1168.4 L522.3 1168.4 L522.3 1168.1 L524.6 1168.1 L524.6 1167.5 L527 1167.5 L527 1166.7 L529.3 1166.7 L529.3 1166.4 L531.6 1166.4 L531.6 1165.8 L534 1165.8 L534 1165.8 L536.3 1165.8 L536.3 1165.8 L538.6 1165.8 L538.6 1166.7 L541 1166.7 L541 1166.4 L543.3 1166.4 L543.3 1165.8 L545.6 1165.8 L545.6 1165.8 L548 1165.8 L548 1165.8 L550.3 1165.8 L550.3 1166.4 L552.6 1166.4 L552.6 1166.1 L555 1166.1 L555 1166.4 L557.3 1166.4 L557.3 1166.1 L559.7 1166.1 L559.7 1167.2 L562 1167.2 L562 1167.8 L564.3 1167.8 L564.3 1167.8 L566.7 1167.8 L566.7 1168.1 L569 1168.1 L569 1168.1 L571.3 1168.1 L571.3 1167.8 L573.7 1167.8 L573.7 1168.1 L576 1168.1 L576 1167.8 L578.3 1167.8 L578.3 1168.4 L580.7 1168.4 L580.7 1168.4 L583 1168.4 L583 1168.1 L585.3 1168.1 L585.3 1167.8 L587.7 1167.8 L587.7 1167.8 L590 1167.8 L590 1167.5 L592.4 1167.5 L592.4 1167.8 L594.7 1167.8 L594.7 1167.8 L597 1167.8 L597 1167.8 L599.4 1167.8 L599.4 1167.8 L601.7 1167.8 L601.7 1167.8 L604 1167.8 L604 1167 L606.4 1167 L606.4 1167.2 L608.7 1167.2 L608.7 1167.2 L611 1167.2 L611 1167.2 L613.4 1167.2 L613.4 1167 L615.7 1167 L615.7 1167 L618 1167 L618 1166.7 L620.4 1166.7 L620.4 1166.7 L622.7 1166.7 L622.7 1166.4 L625.1 1166.4 L625.1 1166.4 L627.4 1166.4 L627.4 1167 L629.7 1167 L629.7 1167 L632.1 1167 L632.1 1163.6 L634.4 1163.6 L634.4 1160.8 L636.7 1160.8 L636.7 1159.7 L639.1 1159.7 L639.1 1160.3 L641.4 1160.3 L641.4 1160 L643.7 1160 L643.7 1160 L646.1 1160 L646.1 1159.7 L648.4 1159.7 L648.4 1159.4 L650.8 1159.4 L650.8 1159.2 L653.1 1159.2 L653.1 1159.2 L655.4 1159.2 L655.4 1159.2 L657.8 1159.2 L657.8 1158.9 L660.1 1158.9 L660.1 1155.3 L662.4 1155.3 L662.4 1152.2 L664.8 1152.2 L664.8 1151.9 L667.1 1151.9 L667.1 1148.3 L669.4 1148.3 L669.4 1145.2 L671.8 1145.2 L671.8 1145 L674.1 1145 L674.1 1141.3 L676.4 1141.3 L676.4 1138.3 L678.8 1138.3 L678.8 1138 L681.1 1138 L681.1 1138.3 L683.5 1138.3 L683.5 1138.3 L685.8 1138.3 L685.8 1138 L688.1 1138 L688.1 1134.1 L690.5 1134.1 L690.5 1131 L692.8 1131 L692.8 1130.8 L695.1 1130.8 L695.1 1128.3 L697.5 1128.3 L697.5 1123.3 L699.8 1123.3 L699.8 1123 L702.1 1123 L702.1 1119.6 L704.5 1119.6 L704.5 1117.1 L706.8 1117.1 L706.8 1117.1 L709.1 1117.1 L709.1 1116 L711.5 1116 L711.5 1109.3 L713.8 1109.3 L713.8 1109.1 L716.2 1109.1 L716.2 1107.1 L718.5 1107.1 L718.5 1103.5 L720.8 1103.5 L720.8 1103.5 L723.2 1103.5 L723.2 1103.2 L725.5 1103.2 L725.5 1102.9 L727.8 1102.9 L727.8 1103.8 L730.2 1103.8 L730.2 1104 L732.5 1104 L732.5 1103.5 L734.8 1103.5 L734.8 1111 L737.2 1111 L737.2 1113.5 L739.5 1113.5 L739.5 1119.4 L741.8 1119.4 L741.8 1127.1 L744.2 1127.1 L744.2 1127.1 L746.5 1127.1 L746.5 1127.1 L748.9 1127.1 L748.9 1126.3 L751.2 1126.3 L751.2 1152.2 L753.5 1152.2 L753.5 1168.9 L755.9 1168.9 L755.9 1168.9 L758.2 1168.9 L758.2 1168.1 L760.5 1168.1 L760.5 1167.8 L762.9 1167.8 L762.9 1167.5 L765.2 1167.5 L765.2 1167.8 L767.5 1167.8 L767.5 1167.8 L769.9 1167.8 L769.9 1167.8 L772.2 1167.8 L772.2 1167.8 L774.5 1167.8 L774.5 1167.8 L776.9 1167.8 L776.9 1168.1 L779.2 1168.1 L779.2 1168.4 L781.6 1168.4 L781.6 1168.4 L783.9 1168.4 L783.9 1168.6 L786.2 1168.6 L786.2 1168.1 L788.6 1168.1 L788.6 1167.5 L790.9 1167.5 L790.9 1167.8 L793.2 1167.8 L793.2 1168.1 L795.6 1168.1 L795.6 1168.1 L797.9 1168.1 L797.9 1168.1 L800.2 1168.1 L800.2 1168.1 L802.6 1168.1 L802.6 1168.1 L804.9 1168.1 L804.9 1168.1 L807.3 1168.1 L807.3 1164.7 L809.6 1164.7 L809.6 1161.1 L811.9 1161.1 L811.9 1148.9 L814.3 1148.9 L814.3 1136.6 L816.6 1136.6 L816.6 1123.5 L818.9 1123.5 L818.9 1105.4 L821.3 1105.4 L821.3 1099 L823.6 1099 L823.6 1084.6 L825.9 1084.6 L825.9 1065.1 L828.3 1065.1 L828.3 1056.2 L830.6 1056.2 L830.6 1049.8 L832.9 1049.8 L832.9 1043.1 L835.3 1043.1 L835.3 1040.8 L837.6 1040.8 L837.6 1035.8 L840 1035.8 L840 1029.4 L842.3 1029.4 L842.3 1028.9 L844.6 1028.9 L844.6 1027.8 L847 1027.8 L847 1021.9 L849.3 1021.9 L849.3 1021.9 L851.6 1021.9 L851.6 1021.9 L854 1021.9 L854 1021.9 L856.3 1021.9 L856.3 1021.9 L858.6 1021.9 L858.6 1021.9 L861 1021.9 L861 1021.9 L863.3 1021.9 L863.3 1021.9 L865.6 1021.9 L865.6 1021.9 L868 1021.9 L868 1021.9 L870.3 1021.9 L870.3 1021.9 L872.7 1021.9 L872.7 1021.9 L875 1021.9 L875 1021.9 L877.3 1021.9 L877.3 1027.5 L879.7 1027.5 L879.7 1035.8 L882 1035.8 L882 1041.1 L884.3 1041.1 L884.3 1045.6 L886.7 1045.6 L886.7 1049.8 L889 1049.8 L889 1049.8 L891.3 1049.8 L891.3 1049.8 L893.7 1049.8 L893.7 1049.8 L896 1049.8 L896 1049.8 L898.3 1049.8 L898.3 1049.8 L900.7 1049.8 L900.7 1049.8 L903 1049.8 L903 1049.8 L905.4 1049.8 L905.4 1052.8 L907.7 1052.8 L907.7 1056.4 L910 1056.4 L910 1062.3 L912.4 1062.3 L912.4 1069 L914.7 1069 L914.7 1069 L917 1069 L917 1069 L919.4 1069 L919.4 1069 L921.7 1069 L921.7 1069 L922.7 1069" fill="none" stroke="#62686d" stroke-width="2.3" stroke-linejoin="round"/>
<rect x="913.2" y="144.5" width="2.6" height="1026" fill="#9fb4c4"/>
<line x1="73.8" x2="73.8" y1="1178" y2="1183.5" stroke="#555" stroke-width="1.5"/>
<text x="73.8" y="1202" font-size="19" fill="#35383b" text-anchor="middle">1996</text>
<line x1="129.9" x2="129.9" y1="1178" y2="1183.5" stroke="#555" stroke-width="1.5"/>
<text x="129.9" y="1202" font-size="19" fill="#35383b" text-anchor="middle">1998</text>
<line x1="185.9" x2="185.9" y1="1178" y2="1183.5" stroke="#555" stroke-width="1.5"/>
<text x="185.9" y="1202" font-size="19" fill="#35383b" text-anchor="middle">2000</text>
<line x1="242.0" x2="242.0" y1="1178" y2="1183.5" stroke="#555" stroke-width="1.5"/>
<text x="242.0" y="1202" font-size="19" fill="#35383b" text-anchor="middle">2002</text>
<line x1="298.0" x2="298.0" y1="1178" y2="1183.5" stroke="#555" stroke-width="1.5"/>
<text x="298.0" y="1202" font-size="19" fill="#35383b" text-anchor="middle">2004</text>
<line x1="354.1" x2="354.1" y1="1178" y2="1183.5" stroke="#555" stroke-width="1.5"/>
<text x="354.1" y="1202" font-size="19" fill="#35383b" text-anchor="middle">2006</text>
<line x1="410.2" x2="410.2" y1="1178" y2="1183.5" stroke="#555" stroke-width="1.5"/>
<text x="410.2" y="1202" font-size="19" fill="#35383b" text-anchor="middle">2008</text>
<line x1="466.2" x2="466.2" y1="1178" y2="1183.5" stroke="#555" stroke-width="1.5"/>
<text x="466.2" y="1202" font-size="19" fill="#35383b" text-anchor="middle">2010</text>
<line x1="522.3" x2="522.3" y1="1178" y2="1183.5" stroke="#555" stroke-width="1.5"/>
<text x="522.3" y="1202" font-size="19" fill="#35383b" text-anchor="middle">2012</text>
<line x1="578.3" x2="578.3" y1="1178" y2="1183.5" stroke="#555" stroke-width="1.5"/>
<text x="578.3" y="1202" font-size="19" fill="#35383b" text-anchor="middle">2014</text>
<line x1="634.4" x2="634.4" y1="1178" y2="1183.5" stroke="#555" stroke-width="1.5"/>
<text x="634.4" y="1202" font-size="19" fill="#35383b" text-anchor="middle">2016</text>
<line x1="690.5" x2="690.5" y1="1178" y2="1183.5" stroke="#555" stroke-width="1.5"/>
<text x="690.5" y="1202" font-size="19" fill="#35383b" text-anchor="middle">2018</text>
<line x1="746.5" x2="746.5" y1="1178" y2="1183.5" stroke="#555" stroke-width="1.5"/>
<text x="746.5" y="1202" font-size="19" fill="#35383b" text-anchor="middle">2020</text>
<line x1="802.6" x2="802.6" y1="1178" y2="1183.5" stroke="#555" stroke-width="1.5"/>
<text x="802.6" y="1202" font-size="19" fill="#35383b" text-anchor="middle">2022</text>
<line x1="858.6" x2="858.6" y1="1178" y2="1183.5" stroke="#555" stroke-width="1.5"/>
<text x="858.6" y="1202" font-size="19" fill="#35383b" text-anchor="middle">2024</text>
<line x1="914.7" x2="914.7" y1="1178" y2="1183.5" stroke="#555" stroke-width="1.5"/>
<text x="914.7" y="1202" font-size="19" fill="#35383b" text-anchor="middle">2026</text>
<text x="962.5" y="209.5" font-size="18" fill="#3a3d40">7,500</text>
<text x="962.5" y="269.3" font-size="18" fill="#3a3d40">5,000</text>
<text x="962.5" y="344.7" font-size="18" fill="#3a3d40">3,000</text>
<text x="962.5" y="404.5" font-size="18" fill="#3a3d40">2,000</text>
<text x="962.5" y="506.7" font-size="18" fill="#3a3d40">1,000</text>
<text x="962.5" y="582.0" font-size="18" fill="#3a3d40">600</text>
<text x="962.5" y="675.2" font-size="18" fill="#3a3d40">3.0</text>
<text x="962.5" y="734.7" font-size="18" fill="#3a3d40">2.0</text>
<text x="962.5" y="794.2" font-size="18" fill="#3a3d40">1.0</text>
<text x="962.5" y="853.7" font-size="18" fill="#3a3d40">0.0</text>
<text x="962.5" y="913.2" font-size="18" fill="#3a3d40">-1.0</text>
<text x="962.5" y="1176.8" font-size="18" fill="#3a3d40">0</text>
<text x="962.5" y="1149.0" font-size="18" fill="#3a3d40">1</text>
<text x="962.5" y="1121.1" font-size="18" fill="#3a3d40">2</text>
<text x="962.5" y="1093.3" font-size="18" fill="#3a3d40">3</text>
<text x="962.5" y="1065.4" font-size="18" fill="#3a3d40">4</text>
<text x="962.5" y="1037.6" font-size="18" fill="#3a3d40">5</text>
<text x="962.5" y="1009.8" font-size="18" fill="#3a3d40">6</text>
<text x="962.5" y="981.9" font-size="18" fill="#3a3d40">7</text>
<text x="86.36" y="114.60" font-size="89" font-weight="bold" fill="#13171c" textLength="294.18" lengthAdjust="spacingAndGlyphs">Market</text>
<text x="399.89" y="114.60" font-size="89" font-weight="bold" fill="#13171c" textLength="252.08" lengthAdjust="spacingAndGlyphs">Crash</text>
<text x="669.80" y="114.60" font-size="89" font-weight="bold" fill="#13171c" textLength="310.90" lengthAdjust="spacingAndGlyphs">Pattern</text>
<text x="223.78" y="188.80" font-size="20" font-weight="bold" fill="#1d2228" textLength="147.63" lengthAdjust="spacingAndGlyphs">Dot-com Crash</text>
<text x="421.77" y="188.30" font-size="20" font-weight="bold" fill="#1d2228" textLength="203.14" lengthAdjust="spacingAndGlyphs">2008 Financial Crisis</text>
<text x="757.70" y="188.00" font-size="20" font-weight="bold" fill="#1d2228" textLength="95.40" lengthAdjust="spacingAndGlyphs">Pandemic</text>
<text x="60.72" y="253.80" font-size="38.5" font-weight="bold" fill="#de7638" textLength="150.56" lengthAdjust="spacingAndGlyphs">S&amp;P 500</text>
<text x="60.74" y="670.80" font-size="38.5" font-weight="bold" fill="#55a274" textLength="202.82" lengthAdjust="spacingAndGlyphs">Yield Curve</text>
<text x="60.30" y="974.00" font-size="38.5" font-weight="bold" fill="#555d65" textLength="151.08" lengthAdjust="spacingAndGlyphs">Fed Rate</text>
<rect x="203.0" y="547.1" width="116.0" height="48.2" fill="#fff" fill-opacity="0.88" stroke="#dcdfe2" stroke-width="2.2"/>
<text x="215.15" y="581.30" font-size="27" font-weight="bold" fill="#df773a" textLength="90.46" lengthAdjust="spacingAndGlyphs">-49.1%</text>
<rect x="380.4" y="564.8" width="120.6" height="47.6" fill="#fff" fill-opacity="0.88" stroke="#dcdfe2" stroke-width="2.2"/>
<text x="392.99" y="599.00" font-size="27" font-weight="bold" fill="#df773a" textLength="94.63" lengthAdjust="spacingAndGlyphs">-56.8%</text>
<rect x="690.2" y="395.6" width="123.4" height="48.0" fill="#fff" fill-opacity="0.88" stroke="#dcdfe2" stroke-width="2.2"/>
<text x="702.30" y="429.50" font-size="27.5" font-weight="bold" fill="#df773a" textLength="97.28" lengthAdjust="spacingAndGlyphs">-33.9%</text>
<path d="M213.6 875.4 L254.7 834.7 M254.6 845.7 L254.7 834.7 L243.7 834.6" fill="none" stroke="#1a1c1e" stroke-width="2.0" stroke-linecap="butt" stroke-linejoin="miter"/>
<path d="M383.0 875.0 L424.8 835.0 M424.6 846.0 L424.8 835.0 L413.8 834.8" fill="none" stroke="#1a1c1e" stroke-width="2.0" stroke-linecap="butt" stroke-linejoin="miter"/>
<path d="M736.5 873.0 L778.0 834.0 M777.7 845.0 L778.0 834.0 L767.0 833.7" fill="none" stroke="#1a1c1e" stroke-width="2.0" stroke-linecap="butt" stroke-linejoin="miter"/>
<path d="M858.0 905.0 L901.0 864.8 M900.6 875.8 L901.0 864.8 L890.0 864.4" fill="none" stroke="#1a1c1e" stroke-width="2.0" stroke-linecap="butt" stroke-linejoin="miter"/>
<path d="M238.5 1032.0 L271.4 1079.5 M260.6 1077.5 L271.4 1079.5 L273.4 1068.7" fill="none" stroke="#1a1c1e" stroke-width="2.0" stroke-linecap="butt" stroke-linejoin="miter"/>
<path d="M431.0 1067.0 L464.0 1116.0 M453.2 1113.9 L464.0 1116.0 L466.1 1105.2" fill="none" stroke="#1a1c1e" stroke-width="2.0" stroke-linecap="butt" stroke-linejoin="miter"/>
<path d="M756.0 1102.0 L789.0 1150.0 M778.2 1148.0 L789.0 1150.0 L791.0 1139.2" fill="none" stroke="#1a1c1e" stroke-width="2.0" stroke-linecap="butt" stroke-linejoin="miter"/>
<path d="M890.0 1003.7 L932.0 1044.4 M921.0 1044.6 L932.0 1044.4 L931.8 1033.4" fill="none" stroke="#1a1c1e" stroke-width="2.0" stroke-linecap="butt" stroke-linejoin="miter"/>
<text x="575.45" y="1240.00" font-size="18.5" font-weight="bold" fill="#1d2228" textLength="431.99" lengthAdjust="spacingAndGlyphs">Capital at risk. For professional investors only.</text>
<text x="470.79" y="1268.60" font-size="17.5" font-weight="normal" fill="#464a4e" textLength="534.24" lengthAdjust="spacingAndGlyphs" stroke="#464a4e" stroke-width="0.25">Sources: FRED, Federal Reserve Bank of St. Louis, Yahoo Finance,</text>
<text x="846.65" y="1289.30" font-size="17.5" font-weight="normal" fill="#464a4e" textLength="157.73" lengthAdjust="spacingAndGlyphs" stroke="#464a4e" stroke-width="0.25">as of April 13, 2026</text>
<text x="117.26" y="1267.00" font-size="32" font-weight="normal" fill="#1d2228" textLength="230.42" lengthAdjust="spacingAndGlyphs" stroke="#1d2228" stroke-width="0.6">Leverage Shares</text>
<path d="M62.5 1246.1 L62.5 1257.2 L76.5 1264.5 M67.2 1243 L67.2 1255.4 M72.6 1257.5 L72.6 1240.6 L80.9 1236 M76 1244.8 L86.1 1238.6 M76 1250 L90.3 1242.4 L99.8 1247.4 M89.5 1247.1 L99.8 1253.1 M84 1250 L98.5 1258.3 L98.5 1268.9 M93.4 1260.1 L93.4 1272 M88.7 1257 L88.7 1273.3 L80.4 1279 M74.7 1275.6 L85.1 1270.2 M61.7 1267.8 L71.1 1272.2 L85.1 1264.5 M61.7 1261.9 L72.1 1267.3" fill="none" stroke="#1a1c1e" stroke-width="2.6" stroke-linecap="butt" stroke-linejoin="miter"/>
</svg></body></html>
